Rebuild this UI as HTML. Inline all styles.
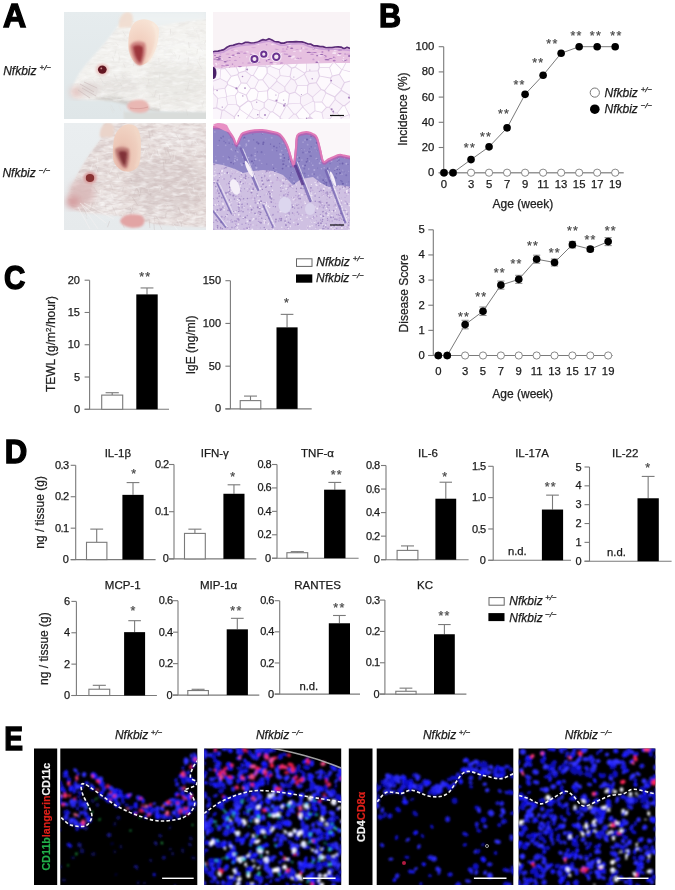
<!DOCTYPE html>
<html><head><meta charset="utf-8"><title>Figure</title>
<style>
html,body{margin:0;padding:0;background:#fff;}
body{width:675px;height:890px;overflow:hidden;position:relative;}
svg{position:absolute;left:0;top:0;display:block;}
svg text{font-family:"Liberation Sans",Arial,sans-serif;}
</style></head><body>
<svg class="c" width="675" height="890" viewBox="0 0 675 890">
<defs><linearGradient id="bg1" x1="0" y1="0" x2="0" y2="1"><stop offset="0" stop-color="#e6ecee"/><stop offset="1" stop-color="#dfe6e8"/></linearGradient><linearGradient id="bg2" x1="0" y1="0" x2="0" y2="1"><stop offset="0" stop-color="#eaeef0"/><stop offset="1" stop-color="#e6eaec"/></linearGradient><radialGradient id="ear1" cx="0.35" cy="0.7" r="0.8"><stop offset="0" stop-color="#e8aaa2"/><stop offset="0.35" stop-color="#f2d0c0"/><stop offset="1" stop-color="#f8e6d8"/></radialGradient><radialGradient id="ear2" cx="0.35" cy="0.7" r="0.8"><stop offset="0" stop-color="#dc9c96"/><stop offset="0.4" stop-color="#ecc6b6"/><stop offset="1" stop-color="#f2d8c8"/></radialGradient><filter id="bl1" x="-20%" y="-20%" width="140%" height="140%"><feGaussianBlur stdDeviation="0.8"/></filter><filter id="bl2" x="-30%" y="-30%" width="160%" height="160%"><feGaussianBlur stdDeviation="3"/></filter><filter id="bl05"><feGaussianBlur stdDeviation="0.5"/></filter><filter id="fur1" x="0" y="0" width="100%" height="100%"><feTurbulence type="fractalNoise" baseFrequency="0.09 0.3" numOctaves="3" seed="4"/><feColorMatrix type="matrix" values="0 0 0 0 0.62 0 0 0 0 0.58 0 0 0 0 0.56 2.6 0 0 0 -1.15"/><feGaussianBlur stdDeviation="0.5"/></filter><filter id="fur2" x="0" y="0" width="100%" height="100%"><feTurbulence type="fractalNoise" baseFrequency="0.1 0.28" numOctaves="3" seed="9"/><feColorMatrix type="matrix" values="0 0 0 0 0.58 0 0 0 0 0.47 0 0 0 0 0.47 2.8 0 0 0 -1.1"/><feGaussianBlur stdDeviation="0.5"/></filter><filter id="fur3" x="0" y="0" width="100%" height="100%"><feTurbulence type="fractalNoise" baseFrequency="0.12 0.3" numOctaves="2" seed="21"/><feColorMatrix type="matrix" values="0 0 0 0 1 0 0 0 0 1 0 0 0 0 1 2.6 0 0 0 -1.2"/><feGaussianBlur stdDeviation="0.4"/></filter><filter id="fb" x="-10%" y="-10%" width="120%" height="120%"><feGaussianBlur stdDeviation="0.8"/></filter></defs>
<text transform="translate(3.1,26.6) scale(0.96,1)" font-size="33.5" font-weight="bold" fill="#000" stroke="#000" stroke-width="1.4">A</text>
<text transform="translate(378.9,26.8) scale(0.91,1)" font-size="33.5" font-weight="bold" fill="#000" stroke="#000" stroke-width="1.4">B</text>
<text transform="translate(3.95,288.7) scale(0.88,1)" font-size="33.5" font-weight="bold" fill="#000" stroke="#000" stroke-width="1.4">C</text>
<text transform="translate(4.7,463.4) scale(0.93,1)" font-size="33.5" font-weight="bold" fill="#000" stroke="#000" stroke-width="1.4">D</text>
<clipPath id="cm1"><rect x="64" y="12" width="142" height="107"/></clipPath><g clip-path="url(#cm1)"><g transform="translate(64,12)"><rect x="0" y="0" width="142" height="107" fill="url(#bg1)"/><rect x="60" y="0" width="82" height="14" fill="#eef2f3" filter="url(#bl2)"/><path d="M7,81 C9,72 14,62 21,54 C28,45 38,35 48,22 C52,16 55,12 58,10 L66,8 C80,12 92,15 100,13 C115,10 130,8 144,7 L144,101 C130,101 110,100 96,99 C88,98 80,96 70,93 C60,90 48,88 36,88 C24,88 14,88 9,85 Z" fill="#f3f2ef" filter="url(#bl1)"/><ellipse cx="112" cy="70" rx="34" ry="24" fill="#e9e7e3" opacity="0.7" filter="url(#bl2)"/><ellipse cx="120" cy="40" rx="26" ry="14" fill="#f7f7f5" opacity="0.8" filter="url(#bl2)"/><path d="M30,86 C45,82 58,84 70,90 C76,92 84,95 96,97 L96,100 C80,98 66,94 52,90 C42,88 34,88 30,86 Z" fill="#c9c6c2" opacity="0.8" filter="url(#bl1)"/><ellipse cx="55" cy="74" rx="22" ry="9" fill="#e4e1de" opacity="0.8" filter="url(#bl2)"/><rect x="60" y="100" width="84" height="8" fill="#d9dcda" filter="url(#bl1)"/><clipPath id="bm1"><path d="M7,81 C9,72 14,62 21,54 C28,45 38,35 48,22 C52,16 55,12 58,10 L66,8 C80,12 92,15 100,13 C115,10 130,8 144,7 L144,101 C130,101 110,100 96,99 C88,98 80,96 70,93 C60,90 48,88 36,88 C24,88 14,88 9,85 Z"/></clipPath><g clip-path="url(#bm1)"><rect x="0" y="0" width="142" height="107" filter="url(#fur1)" opacity="0.22"/><rect x="0" y="0" width="142" height="107" filter="url(#fur3)" opacity="0.5"/></g><g stroke-width="0.8" opacity="0.3" stroke-linecap="round" filter="url(#bl05)"><line x1="92.2" y1="78.1" x2="90.2" y2="84.7" stroke="#cfcac6"/><line x1="96.1" y1="60.1" x2="95.2" y2="67.2" stroke="#d6d3cf"/><line x1="95.7" y1="91.6" x2="96.4" y2="95.1" stroke="#d6d3cf"/><line x1="60.3" y1="23.7" x2="60.0" y2="27.9" stroke="#dedbd7"/><line x1="46.9" y1="92.9" x2="50.3" y2="98.8" stroke="#d6d3cf"/><line x1="28.3" y1="67.5" x2="30.6" y2="70.3" stroke="#d6d3cf"/><line x1="139.7" y1="89.2" x2="138.3" y2="93.4" stroke="#cfcac6"/><line x1="125.6" y1="68.2" x2="124.4" y2="71.9" stroke="#d6d3cf"/><line x1="137.6" y1="91.0" x2="139.0" y2="95.2" stroke="#d6d3cf"/><line x1="133.5" y1="37.4" x2="132.8" y2="42.0" stroke="#cfcac6"/><line x1="54.6" y1="41.3" x2="56.0" y2="48.3" stroke="#dedbd7"/><line x1="34.4" y1="55.2" x2="36.0" y2="58.7" stroke="#d6d3cf"/><line x1="135.3" y1="45.4" x2="135.9" y2="50.4" stroke="#dedbd7"/><line x1="58.3" y1="64.2" x2="60.2" y2="66.6" stroke="#d6d3cf"/><line x1="92.3" y1="96.1" x2="93.9" y2="99.4" stroke="#dedbd7"/><line x1="55.5" y1="45.2" x2="54.8" y2="50.7" stroke="#d6d3cf"/><line x1="87.8" y1="81.4" x2="89.7" y2="85.9" stroke="#dedbd7"/><line x1="134.8" y1="22.8" x2="135.1" y2="27.4" stroke="#d6d3cf"/><line x1="54.9" y1="93.6" x2="57.0" y2="98.9" stroke="#dedbd7"/><line x1="50.4" y1="82.9" x2="50.1" y2="89.0" stroke="#dedbd7"/><line x1="141.6" y1="28.7" x2="140.5" y2="31.8" stroke="#cfcac6"/><line x1="131.9" y1="17.7" x2="134.1" y2="24.0" stroke="#dedbd7"/><line x1="70.1" y1="50.8" x2="69.3" y2="54.0" stroke="#d6d3cf"/><line x1="115.8" y1="43.4" x2="114.5" y2="47.2" stroke="#cfcac6"/><line x1="135.4" y1="68.6" x2="139.2" y2="74.4" stroke="#dedbd7"/><line x1="59.2" y1="20.0" x2="61.9" y2="24.3" stroke="#cfcac6"/><line x1="122.5" y1="98.0" x2="123.5" y2="103.1" stroke="#cfcac6"/><line x1="51.9" y1="38.3" x2="50.6" y2="43.5" stroke="#d6d3cf"/><line x1="59.8" y1="99.0" x2="60.1" y2="106.8" stroke="#dedbd7"/><line x1="124.5" y1="30.3" x2="125.4" y2="35.7" stroke="#cfcac6"/><line x1="124.5" y1="45.7" x2="123.7" y2="52.6" stroke="#cfcac6"/><line x1="87.5" y1="17.9" x2="88.1" y2="22.4" stroke="#cfcac6"/><line x1="47.1" y1="56.3" x2="46.9" y2="63.1" stroke="#dedbd7"/><line x1="136.3" y1="43.9" x2="135.6" y2="47.7" stroke="#dedbd7"/><line x1="82.2" y1="36.3" x2="83.5" y2="42.5" stroke="#cfcac6"/><line x1="95.5" y1="82.8" x2="95.6" y2="87.5" stroke="#cfcac6"/><line x1="133.8" y1="49.7" x2="137.5" y2="56.3" stroke="#cfcac6"/><line x1="69.4" y1="46.0" x2="71.8" y2="49.9" stroke="#d6d3cf"/><line x1="122.7" y1="39.0" x2="122.7" y2="42.4" stroke="#dedbd7"/><line x1="32.7" y1="81.3" x2="32.7" y2="87.2" stroke="#dedbd7"/><line x1="50.0" y1="62.0" x2="52.9" y2="68.7" stroke="#d6d3cf"/><line x1="35.8" y1="64.8" x2="38.8" y2="70.2" stroke="#cfcac6"/><line x1="33.8" y1="76.1" x2="31.3" y2="83.6" stroke="#d6d3cf"/><line x1="51.9" y1="30.4" x2="54.3" y2="33.6" stroke="#dedbd7"/><line x1="56.3" y1="71.3" x2="57.9" y2="74.3" stroke="#cfcac6"/><line x1="129.2" y1="15.1" x2="131.2" y2="19.7" stroke="#dedbd7"/><line x1="124.4" y1="73.6" x2="122.6" y2="79.0" stroke="#cfcac6"/><line x1="91.0" y1="23.1" x2="92.9" y2="28.5" stroke="#cfcac6"/><line x1="48.7" y1="44.9" x2="49.7" y2="48.4" stroke="#cfcac6"/><line x1="94.8" y1="46.4" x2="95.1" y2="50.1" stroke="#cfcac6"/><line x1="73.0" y1="31.9" x2="75.0" y2="34.9" stroke="#cfcac6"/><line x1="84.7" y1="67.3" x2="84.8" y2="71.0" stroke="#cfcac6"/><line x1="59.6" y1="51.7" x2="61.2" y2="55.5" stroke="#cfcac6"/><line x1="60.1" y1="96.7" x2="60.7" y2="104.2" stroke="#dedbd7"/><line x1="107.8" y1="40.6" x2="110.5" y2="43.9" stroke="#dedbd7"/><line x1="74.9" y1="39.3" x2="77.8" y2="43.9" stroke="#cfcac6"/><line x1="136.8" y1="35.9" x2="138.5" y2="38.6" stroke="#dedbd7"/><line x1="46.1" y1="94.5" x2="49.1" y2="100.7" stroke="#dedbd7"/><line x1="121.4" y1="76.3" x2="122.2" y2="80.7" stroke="#dedbd7"/><line x1="78.4" y1="88.4" x2="76.7" y2="95.6" stroke="#d6d3cf"/><line x1="110.4" y1="40.6" x2="112.3" y2="45.9" stroke="#dedbd7"/><line x1="106.5" y1="17.3" x2="106.5" y2="22.0" stroke="#cfcac6"/><line x1="83.0" y1="73.3" x2="82.9" y2="76.8" stroke="#d6d3cf"/></g><path d="M55,16 C54,8 57,1 63,0 C69,0 70,6 68,15 Z" fill="#f1dccf" opacity="0.9" filter="url(#bl1)"/><path d="M64.7,38 C64,30 64.5,22 66.4,17.8 C68.5,12 71,9 75.3,8 C80,6.5 85,7.5 88.7,9.8 C93,12.5 95.5,16 94.9,19.6 C94.5,26 93.5,31 92.2,35.6 C90,42 87,47 84.2,49.8 C81,52.5 78,53.5 75.3,53.3 C70,52 66,45 64.7,38 Z" fill="url(#ear1)" filter="url(#bl05)"/><path d="M88,11 C93,15 94,22 92.5,30 C91,38 88,45 84,50" fill="none" stroke="#f9ece0" stroke-width="2.4" opacity="0.9" filter="url(#bl1)"/><path d="M66,34 C68,29 75,28.5 81,31 C83,38 81,46 78,53 C74,54.5 71,51 69.5,47 C67.5,42 66,38 66,34 Z" fill="#d08884" filter="url(#bl1)"/><path d="M69,35 C71,32.5 76,32.5 79,35 C79.5,41 78,46 76.5,51 C74,50 72,46 70.5,42 Z" fill="#982f36" opacity="0.9" filter="url(#bl1)"/><ellipse cx="13" cy="80" rx="7" ry="5.5" fill="#e4c6c2" filter="url(#bl2)"/><ellipse cx="26" cy="77" rx="10" ry="7" fill="#ddd3d1" opacity="0.9" filter="url(#bl2)"/><path d="M16,72 L30,80 M18,76 L32,84 M20,70 L33,76 M14,78 L26,86" stroke="#c8b8b8" stroke-width="0.8" opacity="0.7"/><ellipse cx="38.3" cy="57.6" rx="6.6" ry="6" fill="#ecc9c6" filter="url(#bl1)"/><ellipse cx="38.3" cy="57.6" rx="4.4" ry="4.1" fill="#631620" filter="url(#bl05)"/><circle cx="37.3" cy="56.4" r="0.9" fill="#d09090"/><path d="M63,95 C63,89 71,87 79,88 C86,90 87,98 82,100 C75,102 66,101 63,95 Z" fill="#e9b7b3" filter="url(#bl1)"/><path d="M66,96 C72,97 78,97 84,95" stroke="#d49a98" stroke-width="0.8" fill="none"/></g></g>
<clipPath id="cm2"><rect x="64" y="123" width="142" height="107"/></clipPath><g clip-path="url(#cm2)"><g transform="translate(64,123)"><rect x="0" y="0" width="142" height="107" fill="url(#bg2)"/><path d="M4,76 C6,66 12,52 20,40 C26,30 32,22 37,16 L40,0 L144,0 L144,104 C130,104 112,103 98,102 C88,101 78,98 66,95 C52,92 36,91 22,90 C12,89 5,84 4,76 Z" fill="#e8dfdd" filter="url(#bl1)"/><ellipse cx="104" cy="62" rx="38" ry="30" fill="#d9cdcc" opacity="0.7" filter="url(#bl2)"/><ellipse cx="118" cy="16" rx="28" ry="14" fill="#eee8e7" opacity="0.8" filter="url(#bl2)"/><ellipse cx="44" cy="80" rx="12" ry="10" fill="#f3efee" opacity="0.85" filter="url(#bl2)"/><ellipse cx="90" cy="90" rx="30" ry="8" fill="#e9e2e1" opacity="0.7" filter="url(#bl2)"/><clipPath id="bm2"><path d="M4,76 C6,66 12,52 20,40 C26,30 32,22 37,16 L40,0 L144,0 L144,104 C130,104 112,103 98,102 C88,101 78,98 66,95 C52,92 36,91 22,90 C12,89 5,84 4,76 Z"/></clipPath><g clip-path="url(#bm2)"><rect x="0" y="0" width="142" height="107" filter="url(#fur2)" opacity="0.5"/><rect x="0" y="0" width="142" height="107" filter="url(#fur3)" opacity="0.6"/></g><g stroke-width="0.9" opacity="0.35" stroke-linecap="round" filter="url(#bl05)"><line x1="114.3" y1="84.2" x2="116.3" y2="89.8" stroke="#bfb1b0"/><line x1="27.5" y1="60.6" x2="26.1" y2="69.3" stroke="#cbbdbc"/><line x1="111.2" y1="29.3" x2="110.0" y2="37.0" stroke="#ffffff"/><line x1="130.0" y1="55.9" x2="130.1" y2="59.5" stroke="#cbbdbc"/><line x1="96.8" y1="63.0" x2="97.4" y2="66.5" stroke="#bfb1b0"/><line x1="56.5" y1="43.0" x2="56.0" y2="47.5" stroke="#f4efee"/><line x1="101.9" y1="81.6" x2="103.8" y2="84.7" stroke="#f4efee"/><line x1="118.9" y1="93.3" x2="117.4" y2="99.0" stroke="#f4efee"/><line x1="77.0" y1="66.5" x2="75.3" y2="73.5" stroke="#bfb1b0"/><line x1="92.9" y1="26.5" x2="94.2" y2="31.9" stroke="#bfb1b0"/><line x1="20.0" y1="90.0" x2="22.9" y2="95.4" stroke="#cbbdbc"/><line x1="49.8" y1="21.6" x2="52.5" y2="26.9" stroke="#f4efee"/><line x1="119.8" y1="89.6" x2="122.2" y2="95.2" stroke="#f4efee"/><line x1="129.2" y1="64.0" x2="130.2" y2="68.8" stroke="#ffffff"/><line x1="46.7" y1="69.9" x2="49.1" y2="75.3" stroke="#ffffff"/><line x1="116.0" y1="10.9" x2="114.0" y2="17.2" stroke="#ffffff"/><line x1="67.9" y1="85.1" x2="68.5" y2="92.9" stroke="#ffffff"/><line x1="48.7" y1="83.7" x2="52.1" y2="91.6" stroke="#cbbdbc"/><line x1="68.5" y1="74.3" x2="73.4" y2="81.6" stroke="#bfb1b0"/><line x1="41.7" y1="82.2" x2="42.0" y2="86.3" stroke="#cbbdbc"/><line x1="132.3" y1="27.5" x2="130.6" y2="32.7" stroke="#ffffff"/><line x1="43.9" y1="49.5" x2="46.5" y2="54.7" stroke="#ffffff"/><line x1="74.6" y1="65.4" x2="75.9" y2="71.1" stroke="#f4efee"/><line x1="138.1" y1="94.3" x2="138.0" y2="99.6" stroke="#cbbdbc"/><line x1="94.6" y1="99.5" x2="97.8" y2="106.2" stroke="#cbbdbc"/><line x1="83.0" y1="64.4" x2="86.6" y2="72.4" stroke="#bfb1b0"/><line x1="99.4" y1="39.1" x2="100.2" y2="48.0" stroke="#bfb1b0"/><line x1="131.2" y1="17.4" x2="133.8" y2="21.3" stroke="#ffffff"/><line x1="57.7" y1="98.2" x2="60.2" y2="104.8" stroke="#cbbdbc"/><line x1="27.3" y1="64.8" x2="29.1" y2="67.9" stroke="#ffffff"/><line x1="70.0" y1="92.0" x2="69.2" y2="98.7" stroke="#f4efee"/><line x1="90.6" y1="94.4" x2="90.4" y2="98.4" stroke="#cbbdbc"/><line x1="129.6" y1="91.3" x2="129.0" y2="97.0" stroke="#f4efee"/><line x1="117.6" y1="20.9" x2="118.6" y2="29.4" stroke="#ffffff"/><line x1="67.9" y1="29.6" x2="71.7" y2="35.9" stroke="#cbbdbc"/><line x1="139.1" y1="30.6" x2="143.4" y2="38.1" stroke="#cbbdbc"/><line x1="45.5" y1="98.6" x2="43.6" y2="103.9" stroke="#bfb1b0"/><line x1="103.6" y1="27.0" x2="106.0" y2="33.2" stroke="#bfb1b0"/><line x1="107.0" y1="35.6" x2="105.8" y2="38.6" stroke="#f4efee"/><line x1="101.9" y1="36.3" x2="101.4" y2="39.8" stroke="#bfb1b0"/><line x1="61.6" y1="15.6" x2="61.1" y2="23.0" stroke="#f4efee"/><line x1="17.9" y1="54.0" x2="18.1" y2="57.2" stroke="#f4efee"/><line x1="32.6" y1="75.9" x2="31.0" y2="81.7" stroke="#f4efee"/><line x1="134.6" y1="71.6" x2="138.0" y2="78.0" stroke="#f4efee"/><line x1="109.5" y1="101.3" x2="113.1" y2="106.6" stroke="#ffffff"/><line x1="33.2" y1="34.5" x2="34.0" y2="39.8" stroke="#ffffff"/><line x1="121.2" y1="55.1" x2="124.9" y2="62.3" stroke="#f4efee"/><line x1="94.4" y1="82.5" x2="94.0" y2="87.7" stroke="#f4efee"/><line x1="30.0" y1="64.5" x2="32.8" y2="69.1" stroke="#bfb1b0"/><line x1="71.3" y1="7.9" x2="71.6" y2="14.8" stroke="#cbbdbc"/><line x1="87.8" y1="8.0" x2="88.6" y2="12.3" stroke="#cbbdbc"/><line x1="84.8" y1="7.9" x2="86.1" y2="16.1" stroke="#bfb1b0"/><line x1="102.1" y1="19.8" x2="105.9" y2="25.7" stroke="#ffffff"/><line x1="95.2" y1="30.7" x2="97.4" y2="35.9" stroke="#f4efee"/><line x1="45.2" y1="3.3" x2="44.3" y2="9.4" stroke="#cbbdbc"/><line x1="112.1" y1="11.4" x2="115.7" y2="16.9" stroke="#cbbdbc"/><line x1="100.6" y1="24.6" x2="102.4" y2="32.0" stroke="#cbbdbc"/><line x1="66.4" y1="85.2" x2="67.9" y2="88.2" stroke="#bfb1b0"/><line x1="53.1" y1="50.5" x2="54.9" y2="56.0" stroke="#cbbdbc"/><line x1="81.1" y1="26.3" x2="78.3" y2="32.7" stroke="#ffffff"/><line x1="83.5" y1="64.7" x2="85.4" y2="70.3" stroke="#f4efee"/><line x1="48.1" y1="5.3" x2="51.7" y2="11.9" stroke="#f4efee"/><line x1="85.2" y1="96.8" x2="85.8" y2="104.6" stroke="#bfb1b0"/><line x1="28.4" y1="41.3" x2="26.6" y2="47.0" stroke="#ffffff"/><line x1="36.9" y1="66.4" x2="35.8" y2="71.7" stroke="#ffffff"/><line x1="124.5" y1="87.5" x2="126.3" y2="92.2" stroke="#f4efee"/><line x1="46.3" y1="60.8" x2="48.9" y2="67.4" stroke="#cbbdbc"/><line x1="31.7" y1="42.8" x2="34.1" y2="49.0" stroke="#bfb1b0"/><line x1="34.0" y1="43.2" x2="31.5" y2="50.3" stroke="#f4efee"/><line x1="77.7" y1="97.4" x2="76.4" y2="103.4" stroke="#ffffff"/><line x1="131.4" y1="90.3" x2="130.8" y2="95.2" stroke="#ffffff"/><line x1="124.2" y1="66.9" x2="128.2" y2="73.6" stroke="#f4efee"/><line x1="89.9" y1="100.9" x2="90.6" y2="108.8" stroke="#bfb1b0"/><line x1="19.6" y1="85.3" x2="22.4" y2="92.3" stroke="#cbbdbc"/><line x1="29.2" y1="74.8" x2="32.7" y2="82.5" stroke="#f4efee"/><line x1="72.2" y1="94.8" x2="71.2" y2="101.4" stroke="#f4efee"/><line x1="69.0" y1="82.4" x2="68.0" y2="88.7" stroke="#cbbdbc"/><line x1="91.9" y1="93.2" x2="94.5" y2="97.0" stroke="#bfb1b0"/><line x1="72.3" y1="65.1" x2="75.0" y2="69.1" stroke="#bfb1b0"/><line x1="59.5" y1="64.4" x2="58.5" y2="67.9" stroke="#cbbdbc"/><line x1="27.0" y1="77.6" x2="26.1" y2="82.7" stroke="#ffffff"/><line x1="113.5" y1="96.6" x2="117.2" y2="104.1" stroke="#ffffff"/><line x1="58.1" y1="91.3" x2="62.0" y2="99.0" stroke="#ffffff"/><line x1="43.5" y1="49.8" x2="45.7" y2="54.8" stroke="#f4efee"/><line x1="66.7" y1="27.5" x2="68.2" y2="33.6" stroke="#cbbdbc"/><line x1="68.7" y1="100.1" x2="72.6" y2="106.3" stroke="#f4efee"/><line x1="96.6" y1="64.2" x2="95.7" y2="67.1" stroke="#ffffff"/><line x1="82.6" y1="27.5" x2="84.8" y2="35.2" stroke="#f4efee"/><line x1="84.5" y1="21.1" x2="86.0" y2="25.5" stroke="#cbbdbc"/><line x1="102.1" y1="90.2" x2="101.5" y2="94.5" stroke="#bfb1b0"/><line x1="20.1" y1="89.5" x2="22.2" y2="94.2" stroke="#f4efee"/><line x1="72.0" y1="65.9" x2="70.1" y2="71.5" stroke="#cbbdbc"/><line x1="24.5" y1="75.3" x2="29.1" y2="82.9" stroke="#f4efee"/><line x1="89.6" y1="28.9" x2="86.9" y2="35.2" stroke="#ffffff"/><line x1="96.8" y1="52.4" x2="97.2" y2="58.5" stroke="#cbbdbc"/><line x1="48.3" y1="44.6" x2="46.1" y2="49.4" stroke="#ffffff"/><line x1="128.1" y1="18.2" x2="127.8" y2="22.9" stroke="#cbbdbc"/><line x1="117.5" y1="100.2" x2="117.2" y2="103.5" stroke="#bfb1b0"/><line x1="66.8" y1="55.4" x2="68.1" y2="59.2" stroke="#bfb1b0"/><line x1="16.5" y1="73.5" x2="17.4" y2="78.5" stroke="#bfb1b0"/><line x1="107.3" y1="30.3" x2="106.4" y2="36.2" stroke="#cbbdbc"/><line x1="40.2" y1="3.5" x2="40.5" y2="6.8" stroke="#ffffff"/><line x1="28.6" y1="80.4" x2="26.6" y2="86.9" stroke="#bfb1b0"/></g><path d="M36,14 C35,6 39,0 45,0 C51,1 51,8 49,14 Z" fill="#ead4ca" filter="url(#bl1)"/><path d="M49.3,37 C48.5,30 49,20 50.2,14.8 C52,8 57,2.5 62.7,1.4 C67,0.8 71,2 73.3,5 C76,9 77.2,16 76.9,23.7 C76.8,30 76.3,36 75.1,41.4 C73,46 68,49 62.7,48.6 C56,48 51,43 49.3,37 Z" fill="url(#ear2)" filter="url(#bl05)"/><path d="M71,6 C75,12 76,22 75.5,30 C75,36 74,40 72,44" fill="none" stroke="#f2d8c8" stroke-width="2.2" opacity="0.8" filter="url(#bl1)"/><path d="M51,26 C54,23.5 61,23.5 65,26 C66,32 65,38 63,45 C60,46.5 57.5,43 55.5,39 C53,35 51,31 51,26 Z" fill="#bc7a76" filter="url(#bl1)"/><path d="M54.5,29 C57,27.5 61,27.5 63,29.5 C63,34 62,38.5 61,43 C59,42 57.5,38.5 56,35 Z" fill="#7a2c30" opacity="0.9" filter="url(#bl1)"/><ellipse cx="18" cy="70" rx="13" ry="13" fill="#d9b8b8" opacity="0.85" filter="url(#bl2)"/><ellipse cx="9" cy="79" rx="7" ry="6" fill="#d49c9e" filter="url(#bl2)"/><ellipse cx="26" cy="55" rx="6.8" ry="6.2" fill="#d8a2a2" filter="url(#bl1)"/><ellipse cx="26" cy="55" rx="4.2" ry="4" fill="#883032" filter="url(#bl05)"/><path d="M56,98 C58,92 66,90 76,92 C82,94 82,102 76,104 C68,106 58,104 56,98 Z" fill="#e2a4a4" filter="url(#bl1)"/><path d="M16,80 L42,100 M18,82 L34,106 M20,80 L50,96 M14,84 L26,106" stroke="#f6f2f2" stroke-width="0.6" opacity="0.9"/></g></g>
<clipPath id="ch1"><rect x="213" y="12" width="137" height="107"/></clipPath><g clip-path="url(#ch1)"><g transform="translate(213,12)"><rect x="0" y="0" width="137" height="107" fill="#f9f3f6"/><rect x="0" y="40" width="137" height="67" fill="#e2d0e8"/><g filter="url(#bl05)"><path d="M55.0,79.2 L56.5,76.9 L57.4,76.6 L65.6,81.6 L63.7,89.3 L55.4,86.8Z" fill="#fefcfe"/><path d="M128.9,76.9 L131.9,71.1 L138.5,69.2 L142.0,74.9 L136.8,82.8 L129.0,78.0Z" fill="#fbf6fc"/><path d="M73.6,92.7 L73.2,92.8 L64.5,89.7 L64.4,89.5 L66.3,81.8 L72.0,79.2 L75.9,82.1 L74.6,91.5Z" fill="#fefcfe"/><path d="M14.8,72.9 L23.7,76.9 L24.4,79.8 L21.9,82.9 L14.0,84.0 L12.4,76.5Z" fill="#fefcfe"/><path d="M89.7,95.4 L96.3,102.8 L96.1,104.2 L93.0,106.9 L86.3,106.4 L83.5,102.2Z" fill="#fefcfe"/><path d="M-0.9,69.1 L-1.8,68.4 L-4.4,60.3 L-4.1,59.6 L6.7,56.9 L7.4,57.3 L6.8,66.2Z" fill="#fbf6fc"/><path d="M-0.9,97.3 L-4.2,101.4 L-3.8,107.6 L0.6,110.6 L6.6,109.9 L8.5,98.8 L3.6,96.4Z" fill="#fbf6fc"/><path d="M90.0,93.9 L99.8,88.9 L99.0,85.3 L94.4,81.8 L88.1,84.7 L87.8,90.9Z" fill="#f9f2fa"/><path d="M18.2,63.8 L12.6,56.6 L15.5,53.5 L22.2,53.9 L25.2,60.7 L24.3,62.2Z" fill="#fbf6fc"/><path d="M57.5,100.5 L53.2,108.4 L54.0,110.9 L56.5,112.2 L65.4,109.2 L66.7,106.8 L66.3,105.3 L59.6,100.3Z" fill="#fefcfe"/><path d="M66.0,57.9 L66.7,63.4 L63.7,66.7 L54.8,61.0 L54.6,55.8 L57.2,54.8Z" fill="#fbf6fc"/><path d="M129.3,93.8 L122.2,88.1 L116.9,95.3 L120.9,100.5 L124.1,100.6Z" fill="#f9f2fa"/><path d="M44.8,54.5 L39.6,49.8 L35.1,51.2 L32.8,58.8 L38.3,63.0 L40.1,62.9Z" fill="#fbf6fc"/><path d="M111.5,78.0 L108.4,76.9 L103.9,70.7 L107.0,64.6 L117.0,66.4 L117.4,70.5Z" fill="#fdf9fd"/><path d="M127.9,76.4 L130.9,70.6 L126.2,63.1 L119.6,64.5 L118.1,66.4 L118.4,70.4Z" fill="#f9f2fa"/><path d="M137.1,103.3 L145.5,99.9 L161.8,103.7 L139.7,112.8 L139.0,112.3Z" fill="#fefcfe"/><path d="M-5.3,89.6 L-1.1,96.1 L3.3,95.3 L4.4,86.5 L0.0,81.7Z" fill="#f9f2fa"/><path d="M107.1,63.7 L117.2,65.6 L118.8,63.8 L116.3,56.0 L106.9,55.8 L105.7,58.9Z" fill="#fdf9fd"/><path d="M78.1,67.2 L81.4,68.8 L83.8,73.6 L81.6,79.7 L76.6,81.2 L72.6,78.3 L72.2,75.0Z" fill="#f9f2fa"/><path d="M23.4,93.1 L15.0,93.0 L11.4,97.8 L21.1,104.2 L26.1,97.2 L26.0,95.2Z" fill="#fbf6fc"/><path d="M4.1,95.3 L9.0,97.7 L10.7,97.3 L14.3,92.4 L12.8,85.6 L5.2,86.6Z" fill="#fbf6fc"/><path d="M13.7,70.5 L7.1,67.0 L-0.6,69.9 L1.2,77.2 L11.5,75.9 L13.9,72.3Z" fill="#f9f2fa"/><path d="M41.4,107.4 L41.1,113.2 L34.3,114.9 L31.1,111.1 L35.8,103.9 L35.8,103.9Z" fill="#fbf6fc"/><path d="M14.9,70.3 L18.5,64.8 L24.5,63.2 L27.6,70.9 L24.1,76.1 L15.1,72.2Z" fill="#fefcfe"/><path d="M34.5,88.6 L26.7,94.3 L24.1,92.3 L22.7,83.5 L25.1,80.3 L32.8,83.5Z" fill="#fefcfe"/><path d="M45.4,79.3 L42.2,76.1 L45.9,68.6 L49.5,68.3 L55.5,76.2 L53.9,78.5Z" fill="#fdf9fd"/><path d="M80.8,102.4 L74.9,108.2 L81.1,117.2 L85.5,106.9 L82.7,102.7Z" fill="#f9f2fa"/><path d="M30.0,48.2 L25.0,49.3 L23.0,53.6 L26.0,60.3 L31.9,58.6 L34.2,51.0Z" fill="#fefcfe"/><path d="M12.0,113.7 L17.1,138.7 L25.0,111.0 L21.3,107.6Z" fill="#fdf9fd"/><path d="M129.9,93.1 L122.8,87.4 L122.5,85.1 L128.4,78.9 L136.3,83.7 L137.8,87.0 L137.5,88.2 L131.6,93.1Z" fill="#f9f2fa"/><path d="M56.7,53.6 L54.2,54.7 L52.6,53.7 L51.4,43.8 L57.8,41.2 L61.7,46.6Z" fill="#fbf6fc"/><path d="M30.5,110.7 L25.7,110.2 L22.1,106.8 L22.0,104.8 L26.9,97.8 L35.2,103.5Z" fill="#fefcfe"/><path d="M91.0,61.2 L82.4,55.7 L79.1,56.7 L77.6,64.4 L78.6,66.2 L81.9,67.8 L90.9,62.1Z" fill="#fbf6fc"/><path d="M138.5,59.7 L141.3,51.9 L134.7,48.3 L129.7,57.4Z" fill="#fdf9fd"/><path d="M73.0,50.7 L79.5,42.8 L86.5,47.3 L82.1,54.6 L78.8,55.6 L73.1,51.1Z" fill="#fdf9fd"/><path d="M42.1,107.5 L41.8,113.2 L45.7,116.3 L53.0,111.2 L52.2,108.7 L46.5,105.2Z" fill="#f9f2fa"/><path d="M60.1,99.6 L66.9,104.5 L72.8,93.7 L64.2,90.7Z" fill="#fdf9fd"/><path d="M108.7,90.4 L102.1,90.6 L102.4,98.4 L108.7,100.1 L112.9,95.3Z" fill="#fefcfe"/><path d="M117.2,107.3 L110.8,108.0 L110.6,108.3 L113.8,121.6 L121.1,112.5Z" fill="#fbf6fc"/><path d="M43.8,88.0 L50.7,90.9 L50.7,95.2 L46.6,98.4 L40.5,96.4 L38.3,90.1Z" fill="#fbf6fc"/><path d="M135.9,103.2 L136.4,103.4 L138.3,112.4 L129.2,113.7 L127.6,112.0 L128.6,106.0Z" fill="#fbf6fc"/><path d="M91.2,62.7 L82.2,68.4 L84.6,73.2 L94.2,73.0 L95.5,71.4Z" fill="#fbf6fc"/><path d="M75.5,91.6 L76.9,82.2 L82.0,80.8 L87.2,84.7 L86.9,90.9Z" fill="#fbf6fc"/><path d="M112.4,81.3 L111.1,79.2 L108.0,78.1 L100.1,85.0 L100.8,88.7 L102.1,89.8 L108.7,89.6Z" fill="#fbf6fc"/><path d="M107.5,77.6 L103.1,71.3 L96.4,72.2 L95.2,73.8 L95.0,81.1 L99.6,84.5Z" fill="#f9f2fa"/><path d="M127.8,105.8 L126.7,111.9 L121.7,112.1 L117.7,106.9 L120.9,101.4 L124.1,101.5Z" fill="#fdf9fd"/><path d="M94.1,81.1 L87.8,83.9 L82.5,80.0 L84.7,73.9 L94.2,73.8Z" fill="#fdf9fd"/><path d="M125.9,62.1 L119.4,63.6 L117.0,55.8 L120.7,50.6 L121.0,50.5 L128.3,57.7Z" fill="#fefcfe"/><path d="M104.5,58.5 L105.7,55.4 L104.8,50.1 L103.1,48.8 L94.0,47.7 L93.9,58.9Z" fill="#f9f2fa"/><path d="M71.7,51.0 L67.1,46.9 L62.4,47.1 L57.4,54.1 L66.2,57.3 L71.9,51.4Z" fill="#fefcfe"/><path d="M28.4,70.6 L33.5,70.8 L37.8,63.7 L32.2,59.6 L26.3,61.3 L25.3,62.8Z" fill="#f9f2fa"/><path d="M47.1,99.1 L46.9,104.5 L52.6,108.1 L56.9,100.1 L51.2,95.9Z" fill="#fbf6fc"/><path d="M132.2,93.9 L138.2,88.9 L145.1,99.1 L136.8,102.5 L136.3,102.3Z" fill="#fdf9fd"/><path d="M44.1,87.2 L45.5,80.0 L54.0,79.3 L54.5,86.9 L51.0,90.2Z" fill="#fefcfe"/><path d="M97.5,103.0 L97.3,104.3 L103.3,109.5 L109.7,107.7 L109.9,107.3 L108.5,100.8 L102.2,99.2Z" fill="#fdf9fd"/><path d="M80.3,101.9 L74.4,107.7 L68.0,106.5 L67.6,104.9 L73.6,94.1 L74.0,94.0Z" fill="#fbf6fc"/><path d="M40.3,97.1 L36.2,103.3 L41.8,106.8 L46.2,104.5 L46.4,99.0Z" fill="#fbf6fc"/><path d="M14.1,45.6 L10.1,44.6 L5.3,48.8 L7.3,55.9 L8.0,56.3 L11.9,56.0 L14.9,52.9Z" fill="#fdf9fd"/><path d="M37.5,90.4 L35.1,89.4 L27.3,95.2 L27.3,97.2 L35.6,102.9 L35.6,102.9 L39.7,96.7Z" fill="#fefcfe"/><path d="M37.2,76.6 L33.5,71.7 L28.3,71.4 L24.8,76.6 L25.5,79.5 L33.1,82.6Z" fill="#fefcfe"/><path d="M22.0,83.6 L14.1,84.6 L13.6,85.4 L15.0,92.2 L23.4,92.4Z" fill="#fbf6fc"/><path d="M92.2,61.4 L93.9,59.7 L104.6,59.3 L105.9,64.1 L102.9,70.2 L96.3,71.0 L92.0,62.3Z" fill="#f9f2fa"/><path d="M140.3,64.3 L138.2,68.2 L131.6,70.1 L126.9,62.6 L129.2,58.2 L129.5,58.1 L138.3,60.4Z" fill="#fefcfe"/><path d="M53.7,61.0 L49.4,67.2 L45.8,67.5 L40.8,63.3 L45.5,54.9 L51.9,54.9 L53.4,55.9Z" fill="#fefcfe"/><path d="M116.1,94.8 L113.5,94.8 L109.3,89.8 L113.1,81.6 L121.2,85.2 L121.5,87.6Z" fill="#fdf9fd"/><path d="M43.4,87.1 L44.9,79.9 L41.6,76.7 L37.9,77.1 L33.9,83.1 L35.5,88.3 L37.9,89.2Z" fill="#fefcfe"/><path d="M63.3,67.3 L63.2,69.0 L57.1,75.4 L56.2,75.7 L50.2,67.8 L54.5,61.5Z" fill="#fbf6fc"/><path d="M51.9,53.8 L50.7,43.9 L47.4,42.0 L41.4,45.4 L40.3,49.0 L45.5,53.8Z" fill="#fdf9fd"/><path d="M41.5,75.7 L45.2,68.2 L40.2,64.0 L38.4,64.1 L34.1,71.2 L37.8,76.1Z" fill="#fbf6fc"/><path d="M113.5,80.6 L112.2,78.5 L118.0,71.0 L127.5,77.0 L127.6,78.1 L121.7,84.3Z" fill="#fdf9fd"/><path d="M63.9,69.7 L57.8,76.1 L66.0,81.0 L71.6,78.4 L71.2,75.1Z" fill="#f9f2fa"/><path d="M7.5,110.1 L9.4,98.9 L11.0,98.5 L20.7,104.9 L20.8,106.8 L11.5,112.9Z" fill="#f9f2fa"/><path d="M90.3,94.9 L96.9,102.3 L101.6,98.5 L101.3,90.6 L100.1,89.5 L90.3,94.5Z" fill="#fbf6fc"/><path d="M91.4,60.6 L82.8,55.1 L87.2,47.7 L91.9,46.5 L93.3,47.7 L93.2,58.9Z" fill="#fdf9fd"/><path d="M72.4,52.0 L78.1,56.5 L76.6,64.2 L67.5,63.3 L66.8,57.8Z" fill="#fbf6fc"/><path d="M0.7,81.1 L5.1,86.0 L12.7,84.9 L13.2,84.1 L11.6,76.7 L1.3,77.9 L0.5,80.1Z" fill="#fdf9fd"/><path d="M106.9,55.1 L106.0,49.9 L113.1,46.1 L120.1,50.1 L116.3,55.3Z" fill="#fefcfe"/><path d="M116.2,95.8 L113.6,95.9 L109.3,100.7 L110.7,107.2 L117.1,106.5 L120.2,101.0Z" fill="#f9f2fa"/><path d="M14.0,69.8 L17.7,64.2 L12.0,57.1 L8.1,57.4 L7.4,66.3Z" fill="#fdf9fd"/><path d="M6.5,56.1 L-4.3,58.8 L-5.7,50.5 L-0.6,47.2 L4.5,49.0Z" fill="#f9f2fa"/><path d="M64.4,67.3 L64.3,69.1 L71.6,74.6 L77.5,66.8 L76.6,64.9 L67.4,64.0Z" fill="#fbf6fc"/><path d="M51.7,90.9 L55.2,87.6 L63.4,90.2 L63.6,90.4 L59.5,99.3 L57.4,99.5 L51.7,95.2Z" fill="#fbf6fc"/><path d="M129.1,57.1 L134.1,48.0 L133.4,46.4 L124.4,46.2 L121.6,50.0 L128.8,57.2Z" fill="#fefcfe"/><path d="M89.1,94.9 L82.9,101.7 L80.9,101.4 L74.6,93.5 L75.6,92.3 L87.0,91.5 L89.1,94.5Z" fill="#fbf6fc"/><path d="M129.9,94.2 L124.7,101.0 L128.4,105.3 L135.7,102.6 L131.6,94.2Z" fill="#fefcfe"/><path d="M19.3,43.0 L24.3,49.0 L22.3,53.2 L15.5,52.9 L14.8,45.6Z" fill="#fdf9fd"/></g><circle cx="9.3" cy="95.1" r="0.7" fill="#8a5aa8" opacity="0.7"/><circle cx="70.7" cy="88.1" r="0.6" fill="#8a5aa8" opacity="0.7"/><circle cx="43.7" cy="90.2" r="0.6" fill="#8a5aa8" opacity="0.7"/><circle cx="44.8" cy="102.8" r="0.8" fill="#8a5aa8" opacity="0.7"/><circle cx="99.2" cy="66.8" r="0.7" fill="#8a5aa8" opacity="0.7"/><circle cx="62.9" cy="83.0" r="0.6" fill="#8a5aa8" opacity="0.7"/><circle cx="29.8" cy="83.9" r="0.7" fill="#8a5aa8" opacity="0.7"/><circle cx="120.3" cy="99.5" r="0.9" fill="#8a5aa8" opacity="0.7"/><circle cx="32.0" cy="76.1" r="0.9" fill="#8a5aa8" opacity="0.7"/><circle cx="88.4" cy="82.4" r="0.5" fill="#8a5aa8" opacity="0.7"/><circle cx="80.9" cy="65.0" r="0.5" fill="#8a5aa8" opacity="0.7"/><circle cx="23.4" cy="76.3" r="1.1" fill="#8a5aa8" opacity="0.7"/><circle cx="136.0" cy="85.6" r="1.1" fill="#8a5aa8" opacity="0.7"/><circle cx="118.7" cy="97.3" r="1.0" fill="#8a5aa8" opacity="0.7"/><circle cx="71.1" cy="93.7" r="1.1" fill="#8a5aa8" opacity="0.7"/><circle cx="29.5" cy="64.5" r="0.8" fill="#8a5aa8" opacity="0.7"/><circle cx="63.4" cy="88.4" r="1.0" fill="#8a5aa8" opacity="0.7"/><circle cx="96.9" cy="58.0" r="0.5" fill="#8a5aa8" opacity="0.7"/><circle cx="4.1" cy="78.5" r="0.7" fill="#8a5aa8" opacity="0.7"/><circle cx="72.1" cy="91.7" r="0.7" fill="#8a5aa8" opacity="0.7"/><circle cx="52.0" cy="103.1" r="1.0" fill="#8a5aa8" opacity="0.7"/><circle cx="118.2" cy="68.6" r="0.9" fill="#8a5aa8" opacity="0.7"/><circle cx="25.3" cy="103.8" r="0.7" fill="#8a5aa8" opacity="0.7"/><circle cx="34.1" cy="57.6" r="1.0" fill="#8a5aa8" opacity="0.7"/><circle cx="93.5" cy="106.2" r="0.7" fill="#8a5aa8" opacity="0.7"/><path d="M-2,39.5 L5,39 L10.4,38 L18,34 L25.9,31.9 L33,31 L41.5,30.3 L48,28.5 L56,27.2 L63,29.5 L70,31.3 L78,30 L88.6,29.8 L96,32.5 L103.9,34.1 L112,35.3 L121.3,35.2 L130,35.8 L139,36.5 L139,51 L120,51 L100,51.5 L80,52 L60,53 L40,54 L20,55.5 L-2,56 Z" fill="#e6c0e0" filter="url(#bl05)"/><ellipse cx="78.8" cy="44.2" rx="1.5" ry="0.7" fill="#d8a8d8"/><ellipse cx="3.0" cy="53.2" rx="1.0" ry="0.4" fill="#f4dcf0"/><ellipse cx="10.0" cy="53.8" rx="2.1" ry="0.5" fill="#b27ac0"/><ellipse cx="14.5" cy="48.8" rx="1.4" ry="0.6" fill="#c99ad0"/><ellipse cx="103.7" cy="37.6" rx="1.3" ry="0.4" fill="#f4dcf0"/><ellipse cx="101.5" cy="40.4" rx="2.3" ry="0.5" fill="#b27ac0"/><ellipse cx="126.2" cy="37.8" rx="0.8" ry="0.5" fill="#b27ac0"/><ellipse cx="58.2" cy="51.0" rx="2.0" ry="0.5" fill="#c99ad0"/><ellipse cx="20.3" cy="38.4" rx="2.4" ry="0.8" fill="#d8a8d8"/><ellipse cx="34.3" cy="39.9" rx="1.5" ry="0.6" fill="#f6e4f3"/><ellipse cx="61.5" cy="52.0" rx="1.9" ry="0.8" fill="#f6e4f3"/><ellipse cx="104.1" cy="43.7" rx="1.0" ry="0.6" fill="#9a68b0"/><ellipse cx="132.1" cy="42.1" rx="1.1" ry="0.8" fill="#c99ad0"/><ellipse cx="119.5" cy="50.9" rx="2.2" ry="0.4" fill="#f6e4f3"/><ellipse cx="16.6" cy="54.8" rx="0.8" ry="0.8" fill="#b27ac0"/><ellipse cx="71.6" cy="42.0" rx="1.0" ry="0.8" fill="#c99ad0"/><ellipse cx="22.1" cy="43.6" rx="1.5" ry="0.7" fill="#9a68b0"/><ellipse cx="12.6" cy="39.2" rx="0.7" ry="0.6" fill="#f6e4f3"/><ellipse cx="112.2" cy="45.7" rx="1.6" ry="0.5" fill="#d8a8d8"/><ellipse cx="79.7" cy="45.3" rx="2.2" ry="0.7" fill="#f4dcf0"/><ellipse cx="116.4" cy="46.8" rx="1.0" ry="0.8" fill="#f6e4f3"/><ellipse cx="109.4" cy="40.0" rx="1.1" ry="0.8" fill="#b27ac0"/><ellipse cx="76.6" cy="44.2" rx="1.7" ry="0.8" fill="#9a68b0"/><ellipse cx="1.8" cy="47.1" rx="1.5" ry="0.6" fill="#b27ac0"/><ellipse cx="133.6" cy="48.0" rx="0.8" ry="0.9" fill="#c99ad0"/><ellipse cx="52.9" cy="39.8" rx="2.3" ry="0.4" fill="#b27ac0"/><ellipse cx="80.5" cy="44.3" rx="1.9" ry="0.8" fill="#f6e4f3"/><ellipse cx="60.5" cy="46.1" rx="1.0" ry="0.6" fill="#f4dcf0"/><ellipse cx="78.9" cy="45.9" rx="0.9" ry="0.6" fill="#f6e4f3"/><ellipse cx="90.4" cy="36.1" rx="1.1" ry="0.7" fill="#f6e4f3"/><ellipse cx="15.6" cy="54.2" rx="1.9" ry="0.8" fill="#f4dcf0"/><ellipse cx="53.6" cy="32.7" rx="0.9" ry="0.8" fill="#c99ad0"/><ellipse cx="105.2" cy="49.3" rx="1.3" ry="0.6" fill="#f6e4f3"/><ellipse cx="55.6" cy="48.1" rx="0.7" ry="0.7" fill="#d8a8d8"/><ellipse cx="8.5" cy="48.0" rx="1.9" ry="0.8" fill="#c99ad0"/><ellipse cx="68.6" cy="51.1" rx="1.7" ry="0.5" fill="#b27ac0"/><ellipse cx="58.2" cy="50.5" rx="1.7" ry="0.5" fill="#b27ac0"/><ellipse cx="4.3" cy="45.5" rx="1.9" ry="0.6" fill="#9a68b0"/><ellipse cx="135.0" cy="42.3" rx="2.4" ry="0.8" fill="#d8a8d8"/><ellipse cx="18.5" cy="44.5" rx="1.0" ry="0.8" fill="#f4dcf0"/><ellipse cx="44.3" cy="31.9" rx="1.8" ry="0.7" fill="#f6e4f3"/><ellipse cx="78.7" cy="36.3" rx="1.6" ry="0.7" fill="#9a68b0"/><ellipse cx="87.9" cy="46.1" rx="0.7" ry="0.7" fill="#b27ac0"/><ellipse cx="22.7" cy="38.3" rx="2.4" ry="0.5" fill="#f4dcf0"/><ellipse cx="2.0" cy="43.5" rx="1.0" ry="0.8" fill="#b27ac0"/><ellipse cx="16.6" cy="45.5" rx="1.3" ry="0.5" fill="#9a68b0"/><ellipse cx="70.2" cy="36.9" rx="1.3" ry="0.9" fill="#d8a8d8"/><ellipse cx="122.3" cy="45.9" rx="0.6" ry="0.8" fill="#d8a8d8"/><ellipse cx="130.6" cy="45.6" rx="0.8" ry="0.7" fill="#f6e4f3"/><ellipse cx="120.3" cy="50.7" rx="1.1" ry="0.5" fill="#f4dcf0"/><ellipse cx="60.9" cy="31.9" rx="2.2" ry="0.7" fill="#f4dcf0"/><ellipse cx="105.6" cy="42.3" rx="2.0" ry="0.9" fill="#d8a8d8"/><ellipse cx="120.8" cy="41.7" rx="1.1" ry="0.7" fill="#c99ad0"/><ellipse cx="84.7" cy="46.5" rx="1.8" ry="0.8" fill="#b27ac0"/><ellipse cx="0.3" cy="53.6" rx="1.0" ry="0.8" fill="#f6e4f3"/><ellipse cx="36.1" cy="51.0" rx="2.1" ry="0.4" fill="#b27ac0"/><ellipse cx="26.7" cy="45.4" rx="0.6" ry="0.5" fill="#c99ad0"/><ellipse cx="68.4" cy="41.8" rx="0.9" ry="0.8" fill="#f4dcf0"/><ellipse cx="77.9" cy="32.2" rx="0.9" ry="0.4" fill="#f6e4f3"/><ellipse cx="121.2" cy="48.6" rx="1.5" ry="0.9" fill="#b27ac0"/><ellipse cx="45.4" cy="50.2" rx="2.1" ry="0.9" fill="#c99ad0"/><ellipse cx="54.7" cy="46.4" rx="2.1" ry="0.7" fill="#f4dcf0"/><ellipse cx="115.0" cy="47.8" rx="2.2" ry="0.8" fill="#c99ad0"/><ellipse cx="25.4" cy="41.2" rx="1.9" ry="0.6" fill="#9a68b0"/><ellipse cx="56.0" cy="47.4" rx="1.4" ry="0.5" fill="#9a68b0"/><ellipse cx="1.8" cy="54.3" rx="1.2" ry="0.7" fill="#d8a8d8"/><ellipse cx="111.9" cy="43.6" rx="1.2" ry="0.4" fill="#9a68b0"/><ellipse cx="38.1" cy="44.7" rx="0.7" ry="0.5" fill="#f6e4f3"/><ellipse cx="113.9" cy="47.7" rx="2.4" ry="0.6" fill="#9a68b0"/><ellipse cx="121.5" cy="40.3" rx="2.1" ry="0.7" fill="#f4dcf0"/><ellipse cx="136.2" cy="44.0" rx="1.2" ry="0.9" fill="#9a68b0"/><ellipse cx="8.7" cy="55.6" rx="1.1" ry="0.6" fill="#d8a8d8"/><ellipse cx="112.9" cy="44.2" rx="0.8" ry="0.7" fill="#b27ac0"/><ellipse cx="117.5" cy="46.5" rx="2.2" ry="0.5" fill="#b27ac0"/><ellipse cx="11.6" cy="53.9" rx="0.7" ry="0.4" fill="#c99ad0"/><ellipse cx="29.9" cy="51.0" rx="1.0" ry="0.7" fill="#d8a8d8"/><ellipse cx="16.9" cy="48.5" rx="0.8" ry="0.6" fill="#c99ad0"/><ellipse cx="41.6" cy="50.5" rx="1.2" ry="0.5" fill="#c99ad0"/><ellipse cx="107.4" cy="43.8" rx="2.3" ry="0.6" fill="#f6e4f3"/><ellipse cx="5.7" cy="51.2" rx="1.0" ry="0.4" fill="#f4dcf0"/><ellipse cx="73.7" cy="37.0" rx="1.0" ry="0.5" fill="#b27ac0"/><ellipse cx="93.4" cy="37.1" rx="2.0" ry="0.7" fill="#d8a8d8"/><ellipse cx="95.8" cy="40.4" rx="2.3" ry="0.6" fill="#9a68b0"/><ellipse cx="62.5" cy="51.8" rx="1.5" ry="0.5" fill="#f6e4f3"/><ellipse cx="105.3" cy="50.3" rx="1.2" ry="0.4" fill="#f4dcf0"/><ellipse cx="126.8" cy="41.6" rx="1.8" ry="0.6" fill="#b27ac0"/><ellipse cx="106.2" cy="41.9" rx="2.3" ry="0.7" fill="#f4dcf0"/><ellipse cx="120.8" cy="45.3" rx="1.0" ry="0.7" fill="#b27ac0"/><ellipse cx="131.0" cy="48.5" rx="2.1" ry="0.8" fill="#9a68b0"/><ellipse cx="14.2" cy="53.2" rx="2.1" ry="0.7" fill="#b27ac0"/><ellipse cx="33.7" cy="44.7" rx="0.7" ry="0.8" fill="#f4dcf0"/><ellipse cx="15.4" cy="41.8" rx="2.0" ry="0.4" fill="#d8a8d8"/><ellipse cx="121.1" cy="41.4" rx="2.0" ry="0.8" fill="#f6e4f3"/><ellipse cx="19.5" cy="52.1" rx="0.8" ry="0.6" fill="#b27ac0"/><ellipse cx="9.2" cy="47.2" rx="0.9" ry="0.7" fill="#f4dcf0"/><ellipse cx="125.2" cy="42.7" rx="0.7" ry="0.6" fill="#f6e4f3"/><ellipse cx="57.0" cy="46.7" rx="0.6" ry="0.8" fill="#d8a8d8"/><ellipse cx="45.3" cy="32.0" rx="1.0" ry="0.6" fill="#f6e4f3"/><ellipse cx="76.1" cy="33.0" rx="2.0" ry="0.8" fill="#f6e4f3"/><ellipse cx="70.7" cy="39.3" rx="2.4" ry="0.9" fill="#d8a8d8"/><ellipse cx="32.7" cy="41.1" rx="1.9" ry="0.7" fill="#d8a8d8"/><ellipse cx="99.1" cy="42.7" rx="2.2" ry="0.4" fill="#b27ac0"/><ellipse cx="62.8" cy="37.0" rx="1.3" ry="0.5" fill="#d8a8d8"/><ellipse cx="38.6" cy="42.2" rx="1.9" ry="0.5" fill="#b27ac0"/><ellipse cx="53.6" cy="48.8" rx="0.9" ry="0.9" fill="#b27ac0"/><ellipse cx="130.4" cy="48.0" rx="1.3" ry="0.9" fill="#f4dcf0"/><ellipse cx="84.1" cy="37.4" rx="1.9" ry="0.4" fill="#c99ad0"/><ellipse cx="81.5" cy="39.4" rx="1.4" ry="0.6" fill="#f4dcf0"/><ellipse cx="12.2" cy="49.8" rx="1.6" ry="0.7" fill="#9a68b0"/><ellipse cx="115.7" cy="38.8" rx="1.0" ry="0.5" fill="#9a68b0"/><ellipse cx="6.4" cy="46.5" rx="1.4" ry="0.9" fill="#9a68b0"/><ellipse cx="100.5" cy="36.8" rx="1.2" ry="0.7" fill="#9a68b0"/><ellipse cx="122.3" cy="38.3" rx="1.6" ry="0.8" fill="#f6e4f3"/><ellipse cx="100.2" cy="36.5" rx="0.8" ry="0.7" fill="#f4dcf0"/><ellipse cx="40.3" cy="51.2" rx="1.5" ry="0.8" fill="#c99ad0"/><ellipse cx="20.6" cy="43.3" rx="2.2" ry="0.7" fill="#b27ac0"/><ellipse cx="87.4" cy="38.9" rx="1.3" ry="0.8" fill="#f6e4f3"/><ellipse cx="3.7" cy="52.6" rx="0.8" ry="0.7" fill="#f6e4f3"/><ellipse cx="26.9" cy="54.6" rx="2.0" ry="0.6" fill="#b27ac0"/><ellipse cx="21.7" cy="54.3" rx="0.7" ry="0.7" fill="#d8a8d8"/><ellipse cx="82.2" cy="47.3" rx="0.9" ry="0.7" fill="#f4dcf0"/><ellipse cx="22.4" cy="48.3" rx="1.6" ry="0.6" fill="#c99ad0"/><ellipse cx="69.4" cy="52.5" rx="1.5" ry="0.7" fill="#f6e4f3"/><ellipse cx="83.7" cy="47.1" rx="2.4" ry="0.7" fill="#f4dcf0"/><ellipse cx="108.7" cy="42.6" rx="1.8" ry="0.5" fill="#9a68b0"/><ellipse cx="103.9" cy="50.2" rx="1.5" ry="0.8" fill="#9a68b0"/><ellipse cx="3.1" cy="51.6" rx="1.1" ry="0.9" fill="#f6e4f3"/><ellipse cx="99.1" cy="40.7" rx="1.6" ry="0.7" fill="#c99ad0"/><ellipse cx="11.1" cy="52.8" rx="0.9" ry="0.5" fill="#f4dcf0"/><ellipse cx="47.5" cy="40.9" rx="1.4" ry="0.8" fill="#f6e4f3"/><ellipse cx="6.9" cy="44.2" rx="1.4" ry="0.5" fill="#9a68b0"/><ellipse cx="88.5" cy="36.0" rx="0.7" ry="0.5" fill="#b27ac0"/><ellipse cx="74.7" cy="35.0" rx="1.0" ry="0.7" fill="#b27ac0"/><ellipse cx="127.0" cy="37.9" rx="2.0" ry="0.7" fill="#9a68b0"/><ellipse cx="100.4" cy="47.4" rx="1.1" ry="0.9" fill="#c99ad0"/><ellipse cx="28.3" cy="39.9" rx="1.9" ry="0.7" fill="#d8a8d8"/><ellipse cx="39.9" cy="41.2" rx="2.1" ry="0.7" fill="#f4dcf0"/><ellipse cx="39.2" cy="44.6" rx="1.3" ry="0.5" fill="#d8a8d8"/><ellipse cx="5.3" cy="47.7" rx="2.3" ry="0.7" fill="#9a68b0"/><ellipse cx="31.8" cy="41.2" rx="1.8" ry="0.8" fill="#c99ad0"/><ellipse cx="64.0" cy="37.5" rx="2.1" ry="0.4" fill="#c99ad0"/><ellipse cx="65.6" cy="41.3" rx="2.2" ry="0.4" fill="#9a68b0"/><ellipse cx="40.5" cy="35.6" rx="2.3" ry="0.6" fill="#d8a8d8"/><ellipse cx="73.5" cy="42.3" rx="1.9" ry="0.7" fill="#c99ad0"/><ellipse cx="126.0" cy="43.4" rx="2.2" ry="0.5" fill="#f6e4f3"/><ellipse cx="14.5" cy="42.2" rx="2.0" ry="0.6" fill="#d8a8d8"/><ellipse cx="59.4" cy="32.6" rx="1.5" ry="0.6" fill="#f4dcf0"/><ellipse cx="22.6" cy="43.2" rx="1.5" ry="0.7" fill="#f4dcf0"/><ellipse cx="7.7" cy="42.4" rx="0.7" ry="0.9" fill="#d8a8d8"/><ellipse cx="115.6" cy="37.4" rx="1.2" ry="0.6" fill="#9a68b0"/><path d="M-1,40.27 L2,39.39 L5,39.09 L8,38.44 L11,37.56 L14,35.27 L17,33.75 L20,33.39 L23,32.36 L26,31.5 L29,32.11 L32,30.4 L35,30.41 L38,31.01 L41,30.9 L44,30.44 L47,28.9 L50,27.63 L53,28.25 L56,26.72 L59,27.95 L62,29.95 L65,29.79 L68,31.11 L71,31.09 L74,29.98 L77,29.88 L80,29.96 L83,29.69 L86,29.83 L89,29.87 L92,30.76 L95,32 L98,32.22 L101,33.91 L104,33.81 L107,34.58 L110,34.59 L113,35.77 L116,35.62 L119,35.54 L122,34.99 L125,34.81 L128,35.12 L131,36.74 L134,35.29 L137,36.4" fill="none" stroke="#5a2a78" stroke-width="1.7" stroke-linejoin="round"/><path d="M-2,41.5 C-0.83,41.42 2.93,41.25 5,41 C7.07,40.75 8.23,40.83 10.4,40 C12.57,39.17 15.42,37.02 18,36 C20.58,34.98 23.4,34.4 25.9,33.9 C28.4,33.4 30.4,33.27 33,33 C35.6,32.73 39,32.72 41.5,32.3 C44,31.88 45.58,31.02 48,30.5 C50.42,29.98 53.5,29.03 56,29.2 C58.5,29.37 60.67,30.82 63,31.5 C65.33,32.18 67.5,33.22 70,33.3 C72.5,33.38 74.9,32.25 78,32 C81.1,31.75 85.6,31.38 88.6,31.8 C91.6,32.22 93.45,33.78 96,34.5 C98.55,35.22 101.23,35.63 103.9,36.1 C106.57,36.57 109.1,37.12 112,37.3 C114.9,37.48 118.3,37.12 121.3,37.2 C124.3,37.28 127.05,37.58 130,37.8 C132.95,38.02 137.5,38.38 139,38.5" fill="none" stroke="#c494d4" stroke-width="1.6" opacity="0.8"/><ellipse cx="41.5" cy="46.9" rx="5.2" ry="4.9" fill="#f6e8f4"/><circle cx="41.5" cy="46.9" r="3.0" fill="none" stroke="#6a3290" stroke-width="2"/><circle cx="41.5" cy="46.9" r="1.1" fill="#f2e4f2"/><ellipse cx="50.8" cy="42.2" rx="4.800000000000001" ry="4.5" fill="#f6e8f4"/><circle cx="50.8" cy="42.2" r="2.6" fill="none" stroke="#6a3290" stroke-width="2"/><circle cx="50.8" cy="42.2" r="1.0" fill="#f2e4f2"/><ellipse cx="63.3" cy="44.8" rx="5.4" ry="5.1" fill="#f6e8f4"/><circle cx="63.3" cy="44.8" r="3.1999999999999997" fill="none" stroke="#6a3290" stroke-width="2"/><circle cx="63.3" cy="44.8" r="1.1" fill="#f2e4f2"/><ellipse cx="0.5" cy="61" rx="3" ry="6" fill="#4a2068"/><line x1="117" y1="103.5" x2="131" y2="103.5" stroke="#111" stroke-width="1.2"/></g></g>
<clipPath id="ch2"><rect x="213" y="123" width="137" height="107"/></clipPath><g clip-path="url(#ch2)"><g transform="translate(213,123)"><rect x="0" y="0" width="137" height="107" fill="#faf6f9"/><path d="M-2,4 C-1.6,3.95 -2,3.57 0.4,3.7 C2.8,3.83 9.13,3.08 12.4,4.8 C15.67,6.52 18.18,11.28 20,14 C21.82,16.72 22.13,21.1 23.3,21.1 C24.47,21.1 25.92,15.82 27,14 C28.08,12.18 27.63,11.28 29.8,10.2 C31.97,9.12 36.73,8.03 40,7.5 C43.27,6.97 46.4,6.83 49.4,7 C52.4,7.17 55.08,7.78 58,8.5 C60.92,9.22 64.23,9.05 66.9,11.3 C69.57,13.55 71.98,17.55 74,22 C76.02,26.45 77.83,34.88 79,38 C80.17,41.12 80.33,42.87 81,40.7 C81.67,38.53 82.45,29.72 83,25 C83.55,20.28 83.13,14.98 84.3,12.4 C85.47,9.82 88.18,10.03 90,9.5 C91.82,8.97 93.53,8.95 95.2,9.2 C96.87,9.45 98.55,10.1 100,11 C101.45,11.9 102.73,12.1 103.9,14.6 C105.07,17.1 105.92,22 107,26 C108.08,30 108.9,36.93 110.4,38.6 C111.9,40.27 113.45,37.1 116,36 C118.55,34.9 123.2,32.58 125.7,32 C128.2,31.42 128.78,32.13 131,32.5 C133.22,32.87 137.67,33.92 139,34.2 L139,109 L-2,109 Z" fill="#cfc0e2"/><circle cx="65.02" cy="80.84" r="0.61" fill="#c8b2dc"/><circle cx="52.28" cy="107.72" r="0.56" fill="#a08ac4"/><circle cx="111.02" cy="92.01" r="0.54" fill="#efe6f5"/><circle cx="0.23" cy="75.58" r="0.62" fill="#a08ac4"/><circle cx="46.54" cy="42.57" r="0.89" fill="#efe6f5"/><circle cx="10.22" cy="81.27" r="0.81" fill="#ebe2f3"/><circle cx="109.31" cy="57.4" r="0.89" fill="#b09ad0"/><circle cx="90.7" cy="45.44" r="0.97" fill="#a08ac4"/><circle cx="15.42" cy="60.96" r="0.72" fill="#bfa8d8"/><circle cx="120.84" cy="83.26" r="0.93" fill="#c8b2dc"/><circle cx="76.06" cy="77.73" r="0.64" fill="#b09ad0"/><circle cx="57.38" cy="75.03" r="0.77" fill="#a08ac4"/><circle cx="74.14" cy="83.73" r="0.98" fill="#b09ad0"/><circle cx="133.75" cy="88.85" r="0.96" fill="#ebe2f3"/><circle cx="118.66" cy="74.15" r="0.47" fill="#ebe2f3"/><circle cx="32.19" cy="56.79" r="0.74" fill="#efe6f5"/><circle cx="104.82" cy="48.89" r="0.89" fill="#a08ac4"/><circle cx="58.93" cy="68.94" r="0.81" fill="#bfa8d8"/><circle cx="5.96" cy="39.75" r="0.46" fill="#efe6f5"/><circle cx="75.35" cy="55.65" r="0.56" fill="#c8b2dc"/><circle cx="59.39" cy="67.33" r="0.78" fill="#efe6f5"/><circle cx="7.13" cy="61.67" r="0.6" fill="#bfa8d8"/><circle cx="62.42" cy="83.72" r="0.69" fill="#9c84c0"/><circle cx="130.96" cy="60.13" r="0.62" fill="#efe6f5"/><circle cx="25.92" cy="89.41" r="0.4" fill="#efe6f5"/><circle cx="36.75" cy="89.28" r="0.51" fill="#ebe2f3"/><circle cx="108.91" cy="79.61" r="0.77" fill="#bfa8d8"/><circle cx="134.78" cy="107.91" r="0.49" fill="#efe6f5"/><circle cx="127.07" cy="101.17" r="0.9" fill="#c8b2dc"/><circle cx="87.6" cy="46.92" r="0.7" fill="#efe6f5"/><circle cx="67.1" cy="57.33" r="0.97" fill="#c8b2dc"/><circle cx="122.52" cy="60.5" r="0.77" fill="#ebe2f3"/><circle cx="6.3" cy="50.54" r="0.71" fill="#9c84c0"/><circle cx="95.35" cy="84.16" r="0.84" fill="#bfa8d8"/><circle cx="71.37" cy="38.1" r="0.82" fill="#b09ad0"/><circle cx="18.05" cy="99.1" r="0.48" fill="#a08ac4"/><circle cx="27.44" cy="67.54" r="0.74" fill="#b09ad0"/><circle cx="85.59" cy="101.73" r="0.86" fill="#ebe2f3"/><circle cx="57.22" cy="74.4" r="0.87" fill="#a08ac4"/><circle cx="79.48" cy="74.49" r="0.78" fill="#ebe2f3"/><circle cx="52.75" cy="38.85" r="0.83" fill="#c8b2dc"/><circle cx="123.82" cy="96.43" r="0.95" fill="#b09ad0"/><circle cx="73.29" cy="93.43" r="0.88" fill="#a08ac4"/><circle cx="97.31" cy="43.11" r="0.96" fill="#ebe2f3"/><circle cx="94.41" cy="70.98" r="0.77" fill="#efe6f5"/><circle cx="29.03" cy="76.42" r="0.64" fill="#c8b2dc"/><circle cx="33.67" cy="60.06" r="0.45" fill="#ebe2f3"/><circle cx="45.55" cy="82.05" r="0.59" fill="#c8b2dc"/><circle cx="95.32" cy="88.59" r="0.78" fill="#c8b2dc"/><circle cx="59.74" cy="41.28" r="0.69" fill="#bfa8d8"/><circle cx="60.79" cy="41.84" r="0.76" fill="#c8b2dc"/><circle cx="62.6" cy="98.74" r="0.97" fill="#b09ad0"/><circle cx="1.06" cy="52.83" r="0.91" fill="#ebe2f3"/><circle cx="94.32" cy="51.16" r="0.95" fill="#efe6f5"/><circle cx="68.64" cy="85.03" r="0.7" fill="#bfa8d8"/><circle cx="53.27" cy="66.91" r="0.55" fill="#c8b2dc"/><circle cx="62.97" cy="96.39" r="0.86" fill="#9c84c0"/><circle cx="55.83" cy="83.34" r="0.64" fill="#9c84c0"/><circle cx="92.25" cy="80.85" r="0.73" fill="#b09ad0"/><circle cx="93.27" cy="55.57" r="0.41" fill="#c8b2dc"/><circle cx="106.18" cy="101.01" r="0.58" fill="#c8b2dc"/><circle cx="18.62" cy="47.86" r="0.48" fill="#efe6f5"/><circle cx="67.76" cy="63.81" r="0.57" fill="#ebe2f3"/><circle cx="128.25" cy="84.83" r="0.89" fill="#a08ac4"/><circle cx="108.15" cy="84.54" r="0.48" fill="#bfa8d8"/><circle cx="87.81" cy="95.51" r="0.88" fill="#efe6f5"/><circle cx="51.84" cy="60.42" r="0.56" fill="#c8b2dc"/><circle cx="55.75" cy="57.2" r="0.96" fill="#a08ac4"/><circle cx="111.62" cy="65.53" r="0.52" fill="#9c84c0"/><circle cx="34.89" cy="105.65" r="0.93" fill="#efe6f5"/><circle cx="118.97" cy="88.84" r="0.89" fill="#c8b2dc"/><circle cx="49.15" cy="85.98" r="0.86" fill="#ebe2f3"/><circle cx="117.68" cy="70.32" r="0.53" fill="#9c84c0"/><circle cx="120.53" cy="53.5" r="0.43" fill="#ebe2f3"/><circle cx="111.01" cy="66.42" r="0.83" fill="#bfa8d8"/><circle cx="40.63" cy="41.15" r="0.86" fill="#bfa8d8"/><circle cx="74.82" cy="44.06" r="0.62" fill="#b09ad0"/><circle cx="68.26" cy="46.7" r="0.72" fill="#b09ad0"/><circle cx="89.25" cy="92.03" r="0.69" fill="#efe6f5"/><circle cx="40.2" cy="54.85" r="0.63" fill="#9c84c0"/><circle cx="56.84" cy="68.51" r="0.91" fill="#c8b2dc"/><circle cx="2.81" cy="35.27" r="0.91" fill="#9c84c0"/><circle cx="94.58" cy="104.47" r="0.88" fill="#c8b2dc"/><circle cx="75.18" cy="105.6" r="0.85" fill="#ebe2f3"/><circle cx="114.95" cy="61.41" r="0.54" fill="#b09ad0"/><circle cx="57.96" cy="92.18" r="0.41" fill="#9c84c0"/><circle cx="34.18" cy="36.2" r="0.74" fill="#c8b2dc"/><circle cx="126.52" cy="92.11" r="0.85" fill="#c8b2dc"/><circle cx="130.1" cy="52.03" r="0.75" fill="#bfa8d8"/><circle cx="110.06" cy="88.48" r="0.85" fill="#a08ac4"/><circle cx="58.03" cy="70.77" r="0.88" fill="#ebe2f3"/><circle cx="53.53" cy="79.7" r="0.97" fill="#ebe2f3"/><circle cx="135.18" cy="94.71" r="0.49" fill="#ebe2f3"/><circle cx="16.78" cy="66.9" r="0.8" fill="#bfa8d8"/><circle cx="1.72" cy="41.52" r="0.66" fill="#a08ac4"/><circle cx="46.59" cy="58.73" r="0.6" fill="#ebe2f3"/><circle cx="52.28" cy="96.64" r="0.69" fill="#9c84c0"/><circle cx="26.68" cy="79.69" r="0.77" fill="#efe6f5"/><circle cx="8.82" cy="51.67" r="0.77" fill="#ebe2f3"/><circle cx="17.38" cy="71.65" r="0.85" fill="#a08ac4"/><circle cx="34.54" cy="60.86" r="0.47" fill="#b09ad0"/><circle cx="80.4" cy="82.57" r="0.73" fill="#ebe2f3"/><circle cx="81.63" cy="85.06" r="0.6" fill="#a08ac4"/><circle cx="51.28" cy="100.29" r="0.97" fill="#ebe2f3"/><circle cx="81.97" cy="55.16" r="0.64" fill="#efe6f5"/><circle cx="28.08" cy="55.5" r="0.77" fill="#ebe2f3"/><circle cx="117.6" cy="61.09" r="0.6" fill="#ebe2f3"/><circle cx="90.08" cy="59.48" r="0.6" fill="#efe6f5"/><circle cx="73.62" cy="96.68" r="0.46" fill="#efe6f5"/><circle cx="34.28" cy="92.59" r="0.8" fill="#b09ad0"/><circle cx="23.51" cy="69.07" r="0.44" fill="#ebe2f3"/><circle cx="94.23" cy="42.41" r="0.78" fill="#ebe2f3"/><circle cx="87.29" cy="75.54" r="0.85" fill="#a08ac4"/><circle cx="42.49" cy="36.31" r="0.64" fill="#a08ac4"/><circle cx="63.75" cy="56.95" r="0.94" fill="#c8b2dc"/><circle cx="26.92" cy="76.92" r="0.84" fill="#9c84c0"/><circle cx="68.71" cy="82.35" r="0.91" fill="#efe6f5"/><circle cx="46.53" cy="58.21" r="0.41" fill="#bfa8d8"/><circle cx="121.98" cy="96.14" r="0.8" fill="#a08ac4"/><circle cx="39.71" cy="65.2" r="0.9" fill="#c8b2dc"/><circle cx="57.66" cy="52.07" r="0.65" fill="#ebe2f3"/><circle cx="113.84" cy="62.54" r="0.47" fill="#a08ac4"/><circle cx="42.1" cy="38.48" r="0.87" fill="#b09ad0"/><circle cx="75.58" cy="77.3" r="0.76" fill="#ebe2f3"/><circle cx="127.82" cy="58.64" r="0.63" fill="#bfa8d8"/><circle cx="72.44" cy="55.69" r="0.89" fill="#efe6f5"/><circle cx="107.59" cy="53.98" r="0.86" fill="#bfa8d8"/><circle cx="75.58" cy="94.87" r="0.42" fill="#ebe2f3"/><circle cx="74.85" cy="71.67" r="0.77" fill="#a08ac4"/><circle cx="25.39" cy="96.17" r="0.91" fill="#9c84c0"/><circle cx="7.92" cy="48.18" r="0.63" fill="#a08ac4"/><circle cx="115.29" cy="58.89" r="0.95" fill="#efe6f5"/><circle cx="71.52" cy="76.55" r="0.98" fill="#9c84c0"/><circle cx="103.79" cy="62.67" r="0.91" fill="#b09ad0"/><circle cx="51.04" cy="99.76" r="0.6" fill="#b09ad0"/><circle cx="9.95" cy="80.47" r="0.99" fill="#ebe2f3"/><circle cx="30.12" cy="60.66" r="0.71" fill="#9c84c0"/><circle cx="53.94" cy="32.43" r="0.81" fill="#c8b2dc"/><circle cx="119.08" cy="88.67" r="0.82" fill="#ebe2f3"/><circle cx="47.49" cy="79.33" r="0.43" fill="#9c84c0"/><circle cx="133.66" cy="59.08" r="0.49" fill="#efe6f5"/><circle cx="107.76" cy="77.62" r="0.51" fill="#bfa8d8"/><circle cx="113.25" cy="100.62" r="0.9" fill="#bfa8d8"/><circle cx="2.67" cy="34.35" r="0.74" fill="#a08ac4"/><circle cx="96.05" cy="88" r="0.55" fill="#9c84c0"/><circle cx="1.42" cy="59.07" r="0.66" fill="#9c84c0"/><circle cx="23.21" cy="40.34" r="0.61" fill="#efe6f5"/><circle cx="40.08" cy="76.07" r="0.65" fill="#ebe2f3"/><circle cx="44.56" cy="72.11" r="0.92" fill="#efe6f5"/><circle cx="85.21" cy="73.24" r="0.58" fill="#b09ad0"/><circle cx="119.46" cy="70.04" r="0.43" fill="#9c84c0"/><circle cx="43.57" cy="102.37" r="0.87" fill="#c8b2dc"/><circle cx="122.39" cy="101.45" r="0.98" fill="#b09ad0"/><circle cx="9.03" cy="37.49" r="1" fill="#a08ac4"/><circle cx="135.18" cy="70.66" r="0.87" fill="#ebe2f3"/><circle cx="59.9" cy="100.84" r="0.6" fill="#ebe2f3"/><circle cx="86.5" cy="107.01" r="0.8" fill="#ebe2f3"/><circle cx="65.76" cy="45.05" r="0.77" fill="#bfa8d8"/><circle cx="113.18" cy="90.55" r="0.94" fill="#a08ac4"/><circle cx="127.72" cy="79.93" r="0.94" fill="#c8b2dc"/><circle cx="73.14" cy="65.72" r="0.99" fill="#ebe2f3"/><circle cx="115.85" cy="90.63" r="0.81" fill="#efe6f5"/><circle cx="72.63" cy="88.19" r="0.47" fill="#bfa8d8"/><circle cx="89.05" cy="45.05" r="0.77" fill="#ebe2f3"/><circle cx="44.94" cy="107" r="0.67" fill="#c8b2dc"/><circle cx="12.41" cy="78.63" r="0.5" fill="#bfa8d8"/><circle cx="115.82" cy="84.86" r="0.79" fill="#bfa8d8"/><circle cx="19.74" cy="73.01" r="0.83" fill="#bfa8d8"/><circle cx="85.78" cy="81.59" r="0.54" fill="#b09ad0"/><circle cx="100.07" cy="67.33" r="0.5" fill="#bfa8d8"/><circle cx="12.13" cy="102.75" r="1" fill="#efe6f5"/><circle cx="76.99" cy="62.99" r="0.88" fill="#a08ac4"/><circle cx="133" cy="101.93" r="0.73" fill="#efe6f5"/><circle cx="33.92" cy="96.65" r="0.55" fill="#ebe2f3"/><circle cx="53.82" cy="70.86" r="0.93" fill="#efe6f5"/><circle cx="91.74" cy="61.78" r="0.67" fill="#b09ad0"/><circle cx="71.3" cy="105.42" r="0.66" fill="#c8b2dc"/><circle cx="118.16" cy="63.15" r="0.8" fill="#b09ad0"/><circle cx="2.54" cy="32.42" r="0.48" fill="#efe6f5"/><circle cx="40.96" cy="42.59" r="0.79" fill="#a08ac4"/><circle cx="97.13" cy="95.17" r="0.45" fill="#9c84c0"/><circle cx="24.07" cy="58.41" r="0.5" fill="#9c84c0"/><circle cx="55.42" cy="95.07" r="0.49" fill="#b09ad0"/><circle cx="10.94" cy="45.35" r="0.56" fill="#ebe2f3"/><circle cx="98.8" cy="38" r="0.75" fill="#c8b2dc"/><circle cx="60.09" cy="91.6" r="0.93" fill="#b09ad0"/><circle cx="59.74" cy="106.77" r="0.62" fill="#a08ac4"/><circle cx="38.37" cy="55.62" r="0.46" fill="#b09ad0"/><circle cx="37.47" cy="83.13" r="0.87" fill="#ebe2f3"/><circle cx="65.63" cy="55.84" r="0.45" fill="#b09ad0"/><circle cx="1" cy="41.47" r="0.81" fill="#a08ac4"/><circle cx="118.25" cy="103.4" r="0.93" fill="#a08ac4"/><circle cx="104.84" cy="63.88" r="0.46" fill="#b09ad0"/><circle cx="121.72" cy="60.49" r="0.5" fill="#a08ac4"/><circle cx="135.59" cy="99.26" r="0.59" fill="#a08ac4"/><circle cx="40.83" cy="85.52" r="0.4" fill="#b09ad0"/><circle cx="26.86" cy="69.65" r="0.59" fill="#efe6f5"/><circle cx="97.77" cy="42.05" r="0.88" fill="#bfa8d8"/><circle cx="56.68" cy="32.72" r="0.99" fill="#ebe2f3"/><circle cx="0.81" cy="61.61" r="0.45" fill="#ebe2f3"/><circle cx="46.32" cy="26.87" r="0.65" fill="#ebe2f3"/><circle cx="36.48" cy="31.3" r="0.52" fill="#bfa8d8"/><circle cx="107" cy="106.87" r="0.89" fill="#efe6f5"/><circle cx="101.17" cy="47.75" r="0.43" fill="#b09ad0"/><circle cx="108.98" cy="88.25" r="0.49" fill="#c8b2dc"/><circle cx="108.47" cy="80.79" r="0.62" fill="#b09ad0"/><circle cx="23.59" cy="68.71" r="0.45" fill="#b09ad0"/><circle cx="11.09" cy="86.71" r="0.9" fill="#ebe2f3"/><circle cx="25.35" cy="80.84" r="0.7" fill="#c8b2dc"/><circle cx="58.55" cy="41.8" r="0.58" fill="#bfa8d8"/><circle cx="103.44" cy="101.78" r="0.68" fill="#b09ad0"/><circle cx="7.01" cy="85.22" r="0.59" fill="#9c84c0"/><circle cx="1.77" cy="48.65" r="0.65" fill="#efe6f5"/><circle cx="56.83" cy="32.21" r="0.47" fill="#9c84c0"/><circle cx="66.66" cy="95.86" r="0.99" fill="#b09ad0"/><circle cx="8.23" cy="98.89" r="0.87" fill="#a08ac4"/><circle cx="79.46" cy="89.93" r="0.7" fill="#a08ac4"/><circle cx="58.61" cy="46.46" r="0.64" fill="#a08ac4"/><circle cx="86.06" cy="75.55" r="0.86" fill="#a08ac4"/><circle cx="45.19" cy="84.83" r="0.89" fill="#bfa8d8"/><circle cx="38.47" cy="74.72" r="0.44" fill="#9c84c0"/><circle cx="20.08" cy="46.03" r="0.41" fill="#efe6f5"/><circle cx="67.55" cy="93.39" r="0.66" fill="#c8b2dc"/><circle cx="30.62" cy="75.77" r="0.8" fill="#a08ac4"/><circle cx="22.43" cy="101.64" r="0.94" fill="#ebe2f3"/><circle cx="75.35" cy="64.6" r="0.95" fill="#bfa8d8"/><circle cx="134.8" cy="52.51" r="0.46" fill="#efe6f5"/><circle cx="129.99" cy="95.84" r="0.98" fill="#ebe2f3"/><circle cx="56.3" cy="49.44" r="0.78" fill="#ebe2f3"/><circle cx="62.55" cy="80.56" r="0.77" fill="#c8b2dc"/><circle cx="16.71" cy="80.95" r="0.92" fill="#efe6f5"/><circle cx="73.43" cy="76.42" r="0.86" fill="#bfa8d8"/><circle cx="72.98" cy="102.22" r="0.94" fill="#b09ad0"/><circle cx="16.93" cy="58.91" r="0.97" fill="#efe6f5"/><circle cx="83.99" cy="96.42" r="0.43" fill="#a08ac4"/><circle cx="47.9" cy="41.62" r="0.46" fill="#a08ac4"/><circle cx="91.72" cy="78.8" r="0.63" fill="#ebe2f3"/><circle cx="25.74" cy="63.26" r="0.55" fill="#ebe2f3"/><circle cx="126.59" cy="62.11" r="0.76" fill="#a08ac4"/><circle cx="119.89" cy="106.55" r="0.86" fill="#bfa8d8"/><circle cx="85.81" cy="72" r="0.86" fill="#b09ad0"/><circle cx="20.12" cy="92.2" r="0.63" fill="#9c84c0"/><circle cx="16.73" cy="58.7" r="0.73" fill="#9c84c0"/><circle cx="83.55" cy="68.13" r="0.53" fill="#c8b2dc"/><circle cx="36.44" cy="65.95" r="0.81" fill="#b09ad0"/><circle cx="110.59" cy="71.23" r="0.54" fill="#bfa8d8"/><circle cx="68.72" cy="78.82" r="0.48" fill="#9c84c0"/><circle cx="5.11" cy="56.95" r="0.71" fill="#b09ad0"/><circle cx="88.65" cy="52.67" r="0.43" fill="#bfa8d8"/><circle cx="84.71" cy="95.08" r="0.67" fill="#c8b2dc"/><circle cx="82.45" cy="76.23" r="0.61" fill="#c8b2dc"/><circle cx="86.8" cy="29.94" r="0.75" fill="#ebe2f3"/><circle cx="85.3" cy="96.12" r="0.69" fill="#efe6f5"/><circle cx="18.45" cy="68.3" r="0.76" fill="#efe6f5"/><circle cx="4.87" cy="102.94" r="0.67" fill="#9c84c0"/><circle cx="43.07" cy="95.34" r="0.53" fill="#a08ac4"/><circle cx="127.62" cy="82.95" r="0.86" fill="#9c84c0"/><circle cx="93.07" cy="36.77" r="0.68" fill="#ebe2f3"/><circle cx="127.21" cy="95.01" r="0.58" fill="#9c84c0"/><circle cx="98.26" cy="106.92" r="0.44" fill="#bfa8d8"/><circle cx="103.02" cy="36.86" r="0.85" fill="#bfa8d8"/><circle cx="105.28" cy="78.69" r="0.59" fill="#b09ad0"/><circle cx="127.86" cy="90.39" r="0.98" fill="#9c84c0"/><circle cx="36.77" cy="65.59" r="0.48" fill="#c8b2dc"/><circle cx="33.63" cy="105" r="0.94" fill="#bfa8d8"/><circle cx="98.1" cy="42.14" r="0.51" fill="#c8b2dc"/><circle cx="74.26" cy="90.33" r="0.56" fill="#bfa8d8"/><circle cx="39.66" cy="96.94" r="0.7" fill="#ebe2f3"/><circle cx="36.95" cy="97.64" r="0.89" fill="#9c84c0"/><circle cx="27.14" cy="88.33" r="0.76" fill="#bfa8d8"/><circle cx="44.42" cy="26.18" r="0.85" fill="#9c84c0"/><circle cx="69.17" cy="79.99" r="0.68" fill="#b09ad0"/><circle cx="136.86" cy="61.54" r="0.85" fill="#a08ac4"/><circle cx="82.06" cy="96.94" r="0.47" fill="#c8b2dc"/><circle cx="74.37" cy="50.42" r="0.66" fill="#efe6f5"/><circle cx="98.46" cy="61.39" r="0.62" fill="#efe6f5"/><circle cx="50.25" cy="83.92" r="0.94" fill="#c8b2dc"/><circle cx="83.99" cy="79.17" r="0.41" fill="#efe6f5"/><circle cx="128.93" cy="83.48" r="0.67" fill="#ebe2f3"/><circle cx="47.12" cy="67.61" r="0.65" fill="#bfa8d8"/><circle cx="74.33" cy="104.83" r="0.5" fill="#9c84c0"/><circle cx="132.65" cy="86.27" r="0.87" fill="#ebe2f3"/><circle cx="69.56" cy="65.56" r="0.94" fill="#bfa8d8"/><circle cx="98.18" cy="50.37" r="0.4" fill="#a08ac4"/><circle cx="130.93" cy="97.53" r="0.93" fill="#9c84c0"/><circle cx="58.46" cy="104.96" r="0.84" fill="#ebe2f3"/><circle cx="29.12" cy="83.71" r="0.57" fill="#a08ac4"/><circle cx="60.87" cy="76.72" r="0.71" fill="#bfa8d8"/><circle cx="80.73" cy="99.59" r="0.74" fill="#ebe2f3"/><circle cx="21.9" cy="97.98" r="0.69" fill="#a08ac4"/><circle cx="4.42" cy="66.08" r="0.7" fill="#a08ac4"/><circle cx="58.06" cy="78.54" r="0.91" fill="#bfa8d8"/><circle cx="126.85" cy="92.3" r="0.58" fill="#a08ac4"/><circle cx="127.04" cy="100.53" r="0.81" fill="#c8b2dc"/><circle cx="100.05" cy="49.92" r="0.87" fill="#c8b2dc"/><circle cx="130.81" cy="57.46" r="0.85" fill="#9c84c0"/><circle cx="95.19" cy="58.67" r="0.42" fill="#c8b2dc"/><circle cx="122.74" cy="62.96" r="0.56" fill="#b09ad0"/><circle cx="22.6" cy="101.3" r="0.94" fill="#bfa8d8"/><circle cx="90.98" cy="35.63" r="0.92" fill="#a08ac4"/><circle cx="110.58" cy="102.86" r="0.57" fill="#9c84c0"/><circle cx="88.9" cy="71.99" r="0.99" fill="#ebe2f3"/><circle cx="0.6" cy="58.43" r="0.51" fill="#efe6f5"/><circle cx="1.47" cy="81.64" r="0.43" fill="#ebe2f3"/><circle cx="110.02" cy="105.58" r="0.79" fill="#9c84c0"/><circle cx="62.58" cy="29.52" r="1" fill="#a08ac4"/><circle cx="59.43" cy="97.78" r="0.63" fill="#ebe2f3"/><circle cx="134.31" cy="81.03" r="0.73" fill="#9c84c0"/><circle cx="51.34" cy="97.5" r="0.96" fill="#efe6f5"/><circle cx="135.37" cy="102.23" r="0.62" fill="#9c84c0"/><circle cx="46.39" cy="99.09" r="0.71" fill="#9c84c0"/><circle cx="17.86" cy="76.95" r="0.74" fill="#ebe2f3"/><circle cx="8" cy="67.46" r="0.46" fill="#bfa8d8"/><circle cx="38.42" cy="27.07" r="0.86" fill="#b09ad0"/><circle cx="79.39" cy="63.37" r="0.41" fill="#a08ac4"/><circle cx="56.55" cy="84.6" r="0.75" fill="#efe6f5"/><circle cx="34.3" cy="105.28" r="0.7" fill="#9c84c0"/><circle cx="34.48" cy="75.53" r="0.79" fill="#a08ac4"/><circle cx="70.55" cy="40.15" r="0.65" fill="#efe6f5"/><circle cx="76.23" cy="57.36" r="0.63" fill="#ebe2f3"/><circle cx="68.33" cy="95.78" r="0.93" fill="#9c84c0"/><circle cx="92.53" cy="30.39" r="0.66" fill="#c8b2dc"/><circle cx="106.58" cy="83.14" r="0.61" fill="#b09ad0"/><circle cx="13.54" cy="93.23" r="0.9" fill="#ebe2f3"/><circle cx="101.58" cy="99.15" r="0.94" fill="#ebe2f3"/><circle cx="31.08" cy="84.36" r="0.58" fill="#efe6f5"/><circle cx="12.07" cy="94.03" r="0.79" fill="#ebe2f3"/><circle cx="13.82" cy="31.13" r="0.7" fill="#efe6f5"/><circle cx="118.7" cy="57.27" r="0.68" fill="#ebe2f3"/><circle cx="91.65" cy="30.43" r="0.67" fill="#efe6f5"/><circle cx="136.04" cy="106.84" r="0.79" fill="#ebe2f3"/><circle cx="26.5" cy="75.93" r="0.94" fill="#9c84c0"/><circle cx="17.17" cy="107.38" r="0.99" fill="#a08ac4"/><circle cx="47.07" cy="91.27" r="0.85" fill="#a08ac4"/><circle cx="23.64" cy="40.13" r="0.93" fill="#bfa8d8"/><circle cx="98.3" cy="46.93" r="0.63" fill="#ebe2f3"/><circle cx="7.34" cy="48.65" r="0.66" fill="#c8b2dc"/><circle cx="127.68" cy="56.67" r="0.62" fill="#a08ac4"/><circle cx="55.37" cy="95.65" r="0.51" fill="#b09ad0"/><circle cx="40.09" cy="84.57" r="0.73" fill="#bfa8d8"/><circle cx="102.75" cy="70.9" r="0.59" fill="#c8b2dc"/><circle cx="126.35" cy="85.12" r="0.95" fill="#c8b2dc"/><circle cx="30.05" cy="47.54" r="0.65" fill="#b09ad0"/><circle cx="72.29" cy="44.59" r="0.92" fill="#c8b2dc"/><circle cx="15.72" cy="67.08" r="0.69" fill="#efe6f5"/><circle cx="77.2" cy="103.38" r="0.87" fill="#efe6f5"/><circle cx="34.85" cy="45.74" r="0.56" fill="#9c84c0"/><circle cx="14.17" cy="102.31" r="0.53" fill="#c8b2dc"/><circle cx="72.51" cy="99.09" r="0.61" fill="#ebe2f3"/><circle cx="57.88" cy="58.14" r="0.76" fill="#efe6f5"/><circle cx="68.04" cy="97.41" r="0.95" fill="#a08ac4"/><circle cx="112.05" cy="62.98" r="0.69" fill="#efe6f5"/><circle cx="94.8" cy="42.12" r="0.82" fill="#efe6f5"/><circle cx="24.46" cy="104.29" r="0.79" fill="#ebe2f3"/><circle cx="15.06" cy="34.96" r="0.98" fill="#9c84c0"/><circle cx="40.26" cy="64.86" r="0.61" fill="#b09ad0"/><circle cx="114.69" cy="82.11" r="0.51" fill="#9c84c0"/><circle cx="126.22" cy="91.32" r="0.58" fill="#ebe2f3"/><circle cx="39.32" cy="72.79" r="0.77" fill="#c8b2dc"/><circle cx="27.39" cy="43.79" r="0.66" fill="#9c84c0"/><circle cx="15.09" cy="87.33" r="0.87" fill="#a08ac4"/><circle cx="128.88" cy="105.02" r="0.97" fill="#efe6f5"/><circle cx="23.59" cy="65.55" r="0.91" fill="#a08ac4"/><circle cx="65.58" cy="30.08" r="0.73" fill="#b09ad0"/><circle cx="18.78" cy="79.68" r="0.52" fill="#ebe2f3"/><circle cx="106.36" cy="68.3" r="0.67" fill="#9c84c0"/><circle cx="35.59" cy="68.12" r="0.74" fill="#c8b2dc"/><circle cx="39.96" cy="34.49" r="0.5" fill="#ebe2f3"/><circle cx="136.46" cy="82.45" r="0.86" fill="#efe6f5"/><circle cx="106.24" cy="74.38" r="0.59" fill="#a08ac4"/><circle cx="37.15" cy="32.22" r="0.57" fill="#ebe2f3"/><circle cx="25" cy="48.3" r="0.46" fill="#ebe2f3"/><circle cx="32.3" cy="94.38" r="0.92" fill="#9c84c0"/><circle cx="67.59" cy="58.48" r="0.85" fill="#c8b2dc"/><circle cx="88.54" cy="84.11" r="0.72" fill="#9c84c0"/><circle cx="35" cy="86.4" r="0.98" fill="#bfa8d8"/><circle cx="105.47" cy="49.77" r="0.43" fill="#b09ad0"/><circle cx="110.52" cy="69.04" r="0.81" fill="#bfa8d8"/><circle cx="11.9" cy="39.43" r="0.51" fill="#efe6f5"/><circle cx="97.65" cy="42.95" r="1" fill="#bfa8d8"/><circle cx="45.62" cy="27.06" r="0.9" fill="#b09ad0"/><circle cx="24.05" cy="105.25" r="0.65" fill="#ebe2f3"/><circle cx="35.24" cy="39.85" r="0.86" fill="#bfa8d8"/><circle cx="93.24" cy="45.15" r="0.89" fill="#a08ac4"/><circle cx="21.28" cy="104.82" r="0.61" fill="#b09ad0"/><circle cx="111.12" cy="59.07" r="0.95" fill="#c8b2dc"/><circle cx="94.12" cy="83.32" r="0.59" fill="#b09ad0"/><circle cx="103.01" cy="86.88" r="0.7" fill="#c8b2dc"/><circle cx="73.5" cy="95.34" r="0.46" fill="#bfa8d8"/><circle cx="35.77" cy="54.61" r="0.58" fill="#b09ad0"/><circle cx="15.35" cy="50.14" r="0.79" fill="#efe6f5"/><circle cx="41.97" cy="61.75" r="0.56" fill="#b09ad0"/><circle cx="113.81" cy="82.81" r="0.66" fill="#c8b2dc"/><circle cx="110.8" cy="65.67" r="0.9" fill="#efe6f5"/><circle cx="123.97" cy="91.69" r="0.56" fill="#bfa8d8"/><circle cx="55.46" cy="100.32" r="0.63" fill="#efe6f5"/><circle cx="121.87" cy="66.41" r="0.73" fill="#efe6f5"/><circle cx="24.11" cy="78.53" r="0.58" fill="#efe6f5"/><circle cx="127.32" cy="83.57" r="0.45" fill="#a08ac4"/><circle cx="129.25" cy="102.07" r="0.44" fill="#9c84c0"/><circle cx="45.71" cy="46.52" r="0.91" fill="#9c84c0"/><circle cx="116.42" cy="87.16" r="0.63" fill="#a08ac4"/><circle cx="122.75" cy="63.27" r="0.8" fill="#a08ac4"/><circle cx="46.12" cy="77.3" r="0.89" fill="#ebe2f3"/><circle cx="71.94" cy="48" r="0.51" fill="#b09ad0"/><circle cx="91.14" cy="38.01" r="0.85" fill="#c8b2dc"/><circle cx="83.63" cy="41.92" r="0.41" fill="#efe6f5"/><circle cx="4.36" cy="75.32" r="0.97" fill="#b09ad0"/><circle cx="121.04" cy="106.68" r="0.61" fill="#b09ad0"/><circle cx="28.14" cy="83.19" r="0.45" fill="#bfa8d8"/><circle cx="45.54" cy="98.41" r="0.77" fill="#b09ad0"/><circle cx="24.79" cy="50.66" r="0.42" fill="#c8b2dc"/><circle cx="52.61" cy="64.35" r="0.74" fill="#a08ac4"/><circle cx="117.11" cy="69.16" r="0.62" fill="#9c84c0"/><circle cx="41.07" cy="38.15" r="0.55" fill="#efe6f5"/><circle cx="9.86" cy="39.4" r="0.61" fill="#efe6f5"/><circle cx="44.38" cy="65.69" r="0.55" fill="#bfa8d8"/><circle cx="128.43" cy="74.85" r="0.58" fill="#c8b2dc"/><circle cx="26.32" cy="71.5" r="0.66" fill="#c8b2dc"/><circle cx="46.77" cy="85.52" r="0.82" fill="#9c84c0"/><circle cx="72.08" cy="98" r="0.86" fill="#a08ac4"/><circle cx="134.78" cy="61.97" r="0.64" fill="#ebe2f3"/><circle cx="76.05" cy="59.01" r="0.43" fill="#ebe2f3"/><circle cx="49.28" cy="60.04" r="0.73" fill="#efe6f5"/><circle cx="58.37" cy="44.45" r="0.71" fill="#c8b2dc"/><circle cx="66.45" cy="71.9" r="0.65" fill="#c8b2dc"/><circle cx="84.56" cy="35.59" r="0.45" fill="#a08ac4"/><circle cx="129.66" cy="52.01" r="0.56" fill="#ebe2f3"/><circle cx="76.52" cy="89.41" r="0.52" fill="#b09ad0"/><circle cx="112.83" cy="103.71" r="0.69" fill="#b09ad0"/><circle cx="44.25" cy="67.19" r="0.81" fill="#ebe2f3"/><circle cx="129.06" cy="86.93" r="0.48" fill="#ebe2f3"/><circle cx="55.28" cy="83.24" r="0.92" fill="#efe6f5"/><circle cx="118.51" cy="73.3" r="0.8" fill="#bfa8d8"/><circle cx="22.55" cy="89.11" r="0.93" fill="#efe6f5"/><circle cx="3.37" cy="52.38" r="0.64" fill="#bfa8d8"/><circle cx="106.02" cy="99.07" r="0.85" fill="#c8b2dc"/><circle cx="116.09" cy="74.32" r="0.96" fill="#c8b2dc"/><circle cx="15.05" cy="37.24" r="0.91" fill="#bfa8d8"/><circle cx="26.01" cy="77.18" r="0.85" fill="#efe6f5"/><circle cx="103.73" cy="46.07" r="0.79" fill="#ebe2f3"/><circle cx="97.46" cy="78.24" r="0.72" fill="#c8b2dc"/><circle cx="102.09" cy="84" r="0.68" fill="#ebe2f3"/><circle cx="7.99" cy="32.45" r="0.95" fill="#efe6f5"/><circle cx="38.65" cy="74.69" r="0.95" fill="#c8b2dc"/><circle cx="26.55" cy="53.36" r="0.42" fill="#9c84c0"/><circle cx="21.94" cy="62.45" r="0.84" fill="#9c84c0"/><circle cx="95.16" cy="32.28" r="0.78" fill="#c8b2dc"/><circle cx="60.52" cy="79.81" r="0.56" fill="#c8b2dc"/><circle cx="107.38" cy="79.77" r="0.76" fill="#9c84c0"/><circle cx="2.6" cy="74.66" r="0.5" fill="#c8b2dc"/><circle cx="44.91" cy="30.97" r="0.88" fill="#9c84c0"/><circle cx="79.59" cy="84.01" r="0.9" fill="#9c84c0"/><circle cx="54.24" cy="28.58" r="0.73" fill="#efe6f5"/><circle cx="73.39" cy="56.74" r="0.88" fill="#b09ad0"/><circle cx="116.73" cy="63.56" r="0.46" fill="#9c84c0"/><circle cx="87.88" cy="72.01" r="0.54" fill="#c8b2dc"/><circle cx="53.84" cy="56.19" r="0.46" fill="#9c84c0"/><circle cx="127.53" cy="104.43" r="0.56" fill="#c8b2dc"/><circle cx="113.94" cy="76.29" r="0.43" fill="#b09ad0"/><circle cx="47.27" cy="65.38" r="0.64" fill="#efe6f5"/><circle cx="22.12" cy="90.24" r="0.66" fill="#bfa8d8"/><circle cx="21.04" cy="64.73" r="0.98" fill="#efe6f5"/><circle cx="59.77" cy="33.01" r="0.4" fill="#bfa8d8"/><circle cx="2.85" cy="34.17" r="0.93" fill="#b09ad0"/><circle cx="54.27" cy="71.01" r="0.7" fill="#a08ac4"/><circle cx="52.03" cy="97.39" r="0.72" fill="#c8b2dc"/><circle cx="79.86" cy="65.21" r="0.46" fill="#b09ad0"/><circle cx="32.05" cy="54.32" r="0.58" fill="#9c84c0"/><circle cx="58.53" cy="75.8" r="0.88" fill="#a08ac4"/><circle cx="68.76" cy="104.28" r="0.79" fill="#ebe2f3"/><circle cx="68.65" cy="62.41" r="0.7" fill="#ebe2f3"/><circle cx="115.53" cy="105.23" r="0.6" fill="#a08ac4"/><circle cx="102.68" cy="39.58" r="0.74" fill="#efe6f5"/><circle cx="72.85" cy="92.81" r="0.92" fill="#ebe2f3"/><circle cx="44.4" cy="81.92" r="0.6" fill="#b09ad0"/><circle cx="120.94" cy="102.73" r="0.88" fill="#a08ac4"/><circle cx="30.23" cy="94.55" r="0.7" fill="#efe6f5"/><circle cx="128.63" cy="57.97" r="0.98" fill="#c8b2dc"/><circle cx="109.87" cy="84" r="0.45" fill="#a08ac4"/><circle cx="125.52" cy="91.68" r="0.91" fill="#b09ad0"/><circle cx="81.51" cy="76.09" r="0.44" fill="#b09ad0"/><circle cx="28.32" cy="51.52" r="0.57" fill="#9c84c0"/><circle cx="132.28" cy="69.64" r="0.97" fill="#bfa8d8"/><circle cx="100.51" cy="49.05" r="0.56" fill="#ebe2f3"/><circle cx="93.07" cy="75.63" r="0.66" fill="#c8b2dc"/><circle cx="85.1" cy="46.64" r="0.46" fill="#bfa8d8"/><circle cx="82.47" cy="102.08" r="1" fill="#c8b2dc"/><circle cx="28.58" cy="49.81" r="0.95" fill="#efe6f5"/><circle cx="133.02" cy="98.71" r="0.99" fill="#bfa8d8"/><circle cx="97.44" cy="68.3" r="0.68" fill="#b09ad0"/><circle cx="122.04" cy="87.78" r="0.99" fill="#efe6f5"/><circle cx="5.9" cy="46.84" r="0.46" fill="#bfa8d8"/><circle cx="52.16" cy="39.76" r="0.41" fill="#c8b2dc"/><circle cx="39.27" cy="106.44" r="0.93" fill="#efe6f5"/><circle cx="42.57" cy="78.18" r="0.65" fill="#c8b2dc"/><circle cx="59.84" cy="107.21" r="0.83" fill="#efe6f5"/><circle cx="69.55" cy="34.57" r="0.42" fill="#c8b2dc"/><circle cx="120.3" cy="94.33" r="0.74" fill="#a08ac4"/><circle cx="123.26" cy="57.05" r="0.43" fill="#c8b2dc"/><circle cx="66.9" cy="49.58" r="0.46" fill="#c8b2dc"/><circle cx="85.78" cy="37.71" r="0.47" fill="#c8b2dc"/><circle cx="98.98" cy="45.24" r="0.55" fill="#9c84c0"/><circle cx="71.81" cy="62.84" r="0.54" fill="#ebe2f3"/><circle cx="99.16" cy="67.22" r="0.65" fill="#bfa8d8"/><circle cx="18.62" cy="96.69" r="0.5" fill="#b09ad0"/><circle cx="75.39" cy="89.83" r="0.7" fill="#b09ad0"/><circle cx="11.39" cy="37.62" r="0.89" fill="#a08ac4"/><circle cx="40.17" cy="94.84" r="0.41" fill="#b09ad0"/><circle cx="130.82" cy="98.9" r="0.82" fill="#ebe2f3"/><circle cx="126.8" cy="94.71" r="0.41" fill="#bfa8d8"/><circle cx="13.14" cy="105.92" r="0.44" fill="#b09ad0"/><circle cx="118.14" cy="104.19" r="0.97" fill="#ebe2f3"/><circle cx="3.96" cy="50.74" r="0.43" fill="#bfa8d8"/><circle cx="135.74" cy="62.85" r="0.93" fill="#bfa8d8"/><circle cx="3.93" cy="99.78" r="0.5" fill="#c8b2dc"/><circle cx="123.08" cy="71.98" r="0.56" fill="#bfa8d8"/><circle cx="40.04" cy="41" r="0.56" fill="#b09ad0"/><circle cx="65.02" cy="88.87" r="0.95" fill="#bfa8d8"/><circle cx="25.85" cy="106.57" r="0.67" fill="#efe6f5"/><circle cx="51.16" cy="72.03" r="0.46" fill="#b09ad0"/><circle cx="16.29" cy="34.96" r="0.56" fill="#efe6f5"/><circle cx="23.47" cy="102.43" r="0.56" fill="#b09ad0"/><circle cx="81.76" cy="76.09" r="0.93" fill="#ebe2f3"/><circle cx="75.46" cy="69.29" r="0.52" fill="#9c84c0"/><circle cx="80.55" cy="65.68" r="0.56" fill="#c8b2dc"/><circle cx="9.72" cy="48.23" r="0.79" fill="#bfa8d8"/><circle cx="106.58" cy="53.71" r="0.75" fill="#9c84c0"/><circle cx="73.77" cy="70.14" r="0.43" fill="#bfa8d8"/><circle cx="15.85" cy="60.5" r="0.89" fill="#a08ac4"/><circle cx="126.71" cy="101.57" r="0.64" fill="#9c84c0"/><circle cx="12.78" cy="68.2" r="0.6" fill="#c8b2dc"/><circle cx="106.55" cy="44.4" r="0.55" fill="#c8b2dc"/><circle cx="110.35" cy="102.1" r="0.56" fill="#efe6f5"/><circle cx="91.95" cy="48.22" r="0.58" fill="#bfa8d8"/><circle cx="133.65" cy="95.54" r="0.48" fill="#efe6f5"/><circle cx="51.4" cy="39.84" r="0.82" fill="#bfa8d8"/><circle cx="40.52" cy="95.79" r="0.92" fill="#efe6f5"/><circle cx="46.2" cy="30.46" r="0.64" fill="#9c84c0"/><circle cx="87.61" cy="40.97" r="1" fill="#9c84c0"/><circle cx="73.1" cy="74.27" r="0.47" fill="#bfa8d8"/><circle cx="98.71" cy="99.28" r="0.41" fill="#efe6f5"/><circle cx="101.45" cy="98.83" r="0.42" fill="#a08ac4"/><circle cx="109.21" cy="72.11" r="0.48" fill="#c8b2dc"/><circle cx="113.94" cy="104.83" r="0.52" fill="#b09ad0"/><circle cx="83.45" cy="62.03" r="0.53" fill="#ebe2f3"/><circle cx="57.68" cy="97.5" r="0.94" fill="#ebe2f3"/><circle cx="83.41" cy="96.7" r="0.85" fill="#c8b2dc"/><circle cx="113.95" cy="88.74" r="0.46" fill="#b09ad0"/><circle cx="54.03" cy="106.65" r="0.8" fill="#efe6f5"/><circle cx="94.93" cy="64.86" r="0.76" fill="#c8b2dc"/><circle cx="99.98" cy="85.53" r="0.99" fill="#efe6f5"/><circle cx="42.97" cy="55.7" r="0.46" fill="#9c84c0"/><circle cx="48.75" cy="95.2" r="0.7" fill="#9c84c0"/><circle cx="19.99" cy="36.38" r="0.62" fill="#ebe2f3"/><circle cx="123.36" cy="84.39" r="0.75" fill="#efe6f5"/><circle cx="39.45" cy="87.95" r="0.47" fill="#ebe2f3"/><circle cx="39.87" cy="84.23" r="0.57" fill="#b09ad0"/><circle cx="105.68" cy="79.17" r="0.43" fill="#b09ad0"/><circle cx="90.08" cy="65.67" r="0.65" fill="#9c84c0"/><circle cx="90.72" cy="50.32" r="0.59" fill="#c8b2dc"/><circle cx="130.09" cy="87.62" r="0.54" fill="#9c84c0"/><circle cx="45.13" cy="39.03" r="0.71" fill="#ebe2f3"/><circle cx="29" cy="81.58" r="0.79" fill="#a08ac4"/><circle cx="93.31" cy="91.42" r="0.46" fill="#bfa8d8"/><circle cx="134.91" cy="95.03" r="0.45" fill="#ebe2f3"/><circle cx="36.4" cy="104.07" r="0.57" fill="#a08ac4"/><circle cx="11.27" cy="33.67" r="0.41" fill="#ebe2f3"/><circle cx="23.97" cy="49.26" r="0.52" fill="#ebe2f3"/><circle cx="53.22" cy="34.77" r="0.74" fill="#a08ac4"/><circle cx="118.09" cy="72.49" r="0.75" fill="#ebe2f3"/><circle cx="85.83" cy="70.99" r="0.59" fill="#efe6f5"/><circle cx="71.61" cy="56.85" r="0.54" fill="#ebe2f3"/><circle cx="2.16" cy="95.56" r="0.41" fill="#efe6f5"/><circle cx="56.97" cy="70.86" r="0.95" fill="#9c84c0"/><circle cx="51.28" cy="99.23" r="0.8" fill="#efe6f5"/><circle cx="107.58" cy="97.05" r="0.71" fill="#b09ad0"/><circle cx="46.79" cy="79.48" r="0.94" fill="#a08ac4"/><circle cx="14.98" cy="69.38" r="1" fill="#b09ad0"/><circle cx="14.91" cy="96.05" r="0.56" fill="#b09ad0"/><circle cx="25.74" cy="91.74" r="0.96" fill="#efe6f5"/><circle cx="104.79" cy="59.59" r="0.67" fill="#bfa8d8"/><circle cx="19.91" cy="62.4" r="0.61" fill="#bfa8d8"/><circle cx="121.84" cy="78.78" r="0.83" fill="#efe6f5"/><circle cx="14.64" cy="90.39" r="0.58" fill="#efe6f5"/><circle cx="34.73" cy="31.64" r="0.63" fill="#b09ad0"/><circle cx="90.65" cy="49.23" r="0.42" fill="#bfa8d8"/><circle cx="38.15" cy="94.8" r="0.54" fill="#bfa8d8"/><circle cx="28.89" cy="46.11" r="0.91" fill="#a08ac4"/><circle cx="105.74" cy="102.46" r="0.79" fill="#a08ac4"/><circle cx="102.91" cy="69.38" r="0.49" fill="#bfa8d8"/><circle cx="86.08" cy="38.23" r="0.87" fill="#a08ac4"/><circle cx="116.26" cy="103.76" r="0.93" fill="#c8b2dc"/><circle cx="43.94" cy="42.88" r="0.6" fill="#a08ac4"/><circle cx="79.13" cy="62.42" r="0.96" fill="#bfa8d8"/><circle cx="27.14" cy="93.1" r="0.54" fill="#9c84c0"/><circle cx="58.65" cy="73.26" r="0.8" fill="#ebe2f3"/><circle cx="112.49" cy="102.15" r="0.68" fill="#ebe2f3"/><circle cx="31.13" cy="106.01" r="0.62" fill="#bfa8d8"/><circle cx="82.7" cy="72.57" r="0.8" fill="#bfa8d8"/><circle cx="115.02" cy="92.32" r="0.91" fill="#ebe2f3"/><circle cx="97.15" cy="35.32" r="0.46" fill="#bfa8d8"/><circle cx="30.87" cy="30.57" r="0.52" fill="#9c84c0"/><circle cx="11.16" cy="45.34" r="0.78" fill="#a08ac4"/><circle cx="43.86" cy="27.15" r="0.87" fill="#ebe2f3"/><circle cx="68.2" cy="88.2" r="0.98" fill="#efe6f5"/><circle cx="33.77" cy="107.19" r="0.78" fill="#ebe2f3"/><circle cx="77.55" cy="96.22" r="0.6" fill="#a08ac4"/><circle cx="110.43" cy="102.59" r="0.88" fill="#a08ac4"/><circle cx="104.6" cy="56.52" r="0.98" fill="#c8b2dc"/><circle cx="114.91" cy="62.9" r="0.59" fill="#c8b2dc"/><circle cx="46.73" cy="93.86" r="0.54" fill="#efe6f5"/><circle cx="7.76" cy="104.38" r="0.66" fill="#9c84c0"/><circle cx="119.6" cy="65.71" r="0.97" fill="#bfa8d8"/><circle cx="61.4" cy="32.05" r="0.93" fill="#9c84c0"/><circle cx="118.76" cy="67.63" r="0.61" fill="#a08ac4"/><circle cx="45.86" cy="52.23" r="0.6" fill="#bfa8d8"/><circle cx="110.32" cy="68.96" r="0.9" fill="#c8b2dc"/><circle cx="135.74" cy="69.67" r="0.9" fill="#b09ad0"/><circle cx="32.03" cy="78.48" r="0.42" fill="#ebe2f3"/><circle cx="61.14" cy="36.56" r="0.47" fill="#ebe2f3"/><circle cx="58.32" cy="79.12" r="0.86" fill="#a08ac4"/><circle cx="133.53" cy="67.37" r="0.82" fill="#9c84c0"/><circle cx="28.23" cy="65.19" r="0.5" fill="#b09ad0"/><circle cx="63.53" cy="32.72" r="0.43" fill="#a08ac4"/><circle cx="83.7" cy="65.63" r="0.83" fill="#a08ac4"/><circle cx="8.4" cy="86.18" r="0.91" fill="#a08ac4"/><circle cx="117.95" cy="94.27" r="0.95" fill="#a08ac4"/><circle cx="61.68" cy="38.04" r="0.88" fill="#b09ad0"/><circle cx="28.93" cy="56.84" r="0.69" fill="#bfa8d8"/><circle cx="21.77" cy="64.67" r="0.89" fill="#ebe2f3"/><circle cx="52.35" cy="106.57" r="0.6" fill="#9c84c0"/><circle cx="59.5" cy="59.77" r="0.99" fill="#bfa8d8"/><circle cx="36.81" cy="61.41" r="0.95" fill="#ebe2f3"/><circle cx="122.41" cy="52.95" r="0.64" fill="#c8b2dc"/><circle cx="102.06" cy="72.93" r="0.74" fill="#a08ac4"/><circle cx="133.6" cy="80.02" r="0.67" fill="#bfa8d8"/><circle cx="7.64" cy="67.04" r="0.9" fill="#a08ac4"/><circle cx="57.97" cy="39.95" r="0.94" fill="#a08ac4"/><circle cx="122.22" cy="81.9" r="0.64" fill="#9c84c0"/><circle cx="89.96" cy="82.43" r="0.82" fill="#c8b2dc"/><circle cx="38.48" cy="69.43" r="0.98" fill="#9c84c0"/><circle cx="55.35" cy="39.67" r="0.72" fill="#9c84c0"/><circle cx="111.69" cy="105.4" r="0.46" fill="#9c84c0"/><circle cx="75.13" cy="69.95" r="0.63" fill="#bfa8d8"/><circle cx="14.62" cy="104.65" r="0.86" fill="#c8b2dc"/><circle cx="123.67" cy="105.54" r="0.78" fill="#b09ad0"/><circle cx="67.56" cy="64.79" r="0.69" fill="#b09ad0"/><circle cx="94.1" cy="94.35" r="0.78" fill="#ebe2f3"/><circle cx="39.98" cy="29.83" r="0.66" fill="#ebe2f3"/><circle cx="136.64" cy="97.22" r="0.71" fill="#bfa8d8"/><circle cx="78.89" cy="74.41" r="0.47" fill="#a08ac4"/><circle cx="74.21" cy="66.67" r="0.45" fill="#a08ac4"/><circle cx="88.98" cy="34.05" r="0.91" fill="#bfa8d8"/><circle cx="109.49" cy="92.28" r="0.89" fill="#bfa8d8"/><circle cx="39.33" cy="61.06" r="0.91" fill="#bfa8d8"/><circle cx="76.41" cy="61.55" r="0.89" fill="#c8b2dc"/><circle cx="31.53" cy="34.78" r="0.55" fill="#9c84c0"/><circle cx="134.53" cy="91.16" r="0.64" fill="#9c84c0"/><circle cx="9.03" cy="78.04" r="0.61" fill="#c8b2dc"/><circle cx="111.01" cy="65.97" r="0.89" fill="#efe6f5"/><circle cx="99.25" cy="84.33" r="0.57" fill="#efe6f5"/><circle cx="45.55" cy="96.22" r="0.82" fill="#c8b2dc"/><circle cx="125.5" cy="74.24" r="0.53" fill="#b09ad0"/><circle cx="70.97" cy="72.07" r="0.8" fill="#b09ad0"/><circle cx="44.07" cy="39.1" r="0.5" fill="#a08ac4"/><circle cx="3.36" cy="104.94" r="0.77" fill="#ebe2f3"/><circle cx="93.42" cy="35.81" r="0.79" fill="#b09ad0"/><circle cx="47.06" cy="98.57" r="0.5" fill="#bfa8d8"/><circle cx="118.89" cy="92.78" r="0.71" fill="#efe6f5"/><circle cx="136.69" cy="56.25" r="0.99" fill="#9c84c0"/><circle cx="19.52" cy="50.57" r="0.64" fill="#c8b2dc"/><circle cx="109.59" cy="88.96" r="0.47" fill="#9c84c0"/><circle cx="84.48" cy="53.46" r="0.41" fill="#c8b2dc"/><circle cx="75.75" cy="91.23" r="0.65" fill="#a08ac4"/><circle cx="14.75" cy="61.55" r="0.7" fill="#ebe2f3"/><circle cx="114.44" cy="95.47" r="0.55" fill="#9c84c0"/><circle cx="113.78" cy="60.78" r="0.94" fill="#c8b2dc"/><circle cx="9.9" cy="84.61" r="0.81" fill="#9c84c0"/><circle cx="39.71" cy="58.71" r="0.4" fill="#ebe2f3"/><circle cx="13.02" cy="69.93" r="0.88" fill="#9c84c0"/><circle cx="86.18" cy="90.74" r="0.77" fill="#c8b2dc"/><circle cx="103.25" cy="97.87" r="0.4" fill="#a08ac4"/><circle cx="84.42" cy="89.22" r="0.88" fill="#b09ad0"/><circle cx="12.65" cy="93.75" r="0.7" fill="#a08ac4"/><circle cx="100.81" cy="93.81" r="0.67" fill="#9c84c0"/><circle cx="16.19" cy="84.94" r="0.45" fill="#a08ac4"/><circle cx="38.52" cy="52.92" r="0.78" fill="#efe6f5"/><circle cx="96.85" cy="103.41" r="0.96" fill="#efe6f5"/><circle cx="119.9" cy="103.08" r="0.6" fill="#ebe2f3"/><circle cx="1.83" cy="27.82" r="0.96" fill="#9c84c0"/><circle cx="84.17" cy="99.38" r="0.56" fill="#c8b2dc"/><circle cx="67.1" cy="88.73" r="0.73" fill="#efe6f5"/><circle cx="41.45" cy="51.14" r="0.61" fill="#a08ac4"/><circle cx="9.4" cy="105.71" r="0.63" fill="#9c84c0"/><circle cx="128.92" cy="96.2" r="0.65" fill="#9c84c0"/><circle cx="133.47" cy="96.37" r="0.55" fill="#efe6f5"/><circle cx="56.87" cy="53" r="0.79" fill="#efe6f5"/><circle cx="44.95" cy="105.98" r="0.47" fill="#ebe2f3"/><circle cx="64.2" cy="106.66" r="0.55" fill="#c8b2dc"/><circle cx="48.32" cy="63.44" r="0.78" fill="#b09ad0"/><circle cx="50.19" cy="28.07" r="0.42" fill="#a08ac4"/><circle cx="56.56" cy="46.91" r="0.77" fill="#9c84c0"/><circle cx="106.4" cy="84.71" r="0.42" fill="#b09ad0"/><circle cx="13.05" cy="80.9" r="0.6" fill="#bfa8d8"/><circle cx="42.06" cy="39.56" r="0.86" fill="#a08ac4"/><circle cx="60.25" cy="83.31" r="0.59" fill="#9c84c0"/><circle cx="87.56" cy="52.38" r="0.83" fill="#c8b2dc"/><circle cx="78.42" cy="54.71" r="0.41" fill="#bfa8d8"/><circle cx="36.74" cy="32.01" r="0.93" fill="#9c84c0"/><circle cx="4.44" cy="104.69" r="0.84" fill="#a08ac4"/><circle cx="1.11" cy="82.25" r="0.85" fill="#b09ad0"/><circle cx="101.11" cy="46.48" r="0.42" fill="#ebe2f3"/><circle cx="1.74" cy="57.33" r="0.74" fill="#c8b2dc"/><circle cx="14.55" cy="34.06" r="0.86" fill="#efe6f5"/><circle cx="85.61" cy="91.07" r="0.55" fill="#9c84c0"/><circle cx="22.06" cy="55.67" r="0.88" fill="#9c84c0"/><circle cx="87.97" cy="66.39" r="0.42" fill="#efe6f5"/><circle cx="6.59" cy="24.81" r="0.92" fill="#b09ad0"/><circle cx="47.96" cy="99.72" r="1" fill="#a08ac4"/><circle cx="32.75" cy="100.26" r="0.79" fill="#b09ad0"/><circle cx="76.97" cy="100.32" r="0.85" fill="#b09ad0"/><circle cx="42.42" cy="79.79" r="1" fill="#b09ad0"/><circle cx="90.58" cy="107.54" r="0.42" fill="#c8b2dc"/><circle cx="59.21" cy="46.93" r="0.97" fill="#bfa8d8"/><circle cx="85.03" cy="101.21" r="0.94" fill="#9c84c0"/><circle cx="5.95" cy="70.17" r="0.99" fill="#a08ac4"/><circle cx="46.77" cy="29.67" r="0.43" fill="#9c84c0"/><circle cx="128.33" cy="88.02" r="0.47" fill="#c8b2dc"/><circle cx="73.6" cy="74.13" r="0.52" fill="#b09ad0"/><circle cx="116.7" cy="74.67" r="0.63" fill="#a08ac4"/><circle cx="41.8" cy="77.26" r="0.91" fill="#bfa8d8"/><circle cx="77.23" cy="80.87" r="0.45" fill="#b09ad0"/><circle cx="10.94" cy="84.53" r="0.71" fill="#efe6f5"/><circle cx="98.91" cy="46.19" r="0.82" fill="#9c84c0"/><circle cx="51.08" cy="61.2" r="0.49" fill="#bfa8d8"/><circle cx="98.6" cy="96.56" r="0.48" fill="#c8b2dc"/><circle cx="2.26" cy="45.53" r="0.47" fill="#ebe2f3"/><circle cx="1.27" cy="59.58" r="0.9" fill="#9c84c0"/><circle cx="114.65" cy="70.08" r="0.76" fill="#9c84c0"/><circle cx="49.59" cy="50.49" r="0.43" fill="#efe6f5"/><circle cx="65.36" cy="45.81" r="0.62" fill="#efe6f5"/><circle cx="30.05" cy="88.77" r="0.81" fill="#a08ac4"/><circle cx="57.45" cy="27.25" r="0.77" fill="#a08ac4"/><circle cx="118.89" cy="55.34" r="0.72" fill="#b09ad0"/><circle cx="93.49" cy="32.34" r="0.77" fill="#bfa8d8"/><circle cx="114.47" cy="78.97" r="0.57" fill="#c8b2dc"/><circle cx="124.07" cy="51.13" r="0.73" fill="#efe6f5"/><circle cx="7.7" cy="38.64" r="0.83" fill="#b09ad0"/><circle cx="130.91" cy="87.41" r="0.63" fill="#a08ac4"/><circle cx="133.37" cy="68.34" r="1" fill="#ebe2f3"/><circle cx="129.54" cy="53.88" r="0.75" fill="#9c84c0"/><circle cx="8.78" cy="93.85" r="0.98" fill="#b09ad0"/><circle cx="132.58" cy="99.94" r="0.64" fill="#efe6f5"/><circle cx="61.73" cy="27.94" r="0.99" fill="#ebe2f3"/><circle cx="52.03" cy="97.41" r="0.78" fill="#ebe2f3"/><circle cx="76.94" cy="61.4" r="0.56" fill="#bfa8d8"/><circle cx="115.55" cy="72.77" r="0.52" fill="#efe6f5"/><circle cx="116" cy="97.15" r="0.4" fill="#9c84c0"/><circle cx="45.28" cy="62.91" r="0.51" fill="#b09ad0"/><circle cx="132.07" cy="63.8" r="1" fill="#9c84c0"/><circle cx="95.61" cy="39.23" r="0.79" fill="#efe6f5"/><circle cx="29.75" cy="49.18" r="0.75" fill="#a08ac4"/><circle cx="19.4" cy="38.21" r="0.65" fill="#bfa8d8"/><circle cx="50.99" cy="79.57" r="0.63" fill="#a08ac4"/><circle cx="133.16" cy="91.15" r="0.45" fill="#a08ac4"/><circle cx="39.55" cy="28.17" r="0.55" fill="#ebe2f3"/><circle cx="20.1" cy="45.42" r="0.51" fill="#c8b2dc"/><circle cx="45.28" cy="77.47" r="0.62" fill="#ebe2f3"/><circle cx="21.64" cy="50.31" r="0.56" fill="#c8b2dc"/><circle cx="50.01" cy="61.23" r="0.93" fill="#9c84c0"/><circle cx="20.58" cy="74.46" r="0.48" fill="#c8b2dc"/><circle cx="108.49" cy="70.75" r="0.4" fill="#bfa8d8"/><circle cx="92.57" cy="43.39" r="0.6" fill="#bfa8d8"/><circle cx="123.84" cy="61.05" r="0.97" fill="#9c84c0"/><circle cx="126.39" cy="69.9" r="0.7" fill="#9c84c0"/><circle cx="7.46" cy="107.36" r="0.47" fill="#c8b2dc"/><circle cx="45.98" cy="88.86" r="0.9" fill="#9c84c0"/><circle cx="13.91" cy="61.39" r="0.93" fill="#c8b2dc"/><circle cx="44.64" cy="33.69" r="0.59" fill="#c8b2dc"/><circle cx="7.52" cy="86.98" r="0.99" fill="#a08ac4"/><circle cx="48.92" cy="32.56" r="0.82" fill="#ebe2f3"/><circle cx="45.19" cy="99.76" r="0.49" fill="#ebe2f3"/><circle cx="76.6" cy="90.87" r="0.58" fill="#a08ac4"/><circle cx="23.11" cy="42.53" r="0.94" fill="#efe6f5"/><circle cx="54.47" cy="34.6" r="0.55" fill="#bfa8d8"/><circle cx="14.75" cy="104.3" r="0.52" fill="#b09ad0"/><circle cx="62.95" cy="39" r="0.94" fill="#c8b2dc"/><circle cx="75.92" cy="61.04" r="0.84" fill="#c8b2dc"/><circle cx="35.47" cy="67.48" r="0.57" fill="#c8b2dc"/><circle cx="83.19" cy="68.55" r="0.66" fill="#9c84c0"/><circle cx="51.42" cy="81.66" r="0.56" fill="#9c84c0"/><circle cx="67.78" cy="74.05" r="0.54" fill="#efe6f5"/><circle cx="29.26" cy="48.42" r="0.78" fill="#b09ad0"/><circle cx="126.42" cy="95.26" r="0.89" fill="#bfa8d8"/><circle cx="78.58" cy="74.39" r="0.54" fill="#c8b2dc"/><circle cx="78.31" cy="63.52" r="0.87" fill="#a08ac4"/><circle cx="108.86" cy="82.12" r="0.96" fill="#bfa8d8"/><circle cx="47.7" cy="89.32" r="0.93" fill="#9c84c0"/><circle cx="102.27" cy="48.98" r="0.88" fill="#ebe2f3"/><circle cx="38.59" cy="86.82" r="0.95" fill="#9c84c0"/><circle cx="25.08" cy="36.55" r="0.69" fill="#a08ac4"/><circle cx="74.56" cy="106.89" r="0.79" fill="#c8b2dc"/><circle cx="73.63" cy="57.21" r="0.54" fill="#efe6f5"/><circle cx="25.5" cy="99.19" r="0.92" fill="#c8b2dc"/><circle cx="7.92" cy="105.45" r="0.68" fill="#9c84c0"/><circle cx="44.73" cy="48.22" r="0.41" fill="#bfa8d8"/><circle cx="111.56" cy="57.06" r="0.65" fill="#ebe2f3"/><circle cx="25.4" cy="67.58" r="0.68" fill="#a08ac4"/><circle cx="84.78" cy="31.74" r="0.55" fill="#9c84c0"/><circle cx="134.41" cy="55.27" r="0.78" fill="#a08ac4"/><circle cx="128.44" cy="80.03" r="0.81" fill="#bfa8d8"/><circle cx="125.33" cy="55.16" r="0.95" fill="#a08ac4"/><circle cx="134.97" cy="89.71" r="0.42" fill="#9c84c0"/><circle cx="25.33" cy="101.14" r="0.96" fill="#ebe2f3"/><circle cx="112.7" cy="102.37" r="0.51" fill="#ebe2f3"/><circle cx="72.51" cy="55.91" r="0.75" fill="#9c84c0"/><circle cx="44.94" cy="27.79" r="0.84" fill="#9c84c0"/><circle cx="123.64" cy="91.56" r="0.46" fill="#a08ac4"/><circle cx="49.51" cy="32.31" r="0.67" fill="#bfa8d8"/><circle cx="24.62" cy="76.41" r="0.59" fill="#efe6f5"/><circle cx="53.58" cy="63.82" r="0.59" fill="#9c84c0"/><circle cx="117.85" cy="70.23" r="0.56" fill="#efe6f5"/><circle cx="29.08" cy="40.46" r="0.55" fill="#ebe2f3"/><circle cx="88.74" cy="51.44" r="0.75" fill="#ebe2f3"/><circle cx="34.68" cy="68.65" r="0.42" fill="#a08ac4"/><circle cx="18.89" cy="40.99" r="0.7" fill="#bfa8d8"/><circle cx="81.46" cy="60.8" r="0.91" fill="#ebe2f3"/><circle cx="65.47" cy="31.55" r="0.52" fill="#efe6f5"/><circle cx="18" cy="82.05" r="0.53" fill="#9c84c0"/><circle cx="22.63" cy="48.92" r="0.72" fill="#c8b2dc"/><circle cx="51.72" cy="53.01" r="0.77" fill="#9c84c0"/><circle cx="87.98" cy="79.07" r="0.74" fill="#c8b2dc"/><circle cx="25.61" cy="84.08" r="0.95" fill="#b09ad0"/><circle cx="108.1" cy="106.84" r="0.86" fill="#ebe2f3"/><circle cx="123.35" cy="102" r="0.97" fill="#9c84c0"/><circle cx="34.5" cy="33.56" r="0.66" fill="#efe6f5"/><circle cx="51.12" cy="51.85" r="0.45" fill="#bfa8d8"/><circle cx="81.88" cy="97.16" r="0.62" fill="#c8b2dc"/><circle cx="32.02" cy="47.49" r="0.51" fill="#a08ac4"/><circle cx="104.11" cy="44.25" r="0.78" fill="#9c84c0"/><circle cx="98.45" cy="70.01" r="0.62" fill="#efe6f5"/><circle cx="25.91" cy="97.04" r="0.88" fill="#b09ad0"/><circle cx="109.91" cy="101.97" r="0.74" fill="#ebe2f3"/><circle cx="57.41" cy="30.5" r="0.5" fill="#bfa8d8"/><circle cx="80.82" cy="90.67" r="0.91" fill="#c8b2dc"/><circle cx="44.35" cy="27.79" r="0.85" fill="#efe6f5"/><circle cx="55.07" cy="101.64" r="0.61" fill="#efe6f5"/><circle cx="50.57" cy="80.04" r="0.7" fill="#c8b2dc"/><circle cx="54.62" cy="47.98" r="0.46" fill="#a08ac4"/><circle cx="32.36" cy="51.76" r="0.62" fill="#a08ac4"/><circle cx="30.19" cy="49.72" r="0.56" fill="#c8b2dc"/><circle cx="97.91" cy="64.85" r="0.94" fill="#a08ac4"/><circle cx="114.39" cy="97.55" r="0.54" fill="#9c84c0"/><circle cx="101.25" cy="69.81" r="0.53" fill="#b09ad0"/><circle cx="28.76" cy="42.46" r="0.55" fill="#bfa8d8"/><circle cx="30.17" cy="95.52" r="0.56" fill="#9c84c0"/><circle cx="51.09" cy="80.84" r="0.92" fill="#efe6f5"/><circle cx="67.98" cy="68.17" r="0.78" fill="#a08ac4"/><circle cx="4.31" cy="50.58" r="0.61" fill="#bfa8d8"/><circle cx="19.49" cy="98.83" r="0.89" fill="#b09ad0"/><circle cx="123.49" cy="94.06" r="0.47" fill="#ebe2f3"/><circle cx="51.96" cy="38.7" r="0.47" fill="#c8b2dc"/><circle cx="124.73" cy="67.62" r="0.46" fill="#bfa8d8"/><circle cx="16.26" cy="68.21" r="0.74" fill="#9c84c0"/><circle cx="95.92" cy="70.07" r="0.53" fill="#b09ad0"/><circle cx="95.55" cy="37.21" r="0.92" fill="#b09ad0"/><circle cx="57.93" cy="50.59" r="0.81" fill="#c8b2dc"/><circle cx="22.44" cy="64.87" r="0.85" fill="#efe6f5"/><circle cx="31.61" cy="83.25" r="0.68" fill="#bfa8d8"/><circle cx="101.37" cy="49.8" r="0.85" fill="#bfa8d8"/><circle cx="100.63" cy="94.89" r="0.97" fill="#bfa8d8"/><circle cx="26.25" cy="55.41" r="0.56" fill="#c8b2dc"/><circle cx="3.12" cy="97.03" r="0.86" fill="#a08ac4"/><circle cx="70.72" cy="55.38" r="0.94" fill="#c8b2dc"/><circle cx="32.63" cy="59.95" r="0.87" fill="#c8b2dc"/><circle cx="110.81" cy="94.65" r="0.69" fill="#efe6f5"/><circle cx="96.29" cy="33.11" r="0.54" fill="#b09ad0"/><circle cx="85.93" cy="85.03" r="0.51" fill="#9c84c0"/><circle cx="100.64" cy="88.39" r="0.69" fill="#bfa8d8"/><circle cx="114.46" cy="73.02" r="0.53" fill="#9c84c0"/><circle cx="30.88" cy="54.72" r="0.81" fill="#b09ad0"/><circle cx="69.32" cy="33.42" r="0.71" fill="#b09ad0"/><circle cx="38.06" cy="28.17" r="0.63" fill="#a08ac4"/><circle cx="94.65" cy="75.55" r="0.69" fill="#c8b2dc"/><circle cx="22.28" cy="103.23" r="0.6" fill="#a08ac4"/><circle cx="37.91" cy="63.96" r="0.63" fill="#b09ad0"/><circle cx="132.03" cy="74.27" r="0.51" fill="#b09ad0"/><circle cx="2.94" cy="52.07" r="0.9" fill="#ebe2f3"/><circle cx="111.91" cy="70.78" r="0.64" fill="#c8b2dc"/><circle cx="17.11" cy="72.25" r="0.8" fill="#c8b2dc"/><circle cx="6.56" cy="53.4" r="0.79" fill="#bfa8d8"/><circle cx="121.76" cy="105.07" r="0.61" fill="#efe6f5"/><circle cx="81.37" cy="92.59" r="0.42" fill="#bfa8d8"/><circle cx="37.66" cy="101.78" r="0.8" fill="#bfa8d8"/><circle cx="24.29" cy="95.71" r="0.83" fill="#b09ad0"/><circle cx="132.01" cy="77.93" r="0.82" fill="#c8b2dc"/><circle cx="27.81" cy="59.64" r="0.86" fill="#c8b2dc"/><circle cx="114.29" cy="89.33" r="0.49" fill="#efe6f5"/><circle cx="20.41" cy="72.47" r="0.94" fill="#9c84c0"/><circle cx="70.91" cy="85.63" r="0.92" fill="#b09ad0"/><circle cx="83.19" cy="46.71" r="0.91" fill="#9c84c0"/><circle cx="94.43" cy="102.97" r="0.53" fill="#ebe2f3"/><circle cx="52.27" cy="79.73" r="0.77" fill="#bfa8d8"/><circle cx="26.67" cy="87.41" r="0.4" fill="#a08ac4"/><circle cx="132.9" cy="104.17" r="0.53" fill="#efe6f5"/><circle cx="113.52" cy="85.57" r="0.75" fill="#efe6f5"/><circle cx="39.25" cy="60.83" r="0.55" fill="#a08ac4"/><circle cx="101.91" cy="93.03" r="0.64" fill="#efe6f5"/><circle cx="76.15" cy="68.87" r="0.64" fill="#c8b2dc"/><circle cx="53.23" cy="92.49" r="0.51" fill="#9c84c0"/><circle cx="54.5" cy="67.85" r="0.71" fill="#c8b2dc"/><circle cx="28" cy="68.54" r="0.61" fill="#b09ad0"/><circle cx="133.6" cy="72.72" r="0.73" fill="#c8b2dc"/><circle cx="71.83" cy="81.72" r="0.84" fill="#ebe2f3"/><circle cx="65.79" cy="97.94" r="0.76" fill="#b09ad0"/><circle cx="64.43" cy="54.77" r="0.65" fill="#9c84c0"/><circle cx="8.5" cy="28.42" r="0.63" fill="#a08ac4"/><circle cx="27.42" cy="63.1" r="0.76" fill="#ebe2f3"/><circle cx="4.72" cy="57.55" r="0.88" fill="#9c84c0"/><circle cx="132.15" cy="80.27" r="0.79" fill="#ebe2f3"/><circle cx="11.33" cy="96.02" r="0.49" fill="#a08ac4"/><circle cx="69.02" cy="39.59" r="0.99" fill="#a08ac4"/><circle cx="119.99" cy="106.06" r="0.86" fill="#efe6f5"/><circle cx="46.07" cy="93.44" r="0.72" fill="#bfa8d8"/><circle cx="7.54" cy="68.16" r="0.67" fill="#a08ac4"/><circle cx="120.74" cy="87.61" r="0.83" fill="#9c84c0"/><circle cx="59.76" cy="92.21" r="0.49" fill="#9c84c0"/><circle cx="0.15" cy="61.47" r="0.84" fill="#c8b2dc"/><circle cx="43.38" cy="65.61" r="0.96" fill="#efe6f5"/><circle cx="26.37" cy="82.91" r="0.68" fill="#efe6f5"/><circle cx="3.14" cy="69.89" r="0.97" fill="#c8b2dc"/><circle cx="29.07" cy="101.14" r="0.76" fill="#b09ad0"/><circle cx="75.2" cy="51.42" r="0.95" fill="#ebe2f3"/><circle cx="102.15" cy="59.58" r="0.75" fill="#ebe2f3"/><circle cx="104.19" cy="55.92" r="0.57" fill="#c8b2dc"/><circle cx="25.82" cy="44.87" r="0.51" fill="#efe6f5"/><circle cx="112.53" cy="87.25" r="0.58" fill="#c8b2dc"/><circle cx="3.72" cy="65.71" r="0.65" fill="#ebe2f3"/><circle cx="79.41" cy="58.88" r="0.59" fill="#c8b2dc"/><circle cx="89.27" cy="60.15" r="0.74" fill="#a08ac4"/><circle cx="48.09" cy="78.17" r="0.95" fill="#9c84c0"/><circle cx="9.01" cy="48.25" r="0.99" fill="#efe6f5"/><circle cx="114.74" cy="71.42" r="0.61" fill="#a08ac4"/><circle cx="132.21" cy="87.15" r="0.76" fill="#b09ad0"/><circle cx="135.87" cy="94.65" r="0.41" fill="#ebe2f3"/><circle cx="48.55" cy="25.23" r="0.7" fill="#c8b2dc"/><circle cx="1.76" cy="56.04" r="0.59" fill="#bfa8d8"/><circle cx="1.63" cy="107.95" r="0.99" fill="#c8b2dc"/><circle cx="0.07" cy="36.64" r="0.66" fill="#ebe2f3"/><circle cx="85.39" cy="72.82" r="0.78" fill="#b09ad0"/><circle cx="82.5" cy="76.78" r="0.97" fill="#c8b2dc"/><circle cx="91.65" cy="55.97" r="0.5" fill="#b09ad0"/><circle cx="34.11" cy="65.75" r="0.53" fill="#efe6f5"/><circle cx="110.12" cy="79.44" r="0.43" fill="#c8b2dc"/><circle cx="120.9" cy="88.87" r="0.48" fill="#a08ac4"/><circle cx="74.62" cy="84.29" r="0.81" fill="#b09ad0"/><circle cx="113.43" cy="71.94" r="0.5" fill="#b09ad0"/><circle cx="76.08" cy="104.11" r="0.79" fill="#c8b2dc"/><circle cx="25.74" cy="88.5" r="0.71" fill="#9c84c0"/><circle cx="54.09" cy="55.13" r="0.95" fill="#c8b2dc"/><circle cx="8.71" cy="78.69" r="0.49" fill="#b09ad0"/><circle cx="126.95" cy="66" r="0.86" fill="#b09ad0"/><circle cx="103.48" cy="92.95" r="0.53" fill="#a08ac4"/><circle cx="109.19" cy="98.22" r="0.72" fill="#9c84c0"/><circle cx="54.58" cy="79.22" r="0.66" fill="#c8b2dc"/><circle cx="13.6" cy="30.57" r="0.93" fill="#b09ad0"/><circle cx="69.82" cy="57.04" r="0.85" fill="#ebe2f3"/><circle cx="6.41" cy="73.26" r="0.99" fill="#b09ad0"/><circle cx="119.17" cy="98.11" r="0.74" fill="#b09ad0"/><circle cx="110.41" cy="67.38" r="0.69" fill="#a08ac4"/><circle cx="88.97" cy="97.45" r="0.74" fill="#efe6f5"/><circle cx="69.97" cy="66.48" r="0.65" fill="#ebe2f3"/><circle cx="12.21" cy="26.96" r="0.73" fill="#c8b2dc"/><circle cx="109.16" cy="80.36" r="0.69" fill="#ebe2f3"/><circle cx="16.42" cy="76.89" r="0.75" fill="#9c84c0"/><circle cx="108.06" cy="93.04" r="0.89" fill="#efe6f5"/><circle cx="14.24" cy="91.2" r="0.71" fill="#9c84c0"/><circle cx="123.93" cy="59.37" r="0.95" fill="#a08ac4"/><circle cx="20.76" cy="38.82" r="0.56" fill="#b09ad0"/><circle cx="47.74" cy="79.61" r="0.77" fill="#efe6f5"/><circle cx="73.4" cy="86.84" r="0.59" fill="#efe6f5"/><circle cx="16.3" cy="98.82" r="0.6" fill="#ebe2f3"/><circle cx="52.67" cy="99.67" r="0.81" fill="#bfa8d8"/><circle cx="16.88" cy="64.22" r="0.95" fill="#9c84c0"/><circle cx="25.45" cy="107.59" r="0.99" fill="#efe6f5"/><circle cx="4.52" cy="81.36" r="0.54" fill="#efe6f5"/><circle cx="99.08" cy="102.75" r="0.72" fill="#efe6f5"/><circle cx="14.38" cy="49.75" r="0.96" fill="#9c84c0"/><circle cx="74.68" cy="72.76" r="0.87" fill="#bfa8d8"/><circle cx="55.39" cy="92.95" r="0.73" fill="#ebe2f3"/><circle cx="44.73" cy="84.17" r="1" fill="#9c84c0"/><circle cx="106.74" cy="78.83" r="0.83" fill="#9c84c0"/><circle cx="39.39" cy="45.76" r="0.64" fill="#a08ac4"/><circle cx="121.04" cy="78.93" r="0.67" fill="#bfa8d8"/><circle cx="43.97" cy="26.43" r="0.6" fill="#a08ac4"/><circle cx="104.82" cy="58.53" r="0.66" fill="#a08ac4"/><circle cx="2.21" cy="81.86" r="0.89" fill="#efe6f5"/><circle cx="107.74" cy="79.03" r="0.67" fill="#b09ad0"/><circle cx="113.12" cy="69.99" r="0.89" fill="#b09ad0"/><circle cx="40.84" cy="38.84" r="1" fill="#a08ac4"/><circle cx="95.72" cy="45.07" r="0.85" fill="#efe6f5"/><circle cx="112.53" cy="104.55" r="0.42" fill="#9c84c0"/><circle cx="114.78" cy="96.72" r="0.83" fill="#bfa8d8"/><circle cx="25.6" cy="81.37" r="0.91" fill="#9c84c0"/><circle cx="58.82" cy="63.19" r="0.44" fill="#efe6f5"/><circle cx="53.67" cy="38.52" r="0.95" fill="#bfa8d8"/><circle cx="25.04" cy="82.3" r="0.61" fill="#ebe2f3"/><circle cx="72.26" cy="43.2" r="0.68" fill="#c8b2dc"/><circle cx="17.04" cy="31.82" r="0.8" fill="#efe6f5"/><circle cx="110.39" cy="57.45" r="0.75" fill="#b09ad0"/><circle cx="44.13" cy="70.88" r="0.72" fill="#a08ac4"/><circle cx="103.68" cy="93.35" r="0.88" fill="#bfa8d8"/><circle cx="122.33" cy="76.57" r="0.86" fill="#efe6f5"/><circle cx="8.42" cy="100.1" r="0.43" fill="#bfa8d8"/><circle cx="94.15" cy="85.76" r="0.82" fill="#a08ac4"/><circle cx="70.9" cy="36.1" r="0.48" fill="#b09ad0"/><circle cx="19.15" cy="37.37" r="0.89" fill="#b09ad0"/><circle cx="29.2" cy="80.9" r="0.54" fill="#b09ad0"/><circle cx="14.11" cy="98.37" r="0.55" fill="#ebe2f3"/><circle cx="5.52" cy="78.22" r="0.56" fill="#9c84c0"/><circle cx="3.39" cy="89.49" r="0.68" fill="#a08ac4"/><circle cx="86.46" cy="70.63" r="0.63" fill="#efe6f5"/><circle cx="110.35" cy="93.31" r="0.85" fill="#9c84c0"/><circle cx="68.1" cy="68.32" r="0.41" fill="#c8b2dc"/><circle cx="109.96" cy="72.67" r="0.62" fill="#ebe2f3"/><circle cx="25.62" cy="71.5" r="0.75" fill="#c8b2dc"/><circle cx="60.01" cy="101.94" r="0.7" fill="#bfa8d8"/><circle cx="104.64" cy="62.85" r="0.52" fill="#bfa8d8"/><circle cx="99.39" cy="52.34" r="0.43" fill="#ebe2f3"/><circle cx="21.31" cy="92.03" r="0.69" fill="#efe6f5"/><circle cx="4.42" cy="98.5" r="0.83" fill="#b09ad0"/><circle cx="126.23" cy="97.3" r="0.81" fill="#b09ad0"/><circle cx="130.73" cy="64.81" r="0.85" fill="#ebe2f3"/><circle cx="21.48" cy="76.03" r="0.9" fill="#b09ad0"/><circle cx="45.78" cy="75.98" r="0.42" fill="#bfa8d8"/><circle cx="48.09" cy="45.23" r="0.88" fill="#bfa8d8"/><circle cx="105.23" cy="100.13" r="0.89" fill="#a08ac4"/><circle cx="28.48" cy="59.97" r="0.92" fill="#ebe2f3"/><circle cx="102.16" cy="70.27" r="0.76" fill="#ebe2f3"/><circle cx="11.13" cy="101.17" r="0.71" fill="#efe6f5"/><circle cx="12.13" cy="104.51" r="0.66" fill="#c8b2dc"/><circle cx="22.27" cy="60.88" r="0.5" fill="#bfa8d8"/><circle cx="72.5" cy="71.2" r="0.75" fill="#bfa8d8"/><circle cx="111.14" cy="82.99" r="0.58" fill="#9c84c0"/><circle cx="42.04" cy="62.55" r="0.69" fill="#bfa8d8"/><circle cx="99.4" cy="95.52" r="0.56" fill="#efe6f5"/><circle cx="9.24" cy="69.28" r="0.52" fill="#c8b2dc"/><circle cx="103.36" cy="104.09" r="0.9" fill="#c8b2dc"/><circle cx="91.63" cy="71.63" r="0.8" fill="#bfa8d8"/><circle cx="65.03" cy="38.85" r="0.51" fill="#b09ad0"/><circle cx="9.92" cy="84.18" r="0.9" fill="#b09ad0"/><circle cx="70.4" cy="60.39" r="0.92" fill="#a08ac4"/><circle cx="113" cy="90.16" r="0.88" fill="#b09ad0"/><circle cx="135.17" cy="68.09" r="0.67" fill="#c8b2dc"/><circle cx="38.21" cy="89.57" r="0.87" fill="#c8b2dc"/><circle cx="73.91" cy="62.9" r="0.62" fill="#efe6f5"/><circle cx="17.71" cy="54.13" r="0.42" fill="#9c84c0"/><circle cx="88.03" cy="65.29" r="0.98" fill="#9c84c0"/><circle cx="84.35" cy="65.74" r="0.47" fill="#ebe2f3"/><circle cx="30.83" cy="105.71" r="0.79" fill="#bfa8d8"/><circle cx="71.64" cy="81.26" r="0.94" fill="#c8b2dc"/><circle cx="71.14" cy="74.62" r="0.97" fill="#ebe2f3"/><circle cx="110.5" cy="84.67" r="0.85" fill="#b09ad0"/><circle cx="52.76" cy="49.46" r="0.66" fill="#bfa8d8"/><circle cx="29.07" cy="84.86" r="0.59" fill="#9c84c0"/><circle cx="2.77" cy="63.49" r="0.8" fill="#a08ac4"/><circle cx="71.55" cy="37.31" r="0.81" fill="#bfa8d8"/><circle cx="113.79" cy="79.81" r="0.91" fill="#9c84c0"/><circle cx="75.07" cy="46.15" r="0.59" fill="#a08ac4"/><circle cx="45.32" cy="89.76" r="0.94" fill="#bfa8d8"/><circle cx="114.48" cy="84.12" r="0.51" fill="#a08ac4"/><circle cx="18.51" cy="90.96" r="0.64" fill="#9c84c0"/><circle cx="122.89" cy="102.76" r="0.94" fill="#ebe2f3"/><circle cx="17.93" cy="29.85" r="0.68" fill="#c8b2dc"/><circle cx="128.69" cy="50.44" r="0.96" fill="#b09ad0"/><circle cx="126.47" cy="75.18" r="0.49" fill="#a08ac4"/><circle cx="14.14" cy="80.83" r="0.55" fill="#bfa8d8"/><circle cx="22.44" cy="41.19" r="0.76" fill="#b09ad0"/><circle cx="125.38" cy="80.43" r="0.52" fill="#a08ac4"/><circle cx="4.31" cy="102.67" r="0.65" fill="#a08ac4"/><circle cx="46.15" cy="31.87" r="0.52" fill="#efe6f5"/><circle cx="51.35" cy="54.66" r="0.62" fill="#c8b2dc"/><circle cx="9.26" cy="47.63" r="0.93" fill="#efe6f5"/><circle cx="74.93" cy="54.01" r="0.86" fill="#ebe2f3"/><circle cx="25.48" cy="73.63" r="0.82" fill="#c8b2dc"/><circle cx="32.77" cy="53.09" r="0.95" fill="#a08ac4"/><circle cx="12.93" cy="44.53" r="0.85" fill="#a08ac4"/><circle cx="136.19" cy="80.49" r="0.63" fill="#efe6f5"/><circle cx="82.1" cy="80.46" r="0.43" fill="#efe6f5"/><circle cx="61.95" cy="30.94" r="0.52" fill="#9c84c0"/><circle cx="119.24" cy="55.08" r="0.68" fill="#a08ac4"/><circle cx="58.34" cy="63.47" r="0.75" fill="#9c84c0"/><circle cx="1.62" cy="58.32" r="0.9" fill="#ebe2f3"/><circle cx="23.11" cy="87.49" r="0.41" fill="#a08ac4"/><circle cx="72.35" cy="69.59" r="0.44" fill="#ebe2f3"/><circle cx="107.51" cy="60.18" r="0.95" fill="#ebe2f3"/><circle cx="42.6" cy="91.26" r="0.97" fill="#ebe2f3"/><circle cx="11.8" cy="50.22" r="0.78" fill="#ebe2f3"/><circle cx="93.1" cy="71.54" r="0.53" fill="#a08ac4"/><circle cx="11.32" cy="94.24" r="0.62" fill="#b09ad0"/><circle cx="41.66" cy="75.24" r="0.87" fill="#b09ad0"/><circle cx="107.28" cy="91.55" r="0.5" fill="#9c84c0"/><circle cx="120.8" cy="68.98" r="0.98" fill="#c8b2dc"/><circle cx="48.74" cy="54.67" r="0.8" fill="#a08ac4"/><circle cx="84.89" cy="69.93" r="0.45" fill="#bfa8d8"/><circle cx="64.58" cy="57.02" r="0.92" fill="#c8b2dc"/><circle cx="133.7" cy="69.13" r="0.8" fill="#efe6f5"/><circle cx="12.13" cy="95.38" r="0.56" fill="#c8b2dc"/><circle cx="42.9" cy="96.16" r="0.7" fill="#b09ad0"/><circle cx="124" cy="62.08" r="0.71" fill="#a08ac4"/><circle cx="28.33" cy="73.17" r="0.56" fill="#bfa8d8"/><circle cx="6.5" cy="54" r="0.56" fill="#9c84c0"/><circle cx="55.76" cy="48.74" r="0.91" fill="#bfa8d8"/><circle cx="56.44" cy="62.59" r="0.78" fill="#ebe2f3"/><circle cx="127.34" cy="107.8" r="0.9" fill="#bfa8d8"/><circle cx="49.6" cy="39.21" r="0.65" fill="#bfa8d8"/><circle cx="134.17" cy="51.91" r="0.46" fill="#9c84c0"/><circle cx="75.16" cy="92.03" r="0.69" fill="#efe6f5"/><circle cx="26.1" cy="84.59" r="0.52" fill="#a08ac4"/><circle cx="23.35" cy="98.2" r="0.93" fill="#b09ad0"/><circle cx="93.58" cy="40.58" r="0.56" fill="#efe6f5"/><circle cx="75.5" cy="99.29" r="0.86" fill="#a08ac4"/><circle cx="78.83" cy="81.96" r="0.74" fill="#9c84c0"/><circle cx="23" cy="73.51" r="0.58" fill="#b09ad0"/><circle cx="0.64" cy="106.48" r="0.98" fill="#bfa8d8"/><circle cx="107.94" cy="66.09" r="0.52" fill="#9c84c0"/><circle cx="15.39" cy="70.76" r="0.96" fill="#bfa8d8"/><circle cx="71.32" cy="82.62" r="0.71" fill="#c8b2dc"/><circle cx="131.67" cy="69.67" r="0.6" fill="#bfa8d8"/><circle cx="55.01" cy="107.52" r="0.98" fill="#a08ac4"/><circle cx="116.03" cy="82.12" r="0.84" fill="#9c84c0"/><circle cx="27.48" cy="58.93" r="0.87" fill="#9c84c0"/><circle cx="103.58" cy="51.13" r="0.55" fill="#9c84c0"/><circle cx="48.4" cy="42.19" r="0.67" fill="#a08ac4"/><circle cx="87.57" cy="40.03" r="0.96" fill="#9c84c0"/><circle cx="61.72" cy="51.81" r="0.78" fill="#efe6f5"/><circle cx="97.43" cy="78.33" r="0.59" fill="#a08ac4"/><circle cx="62.73" cy="29.67" r="0.54" fill="#c8b2dc"/><circle cx="101.57" cy="30.75" r="0.86" fill="#efe6f5"/><circle cx="4.95" cy="51.94" r="0.51" fill="#c8b2dc"/><circle cx="46.59" cy="84.54" r="0.79" fill="#efe6f5"/><circle cx="17.92" cy="53" r="0.72" fill="#a08ac4"/><circle cx="38.86" cy="100.92" r="0.5" fill="#c8b2dc"/><circle cx="93.53" cy="75.75" r="0.44" fill="#efe6f5"/><circle cx="60.3" cy="106.61" r="0.85" fill="#ebe2f3"/><circle cx="18.83" cy="86.86" r="0.65" fill="#bfa8d8"/><circle cx="71.91" cy="80.76" r="0.99" fill="#ebe2f3"/><circle cx="93.47" cy="104.95" r="0.41" fill="#efe6f5"/><circle cx="96.18" cy="36.6" r="0.6" fill="#c8b2dc"/><circle cx="84.9" cy="85.13" r="0.59" fill="#b09ad0"/><circle cx="1.18" cy="22.03" r="0.76" fill="#b09ad0"/><circle cx="53.34" cy="81.95" r="1" fill="#ebe2f3"/><circle cx="34.36" cy="81" r="0.76" fill="#9c84c0"/><circle cx="19.97" cy="106.79" r="0.46" fill="#ebe2f3"/><circle cx="107.29" cy="83.36" r="0.47" fill="#b09ad0"/><circle cx="107.99" cy="100.17" r="0.9" fill="#9c84c0"/><circle cx="43.54" cy="40.09" r="0.43" fill="#bfa8d8"/><circle cx="42.03" cy="90.41" r="0.91" fill="#a08ac4"/><circle cx="2.64" cy="88.17" r="0.74" fill="#ebe2f3"/><circle cx="56.95" cy="73.44" r="0.84" fill="#a08ac4"/><circle cx="15.79" cy="71.02" r="0.77" fill="#9c84c0"/><circle cx="116.02" cy="64.94" r="0.78" fill="#ebe2f3"/><circle cx="8.87" cy="74.73" r="0.86" fill="#a08ac4"/><circle cx="55.87" cy="43.15" r="0.85" fill="#ebe2f3"/><circle cx="136.47" cy="64.42" r="0.7" fill="#9c84c0"/><circle cx="86.31" cy="57.91" r="0.44" fill="#ebe2f3"/><circle cx="30.78" cy="40.82" r="0.64" fill="#bfa8d8"/><circle cx="134.72" cy="70.42" r="0.44" fill="#bfa8d8"/><circle cx="115.01" cy="105.42" r="0.85" fill="#b09ad0"/><circle cx="80.18" cy="76.69" r="0.73" fill="#efe6f5"/><circle cx="17.6" cy="97.55" r="0.73" fill="#bfa8d8"/><circle cx="135.32" cy="65.33" r="0.67" fill="#b09ad0"/><circle cx="109.11" cy="72.23" r="0.84" fill="#c8b2dc"/><circle cx="72.63" cy="107.2" r="0.83" fill="#bfa8d8"/><circle cx="0.71" cy="99.34" r="0.53" fill="#9c84c0"/><circle cx="28.8" cy="52.24" r="0.73" fill="#bfa8d8"/><circle cx="61.57" cy="98.33" r="0.45" fill="#c8b2dc"/><circle cx="4.68" cy="67.96" r="0.96" fill="#b09ad0"/><circle cx="103.87" cy="62.44" r="0.97" fill="#ebe2f3"/><circle cx="109.66" cy="96.45" r="0.71" fill="#a08ac4"/><circle cx="18.87" cy="90.86" r="0.46" fill="#a08ac4"/><circle cx="8.72" cy="26.7" r="0.89" fill="#ebe2f3"/><circle cx="6.1" cy="82.66" r="0.59" fill="#b09ad0"/><circle cx="47.26" cy="73.79" r="0.81" fill="#9c84c0"/><circle cx="62.47" cy="37.87" r="0.47" fill="#9c84c0"/><circle cx="19.19" cy="50.63" r="0.67" fill="#bfa8d8"/><circle cx="42.62" cy="36.89" r="0.7" fill="#efe6f5"/><circle cx="28.29" cy="87.82" r="0.69" fill="#b09ad0"/><circle cx="97.62" cy="73.45" r="0.49" fill="#9c84c0"/><circle cx="39.98" cy="101.91" r="0.54" fill="#efe6f5"/><circle cx="102.56" cy="101.88" r="0.44" fill="#a08ac4"/><circle cx="97.42" cy="66.32" r="0.61" fill="#c8b2dc"/><circle cx="128.43" cy="77.63" r="0.69" fill="#efe6f5"/><circle cx="104.23" cy="85.47" r="0.98" fill="#efe6f5"/><circle cx="72.7" cy="47" r="0.97" fill="#efe6f5"/><circle cx="84.47" cy="34.11" r="0.93" fill="#efe6f5"/><circle cx="105.63" cy="57.44" r="0.79" fill="#efe6f5"/><circle cx="97.25" cy="97.98" r="0.42" fill="#ebe2f3"/><circle cx="69.65" cy="59.84" r="0.88" fill="#c8b2dc"/><circle cx="102.29" cy="78.32" r="0.78" fill="#a08ac4"/><circle cx="26.51" cy="34.78" r="0.42" fill="#bfa8d8"/><circle cx="72.87" cy="101.94" r="0.7" fill="#9c84c0"/><circle cx="18.94" cy="104.4" r="0.91" fill="#b09ad0"/><circle cx="98.62" cy="72.55" r="0.98" fill="#ebe2f3"/><circle cx="14.88" cy="71.16" r="0.82" fill="#ebe2f3"/><circle cx="22.59" cy="73.75" r="0.46" fill="#b09ad0"/><circle cx="9.26" cy="38.88" r="0.93" fill="#ebe2f3"/><circle cx="47.38" cy="104.89" r="0.47" fill="#a08ac4"/><circle cx="55.32" cy="39.29" r="0.57" fill="#bfa8d8"/><circle cx="33.61" cy="44.46" r="0.85" fill="#bfa8d8"/><circle cx="8.83" cy="45.32" r="0.82" fill="#c8b2dc"/><circle cx="36.98" cy="103.62" r="0.75" fill="#c8b2dc"/><circle cx="80.72" cy="74.46" r="0.8" fill="#bfa8d8"/><circle cx="24.97" cy="61.68" r="0.71" fill="#a08ac4"/><circle cx="112.2" cy="83.52" r="0.49" fill="#efe6f5"/><circle cx="98.29" cy="75.07" r="0.7" fill="#c8b2dc"/><circle cx="134.36" cy="104.38" r="0.99" fill="#c8b2dc"/><circle cx="76.68" cy="53.31" r="1" fill="#a08ac4"/><circle cx="5.87" cy="33.03" r="0.69" fill="#ebe2f3"/><circle cx="88.36" cy="85.65" r="0.48" fill="#bfa8d8"/><circle cx="49.4" cy="66.41" r="0.68" fill="#9c84c0"/><circle cx="114.05" cy="68.86" r="0.59" fill="#9c84c0"/><circle cx="41.99" cy="44.16" r="0.67" fill="#9c84c0"/><circle cx="102.63" cy="105.29" r="0.46" fill="#efe6f5"/><circle cx="38.94" cy="84.24" r="0.53" fill="#ebe2f3"/><circle cx="26.01" cy="86.06" r="0.79" fill="#a08ac4"/><circle cx="133.94" cy="67.58" r="0.98" fill="#efe6f5"/><circle cx="55.92" cy="68.79" r="0.85" fill="#9c84c0"/><circle cx="79.09" cy="63.46" r="0.87" fill="#ebe2f3"/><circle cx="92.23" cy="80.42" r="0.94" fill="#efe6f5"/><circle cx="131.66" cy="107.68" r="0.69" fill="#c8b2dc"/><circle cx="84.88" cy="74.1" r="0.81" fill="#bfa8d8"/><circle cx="87.84" cy="92.36" r="0.68" fill="#bfa8d8"/><circle cx="70.83" cy="72.51" r="0.85" fill="#b09ad0"/><circle cx="27.16" cy="40.48" r="0.92" fill="#a08ac4"/><circle cx="133.46" cy="93.09" r="0.81" fill="#ebe2f3"/><circle cx="73.67" cy="95.56" r="0.59" fill="#ebe2f3"/><circle cx="94.43" cy="64.29" r="0.93" fill="#c8b2dc"/><circle cx="74.26" cy="49.89" r="0.57" fill="#9c84c0"/><circle cx="9.48" cy="55.38" r="0.46" fill="#ebe2f3"/><circle cx="8.36" cy="31.48" r="0.44" fill="#ebe2f3"/><circle cx="49.12" cy="57.63" r="0.88" fill="#a08ac4"/><circle cx="11.16" cy="56.12" r="1" fill="#bfa8d8"/><circle cx="43.26" cy="74.59" r="0.53" fill="#c8b2dc"/><circle cx="112.44" cy="88.83" r="0.42" fill="#efe6f5"/><circle cx="32.55" cy="55.63" r="0.81" fill="#9c84c0"/><circle cx="106.47" cy="62.68" r="0.51" fill="#bfa8d8"/><circle cx="83.92" cy="82.21" r="0.7" fill="#9c84c0"/><circle cx="116.64" cy="98.47" r="0.86" fill="#c8b2dc"/><circle cx="40.16" cy="66.15" r="0.91" fill="#9c84c0"/><circle cx="23.59" cy="42.65" r="0.77" fill="#9c84c0"/><circle cx="7.59" cy="99.61" r="0.6" fill="#a08ac4"/><circle cx="53.61" cy="47.92" r="0.96" fill="#9c84c0"/><circle cx="92.46" cy="91.78" r="0.84" fill="#c8b2dc"/><circle cx="117.75" cy="62.64" r="0.77" fill="#ebe2f3"/><circle cx="35.58" cy="101.3" r="0.57" fill="#b09ad0"/><circle cx="43.17" cy="36.89" r="0.71" fill="#a08ac4"/><circle cx="136.69" cy="104.31" r="0.94" fill="#ebe2f3"/><circle cx="103.08" cy="61.71" r="0.85" fill="#efe6f5"/><circle cx="132.92" cy="78.77" r="0.56" fill="#a08ac4"/><circle cx="19.94" cy="88.5" r="0.76" fill="#9c84c0"/><circle cx="34.36" cy="98.42" r="0.9" fill="#efe6f5"/><circle cx="59.94" cy="76.41" r="0.44" fill="#c8b2dc"/><circle cx="126.2" cy="67.41" r="0.74" fill="#c8b2dc"/><circle cx="36.76" cy="61.97" r="0.79" fill="#c8b2dc"/><circle cx="112.18" cy="60.92" r="0.94" fill="#9c84c0"/><circle cx="36.96" cy="75.33" r="0.75" fill="#c8b2dc"/><circle cx="6.31" cy="53.27" r="0.66" fill="#ebe2f3"/><circle cx="37.53" cy="37.04" r="0.6" fill="#9c84c0"/><circle cx="38.75" cy="67.64" r="0.97" fill="#ebe2f3"/><circle cx="59.13" cy="104.62" r="0.88" fill="#9c84c0"/><circle cx="42.33" cy="42.9" r="0.81" fill="#a08ac4"/><circle cx="56.88" cy="29.09" r="0.59" fill="#b09ad0"/><circle cx="104.9" cy="65.3" r="0.8" fill="#c8b2dc"/><circle cx="94.53" cy="106.89" r="0.56" fill="#efe6f5"/><circle cx="128.77" cy="102.86" r="0.88" fill="#a08ac4"/><circle cx="51.27" cy="104.46" r="0.75" fill="#a08ac4"/><circle cx="10.08" cy="29.96" r="0.84" fill="#efe6f5"/><circle cx="52.84" cy="30.1" r="0.57" fill="#a08ac4"/><circle cx="1.7" cy="76.55" r="0.52" fill="#bfa8d8"/><circle cx="111.45" cy="82.44" r="0.75" fill="#b09ad0"/><circle cx="43.64" cy="72.93" r="0.59" fill="#b09ad0"/><circle cx="51.62" cy="83.01" r="0.53" fill="#a08ac4"/><circle cx="4.35" cy="86.91" r="1" fill="#a08ac4"/><circle cx="31.43" cy="65.76" r="0.55" fill="#9c84c0"/><circle cx="129.74" cy="64.16" r="0.63" fill="#9c84c0"/><circle cx="72.27" cy="89.33" r="0.87" fill="#ebe2f3"/><circle cx="54.26" cy="57.75" r="0.77" fill="#a08ac4"/><circle cx="69.94" cy="46.45" r="0.77" fill="#a08ac4"/><circle cx="8.75" cy="104.93" r="0.44" fill="#efe6f5"/><circle cx="44.87" cy="80.26" r="0.98" fill="#ebe2f3"/><circle cx="56.45" cy="107.75" r="0.91" fill="#a08ac4"/><circle cx="37.32" cy="52.12" r="0.57" fill="#c8b2dc"/><circle cx="102.67" cy="89.41" r="0.62" fill="#9c84c0"/><circle cx="108.04" cy="67.61" r="0.98" fill="#b09ad0"/><circle cx="132.39" cy="68.6" r="0.52" fill="#c8b2dc"/><circle cx="101.16" cy="41.62" r="0.48" fill="#9c84c0"/><circle cx="91.71" cy="67.88" r="0.49" fill="#a08ac4"/><circle cx="92.24" cy="69.05" r="0.54" fill="#9c84c0"/><path d="M-2,4 C-1.6,3.95 -2,3.57 0.4,3.7 C2.8,3.83 9.13,3.08 12.4,4.8 C15.67,6.52 18.18,11.28 20,14 C21.82,16.72 22.13,21.1 23.3,21.1 C24.47,21.1 25.92,15.82 27,14 C28.08,12.18 27.63,11.28 29.8,10.2 C31.97,9.12 36.73,8.03 40,7.5 C43.27,6.97 46.4,6.83 49.4,7 C52.4,7.17 55.08,7.78 58,8.5 C60.92,9.22 64.23,9.05 66.9,11.3 C69.57,13.55 71.98,17.55 74,22 C76.02,26.45 77.83,34.88 79,38 C80.17,41.12 80.33,42.87 81,40.7 C81.67,38.53 82.45,29.72 83,25 C83.55,20.28 83.13,14.98 84.3,12.4 C85.47,9.82 88.18,10.03 90,9.5 C91.82,8.97 93.53,8.95 95.2,9.2 C96.87,9.45 98.55,10.1 100,11 C101.45,11.9 102.73,12.1 103.9,14.6 C105.07,17.1 105.92,22 107,26 C108.08,30 108.9,36.93 110.4,38.6 C111.9,40.27 113.45,37.1 116,36 C118.55,34.9 123.2,32.58 125.7,32 C128.2,31.42 128.78,32.13 131,32.5 C133.22,32.87 137.67,33.92 139,34.2 L139,64 L139,64 L126,62 L116,64 L108,60 L100,54 L88,56 L80,62 L70,52 L60,48 L50,47 L40,48 L30,50 L22,46 L10,42 L-2,40 Z" fill="#8f86c6" filter="url(#bl05)"/><circle cx="57.54" cy="21.05" r="0.64" fill="#6e62ae"/><circle cx="42.23" cy="42.34" r="0.55" fill="#7a70b8"/><circle cx="19.23" cy="27.61" r="0.56" fill="#a49cd2"/><circle cx="117.19" cy="55.74" r="0.99" fill="#a49cd2"/><circle cx="86.08" cy="38.4" r="0.67" fill="#6e62ae"/><circle cx="67.08" cy="31.32" r="0.98" fill="#b0a8da"/><circle cx="106.71" cy="40.29" r="1.01" fill="#b0a8da"/><circle cx="111.04" cy="60.49" r="0.65" fill="#6e62ae"/><circle cx="114.1" cy="47.22" r="1.08" fill="#7a70b8"/><circle cx="35.75" cy="43.24" r="0.52" fill="#a49cd2"/><circle cx="75.46" cy="36.54" r="0.61" fill="#6e62ae"/><circle cx="133.7" cy="60.82" r="0.69" fill="#b0a8da"/><circle cx="116.78" cy="58.23" r="0.79" fill="#6e62ae"/><circle cx="95.73" cy="45.97" r="0.82" fill="#b0a8da"/><circle cx="117.38" cy="54.39" r="0.8" fill="#7a70b8"/><circle cx="49.32" cy="10.87" r="0.79" fill="#7a70b8"/><circle cx="103.42" cy="35.77" r="0.95" fill="#b0a8da"/><circle cx="110.15" cy="57.05" r="0.88" fill="#6e62ae"/><circle cx="18.37" cy="26.26" r="0.91" fill="#b0a8da"/><circle cx="28.91" cy="26.34" r="0.53" fill="#b0a8da"/><circle cx="122.15" cy="53.91" r="0.64" fill="#6e62ae"/><circle cx="6.36" cy="17.6" r="0.78" fill="#7a70b8"/><circle cx="79.73" cy="49.19" r="0.73" fill="#b0a8da"/><circle cx="127.24" cy="50.87" r="0.75" fill="#6e62ae"/><circle cx="61.59" cy="48.43" r="0.51" fill="#6e62ae"/><circle cx="15.96" cy="16.99" r="0.78" fill="#a49cd2"/><circle cx="129.57" cy="40.57" r="0.97" fill="#6e62ae"/><circle cx="67.31" cy="23.05" r="0.54" fill="#a49cd2"/><circle cx="102.97" cy="20.98" r="0.51" fill="#b0a8da"/><circle cx="62.85" cy="45.34" r="0.65" fill="#a49cd2"/><circle cx="76.56" cy="33.44" r="0.83" fill="#6e62ae"/><circle cx="99.52" cy="51.2" r="1.1" fill="#a49cd2"/><circle cx="94.78" cy="29.01" r="0.61" fill="#b0a8da"/><circle cx="10.22" cy="13.49" r="0.93" fill="#7a70b8"/><circle cx="69.57" cy="45.62" r="0.9" fill="#6e62ae"/><circle cx="98.23" cy="23.83" r="0.67" fill="#6e62ae"/><circle cx="79.57" cy="48.57" r="0.63" fill="#6e62ae"/><circle cx="108.5" cy="45.77" r="0.72" fill="#b0a8da"/><circle cx="98.12" cy="13.38" r="0.59" fill="#6e62ae"/><circle cx="77.15" cy="34.33" r="0.73" fill="#a49cd2"/><circle cx="91.36" cy="45.54" r="0.98" fill="#7a70b8"/><circle cx="96.48" cy="25.83" r="0.65" fill="#7a70b8"/><circle cx="89.13" cy="53.66" r="0.69" fill="#a49cd2"/><circle cx="104.09" cy="36.42" r="0.68" fill="#7a70b8"/><circle cx="96.27" cy="38.18" r="0.62" fill="#b0a8da"/><circle cx="23.69" cy="22.99" r="1" fill="#6e62ae"/><circle cx="98.58" cy="40.11" r="0.5" fill="#a49cd2"/><circle cx="60.97" cy="23.36" r="0.9" fill="#6e62ae"/><circle cx="97.25" cy="32.94" r="0.85" fill="#7a70b8"/><circle cx="102.04" cy="25.02" r="0.66" fill="#b0a8da"/><circle cx="131.92" cy="49.77" r="0.64" fill="#a49cd2"/><circle cx="72.5" cy="25.2" r="0.53" fill="#a49cd2"/><circle cx="45.45" cy="20.58" r="1.03" fill="#6e62ae"/><circle cx="38.49" cy="32.43" r="1.06" fill="#7a70b8"/><circle cx="42.04" cy="25.21" r="1.01" fill="#a49cd2"/><circle cx="66.63" cy="23.83" r="0.53" fill="#7a70b8"/><circle cx="121.48" cy="58.27" r="1.1" fill="#7a70b8"/><circle cx="74.54" cy="29.31" r="0.83" fill="#a49cd2"/><circle cx="38.79" cy="37.17" r="0.51" fill="#a49cd2"/><circle cx="92.99" cy="29.85" r="0.79" fill="#a49cd2"/><circle cx="121.72" cy="46.95" r="0.74" fill="#6e62ae"/><circle cx="67.91" cy="31.6" r="1.04" fill="#b0a8da"/><circle cx="129.45" cy="47.43" r="0.97" fill="#a49cd2"/><circle cx="89.95" cy="29.61" r="1" fill="#7a70b8"/><circle cx="88.91" cy="36.95" r="0.73" fill="#b0a8da"/><circle cx="104.92" cy="53.45" r="0.65" fill="#a49cd2"/><circle cx="72.28" cy="25.39" r="0.55" fill="#b0a8da"/><circle cx="40.71" cy="16.85" r="0.62" fill="#6e62ae"/><circle cx="92.36" cy="52.98" r="0.59" fill="#7a70b8"/><circle cx="83.36" cy="47" r="0.94" fill="#a49cd2"/><circle cx="103.64" cy="19.79" r="0.89" fill="#6e62ae"/><circle cx="121.95" cy="46.25" r="0.66" fill="#b0a8da"/><circle cx="50.49" cy="19.4" r="1" fill="#6e62ae"/><circle cx="37.57" cy="41.27" r="0.52" fill="#a49cd2"/><circle cx="126.46" cy="46.29" r="0.55" fill="#6e62ae"/><circle cx="29.71" cy="33.89" r="0.85" fill="#b0a8da"/><circle cx="96.12" cy="28.81" r="0.93" fill="#6e62ae"/><circle cx="133.36" cy="40.64" r="1.01" fill="#b0a8da"/><circle cx="27.98" cy="40.51" r="0.93" fill="#a49cd2"/><circle cx="94.54" cy="37.9" r="0.84" fill="#7a70b8"/><circle cx="94.01" cy="16.55" r="1.05" fill="#6e62ae"/><circle cx="113.4" cy="62.03" r="0.84" fill="#6e62ae"/><circle cx="23.61" cy="24.91" r="0.7" fill="#7a70b8"/><circle cx="107.03" cy="52.07" r="0.61" fill="#a49cd2"/><circle cx="76.83" cy="38.81" r="0.99" fill="#b0a8da"/><circle cx="81.34" cy="60.83" r="0.77" fill="#6e62ae"/><circle cx="71.4" cy="37.92" r="0.6" fill="#7a70b8"/><circle cx="71.52" cy="20.4" r="0.93" fill="#a49cd2"/><circle cx="125.04" cy="34.88" r="0.92" fill="#7a70b8"/><circle cx="119.02" cy="56.89" r="0.96" fill="#a49cd2"/><circle cx="124.1" cy="36.97" r="0.68" fill="#a49cd2"/><circle cx="70.94" cy="42.85" r="0.57" fill="#a49cd2"/><circle cx="8.55" cy="15.45" r="0.55" fill="#7a70b8"/><circle cx="97.5" cy="16.49" r="0.99" fill="#b0a8da"/><circle cx="123.49" cy="50.79" r="0.8" fill="#6e62ae"/><circle cx="88.48" cy="26.12" r="0.82" fill="#7a70b8"/><circle cx="32.75" cy="22.78" r="0.98" fill="#a49cd2"/><circle cx="98.11" cy="33.16" r="0.88" fill="#7a70b8"/><circle cx="84.47" cy="33.92" r="0.79" fill="#b0a8da"/><circle cx="59.66" cy="41.43" r="0.51" fill="#a49cd2"/><circle cx="131.23" cy="48.99" r="0.54" fill="#7a70b8"/><circle cx="12.68" cy="22.27" r="0.86" fill="#a49cd2"/><circle cx="17.63" cy="14.1" r="0.6" fill="#7a70b8"/><circle cx="133.28" cy="52.16" r="0.97" fill="#7a70b8"/><circle cx="44.25" cy="28.96" r="0.59" fill="#6e62ae"/><circle cx="42.7" cy="36.18" r="0.98" fill="#b0a8da"/><circle cx="35.68" cy="17.84" r="1.07" fill="#b0a8da"/><circle cx="58.77" cy="14.65" r="1.01" fill="#a49cd2"/><circle cx="125.86" cy="37.09" r="1" fill="#7a70b8"/><circle cx="103.84" cy="27.29" r="0.59" fill="#6e62ae"/><circle cx="93.45" cy="38.82" r="0.91" fill="#6e62ae"/><circle cx="16.16" cy="20.12" r="0.68" fill="#6e62ae"/><circle cx="104.53" cy="54.45" r="0.99" fill="#b0a8da"/><circle cx="46.57" cy="37.38" r="0.95" fill="#a49cd2"/><circle cx="80.94" cy="58.15" r="0.74" fill="#b0a8da"/><circle cx="124.19" cy="46.44" r="0.8" fill="#6e62ae"/><circle cx="75.39" cy="43.26" r="0.95" fill="#a49cd2"/><circle cx="79.13" cy="54.31" r="0.62" fill="#b0a8da"/><circle cx="59.25" cy="26.95" r="0.72" fill="#a49cd2"/><circle cx="1.8" cy="8.94" r="0.89" fill="#a49cd2"/><circle cx="32.14" cy="30.27" r="0.73" fill="#b0a8da"/><circle cx="103.43" cy="27.76" r="0.5" fill="#b0a8da"/><circle cx="101.32" cy="46.94" r="1.04" fill="#b0a8da"/><circle cx="117.04" cy="40.69" r="0.68" fill="#7a70b8"/><circle cx="118.46" cy="38.04" r="1.04" fill="#b0a8da"/><circle cx="88.47" cy="47.06" r="0.55" fill="#a49cd2"/><circle cx="22.29" cy="33.36" r="1.09" fill="#a49cd2"/><circle cx="92.14" cy="42.48" r="0.89" fill="#6e62ae"/><circle cx="63.67" cy="24.67" r="0.91" fill="#7a70b8"/><circle cx="123.12" cy="54.95" r="0.95" fill="#7a70b8"/><circle cx="49.64" cy="10.29" r="0.78" fill="#a49cd2"/><circle cx="12.53" cy="19.78" r="0.83" fill="#7a70b8"/><circle cx="127.01" cy="50.07" r="0.97" fill="#6e62ae"/><circle cx="69.43" cy="20.27" r="0.79" fill="#a49cd2"/><circle cx="37.96" cy="41.43" r="1.07" fill="#a49cd2"/><circle cx="84.52" cy="16.64" r="0.76" fill="#6e62ae"/><circle cx="70.15" cy="31.67" r="0.67" fill="#6e62ae"/><circle cx="16.3" cy="34.81" r="0.8" fill="#7a70b8"/><circle cx="38.92" cy="38.25" r="1.01" fill="#6e62ae"/><circle cx="7.97" cy="14.84" r="0.9" fill="#7a70b8"/><circle cx="5.01" cy="22.48" r="0.64" fill="#b0a8da"/><circle cx="97.57" cy="28.59" r="1.01" fill="#a49cd2"/><circle cx="33.05" cy="22.38" r="0.54" fill="#7a70b8"/><circle cx="76.64" cy="54.98" r="0.62" fill="#7a70b8"/><circle cx="85.78" cy="49.97" r="0.74" fill="#7a70b8"/><circle cx="33.26" cy="20.98" r="0.81" fill="#b0a8da"/><circle cx="90.06" cy="19.19" r="0.9" fill="#a49cd2"/><circle cx="48.76" cy="40.3" r="0.66" fill="#b0a8da"/><circle cx="135.83" cy="58.83" r="0.55" fill="#7a70b8"/><circle cx="29.03" cy="42.09" r="1.02" fill="#b0a8da"/><circle cx="121.38" cy="58.47" r="0.71" fill="#7a70b8"/><circle cx="124.88" cy="43.47" r="0.83" fill="#b0a8da"/><circle cx="20.83" cy="45.34" r="0.71" fill="#a49cd2"/><circle cx="88.63" cy="26.24" r="0.56" fill="#b0a8da"/><circle cx="31.42" cy="14.88" r="1.02" fill="#6e62ae"/><circle cx="50.09" cy="21.07" r="0.93" fill="#6e62ae"/><circle cx="79.32" cy="48.12" r="0.65" fill="#a49cd2"/><circle cx="19.42" cy="21.14" r="0.54" fill="#7a70b8"/><circle cx="70.33" cy="41.25" r="1.08" fill="#6e62ae"/><circle cx="76.3" cy="34.83" r="1.09" fill="#7a70b8"/><circle cx="25.75" cy="22.63" r="0.84" fill="#a49cd2"/><circle cx="96.21" cy="11.72" r="0.81" fill="#a49cd2"/><circle cx="10.69" cy="40.89" r="0.86" fill="#a49cd2"/><circle cx="77.34" cy="37.9" r="0.92" fill="#b0a8da"/><circle cx="22.07" cy="35.73" r="0.97" fill="#a49cd2"/><circle cx="91.64" cy="26.81" r="0.52" fill="#b0a8da"/><circle cx="35.57" cy="38.52" r="0.56" fill="#b0a8da"/><circle cx="26.69" cy="22.42" r="0.91" fill="#b0a8da"/><circle cx="71.36" cy="34.97" r="0.89" fill="#6e62ae"/><circle cx="95.4" cy="52.61" r="0.78" fill="#b0a8da"/><circle cx="43.35" cy="44.8" r="1.09" fill="#b0a8da"/><circle cx="66.57" cy="20.53" r="0.68" fill="#7a70b8"/><circle cx="51.63" cy="31.22" r="0.53" fill="#a49cd2"/><circle cx="77.98" cy="38.43" r="0.97" fill="#6e62ae"/><circle cx="125.49" cy="35.83" r="0.72" fill="#a49cd2"/><circle cx="63.73" cy="27.69" r="0.78" fill="#7a70b8"/><circle cx="124.29" cy="38.52" r="0.83" fill="#a49cd2"/><circle cx="92.03" cy="17.03" r="0.75" fill="#b0a8da"/><circle cx="31.46" cy="16.32" r="0.56" fill="#7a70b8"/><circle cx="135" cy="41.31" r="0.52" fill="#6e62ae"/><circle cx="18.02" cy="39.5" r="0.87" fill="#6e62ae"/><circle cx="22.45" cy="27.86" r="0.52" fill="#6e62ae"/><circle cx="14.98" cy="36.32" r="1.03" fill="#a49cd2"/><circle cx="25.19" cy="29.13" r="0.77" fill="#a49cd2"/><circle cx="104.59" cy="44.96" r="0.5" fill="#7a70b8"/><circle cx="78.39" cy="49.76" r="0.77" fill="#7a70b8"/><circle cx="73.13" cy="42.97" r="0.87" fill="#7a70b8"/><circle cx="77.68" cy="52.03" r="0.63" fill="#6e62ae"/><circle cx="24.34" cy="28.7" r="0.79" fill="#b0a8da"/><circle cx="111.17" cy="44.71" r="0.69" fill="#b0a8da"/><circle cx="20.42" cy="20.03" r="0.66" fill="#a49cd2"/><circle cx="42.03" cy="32.63" r="0.9" fill="#b0a8da"/><circle cx="35.5" cy="34.53" r="0.78" fill="#b0a8da"/><circle cx="69.96" cy="37.9" r="0.76" fill="#6e62ae"/><circle cx="101.1" cy="51.1" r="0.86" fill="#7a70b8"/><circle cx="60.49" cy="45.25" r="0.63" fill="#6e62ae"/><circle cx="94.47" cy="35.77" r="0.79" fill="#6e62ae"/><circle cx="59.71" cy="41.82" r="0.69" fill="#b0a8da"/><circle cx="14.17" cy="43.31" r="0.71" fill="#a49cd2"/><circle cx="33.38" cy="21.99" r="0.93" fill="#b0a8da"/><circle cx="35.09" cy="46.73" r="0.65" fill="#7a70b8"/><circle cx="63.75" cy="48.6" r="0.65" fill="#b0a8da"/><circle cx="129.83" cy="60.73" r="1.08" fill="#6e62ae"/><circle cx="114.9" cy="45.62" r="1" fill="#6e62ae"/><circle cx="122.97" cy="45.17" r="0.89" fill="#a49cd2"/><circle cx="99.83" cy="42.23" r="0.8" fill="#b0a8da"/><circle cx="113.28" cy="59.77" r="1.09" fill="#6e62ae"/><circle cx="127.38" cy="51.29" r="0.6" fill="#a49cd2"/><circle cx="3.08" cy="37.69" r="1" fill="#b0a8da"/><circle cx="89.32" cy="54.43" r="1.09" fill="#a49cd2"/><circle cx="105.34" cy="55.49" r="0.51" fill="#a49cd2"/><circle cx="135.67" cy="48.31" r="0.67" fill="#a49cd2"/><circle cx="127.91" cy="57.66" r="0.7" fill="#6e62ae"/><circle cx="82.52" cy="45.82" r="1" fill="#a49cd2"/><circle cx="117.92" cy="49.9" r="0.94" fill="#b0a8da"/><circle cx="116.87" cy="58.37" r="1" fill="#6e62ae"/><circle cx="113.57" cy="57.05" r="0.51" fill="#a49cd2"/><circle cx="31.59" cy="16.04" r="0.61" fill="#b0a8da"/><circle cx="40.51" cy="39.89" r="0.5" fill="#6e62ae"/><circle cx="68.83" cy="27.59" r="0.84" fill="#a49cd2"/><circle cx="129.05" cy="51.07" r="0.85" fill="#a49cd2"/><circle cx="126.96" cy="40.82" r="0.58" fill="#6e62ae"/><circle cx="30.73" cy="40.58" r="0.78" fill="#6e62ae"/><circle cx="35.36" cy="44.78" r="0.5" fill="#7a70b8"/><circle cx="67.71" cy="34.89" r="1.06" fill="#b0a8da"/><circle cx="53.81" cy="41.08" r="0.5" fill="#6e62ae"/><circle cx="21.8" cy="38.05" r="1.09" fill="#b0a8da"/><circle cx="114.44" cy="47.47" r="0.69" fill="#b0a8da"/><circle cx="86.33" cy="34.88" r="0.8" fill="#6e62ae"/><circle cx="15.61" cy="33.68" r="0.55" fill="#7a70b8"/><circle cx="48.57" cy="29.15" r="1.03" fill="#7a70b8"/><circle cx="77.88" cy="43.81" r="0.94" fill="#7a70b8"/><circle cx="43.97" cy="19.23" r="1.09" fill="#7a70b8"/><circle cx="42.28" cy="30.53" r="0.78" fill="#a49cd2"/><circle cx="107.87" cy="38.06" r="1.01" fill="#b0a8da"/><circle cx="76.69" cy="34.78" r="0.7" fill="#a49cd2"/><circle cx="20.45" cy="40.79" r="0.6" fill="#6e62ae"/><circle cx="52.79" cy="15.87" r="0.68" fill="#a49cd2"/><circle cx="2.72" cy="33.25" r="0.52" fill="#a49cd2"/><circle cx="24.15" cy="36.78" r="0.96" fill="#b0a8da"/><circle cx="94.67" cy="21.66" r="0.96" fill="#a49cd2"/><circle cx="111.49" cy="58.81" r="0.75" fill="#7a70b8"/><circle cx="108.98" cy="53.99" r="0.6" fill="#a49cd2"/><circle cx="88.67" cy="50.12" r="0.95" fill="#6e62ae"/><circle cx="124.21" cy="38.25" r="0.63" fill="#6e62ae"/><circle cx="131.71" cy="34.98" r="0.68" fill="#b0a8da"/><circle cx="84.46" cy="45.25" r="1.02" fill="#b0a8da"/><circle cx="22.76" cy="36.91" r="0.51" fill="#6e62ae"/><circle cx="97.04" cy="28.77" r="0.93" fill="#7a70b8"/><circle cx="91.55" cy="50.49" r="1.01" fill="#7a70b8"/><circle cx="24.03" cy="34.58" r="0.55" fill="#a49cd2"/><circle cx="128.87" cy="48.02" r="0.52" fill="#6e62ae"/><circle cx="128.9" cy="58.51" r="1.01" fill="#7a70b8"/><circle cx="10.21" cy="33.55" r="0.78" fill="#a49cd2"/><circle cx="41.6" cy="37.37" r="0.71" fill="#7a70b8"/><circle cx="39.82" cy="11.07" r="0.67" fill="#7a70b8"/><circle cx="112.8" cy="55.45" r="0.73" fill="#a49cd2"/><circle cx="89.87" cy="43" r="0.89" fill="#b0a8da"/><circle cx="116.16" cy="45.32" r="0.79" fill="#b0a8da"/><circle cx="11.04" cy="18.26" r="0.79" fill="#7a70b8"/><line x1="27.7" y1="25.5" x2="45" y2="66.9" stroke="#7060b0" stroke-width="2.4" stroke-linecap="round" opacity="0.75" filter="url(#bl05)"/><line x1="29.9" y1="25.5" x2="47.2" y2="66.9" stroke="#f2eef8" stroke-width="0.9" opacity="0.8"/><line x1="82" y1="38.6" x2="97.3" y2="77.8" stroke="#7060b0" stroke-width="2.7" stroke-linecap="round" opacity="0.75" filter="url(#bl05)"/><line x1="84.2" y1="38.6" x2="99.5" y2="77.8" stroke="#f2eef8" stroke-width="0.9" opacity="0.8"/><line x1="112.6" y1="47.3" x2="132.2" y2="99.5" stroke="#7060b0" stroke-width="2.1" stroke-linecap="round" opacity="0.75" filter="url(#bl05)"/><line x1="114.8" y1="47.3" x2="134.39999999999998" y2="99.5" stroke="#f2eef8" stroke-width="0.9" opacity="0.8"/><line x1="0" y1="88" x2="12.4" y2="104" stroke="#7060b0" stroke-width="1.8" stroke-linecap="round" opacity="0.75" filter="url(#bl05)"/><line x1="2.2" y1="88" x2="14.600000000000001" y2="104" stroke="#f2eef8" stroke-width="0.9" opacity="0.8"/><line x1="4" y1="60" x2="18" y2="90" stroke="#7060b0" stroke-width="1.5" stroke-linecap="round" opacity="0.75" filter="url(#bl05)"/><line x1="6.2" y1="60" x2="20.2" y2="90" stroke="#f2eef8" stroke-width="0.9" opacity="0.8"/><line x1="50" y1="82" x2="60" y2="104" stroke="#7060b0" stroke-width="1.5" stroke-linecap="round" opacity="0.75" filter="url(#bl05)"/><line x1="52.2" y1="82" x2="62.2" y2="104" stroke="#f2eef8" stroke-width="0.9" opacity="0.8"/><ellipse cx="22" cy="64" rx="4.5" ry="8" fill="#f4eef8" transform="rotate(-20 22 64)"/><ellipse cx="36" cy="46" rx="2" ry="9" fill="#f6f0f8" transform="rotate(-25 36 46)"/><ellipse cx="72" cy="82" rx="6.5" ry="8" fill="#dcd6ee"/><ellipse cx="97" cy="86" rx="5" ry="6" fill="#dad2ec"/><ellipse cx="120" cy="56" rx="1.6" ry="8" fill="#f4eef8" transform="rotate(-20 120 56)"/><path d="M-2,5.6 C-1.6,5.55 -2,5.17 0.4,5.3 C2.8,5.43 9.13,4.68 12.4,6.4 C15.67,8.12 18.18,12.88 20,15.6 C21.82,18.32 22.13,22.7 23.3,22.7 C24.47,22.7 25.92,17.42 27,15.6 C28.08,13.78 27.63,12.88 29.8,11.8 C31.97,10.72 36.73,9.63 40,9.1 C43.27,8.57 46.4,8.43 49.4,8.6 C52.4,8.77 55.08,9.38 58,10.1 C60.92,10.82 64.23,10.65 66.9,12.9 C69.57,15.15 71.98,19.15 74,23.6 C76.02,28.05 77.83,36.48 79,39.6 C80.17,42.72 80.33,44.47 81,42.3 C81.67,40.13 82.45,31.32 83,26.6 C83.55,21.88 83.13,16.58 84.3,14 C85.47,11.42 88.18,11.63 90,11.1 C91.82,10.57 93.53,10.55 95.2,10.8 C96.87,11.05 98.55,11.7 100,12.6 C101.45,13.5 102.73,13.7 103.9,16.2 C105.07,18.7 105.92,23.6 107,27.6 C108.08,31.6 108.9,38.53 110.4,40.2 C111.9,41.87 113.45,38.7 116,37.6 C118.55,36.5 123.2,34.18 125.7,33.6 C128.2,33.02 128.78,33.73 131,34.1 C133.22,34.47 137.67,35.52 139,35.8" fill="none" stroke="#b45cb0" stroke-width="2.4" opacity="0.8"/><path d="M-2,4 C-1.6,3.95 -2,3.57 0.4,3.7 C2.8,3.83 9.13,3.08 12.4,4.8 C15.67,6.52 18.18,11.28 20,14 C21.82,16.72 22.13,21.1 23.3,21.1 C24.47,21.1 25.92,15.82 27,14 C28.08,12.18 27.63,11.28 29.8,10.2 C31.97,9.12 36.73,8.03 40,7.5 C43.27,6.97 46.4,6.83 49.4,7 C52.4,7.17 55.08,7.78 58,8.5 C60.92,9.22 64.23,9.05 66.9,11.3 C69.57,13.55 71.98,17.55 74,22 C76.02,26.45 77.83,34.88 79,38 C80.17,41.12 80.33,42.87 81,40.7 C81.67,38.53 82.45,29.72 83,25 C83.55,20.28 83.13,14.98 84.3,12.4 C85.47,9.82 88.18,10.03 90,9.5 C91.82,8.97 93.53,8.95 95.2,9.2 C96.87,9.45 98.55,10.1 100,11 C101.45,11.9 102.73,12.1 103.9,14.6 C105.07,17.1 105.92,22 107,26 C108.08,30 108.9,36.93 110.4,38.6 C111.9,40.27 113.45,37.1 116,36 C118.55,34.9 123.2,32.58 125.7,32 C128.2,31.42 128.78,32.13 131,32.5 C133.22,32.87 137.67,33.92 139,34.2" fill="none" stroke="#e07ab8" stroke-width="2"/><path d="M0,2 C4,-1 10,0 14,2 L18,10 L12,8 Z" fill="#e890c4"/><line x1="82" y1="42" x2="90" y2="62" stroke="#58388e" stroke-width="3" opacity="0.8"/><line x1="117" y1="102" x2="131" y2="102" stroke="#111" stroke-width="1.2"/></g></g>
<text x="3.2" y="74.5" font-size="12" font-style="italic" fill="#1a1a1a" stroke="#1a1a1a" stroke-width="0.25">Nfkbiz<tspan dx="3" dy="-4.2" font-size="8">+/−</tspan></text>
<text x="2.4" y="176.8" font-size="12" font-style="italic" fill="#1a1a1a" stroke="#1a1a1a" stroke-width="0.25">Nfkbiz<tspan dx="3" dy="-4.2" font-size="8">−/−</tspan></text>
<line x1="443.7" y1="46.7" x2="443.7" y2="172.7" stroke="#7a7a7a" stroke-width="1.1"/>
<line x1="438.7" y1="172.7" x2="443.7" y2="172.7" stroke="#7a7a7a" stroke-width="1.1"/>
<text x="434.3" y="176.1" font-size="11.3" text-anchor="end" fill="#1a1a1a" stroke="#1a1a1a" stroke-width="0.25" >0</text>
<line x1="438.7" y1="147.5" x2="443.7" y2="147.5" stroke="#7a7a7a" stroke-width="1.1"/>
<text x="434.3" y="150.9" font-size="11.3" text-anchor="end" fill="#1a1a1a" stroke="#1a1a1a" stroke-width="0.25" >20</text>
<line x1="438.7" y1="122.3" x2="443.7" y2="122.3" stroke="#7a7a7a" stroke-width="1.1"/>
<text x="434.3" y="125.7" font-size="11.3" text-anchor="end" fill="#1a1a1a" stroke="#1a1a1a" stroke-width="0.25" >40</text>
<line x1="438.7" y1="97.1" x2="443.7" y2="97.1" stroke="#7a7a7a" stroke-width="1.1"/>
<text x="434.3" y="100.5" font-size="11.3" text-anchor="end" fill="#1a1a1a" stroke="#1a1a1a" stroke-width="0.25" >60</text>
<line x1="438.7" y1="71.9" x2="443.7" y2="71.9" stroke="#7a7a7a" stroke-width="1.1"/>
<text x="434.3" y="75.3" font-size="11.3" text-anchor="end" fill="#1a1a1a" stroke="#1a1a1a" stroke-width="0.25" >80</text>
<line x1="438.7" y1="46.7" x2="443.7" y2="46.7" stroke="#7a7a7a" stroke-width="1.1"/>
<text x="434.3" y="50.1" font-size="11.3" text-anchor="end" fill="#1a1a1a" stroke="#1a1a1a" stroke-width="0.25" >100</text>
<line x1="438.7" y1="172.7" x2="623.7" y2="172.7" stroke="#959595" stroke-width="1.6"/>
<polyline points="444,172.7 453.01,172.7 471.03,159.6 489.05,146.87 507.07,127.84 525.09,94.33 543.11,75.18 561.13,53.25 579.15,46.7 597.17,46.7 615.19,46.7" fill="none" stroke="#7a7a7a" stroke-width="1"/>
<circle cx="444" cy="172.7" r="3.6" fill="#fff" stroke="#7a7a7a" stroke-width="0.9"/>
<circle cx="453.01" cy="172.7" r="3.6" fill="#fff" stroke="#7a7a7a" stroke-width="0.9"/>
<circle cx="471.03" cy="172.7" r="3.6" fill="#fff" stroke="#7a7a7a" stroke-width="0.9"/>
<circle cx="489.05" cy="172.7" r="3.6" fill="#fff" stroke="#7a7a7a" stroke-width="0.9"/>
<circle cx="507.07" cy="172.7" r="3.6" fill="#fff" stroke="#7a7a7a" stroke-width="0.9"/>
<circle cx="525.09" cy="172.7" r="3.6" fill="#fff" stroke="#7a7a7a" stroke-width="0.9"/>
<circle cx="543.11" cy="172.7" r="3.6" fill="#fff" stroke="#7a7a7a" stroke-width="0.9"/>
<circle cx="561.13" cy="172.7" r="3.6" fill="#fff" stroke="#7a7a7a" stroke-width="0.9"/>
<circle cx="579.15" cy="172.7" r="3.6" fill="#fff" stroke="#7a7a7a" stroke-width="0.9"/>
<circle cx="597.17" cy="172.7" r="3.6" fill="#fff" stroke="#7a7a7a" stroke-width="0.9"/>
<circle cx="615.19" cy="172.7" r="3.6" fill="#fff" stroke="#7a7a7a" stroke-width="0.9"/>
<circle cx="444" cy="172.7" r="3.8" fill="#000"/>
<circle cx="453.01" cy="172.7" r="3.8" fill="#000"/>
<circle cx="471.03" cy="159.6" r="3.8" fill="#000"/>
<text x="469.9" y="152.4" font-size="12.5" text-anchor="middle" fill="#4a4a4a" stroke="#4a4a4a" stroke-width="0.25" letter-spacing="1.2">**</text>
<circle cx="489.05" cy="146.87" r="3.8" fill="#000"/>
<text x="486.1" y="141.4" font-size="12.5" text-anchor="middle" fill="#4a4a4a" stroke="#4a4a4a" stroke-width="0.25" letter-spacing="1.2">**</text>
<circle cx="507.07" cy="127.84" r="3.8" fill="#000"/>
<text x="504.1" y="117.6" font-size="12.5" text-anchor="middle" fill="#4a4a4a" stroke="#4a4a4a" stroke-width="0.25" letter-spacing="1.2">**</text>
<circle cx="525.09" cy="94.33" r="3.8" fill="#000"/>
<text x="519.5" y="88.9" font-size="12.5" text-anchor="middle" fill="#4a4a4a" stroke="#4a4a4a" stroke-width="0.25" letter-spacing="1.2">**</text>
<circle cx="543.11" cy="75.18" r="3.8" fill="#000"/>
<text x="538.3" y="66.7" font-size="12.5" text-anchor="middle" fill="#4a4a4a" stroke="#4a4a4a" stroke-width="0.25" letter-spacing="1.2">**</text>
<circle cx="561.13" cy="53.25" r="3.8" fill="#000"/>
<text x="552.4" y="48.4" font-size="12.5" text-anchor="middle" fill="#4a4a4a" stroke="#4a4a4a" stroke-width="0.25" letter-spacing="1.2">**</text>
<circle cx="579.15" cy="46.7" r="3.8" fill="#000"/>
<text x="576.5" y="39.6" font-size="12.5" text-anchor="middle" fill="#4a4a4a" stroke="#4a4a4a" stroke-width="0.25" letter-spacing="1.2">**</text>
<circle cx="597.17" cy="46.7" r="3.8" fill="#000"/>
<text x="595.9" y="39.6" font-size="12.5" text-anchor="middle" fill="#4a4a4a" stroke="#4a4a4a" stroke-width="0.25" letter-spacing="1.2">**</text>
<circle cx="615.19" cy="46.7" r="3.8" fill="#000"/>
<text x="616.4" y="39.6" font-size="12.5" text-anchor="middle" fill="#4a4a4a" stroke="#4a4a4a" stroke-width="0.25" letter-spacing="1.2">**</text>
<text x="444" y="188.2" font-size="11.3" text-anchor="middle" fill="#1a1a1a" stroke="#1a1a1a" stroke-width="0.25" >0</text>
<text x="471.03" y="188.2" font-size="11.3" text-anchor="middle" fill="#1a1a1a" stroke="#1a1a1a" stroke-width="0.25" >3</text>
<text x="489.05" y="188.2" font-size="11.3" text-anchor="middle" fill="#1a1a1a" stroke="#1a1a1a" stroke-width="0.25" >5</text>
<text x="507.07" y="188.2" font-size="11.3" text-anchor="middle" fill="#1a1a1a" stroke="#1a1a1a" stroke-width="0.25" >7</text>
<text x="525.09" y="188.2" font-size="11.3" text-anchor="middle" fill="#1a1a1a" stroke="#1a1a1a" stroke-width="0.25" >9</text>
<text x="543.11" y="188.2" font-size="11.3" text-anchor="middle" fill="#1a1a1a" stroke="#1a1a1a" stroke-width="0.25" >11</text>
<text x="561.13" y="188.2" font-size="11.3" text-anchor="middle" fill="#1a1a1a" stroke="#1a1a1a" stroke-width="0.25" >13</text>
<text x="579.15" y="188.2" font-size="11.3" text-anchor="middle" fill="#1a1a1a" stroke="#1a1a1a" stroke-width="0.25" >15</text>
<text x="597.17" y="188.2" font-size="11.3" text-anchor="middle" fill="#1a1a1a" stroke="#1a1a1a" stroke-width="0.25" >17</text>
<text x="615.19" y="188.2" font-size="11.3" text-anchor="middle" fill="#1a1a1a" stroke="#1a1a1a" stroke-width="0.25" >19</text>
<text x="522.9" y="208" font-size="12" text-anchor="middle" fill="#222" stroke="#222" stroke-width="0.25" >Age (week)</text>
<text transform="translate(407,109.1) rotate(-90)" font-size="12" text-anchor="middle" fill="#222" stroke="#222" stroke-width="0.25">Incidence (%)</text>
<line x1="433.3" y1="229.8" x2="433.3" y2="355.5" stroke="#7a7a7a" stroke-width="1.1"/>
<line x1="428.3" y1="355.5" x2="433.3" y2="355.5" stroke="#7a7a7a" stroke-width="1.1"/>
<text x="424.8" y="358.9" font-size="11.3" text-anchor="end" fill="#1a1a1a" stroke="#1a1a1a" stroke-width="0.25" >0</text>
<line x1="428.3" y1="330.36" x2="433.3" y2="330.36" stroke="#7a7a7a" stroke-width="1.1"/>
<text x="424.8" y="333.76" font-size="11.3" text-anchor="end" fill="#1a1a1a" stroke="#1a1a1a" stroke-width="0.25" >1</text>
<line x1="428.3" y1="305.22" x2="433.3" y2="305.22" stroke="#7a7a7a" stroke-width="1.1"/>
<text x="424.8" y="308.62" font-size="11.3" text-anchor="end" fill="#1a1a1a" stroke="#1a1a1a" stroke-width="0.25" >2</text>
<line x1="428.3" y1="280.08" x2="433.3" y2="280.08" stroke="#7a7a7a" stroke-width="1.1"/>
<text x="424.8" y="283.48" font-size="11.3" text-anchor="end" fill="#1a1a1a" stroke="#1a1a1a" stroke-width="0.25" >3</text>
<line x1="428.3" y1="254.94" x2="433.3" y2="254.94" stroke="#7a7a7a" stroke-width="1.1"/>
<text x="424.8" y="258.34" font-size="11.3" text-anchor="end" fill="#1a1a1a" stroke="#1a1a1a" stroke-width="0.25" >4</text>
<line x1="428.3" y1="229.8" x2="433.3" y2="229.8" stroke="#7a7a7a" stroke-width="1.1"/>
<text x="424.8" y="233.2" font-size="11.3" text-anchor="end" fill="#1a1a1a" stroke="#1a1a1a" stroke-width="0.25" >5</text>
<line x1="428.3" y1="355.5" x2="612.6" y2="355.5" stroke="#7a7a7a" stroke-width="1.1"/>
<polyline points="438.3,355.5 447.24,355.5 465.12,324.58 483,311.25 500.88,285.11 518.76,279.33 536.64,259.21 554.52,262.48 572.4,244.63 590.28,249.16 608.16,241.62" fill="none" stroke="#7a7a7a" stroke-width="1"/>
<line x1="465.12" y1="328.85" x2="465.12" y2="320.3" stroke="#8a8a8a" stroke-width="1"/>
<line x1="461.52" y1="320.3" x2="468.72" y2="320.3" stroke="#8a8a8a" stroke-width="1"/>
<line x1="461.52" y1="328.85" x2="468.72" y2="328.85" stroke="#8a8a8a" stroke-width="1"/>
<line x1="483" y1="315.53" x2="483" y2="306.98" stroke="#8a8a8a" stroke-width="1"/>
<line x1="479.4" y1="306.98" x2="486.6" y2="306.98" stroke="#8a8a8a" stroke-width="1"/>
<line x1="479.4" y1="315.53" x2="486.6" y2="315.53" stroke="#8a8a8a" stroke-width="1"/>
<line x1="500.88" y1="289.13" x2="500.88" y2="281.09" stroke="#8a8a8a" stroke-width="1"/>
<line x1="497.28" y1="281.09" x2="504.48" y2="281.09" stroke="#8a8a8a" stroke-width="1"/>
<line x1="497.28" y1="289.13" x2="504.48" y2="289.13" stroke="#8a8a8a" stroke-width="1"/>
<line x1="518.76" y1="283.35" x2="518.76" y2="275.3" stroke="#8a8a8a" stroke-width="1"/>
<line x1="515.16" y1="275.3" x2="522.36" y2="275.3" stroke="#8a8a8a" stroke-width="1"/>
<line x1="515.16" y1="283.35" x2="522.36" y2="283.35" stroke="#8a8a8a" stroke-width="1"/>
<line x1="536.64" y1="263.24" x2="536.64" y2="255.19" stroke="#8a8a8a" stroke-width="1"/>
<line x1="533.04" y1="255.19" x2="540.24" y2="255.19" stroke="#8a8a8a" stroke-width="1"/>
<line x1="533.04" y1="263.24" x2="540.24" y2="263.24" stroke="#8a8a8a" stroke-width="1"/>
<line x1="554.52" y1="266" x2="554.52" y2="258.96" stroke="#8a8a8a" stroke-width="1"/>
<line x1="550.92" y1="258.96" x2="558.12" y2="258.96" stroke="#8a8a8a" stroke-width="1"/>
<line x1="550.92" y1="266" x2="558.12" y2="266" stroke="#8a8a8a" stroke-width="1"/>
<line x1="572.4" y1="247.9" x2="572.4" y2="241.36" stroke="#8a8a8a" stroke-width="1"/>
<line x1="568.8" y1="241.36" x2="576" y2="241.36" stroke="#8a8a8a" stroke-width="1"/>
<line x1="568.8" y1="247.9" x2="576" y2="247.9" stroke="#8a8a8a" stroke-width="1"/>
<line x1="590.28" y1="251.67" x2="590.28" y2="246.64" stroke="#8a8a8a" stroke-width="1"/>
<line x1="586.68" y1="246.64" x2="593.88" y2="246.64" stroke="#8a8a8a" stroke-width="1"/>
<line x1="586.68" y1="251.67" x2="593.88" y2="251.67" stroke="#8a8a8a" stroke-width="1"/>
<line x1="608.16" y1="245.64" x2="608.16" y2="237.59" stroke="#8a8a8a" stroke-width="1"/>
<line x1="604.56" y1="237.59" x2="611.76" y2="237.59" stroke="#8a8a8a" stroke-width="1"/>
<line x1="604.56" y1="245.64" x2="611.76" y2="245.64" stroke="#8a8a8a" stroke-width="1"/>
<circle cx="438.3" cy="355.5" r="3.6" fill="#fff" stroke="#7a7a7a" stroke-width="0.9"/>
<circle cx="447.24" cy="355.5" r="3.6" fill="#fff" stroke="#7a7a7a" stroke-width="0.9"/>
<circle cx="465.12" cy="355.5" r="3.6" fill="#fff" stroke="#7a7a7a" stroke-width="0.9"/>
<circle cx="483" cy="355.5" r="3.6" fill="#fff" stroke="#7a7a7a" stroke-width="0.9"/>
<circle cx="500.88" cy="355.5" r="3.6" fill="#fff" stroke="#7a7a7a" stroke-width="0.9"/>
<circle cx="518.76" cy="355.5" r="3.6" fill="#fff" stroke="#7a7a7a" stroke-width="0.9"/>
<circle cx="536.64" cy="355.5" r="3.6" fill="#fff" stroke="#7a7a7a" stroke-width="0.9"/>
<circle cx="554.52" cy="355.5" r="3.6" fill="#fff" stroke="#7a7a7a" stroke-width="0.9"/>
<circle cx="572.4" cy="355.5" r="3.6" fill="#fff" stroke="#7a7a7a" stroke-width="0.9"/>
<circle cx="590.28" cy="355.5" r="3.6" fill="#fff" stroke="#7a7a7a" stroke-width="0.9"/>
<circle cx="608.16" cy="355.5" r="3.6" fill="#fff" stroke="#7a7a7a" stroke-width="0.9"/>
<circle cx="438.3" cy="355.5" r="3.8" fill="#000"/>
<circle cx="447.24" cy="355.5" r="3.8" fill="#000"/>
<circle cx="465.12" cy="324.58" r="3.8" fill="#000"/>
<text x="464.1" y="320.7" font-size="12.5" text-anchor="middle" fill="#4a4a4a" stroke="#4a4a4a" stroke-width="0.25" letter-spacing="1.2">**</text>
<circle cx="483" cy="311.25" r="3.8" fill="#000"/>
<text x="481.2" y="301.1" font-size="12.5" text-anchor="middle" fill="#4a4a4a" stroke="#4a4a4a" stroke-width="0.25" letter-spacing="1.2">**</text>
<circle cx="500.88" cy="285.11" r="3.8" fill="#000"/>
<text x="499.7" y="277.1" font-size="12.5" text-anchor="middle" fill="#4a4a4a" stroke="#4a4a4a" stroke-width="0.25" letter-spacing="1.2">**</text>
<circle cx="518.76" cy="279.33" r="3.8" fill="#000"/>
<text x="516.5" y="268.4" font-size="12.5" text-anchor="middle" fill="#4a4a4a" stroke="#4a4a4a" stroke-width="0.25" letter-spacing="1.2">**</text>
<circle cx="536.64" cy="259.21" r="3.8" fill="#000"/>
<text x="533.0" y="249.6" font-size="12.5" text-anchor="middle" fill="#4a4a4a" stroke="#4a4a4a" stroke-width="0.25" letter-spacing="1.2">**</text>
<circle cx="554.52" cy="262.48" r="3.8" fill="#000"/>
<text x="554.7" y="256.8" font-size="12.5" text-anchor="middle" fill="#4a4a4a" stroke="#4a4a4a" stroke-width="0.25" letter-spacing="1.2">**</text>
<circle cx="572.4" cy="244.63" r="3.8" fill="#000"/>
<text x="573.0" y="235.4" font-size="12.5" text-anchor="middle" fill="#4a4a4a" stroke="#4a4a4a" stroke-width="0.25" letter-spacing="1.2">**</text>
<circle cx="590.28" cy="249.16" r="3.8" fill="#000"/>
<text x="590.6" y="243.7" font-size="12.5" text-anchor="middle" fill="#4a4a4a" stroke="#4a4a4a" stroke-width="0.25" letter-spacing="1.2">**</text>
<circle cx="608.16" cy="241.62" r="3.8" fill="#000"/>
<text x="610.7" y="234.9" font-size="12.5" text-anchor="middle" fill="#4a4a4a" stroke="#4a4a4a" stroke-width="0.25" letter-spacing="1.2">**</text>
<text x="438.3" y="374.9" font-size="11.3" text-anchor="middle" fill="#1a1a1a" stroke="#1a1a1a" stroke-width="0.25" >0</text>
<text x="465.12" y="374.9" font-size="11.3" text-anchor="middle" fill="#1a1a1a" stroke="#1a1a1a" stroke-width="0.25" >3</text>
<text x="483" y="374.9" font-size="11.3" text-anchor="middle" fill="#1a1a1a" stroke="#1a1a1a" stroke-width="0.25" >5</text>
<text x="500.88" y="374.9" font-size="11.3" text-anchor="middle" fill="#1a1a1a" stroke="#1a1a1a" stroke-width="0.25" >7</text>
<text x="518.76" y="374.9" font-size="11.3" text-anchor="middle" fill="#1a1a1a" stroke="#1a1a1a" stroke-width="0.25" >9</text>
<text x="536.64" y="374.9" font-size="11.3" text-anchor="middle" fill="#1a1a1a" stroke="#1a1a1a" stroke-width="0.25" >11</text>
<text x="554.52" y="374.9" font-size="11.3" text-anchor="middle" fill="#1a1a1a" stroke="#1a1a1a" stroke-width="0.25" >13</text>
<text x="572.4" y="374.9" font-size="11.3" text-anchor="middle" fill="#1a1a1a" stroke="#1a1a1a" stroke-width="0.25" >15</text>
<text x="590.28" y="374.9" font-size="11.3" text-anchor="middle" fill="#1a1a1a" stroke="#1a1a1a" stroke-width="0.25" >17</text>
<text x="608.16" y="374.9" font-size="11.3" text-anchor="middle" fill="#1a1a1a" stroke="#1a1a1a" stroke-width="0.25" >19</text>
<text x="522.7" y="397.9" font-size="12" text-anchor="middle" fill="#222" stroke="#222" stroke-width="0.25" >Age (week)</text>
<text transform="translate(407.8,293.4) rotate(-90)" font-size="12" text-anchor="middle" fill="#222" stroke="#222" stroke-width="0.25">Disease Score</text>
<circle cx="594.8" cy="92.6" r="4.6" fill="#fff" stroke="#777" stroke-width="1"/>
<circle cx="594.8" cy="109.2" r="4.8" fill="#000"/>
<text x="604.5" y="96.7" font-size="12" font-style="italic" fill="#1a1a1a" stroke="#1a1a1a" stroke-width="0.25">Nfkbiz<tspan dx="2.8" dy="-4.8" font-size="8">+/−</tspan></text>
<text x="604.5" y="113.1" font-size="12" font-style="italic" fill="#1a1a1a" stroke="#1a1a1a" stroke-width="0.25">Nfkbiz<tspan dx="2.8" dy="-4.8" font-size="8">−/−</tspan></text>
<line x1="89.6" y1="280.2" x2="89.6" y2="409.3" stroke="#7a7a7a" stroke-width="1.1"/>
<line x1="84.6" y1="409.3" x2="169" y2="409.3" stroke="#7a7a7a" stroke-width="1.1"/>
<line x1="84.6" y1="409.3" x2="89.6" y2="409.3" stroke="#7a7a7a" stroke-width="1.1"/>
<text x="80" y="412.86" font-size="11" text-anchor="end" fill="#1a1a1a" stroke="#1a1a1a" stroke-width="0.25" >0</text>
<line x1="84.6" y1="377.02" x2="89.6" y2="377.02" stroke="#7a7a7a" stroke-width="1.1"/>
<text x="80" y="380.58" font-size="11" text-anchor="end" fill="#1a1a1a" stroke="#1a1a1a" stroke-width="0.25" >5</text>
<line x1="84.6" y1="344.75" x2="89.6" y2="344.75" stroke="#7a7a7a" stroke-width="1.1"/>
<text x="80" y="348.31" font-size="11" text-anchor="end" fill="#1a1a1a" stroke="#1a1a1a" stroke-width="0.25" >10</text>
<line x1="84.6" y1="312.48" x2="89.6" y2="312.48" stroke="#7a7a7a" stroke-width="1.1"/>
<text x="80" y="316.04" font-size="11" text-anchor="end" fill="#1a1a1a" stroke="#1a1a1a" stroke-width="0.25" >15</text>
<line x1="84.6" y1="280.2" x2="89.6" y2="280.2" stroke="#7a7a7a" stroke-width="1.1"/>
<text x="80" y="283.76" font-size="11" text-anchor="end" fill="#1a1a1a" stroke="#1a1a1a" stroke-width="0.25" >20</text>
<line x1="112.2" y1="395.1" x2="112.2" y2="392.71" stroke="#7a7a7a" stroke-width="1.1"/>
<line x1="105.6" y1="392.71" x2="118.8" y2="392.71" stroke="#7a7a7a" stroke-width="1.1"/>
<rect x="101.7" y="395.1" width="21" height="14.2" fill="#fff" stroke="#7a7a7a" stroke-width="1.1"/>
<line x1="147" y1="294.4" x2="147" y2="287.95" stroke="#7a7a7a" stroke-width="1.1"/>
<line x1="140.58" y1="287.95" x2="153.42" y2="287.95" stroke="#7a7a7a" stroke-width="1.1"/>
<rect x="136.3" y="294.4" width="21.4" height="114.9" fill="#000"/>
<text x="145.3" y="280.8" font-size="12.5" text-anchor="middle" fill="#4a4a4a" stroke="#4a4a4a" stroke-width="0.25" letter-spacing="1.2">**</text>
<text transform="translate(54.8,344.1) rotate(-90)" font-size="12" text-anchor="middle" fill="#222" stroke="#222" stroke-width="0.25">TEWL (g/m<tspan font-size="8" dy="-4">2</tspan><tspan dy="4">/hour)</tspan></text>
<line x1="230.4" y1="280.7" x2="230.4" y2="408.9" stroke="#7a7a7a" stroke-width="1.1"/>
<line x1="225.4" y1="408.9" x2="311.7" y2="408.9" stroke="#7a7a7a" stroke-width="1.1"/>
<line x1="225.4" y1="408.9" x2="230.4" y2="408.9" stroke="#7a7a7a" stroke-width="1.1"/>
<text x="221" y="412.46" font-size="11" text-anchor="end" fill="#1a1a1a" stroke="#1a1a1a" stroke-width="0.25" >0</text>
<line x1="225.4" y1="366.17" x2="230.4" y2="366.17" stroke="#7a7a7a" stroke-width="1.1"/>
<text x="221" y="369.73" font-size="11" text-anchor="end" fill="#1a1a1a" stroke="#1a1a1a" stroke-width="0.25" >50</text>
<line x1="225.4" y1="323.43" x2="230.4" y2="323.43" stroke="#7a7a7a" stroke-width="1.1"/>
<text x="221" y="326.99" font-size="11" text-anchor="end" fill="#1a1a1a" stroke="#1a1a1a" stroke-width="0.25" >100</text>
<line x1="225.4" y1="280.7" x2="230.4" y2="280.7" stroke="#7a7a7a" stroke-width="1.1"/>
<text x="221" y="284.26" font-size="11" text-anchor="end" fill="#1a1a1a" stroke="#1a1a1a" stroke-width="0.25" >150</text>
<line x1="250.5" y1="400.61" x2="250.5" y2="396.08" stroke="#7a7a7a" stroke-width="1.1"/>
<line x1="244.02" y1="396.08" x2="256.98" y2="396.08" stroke="#7a7a7a" stroke-width="1.1"/>
<rect x="240.2" y="400.61" width="20.6" height="8.29" fill="#fff" stroke="#7a7a7a" stroke-width="1.1"/>
<line x1="287.05" y1="327.36" x2="287.05" y2="314.37" stroke="#7a7a7a" stroke-width="1.1"/>
<line x1="280.72" y1="314.37" x2="293.38" y2="314.37" stroke="#7a7a7a" stroke-width="1.1"/>
<rect x="276.5" y="327.36" width="21.1" height="81.54" fill="#000"/>
<text x="287.0" y="307.3" font-size="12.5" text-anchor="middle" fill="#4a4a4a" stroke="#4a4a4a" stroke-width="0.25" letter-spacing="1.2">*</text>
<text transform="translate(195.2,344.9) rotate(-90)" font-size="12" text-anchor="middle" fill="#222" stroke="#222" stroke-width="0.25">IgE (ng/ml)</text>
<rect x="296.5" y="258.8" width="15.5" height="7.6" fill="#fff" stroke="#666" stroke-width="1"/>
<rect x="296" y="274.4" width="16.3" height="8.3" fill="#000"/>
<text x="316.3" y="266" font-size="12" font-style="italic" fill="#1a1a1a" stroke="#1a1a1a" stroke-width="0.25">Nfkbiz<tspan dx="3" dy="-4.6" font-size="8">+/−</tspan></text>
<text x="316" y="282.2" font-size="12" font-style="italic" fill="#1a1a1a" stroke="#1a1a1a" stroke-width="0.25">Nfkbiz<tspan dx="3" dy="-4.6" font-size="8">−/−</tspan></text>
<line x1="75.7" y1="465.3" x2="75.7" y2="559.6" stroke="#7a7a7a" stroke-width="1.1"/>
<line x1="70.7" y1="559.6" x2="155.6" y2="559.6" stroke="#7a7a7a" stroke-width="1.1"/>
<line x1="70.7" y1="559.6" x2="75.7" y2="559.6" stroke="#7a7a7a" stroke-width="1.1"/>
<text x="68.8" y="563.16" font-size="11" text-anchor="end" fill="#1a1a1a" stroke="#1a1a1a" stroke-width="0.25" >0</text>
<line x1="70.7" y1="528.17" x2="75.7" y2="528.17" stroke="#7a7a7a" stroke-width="1.1"/>
<text x="68.7" y="531.73" font-size="11" text-anchor="end" fill="#1a1a1a" stroke="#1a1a1a" stroke-width="0.25" letter-spacing="-0.55">0.1</text>
<line x1="70.7" y1="496.73" x2="75.7" y2="496.73" stroke="#7a7a7a" stroke-width="1.1"/>
<text x="68.7" y="500.29" font-size="11" text-anchor="end" fill="#1a1a1a" stroke="#1a1a1a" stroke-width="0.25" letter-spacing="-0.55">0.2</text>
<line x1="70.7" y1="465.3" x2="75.7" y2="465.3" stroke="#7a7a7a" stroke-width="1.1"/>
<text x="68.7" y="468.86" font-size="11" text-anchor="end" fill="#1a1a1a" stroke="#1a1a1a" stroke-width="0.25" letter-spacing="-0.55">0.3</text>
<line x1="96.7" y1="542.31" x2="96.7" y2="529.11" stroke="#7a7a7a" stroke-width="1.1"/>
<line x1="90.28" y1="529.11" x2="103.12" y2="529.11" stroke="#7a7a7a" stroke-width="1.1"/>
<rect x="86.5" y="542.31" width="20.4" height="17.29" fill="#fff" stroke="#7a7a7a" stroke-width="1.1"/>
<line x1="133" y1="494.85" x2="133" y2="482.59" stroke="#7a7a7a" stroke-width="1.1"/>
<line x1="126.64" y1="482.59" x2="139.36" y2="482.59" stroke="#7a7a7a" stroke-width="1.1"/>
<rect x="122.4" y="494.85" width="21.2" height="64.75" fill="#000"/>
<text x="117.9" y="457" font-size="11.5" text-anchor="middle" fill="#1a1a1a" stroke="#1a1a1a" stroke-width="0.25" >IL-1β</text>
<text x="134.4" y="478.4" font-size="12.5" text-anchor="middle" fill="#4a4a4a" stroke="#4a4a4a" stroke-width="0.25" letter-spacing="1.2">*</text>
<line x1="174" y1="464.5" x2="174" y2="558.9" stroke="#7a7a7a" stroke-width="1.1"/>
<line x1="169" y1="558.9" x2="256.3" y2="558.9" stroke="#7a7a7a" stroke-width="1.1"/>
<line x1="169" y1="558.9" x2="174" y2="558.9" stroke="#7a7a7a" stroke-width="1.1"/>
<text x="168.8" y="562.46" font-size="11" text-anchor="end" fill="#1a1a1a" stroke="#1a1a1a" stroke-width="0.25" >0</text>
<line x1="169" y1="511.7" x2="174" y2="511.7" stroke="#7a7a7a" stroke-width="1.1"/>
<text x="168.7" y="515.26" font-size="11" text-anchor="end" fill="#1a1a1a" stroke="#1a1a1a" stroke-width="0.25" letter-spacing="-0.55">0.1</text>
<line x1="169" y1="464.5" x2="174" y2="464.5" stroke="#7a7a7a" stroke-width="1.1"/>
<text x="168.7" y="468.06" font-size="11" text-anchor="end" fill="#1a1a1a" stroke="#1a1a1a" stroke-width="0.25" letter-spacing="-0.55">0.2</text>
<line x1="194.9" y1="533.41" x2="194.9" y2="529.16" stroke="#7a7a7a" stroke-width="1.1"/>
<line x1="188.36" y1="529.16" x2="201.44" y2="529.16" stroke="#7a7a7a" stroke-width="1.1"/>
<rect x="184.5" y="533.41" width="20.8" height="25.49" fill="#fff" stroke="#7a7a7a" stroke-width="1.1"/>
<line x1="233.95" y1="493.76" x2="233.95" y2="484.8" stroke="#7a7a7a" stroke-width="1.1"/>
<line x1="227.62" y1="484.8" x2="240.28" y2="484.8" stroke="#7a7a7a" stroke-width="1.1"/>
<rect x="223.4" y="493.76" width="21.1" height="65.14" fill="#000"/>
<text x="214.8" y="457" font-size="11.5" text-anchor="middle" fill="#1a1a1a" stroke="#1a1a1a" stroke-width="0.25" >IFN-γ</text>
<text x="233.4" y="480.6" font-size="12.5" text-anchor="middle" fill="#4a4a4a" stroke="#4a4a4a" stroke-width="0.25" letter-spacing="1.2">*</text>
<line x1="277" y1="464.5" x2="277" y2="558.2" stroke="#7a7a7a" stroke-width="1.1"/>
<line x1="272" y1="558.2" x2="358.6" y2="558.2" stroke="#7a7a7a" stroke-width="1.1"/>
<line x1="272" y1="558.2" x2="277" y2="558.2" stroke="#7a7a7a" stroke-width="1.1"/>
<text x="271.2" y="561.76" font-size="11" text-anchor="end" fill="#1a1a1a" stroke="#1a1a1a" stroke-width="0.25" >0</text>
<line x1="272" y1="534.78" x2="277" y2="534.78" stroke="#7a7a7a" stroke-width="1.1"/>
<text x="271.1" y="538.34" font-size="11" text-anchor="end" fill="#1a1a1a" stroke="#1a1a1a" stroke-width="0.25" letter-spacing="-0.55">0.2</text>
<line x1="272" y1="511.35" x2="277" y2="511.35" stroke="#7a7a7a" stroke-width="1.1"/>
<text x="271.1" y="514.91" font-size="11" text-anchor="end" fill="#1a1a1a" stroke="#1a1a1a" stroke-width="0.25" letter-spacing="-0.55">0.4</text>
<line x1="272" y1="487.93" x2="277" y2="487.93" stroke="#7a7a7a" stroke-width="1.1"/>
<text x="271.1" y="491.49" font-size="11" text-anchor="end" fill="#1a1a1a" stroke="#1a1a1a" stroke-width="0.25" letter-spacing="-0.55">0.6</text>
<line x1="272" y1="464.5" x2="277" y2="464.5" stroke="#7a7a7a" stroke-width="1.1"/>
<text x="271.1" y="468.06" font-size="11" text-anchor="end" fill="#1a1a1a" stroke="#1a1a1a" stroke-width="0.25" letter-spacing="-0.55">0.8</text>
<line x1="297.3" y1="552.7" x2="297.3" y2="551.64" stroke="#7a7a7a" stroke-width="1.1"/>
<line x1="290.76" y1="551.64" x2="303.84" y2="551.64" stroke="#7a7a7a" stroke-width="1.1"/>
<rect x="286.9" y="552.7" width="20.8" height="5.5" fill="#fff" stroke="#7a7a7a" stroke-width="1.1"/>
<line x1="334.8" y1="489.68" x2="334.8" y2="482.42" stroke="#7a7a7a" stroke-width="1.1"/>
<line x1="328.38" y1="482.42" x2="341.22" y2="482.42" stroke="#7a7a7a" stroke-width="1.1"/>
<rect x="324.1" y="489.68" width="21.4" height="68.52" fill="#000"/>
<text x="317.5" y="457" font-size="11.5" text-anchor="middle" fill="#1a1a1a" stroke="#1a1a1a" stroke-width="0.25" >TNF-α</text>
<text x="336.8" y="479.2" font-size="12.5" text-anchor="middle" fill="#4a4a4a" stroke="#4a4a4a" stroke-width="0.25" letter-spacing="1.2">**</text>
<line x1="386" y1="465.5" x2="386" y2="559.7" stroke="#7a7a7a" stroke-width="1.1"/>
<line x1="381" y1="559.7" x2="468.6" y2="559.7" stroke="#7a7a7a" stroke-width="1.1"/>
<line x1="381" y1="559.7" x2="386" y2="559.7" stroke="#7a7a7a" stroke-width="1.1"/>
<text x="379.8" y="563.26" font-size="11" text-anchor="end" fill="#1a1a1a" stroke="#1a1a1a" stroke-width="0.25" >0</text>
<line x1="381" y1="536.15" x2="386" y2="536.15" stroke="#7a7a7a" stroke-width="1.1"/>
<text x="379.7" y="539.71" font-size="11" text-anchor="end" fill="#1a1a1a" stroke="#1a1a1a" stroke-width="0.25" letter-spacing="-0.55">0.2</text>
<line x1="381" y1="512.6" x2="386" y2="512.6" stroke="#7a7a7a" stroke-width="1.1"/>
<text x="379.7" y="516.16" font-size="11" text-anchor="end" fill="#1a1a1a" stroke="#1a1a1a" stroke-width="0.25" letter-spacing="-0.55">0.4</text>
<line x1="381" y1="489.05" x2="386" y2="489.05" stroke="#7a7a7a" stroke-width="1.1"/>
<text x="379.7" y="492.61" font-size="11" text-anchor="end" fill="#1a1a1a" stroke="#1a1a1a" stroke-width="0.25" letter-spacing="-0.55">0.6</text>
<line x1="381" y1="465.5" x2="386" y2="465.5" stroke="#7a7a7a" stroke-width="1.1"/>
<text x="379.7" y="469.06" font-size="11" text-anchor="end" fill="#1a1a1a" stroke="#1a1a1a" stroke-width="0.25" letter-spacing="-0.55">0.8</text>
<line x1="407.5" y1="550.4" x2="407.5" y2="545.92" stroke="#7a7a7a" stroke-width="1.1"/>
<line x1="400.96" y1="545.92" x2="414.04" y2="545.92" stroke="#7a7a7a" stroke-width="1.1"/>
<rect x="397.1" y="550.4" width="20.8" height="9.3" fill="#fff" stroke="#7a7a7a" stroke-width="1.1"/>
<line x1="445.8" y1="498.71" x2="445.8" y2="482.22" stroke="#7a7a7a" stroke-width="1.1"/>
<line x1="439.56" y1="482.22" x2="452.04" y2="482.22" stroke="#7a7a7a" stroke-width="1.1"/>
<rect x="435.4" y="498.71" width="20.8" height="60.99" fill="#000"/>
<text x="428" y="457" font-size="11.5" text-anchor="middle" fill="#1a1a1a" stroke="#1a1a1a" stroke-width="0.25" >IL-6</text>
<text x="445.3" y="480.6" font-size="12.5" text-anchor="middle" fill="#4a4a4a" stroke="#4a4a4a" stroke-width="0.25" letter-spacing="1.2">*</text>
<line x1="493.2" y1="466.3" x2="493.2" y2="560.3" stroke="#7a7a7a" stroke-width="1.1"/>
<line x1="488.2" y1="560.3" x2="571" y2="560.3" stroke="#7a7a7a" stroke-width="1.1"/>
<line x1="488.2" y1="560.3" x2="493.2" y2="560.3" stroke="#7a7a7a" stroke-width="1.1"/>
<text x="485.8" y="563.86" font-size="11" text-anchor="end" fill="#1a1a1a" stroke="#1a1a1a" stroke-width="0.25" >0</text>
<line x1="488.2" y1="528.97" x2="493.2" y2="528.97" stroke="#7a7a7a" stroke-width="1.1"/>
<text x="485.7" y="532.53" font-size="11" text-anchor="end" fill="#1a1a1a" stroke="#1a1a1a" stroke-width="0.25" letter-spacing="-0.55">0.5</text>
<line x1="488.2" y1="497.63" x2="493.2" y2="497.63" stroke="#7a7a7a" stroke-width="1.1"/>
<text x="485.7" y="501.19" font-size="11" text-anchor="end" fill="#1a1a1a" stroke="#1a1a1a" stroke-width="0.25" letter-spacing="-0.55">1.0</text>
<line x1="488.2" y1="466.3" x2="493.2" y2="466.3" stroke="#7a7a7a" stroke-width="1.1"/>
<text x="485.7" y="469.86" font-size="11" text-anchor="end" fill="#1a1a1a" stroke="#1a1a1a" stroke-width="0.25" letter-spacing="-0.55">1.5</text>
<line x1="552.5" y1="509.54" x2="552.5" y2="495.13" stroke="#7a7a7a" stroke-width="1.1"/>
<line x1="546.14" y1="495.13" x2="558.86" y2="495.13" stroke="#7a7a7a" stroke-width="1.1"/>
<rect x="541.9" y="509.54" width="21.2" height="50.76" fill="#000"/>
<text x="532.1" y="457" font-size="11.5" text-anchor="middle" fill="#1a1a1a" stroke="#1a1a1a" stroke-width="0.25" >IL-17A</text>
<text x="550.8" y="491.0" font-size="12.5" text-anchor="middle" fill="#4a4a4a" stroke="#4a4a4a" stroke-width="0.25" letter-spacing="1.2">**</text>
<text x="517.3" y="554.7" font-size="11.3" text-anchor="middle" fill="#1a1a1a" stroke="#1a1a1a" stroke-width="0.25" >n.d.</text>
<line x1="589.5" y1="467" x2="589.5" y2="561.2" stroke="#7a7a7a" stroke-width="1.1"/>
<line x1="584.5" y1="561.2" x2="671.6" y2="561.2" stroke="#7a7a7a" stroke-width="1.1"/>
<line x1="584.5" y1="561.2" x2="589.5" y2="561.2" stroke="#7a7a7a" stroke-width="1.1"/>
<text x="581.7" y="564.76" font-size="11" text-anchor="end" fill="#1a1a1a" stroke="#1a1a1a" stroke-width="0.25" >0</text>
<line x1="584.5" y1="542.36" x2="589.5" y2="542.36" stroke="#7a7a7a" stroke-width="1.1"/>
<text x="581.7" y="545.92" font-size="11" text-anchor="end" fill="#1a1a1a" stroke="#1a1a1a" stroke-width="0.25" >1</text>
<line x1="584.5" y1="523.52" x2="589.5" y2="523.52" stroke="#7a7a7a" stroke-width="1.1"/>
<text x="581.7" y="527.08" font-size="11" text-anchor="end" fill="#1a1a1a" stroke="#1a1a1a" stroke-width="0.25" >2</text>
<line x1="584.5" y1="504.68" x2="589.5" y2="504.68" stroke="#7a7a7a" stroke-width="1.1"/>
<text x="581.7" y="508.24" font-size="11" text-anchor="end" fill="#1a1a1a" stroke="#1a1a1a" stroke-width="0.25" >3</text>
<line x1="584.5" y1="485.84" x2="589.5" y2="485.84" stroke="#7a7a7a" stroke-width="1.1"/>
<text x="581.7" y="489.4" font-size="11" text-anchor="end" fill="#1a1a1a" stroke="#1a1a1a" stroke-width="0.25" >4</text>
<line x1="584.5" y1="467" x2="589.5" y2="467" stroke="#7a7a7a" stroke-width="1.1"/>
<text x="581.7" y="470.56" font-size="11" text-anchor="end" fill="#1a1a1a" stroke="#1a1a1a" stroke-width="0.25" >5</text>
<line x1="648.15" y1="498.27" x2="648.15" y2="476.42" stroke="#7a7a7a" stroke-width="1.1"/>
<line x1="641.76" y1="476.42" x2="654.54" y2="476.42" stroke="#7a7a7a" stroke-width="1.1"/>
<rect x="637.5" y="498.27" width="21.3" height="62.93" fill="#000"/>
<text x="625.2" y="456.7" font-size="11.5" text-anchor="middle" fill="#1a1a1a" stroke="#1a1a1a" stroke-width="0.25" >IL-22</text>
<text x="648.3" y="472.0" font-size="12.5" text-anchor="middle" fill="#4a4a4a" stroke="#4a4a4a" stroke-width="0.25" letter-spacing="1.2">*</text>
<text x="616.5" y="555.8" font-size="11.3" text-anchor="middle" fill="#1a1a1a" stroke="#1a1a1a" stroke-width="0.25" >n.d.</text>
<line x1="76.4" y1="601.4" x2="76.4" y2="695.5" stroke="#7a7a7a" stroke-width="1.1"/>
<line x1="71.4" y1="695.5" x2="156.9" y2="695.5" stroke="#7a7a7a" stroke-width="1.1"/>
<line x1="71.4" y1="695.5" x2="76.4" y2="695.5" stroke="#7a7a7a" stroke-width="1.1"/>
<text x="70.2" y="699.06" font-size="11" text-anchor="end" fill="#1a1a1a" stroke="#1a1a1a" stroke-width="0.25" >0</text>
<line x1="71.4" y1="664.13" x2="76.4" y2="664.13" stroke="#7a7a7a" stroke-width="1.1"/>
<text x="70.2" y="667.69" font-size="11" text-anchor="end" fill="#1a1a1a" stroke="#1a1a1a" stroke-width="0.25" >2</text>
<line x1="71.4" y1="632.77" x2="76.4" y2="632.77" stroke="#7a7a7a" stroke-width="1.1"/>
<text x="70.2" y="636.33" font-size="11" text-anchor="end" fill="#1a1a1a" stroke="#1a1a1a" stroke-width="0.25" >4</text>
<line x1="71.4" y1="601.4" x2="76.4" y2="601.4" stroke="#7a7a7a" stroke-width="1.1"/>
<text x="70.2" y="604.96" font-size="11" text-anchor="end" fill="#1a1a1a" stroke="#1a1a1a" stroke-width="0.25" >6</text>
<line x1="99.3" y1="689.23" x2="99.3" y2="685.31" stroke="#7a7a7a" stroke-width="1.1"/>
<line x1="92.76" y1="685.31" x2="105.84" y2="685.31" stroke="#7a7a7a" stroke-width="1.1"/>
<rect x="88.9" y="689.23" width="20.8" height="6.27" fill="#fff" stroke="#7a7a7a" stroke-width="1.1"/>
<line x1="134.6" y1="632.14" x2="134.6" y2="620.69" stroke="#7a7a7a" stroke-width="1.1"/>
<line x1="128.3" y1="620.69" x2="140.9" y2="620.69" stroke="#7a7a7a" stroke-width="1.1"/>
<rect x="124.1" y="632.14" width="21" height="63.36" fill="#000"/>
<text x="122.7" y="589.3" font-size="11.5" text-anchor="middle" fill="#1a1a1a" stroke="#1a1a1a" stroke-width="0.25" >MCP-1</text>
<text x="133.6" y="615.4" font-size="12.5" text-anchor="middle" fill="#4a4a4a" stroke="#4a4a4a" stroke-width="0.25" letter-spacing="1.2">*</text>
<line x1="178" y1="600.7" x2="178" y2="695.1" stroke="#7a7a7a" stroke-width="1.1"/>
<line x1="173" y1="695.1" x2="259.3" y2="695.1" stroke="#7a7a7a" stroke-width="1.1"/>
<line x1="173" y1="695.1" x2="178" y2="695.1" stroke="#7a7a7a" stroke-width="1.1"/>
<text x="172.6" y="698.66" font-size="11" text-anchor="end" fill="#1a1a1a" stroke="#1a1a1a" stroke-width="0.25" >0</text>
<line x1="173" y1="663.63" x2="178" y2="663.63" stroke="#7a7a7a" stroke-width="1.1"/>
<text x="172.5" y="667.19" font-size="11" text-anchor="end" fill="#1a1a1a" stroke="#1a1a1a" stroke-width="0.25" letter-spacing="-0.55">0.2</text>
<line x1="173" y1="632.17" x2="178" y2="632.17" stroke="#7a7a7a" stroke-width="1.1"/>
<text x="172.5" y="635.73" font-size="11" text-anchor="end" fill="#1a1a1a" stroke="#1a1a1a" stroke-width="0.25" letter-spacing="-0.55">0.4</text>
<line x1="173" y1="600.7" x2="178" y2="600.7" stroke="#7a7a7a" stroke-width="1.1"/>
<text x="172.5" y="604.26" font-size="11" text-anchor="end" fill="#1a1a1a" stroke="#1a1a1a" stroke-width="0.25" letter-spacing="-0.55">0.6</text>
<line x1="198.1" y1="690.54" x2="198.1" y2="689.28" stroke="#7a7a7a" stroke-width="1.1"/>
<line x1="191.62" y1="689.28" x2="204.58" y2="689.28" stroke="#7a7a7a" stroke-width="1.1"/>
<rect x="187.8" y="690.54" width="20.6" height="4.56" fill="#fff" stroke="#7a7a7a" stroke-width="1.1"/>
<line x1="237.3" y1="629.33" x2="237.3" y2="618.32" stroke="#7a7a7a" stroke-width="1.1"/>
<line x1="230.94" y1="618.32" x2="243.66" y2="618.32" stroke="#7a7a7a" stroke-width="1.1"/>
<rect x="226.7" y="629.33" width="21.2" height="65.77" fill="#000"/>
<text x="218.6" y="589.3" font-size="11.5" text-anchor="middle" fill="#1a1a1a" stroke="#1a1a1a" stroke-width="0.25" >MIP-1α</text>
<text x="236.4" y="615.0" font-size="12.5" text-anchor="middle" fill="#4a4a4a" stroke="#4a4a4a" stroke-width="0.25" letter-spacing="1.2">**</text>
<line x1="279.7" y1="600.7" x2="279.7" y2="694.1" stroke="#7a7a7a" stroke-width="1.1"/>
<line x1="274.7" y1="694.1" x2="360" y2="694.1" stroke="#7a7a7a" stroke-width="1.1"/>
<line x1="274.7" y1="694.1" x2="279.7" y2="694.1" stroke="#7a7a7a" stroke-width="1.1"/>
<text x="274" y="697.66" font-size="11" text-anchor="end" fill="#1a1a1a" stroke="#1a1a1a" stroke-width="0.25" >0</text>
<line x1="274.7" y1="662.97" x2="279.7" y2="662.97" stroke="#7a7a7a" stroke-width="1.1"/>
<text x="273.9" y="666.53" font-size="11" text-anchor="end" fill="#1a1a1a" stroke="#1a1a1a" stroke-width="0.25" letter-spacing="-0.55">0.2</text>
<line x1="274.7" y1="631.83" x2="279.7" y2="631.83" stroke="#7a7a7a" stroke-width="1.1"/>
<text x="273.9" y="635.39" font-size="11" text-anchor="end" fill="#1a1a1a" stroke="#1a1a1a" stroke-width="0.25" letter-spacing="-0.55">0.4</text>
<line x1="274.7" y1="600.7" x2="279.7" y2="600.7" stroke="#7a7a7a" stroke-width="1.1"/>
<text x="273.9" y="604.26" font-size="11" text-anchor="end" fill="#1a1a1a" stroke="#1a1a1a" stroke-width="0.25" letter-spacing="-0.55">0.6</text>
<line x1="339.4" y1="623.27" x2="339.4" y2="615.49" stroke="#7a7a7a" stroke-width="1.1"/>
<line x1="333.04" y1="615.49" x2="345.76" y2="615.49" stroke="#7a7a7a" stroke-width="1.1"/>
<rect x="328.8" y="623.27" width="21.2" height="70.83" fill="#000"/>
<text x="317.5" y="589.3" font-size="11.5" text-anchor="middle" fill="#1a1a1a" stroke="#1a1a1a" stroke-width="0.25" >RANTES</text>
<text x="339.4" y="611.7" font-size="12.5" text-anchor="middle" fill="#4a4a4a" stroke="#4a4a4a" stroke-width="0.25" letter-spacing="1.2">**</text>
<text x="308.8" y="690" font-size="11.3" text-anchor="middle" fill="#1a1a1a" stroke="#1a1a1a" stroke-width="0.25" >n.d.</text>
<line x1="384.9" y1="600.1" x2="384.9" y2="694.1" stroke="#7a7a7a" stroke-width="1.1"/>
<line x1="379.9" y1="694.1" x2="466.4" y2="694.1" stroke="#7a7a7a" stroke-width="1.1"/>
<line x1="379.9" y1="694.1" x2="384.9" y2="694.1" stroke="#7a7a7a" stroke-width="1.1"/>
<text x="379.6" y="697.66" font-size="11" text-anchor="end" fill="#1a1a1a" stroke="#1a1a1a" stroke-width="0.25" >0</text>
<line x1="379.9" y1="662.77" x2="384.9" y2="662.77" stroke="#7a7a7a" stroke-width="1.1"/>
<text x="379.5" y="666.33" font-size="11" text-anchor="end" fill="#1a1a1a" stroke="#1a1a1a" stroke-width="0.25" letter-spacing="-0.55">0.1</text>
<line x1="379.9" y1="631.43" x2="384.9" y2="631.43" stroke="#7a7a7a" stroke-width="1.1"/>
<text x="379.5" y="634.99" font-size="11" text-anchor="end" fill="#1a1a1a" stroke="#1a1a1a" stroke-width="0.25" letter-spacing="-0.55">0.2</text>
<line x1="379.9" y1="600.1" x2="384.9" y2="600.1" stroke="#7a7a7a" stroke-width="1.1"/>
<text x="379.5" y="603.66" font-size="11" text-anchor="end" fill="#1a1a1a" stroke="#1a1a1a" stroke-width="0.25" letter-spacing="-0.55">0.3</text>
<line x1="405.95" y1="691.28" x2="405.95" y2="688.15" stroke="#7a7a7a" stroke-width="1.1"/>
<line x1="399.56" y1="688.15" x2="412.34" y2="688.15" stroke="#7a7a7a" stroke-width="1.1"/>
<rect x="395.8" y="691.28" width="20.3" height="2.82" fill="#fff" stroke="#7a7a7a" stroke-width="1.1"/>
<line x1="444.4" y1="634.25" x2="444.4" y2="624.54" stroke="#7a7a7a" stroke-width="1.1"/>
<line x1="438.16" y1="624.54" x2="450.64" y2="624.54" stroke="#7a7a7a" stroke-width="1.1"/>
<rect x="434" y="634.25" width="20.8" height="59.85" fill="#000"/>
<text x="425" y="589.3" font-size="11.5" text-anchor="middle" fill="#1a1a1a" stroke="#1a1a1a" stroke-width="0.25" >KC</text>
<text x="444.6" y="620.2" font-size="12.5" text-anchor="middle" fill="#4a4a4a" stroke="#4a4a4a" stroke-width="0.25" letter-spacing="1.2">**</text>
<text transform="translate(44.3,512.4) rotate(-90)" font-size="12" text-anchor="middle" fill="#222" stroke="#222" stroke-width="0.25">ng / tissue (g)</text>
<text transform="translate(47.7,648.6) rotate(-90)" font-size="12" text-anchor="middle" fill="#222" stroke="#222" stroke-width="0.25">ng / tissue (g)</text>
<rect x="489" y="597.6" width="15.2" height="7.6" fill="#fff" stroke="#666" stroke-width="1"/>
<rect x="488.4" y="613.1" width="16.1" height="8" fill="#000"/>
<text x="509.3" y="604.8" font-size="12" font-style="italic" fill="#1a1a1a" stroke="#1a1a1a" stroke-width="0.25">Nfkbiz<tspan dx="2.5" dy="-4.6" font-size="8">+/−</tspan></text>
<text x="509.3" y="621.6" font-size="12" font-style="italic" fill="#1a1a1a" stroke="#1a1a1a" stroke-width="0.25">Nfkbiz<tspan dx="2.5" dy="-4.6" font-size="8">−/−</tspan></text>
<text transform="translate(4.3,749.5) scale(0.84,1)" font-size="33.5" font-weight="bold" fill="#000" stroke="#000" stroke-width="1.4">E</text>
<rect x="34" y="748.5" width="23.2" height="136.5" fill="#000"/>
<rect x="348.8" y="748.5" width="23.7" height="136.5" fill="#000"/>
<text transform="translate(49.6,870.4) rotate(-90)" font-size="10.7" font-weight="bold" stroke-width="0.2"><tspan fill="#22b04a" stroke="#22b04a">CD11b</tspan><tspan fill="#e0201a" stroke="#e0201a">langerin</tspan><tspan fill="#f4f4f4" stroke="#f4f4f4">CD11c</tspan></text>
<text transform="translate(364.6,842) rotate(-90)" font-size="10.9" font-weight="bold" stroke-width="0.2"><tspan fill="#f4f4f4" stroke="#f4f4f4">CD4</tspan><tspan fill="#e0201a" stroke="#e0201a">CD8α</tspan></text>
<rect x="60.3" y="748.5" width="137" height="136.5" fill="#000"/><clipPath id="cf1"><rect x="60.3" y="748.5" width="137" height="136.5"/></clipPath><g clip-path="url(#cf1)"><g filter="url(#fb)"><ellipse cx="188.6" cy="812.1" rx="2.1" ry="1.3" transform="rotate(51 188.6 812.1)" fill="#3030ff"/><ellipse cx="67.2" cy="812.2" rx="2.7" ry="2.2" transform="rotate(59 67.2 812.2)" fill="#1818d8"/><ellipse cx="182.7" cy="801.9" rx="2.4" ry="1.7" transform="rotate(120 182.7 801.9)" fill="#1a1aff"/><ellipse cx="181.2" cy="776.9" rx="2.9" ry="2.0" transform="rotate(64 181.2 776.9)" fill="#1010c8"/><ellipse cx="150.3" cy="813.3" rx="3.0" ry="2.0" transform="rotate(156 150.3 813.3)" fill="#3030ff"/><ellipse cx="157.3" cy="808.6" rx="2.7" ry="2.2" transform="rotate(108 157.3 808.6)" fill="#2a2af0"/><ellipse cx="93.6" cy="775.2" rx="3.2" ry="2.9" transform="rotate(57 93.6 775.2)" fill="#1a1aff"/><ellipse cx="60.3" cy="802.1" rx="2.7" ry="1.5" transform="rotate(60 60.3 802.1)" fill="#1818d8"/><ellipse cx="106.6" cy="798.5" rx="2.7" ry="2.2" transform="rotate(123 106.6 798.5)" fill="#1010c8"/><ellipse cx="100.8" cy="782.4" rx="2.1" ry="2.0" transform="rotate(135 100.8 782.4)" fill="#2020e0"/><ellipse cx="66.5" cy="804.4" rx="2.2" ry="1.7" transform="rotate(25 66.5 804.4)" fill="#3030ff"/><ellipse cx="195.8" cy="761.8" rx="2.3" ry="1.9" transform="rotate(95 195.8 761.8)" fill="#2020e0"/><ellipse cx="63.7" cy="790.3" rx="2.9" ry="2.0" transform="rotate(45 63.7 790.3)" fill="#1818d8"/><ellipse cx="77.5" cy="808.7" rx="1.9" ry="1.7" transform="rotate(17 77.5 808.7)" fill="#0c0cb0"/><ellipse cx="117.1" cy="805.3" rx="2.8" ry="1.9" transform="rotate(150 117.1 805.3)" fill="#1a1aff"/><ellipse cx="60.1" cy="782.4" rx="2.5" ry="2.0" transform="rotate(51 60.1 782.4)" fill="#0c0cb0"/><ellipse cx="65.5" cy="772.9" rx="2.6" ry="2.0" transform="rotate(174 65.5 772.9)" fill="#2020e0"/><ellipse cx="68.8" cy="781.7" rx="1.8" ry="1.2" transform="rotate(27 68.8 781.7)" fill="#2020e0"/><ellipse cx="180.1" cy="804.0" rx="2.1" ry="1.3" transform="rotate(166 180.1 804.0)" fill="#1010c8"/><ellipse cx="73.1" cy="804.8" rx="3.0" ry="2.7" transform="rotate(2 73.1 804.8)" fill="#2020e0"/><ellipse cx="145.5" cy="816.9" rx="1.9" ry="1.6" transform="rotate(63 145.5 816.9)" fill="#1a1aff"/><ellipse cx="194.7" cy="754.7" rx="2.5" ry="1.6" transform="rotate(49 194.7 754.7)" fill="#2020e0"/><ellipse cx="82.9" cy="821.9" rx="2.0" ry="1.5" transform="rotate(48 82.9 821.9)" fill="#1818d8"/><ellipse cx="116.8" cy="790.5" rx="2.6" ry="2.2" transform="rotate(74 116.8 790.5)" fill="#0c0cb0"/><ellipse cx="101.7" cy="784.9" rx="2.8" ry="1.8" transform="rotate(6 101.7 784.9)" fill="#1a1aff"/><ellipse cx="73.8" cy="819.7" rx="2.5" ry="1.7" transform="rotate(134 73.8 819.7)" fill="#1818d8"/><ellipse cx="80.9" cy="786.4" rx="2.8" ry="2.5" transform="rotate(15 80.9 786.4)" fill="#2020e0"/><ellipse cx="182.9" cy="775.2" rx="1.9" ry="1.4" transform="rotate(76 182.9 775.2)" fill="#2a2af0"/><ellipse cx="84.1" cy="774.6" rx="2.5" ry="2.2" transform="rotate(115 84.1 774.6)" fill="#3030ff"/><ellipse cx="92.5" cy="787.8" rx="2.9" ry="2.6" transform="rotate(168 92.5 787.8)" fill="#0c0cb0"/><ellipse cx="76.5" cy="824.7" rx="2.7" ry="2.3" transform="rotate(20 76.5 824.7)" fill="#2a2af0"/><ellipse cx="117.7" cy="804.6" rx="2.8" ry="2.5" transform="rotate(170 117.7 804.6)" fill="#2020e0"/><ellipse cx="89.0" cy="819.5" rx="3.2" ry="2.8" transform="rotate(83 89.0 819.5)" fill="#3030ff"/><ellipse cx="191.2" cy="755.8" rx="2.2" ry="1.3" transform="rotate(99 191.2 755.8)" fill="#3030ff"/><ellipse cx="110.0" cy="799.6" rx="3.0" ry="1.7" transform="rotate(77 110.0 799.6)" fill="#1010c8"/><ellipse cx="135.7" cy="805.3" rx="3.2" ry="2.1" transform="rotate(93 135.7 805.3)" fill="#1a1aff"/><ellipse cx="135.0" cy="813.1" rx="2.3" ry="1.9" transform="rotate(40 135.0 813.1)" fill="#1818d8"/><ellipse cx="194.2" cy="782.3" rx="2.2" ry="1.6" transform="rotate(97 194.2 782.3)" fill="#1818d8"/><ellipse cx="113.8" cy="791.3" rx="2.9" ry="2.3" transform="rotate(132 113.8 791.3)" fill="#2a2af0"/><ellipse cx="69.4" cy="845.3" rx="3.1" ry="2.0" transform="rotate(39 69.4 845.3)" fill="#1818d8"/><ellipse cx="122.7" cy="798.3" rx="2.2" ry="2.0" transform="rotate(115 122.7 798.3)" fill="#1010c8"/><ellipse cx="126.5" cy="805.1" rx="1.9" ry="1.1" transform="rotate(164 126.5 805.1)" fill="#1818d8"/><ellipse cx="64.7" cy="796.1" rx="2.0" ry="1.2" transform="rotate(114 64.7 796.1)" fill="#2020e0"/><ellipse cx="108.1" cy="799.8" rx="3.2" ry="2.5" transform="rotate(81 108.1 799.8)" fill="#1818d8"/><ellipse cx="188.4" cy="772.8" rx="2.4" ry="1.6" transform="rotate(107 188.4 772.8)" fill="#3030ff"/><ellipse cx="171.5" cy="804.8" rx="1.9" ry="1.5" transform="rotate(129 171.5 804.8)" fill="#3030ff"/><ellipse cx="60.0" cy="783.2" rx="2.1" ry="1.6" transform="rotate(81 60.0 783.2)" fill="#0c0cb0"/><ellipse cx="173.9" cy="812.8" rx="2.4" ry="2.2" transform="rotate(71 173.9 812.8)" fill="#3030ff"/><ellipse cx="130.0" cy="794.9" rx="2.5" ry="1.8" transform="rotate(154 130.0 794.9)" fill="#2a2af0"/><ellipse cx="102.7" cy="783.4" rx="2.3" ry="2.0" transform="rotate(68 102.7 783.4)" fill="#1818d8"/><ellipse cx="74.1" cy="792.4" rx="1.8" ry="1.5" transform="rotate(162 74.1 792.4)" fill="#0c0cb0"/><ellipse cx="60.9" cy="789.2" rx="2.8" ry="2.2" transform="rotate(165 60.9 789.2)" fill="#2020e0"/><ellipse cx="75.3" cy="801.4" rx="2.6" ry="1.7" transform="rotate(83 75.3 801.4)" fill="#2a2af0"/><ellipse cx="60.6" cy="797.6" rx="2.9" ry="1.8" transform="rotate(94 60.6 797.6)" fill="#1818d8"/><ellipse cx="64.5" cy="793.3" rx="2.1" ry="1.4" transform="rotate(93 64.5 793.3)" fill="#0c0cb0"/><ellipse cx="65.3" cy="812.3" rx="2.4" ry="2.0" transform="rotate(90 65.3 812.3)" fill="#0c0cb0"/><ellipse cx="164.3" cy="816.7" rx="3.0" ry="2.6" transform="rotate(175 164.3 816.7)" fill="#2020e0"/><ellipse cx="182.9" cy="792.0" rx="2.0" ry="1.8" transform="rotate(13 182.9 792.0)" fill="#2a2af0"/><ellipse cx="81.8" cy="825.4" rx="3.2" ry="2.6" transform="rotate(72 81.8 825.4)" fill="#1a1aff"/><ellipse cx="186.0" cy="758.9" rx="2.0" ry="1.4" transform="rotate(13 186.0 758.9)" fill="#3030ff"/><ellipse cx="160.6" cy="815.9" rx="2.6" ry="1.8" transform="rotate(64 160.6 815.9)" fill="#0c0cb0"/><ellipse cx="183.8" cy="772.2" rx="1.8" ry="1.4" transform="rotate(130 183.8 772.2)" fill="#2020e0"/><ellipse cx="150.8" cy="812.6" rx="2.5" ry="2.3" transform="rotate(89 150.8 812.6)" fill="#0c0cb0"/><ellipse cx="178.7" cy="801.5" rx="3.1" ry="2.3" transform="rotate(32 178.7 801.5)" fill="#3030ff"/><ellipse cx="83.1" cy="805.7" rx="2.1" ry="1.8" transform="rotate(54 83.1 805.7)" fill="#0c0cb0"/><ellipse cx="192.6" cy="761.0" rx="2.8" ry="2.2" transform="rotate(47 192.6 761.0)" fill="#0c0cb0"/><ellipse cx="188.8" cy="778.6" rx="2.1" ry="1.6" transform="rotate(131 188.8 778.6)" fill="#1818d8"/><ellipse cx="183.6" cy="809.3" rx="2.8" ry="2.0" transform="rotate(105 183.6 809.3)" fill="#2a2af0"/><ellipse cx="190.6" cy="803.3" rx="2.8" ry="2.1" transform="rotate(47 190.6 803.3)" fill="#2a2af0"/><ellipse cx="98.4" cy="779.8" rx="2.5" ry="1.6" transform="rotate(6 98.4 779.8)" fill="#1010c8"/><ellipse cx="192.7" cy="766.6" rx="2.4" ry="1.5" transform="rotate(139 192.7 766.6)" fill="#1a1aff"/><ellipse cx="150.0" cy="813.2" rx="2.2" ry="1.6" transform="rotate(17 150.0 813.2)" fill="#1818d8"/><ellipse cx="184.3" cy="808.3" rx="2.0" ry="1.7" transform="rotate(58 184.3 808.3)" fill="#2020e0"/><ellipse cx="177.6" cy="806.2" rx="3.2" ry="2.0" transform="rotate(41 177.6 806.2)" fill="#2a2af0"/><ellipse cx="78.6" cy="796.6" rx="2.0" ry="1.1" transform="rotate(11 78.6 796.6)" fill="#0c0cb0"/><ellipse cx="127.5" cy="796.2" rx="2.9" ry="2.6" transform="rotate(24 127.5 796.2)" fill="#1a1aff"/><ellipse cx="178.7" cy="807.0" rx="3.2" ry="2.6" transform="rotate(88 178.7 807.0)" fill="#3030ff"/><ellipse cx="86.4" cy="782.9" rx="1.9" ry="1.6" transform="rotate(163 86.4 782.9)" fill="#1a1aff"/><ellipse cx="136.0" cy="813.2" rx="2.4" ry="1.5" transform="rotate(117 136.0 813.2)" fill="#1a1aff"/><ellipse cx="79.8" cy="792.8" rx="3.0" ry="1.7" transform="rotate(38 79.8 792.8)" fill="#0c0cb0"/><ellipse cx="116.7" cy="791.2" rx="2.8" ry="2.0" transform="rotate(59 116.7 791.2)" fill="#1a1aff"/><ellipse cx="78.2" cy="773.9" rx="1.9" ry="1.6" transform="rotate(150 78.2 773.9)" fill="#1818d8"/><ellipse cx="84.0" cy="812.1" rx="2.4" ry="1.7" transform="rotate(179 84.0 812.1)" fill="#1818d8"/><ellipse cx="179.6" cy="801.4" rx="2.9" ry="1.9" transform="rotate(27 179.6 801.4)" fill="#1818d8"/><ellipse cx="175.1" cy="801.3" rx="3.1" ry="2.8" transform="rotate(84 175.1 801.3)" fill="#1818d8"/><ellipse cx="187.1" cy="773.3" rx="2.3" ry="1.5" transform="rotate(11 187.1 773.3)" fill="#0c0cb0"/><ellipse cx="180.5" cy="788.5" rx="2.3" ry="1.7" transform="rotate(143 180.5 788.5)" fill="#2020e0"/><ellipse cx="157.7" cy="812.8" rx="2.4" ry="1.4" transform="rotate(121 157.7 812.8)" fill="#1a1aff"/><ellipse cx="184.5" cy="777.7" rx="3.2" ry="2.7" transform="rotate(133 184.5 777.7)" fill="#1010c8"/><ellipse cx="119.0" cy="791.3" rx="1.9" ry="1.7" transform="rotate(85 119.0 791.3)" fill="#3030ff"/><ellipse cx="137.2" cy="806.9" rx="2.1" ry="1.2" transform="rotate(88 137.2 806.9)" fill="#0c0cb0"/><ellipse cx="194.3" cy="803.6" rx="3.2" ry="2.5" transform="rotate(114 194.3 803.6)" fill="#2a2af0"/><ellipse cx="177.1" cy="784.4" rx="2.3" ry="2.0" transform="rotate(97 177.1 784.4)" fill="#2020e0"/><ellipse cx="86.1" cy="808.3" rx="2.4" ry="1.4" transform="rotate(143 86.1 808.3)" fill="#2a2af0"/><ellipse cx="189.9" cy="795.4" rx="3.2" ry="2.6" transform="rotate(105 189.9 795.4)" fill="#2020e0"/><ellipse cx="180.5" cy="805.0" rx="1.8" ry="1.0" transform="rotate(91 180.5 805.0)" fill="#0c0cb0"/><ellipse cx="86.4" cy="815.8" rx="2.6" ry="2.3" transform="rotate(21 86.4 815.8)" fill="#1010c8"/><ellipse cx="68.9" cy="780.1" rx="2.9" ry="2.4" transform="rotate(104 68.9 780.1)" fill="#0c0cb0"/><ellipse cx="74.0" cy="789.6" rx="2.7" ry="1.7" transform="rotate(58 74.0 789.6)" fill="#1a1aff"/><ellipse cx="187.4" cy="808.6" rx="3.1" ry="2.0" transform="rotate(0 187.4 808.6)" fill="#2a2af0"/><ellipse cx="62.0" cy="785.9" rx="2.1" ry="1.5" transform="rotate(88 62.0 785.9)" fill="#0c0cb0"/><ellipse cx="118.5" cy="794.6" rx="2.9" ry="1.9" transform="rotate(175 118.5 794.6)" fill="#2020e0"/><ellipse cx="188.1" cy="781.1" rx="2.4" ry="1.5" transform="rotate(17 188.1 781.1)" fill="#2a2af0"/><ellipse cx="185.8" cy="762.4" rx="2.6" ry="1.7" transform="rotate(95 185.8 762.4)" fill="#3030ff"/><ellipse cx="189.1" cy="799.1" rx="2.5" ry="2.4" transform="rotate(81 189.1 799.1)" fill="#2020e0"/><ellipse cx="70.5" cy="824.1" rx="1.9" ry="1.4" transform="rotate(55 70.5 824.1)" fill="#0c0cb0"/><ellipse cx="77.3" cy="828.8" rx="2.3" ry="2.0" transform="rotate(143 77.3 828.8)" fill="#0c0cb0"/><ellipse cx="103.9" cy="788.7" rx="2.8" ry="2.3" transform="rotate(70 103.9 788.7)" fill="#1818d8"/><ellipse cx="169.7" cy="817.4" rx="2.9" ry="2.4" transform="rotate(15 169.7 817.4)" fill="#0c0cb0"/><ellipse cx="101.3" cy="793.3" rx="3.0" ry="2.1" transform="rotate(129 101.3 793.3)" fill="#1a1aff"/><ellipse cx="177.9" cy="815.4" rx="2.8" ry="2.6" transform="rotate(2 177.9 815.4)" fill="#1010c8"/><ellipse cx="178.0" cy="810.1" rx="3.2" ry="2.2" transform="rotate(32 178.0 810.1)" fill="#2a2af0"/><ellipse cx="72.9" cy="820.1" rx="1.9" ry="1.2" transform="rotate(56 72.9 820.1)" fill="#2a2af0"/><ellipse cx="91.5" cy="786.3" rx="2.8" ry="1.7" transform="rotate(71 91.5 786.3)" fill="#2a2af0"/><ellipse cx="80.2" cy="801.6" rx="2.8" ry="2.5" transform="rotate(116 80.2 801.6)" fill="#0c0cb0"/><ellipse cx="112.7" cy="795.3" rx="2.7" ry="2.5" transform="rotate(143 112.7 795.3)" fill="#0c0cb0"/><ellipse cx="189.3" cy="804.0" rx="3.0" ry="1.9" transform="rotate(81 189.3 804.0)" fill="#2a2af0"/><ellipse cx="138.6" cy="798.1" rx="3.0" ry="2.3" transform="rotate(52 138.6 798.1)" fill="#3030ff"/><ellipse cx="80.5" cy="804.5" rx="2.9" ry="2.2" transform="rotate(102 80.5 804.5)" fill="#1010c8"/><ellipse cx="191.3" cy="779.5" rx="3.0" ry="2.1" transform="rotate(37 191.3 779.5)" fill="#1a1aff"/><ellipse cx="162.1" cy="808.9" rx="2.7" ry="1.7" transform="rotate(34 162.1 808.9)" fill="#3030ff"/><ellipse cx="115.4" cy="799.5" rx="2.2" ry="2.0" transform="rotate(157 115.4 799.5)" fill="#1a1aff"/><ellipse cx="59.2" cy="829.6" rx="1.9" ry="1.5" transform="rotate(27 59.2 829.6)" fill="#0c0cb0"/><ellipse cx="188.3" cy="811.2" rx="3.0" ry="2.7" transform="rotate(119 188.3 811.2)" fill="#1a1aff"/><ellipse cx="183.1" cy="767.8" rx="2.0" ry="1.6" transform="rotate(150 183.1 767.8)" fill="#0c0cb0"/><ellipse cx="183.5" cy="781.7" rx="3.2" ry="2.1" transform="rotate(63 183.5 781.7)" fill="#1010c8"/><ellipse cx="70.9" cy="820.6" rx="2.8" ry="2.1" transform="rotate(109 70.9 820.6)" fill="#3030ff"/><ellipse cx="62.8" cy="787.7" rx="2.1" ry="1.4" transform="rotate(42 62.8 787.7)" fill="#1818d8"/><ellipse cx="66.1" cy="817.3" rx="3.2" ry="2.6" transform="rotate(105 66.1 817.3)" fill="#2020e0"/><ellipse cx="144.1" cy="809.3" rx="2.9" ry="2.0" transform="rotate(24 144.1 809.3)" fill="#2a2af0"/><ellipse cx="166.1" cy="804.1" rx="3.0" ry="1.8" transform="rotate(20 166.1 804.1)" fill="#3030ff"/><ellipse cx="121.5" cy="795.5" rx="2.3" ry="1.7" transform="rotate(139 121.5 795.5)" fill="#1a1aff"/><ellipse cx="146.7" cy="811.7" rx="1.9" ry="1.7" transform="rotate(39 146.7 811.7)" fill="#3030ff"/><ellipse cx="186.2" cy="761.0" rx="3.1" ry="2.7" transform="rotate(90 186.2 761.0)" fill="#3030ff"/><ellipse cx="119.4" cy="792.2" rx="3.2" ry="3.0" transform="rotate(3 119.4 792.2)" fill="#1818d8"/><ellipse cx="66.5" cy="772.4" rx="2.7" ry="1.6" transform="rotate(77 66.5 772.4)" fill="#1a1aff"/><ellipse cx="75.6" cy="783.8" rx="2.9" ry="1.8" transform="rotate(80 75.6 783.8)" fill="#1818d8"/><ellipse cx="87.4" cy="783.6" rx="2.0" ry="1.2" transform="rotate(158 87.4 783.6)" fill="#3030ff"/><ellipse cx="112.3" cy="792.8" rx="1.9" ry="1.3" transform="rotate(136 112.3 792.8)" fill="#0c0cb0"/><ellipse cx="77.1" cy="786.8" rx="2.8" ry="2.6" transform="rotate(14 77.1 786.8)" fill="#3030ff"/><ellipse cx="195.3" cy="758.5" rx="3.0" ry="2.8" transform="rotate(104 195.3 758.5)" fill="#3030ff"/><ellipse cx="78.7" cy="816.2" rx="1.8" ry="1.1" transform="rotate(72 78.7 816.2)" fill="#3030ff"/><ellipse cx="110.5" cy="799.0" rx="3.2" ry="2.5" transform="rotate(22 110.5 799.0)" fill="#3030ff"/><ellipse cx="156.7" cy="812.4" rx="3.1" ry="1.7" transform="rotate(115 156.7 812.4)" fill="#2020e0"/><ellipse cx="191.0" cy="781.6" rx="2.0" ry="1.3" transform="rotate(129 191.0 781.6)" fill="#2020e0"/><ellipse cx="80.8" cy="812.9" rx="2.1" ry="1.5" transform="rotate(74 80.8 812.9)" fill="#2a2af0"/><ellipse cx="187.6" cy="778.8" rx="2.2" ry="1.7" transform="rotate(63 187.6 778.8)" fill="#2020e0"/><ellipse cx="117.2" cy="795.9" rx="3.0" ry="2.5" transform="rotate(138 117.2 795.9)" fill="#3030ff"/><ellipse cx="122.9" cy="801.7" rx="2.3" ry="1.8" transform="rotate(32 122.9 801.7)" fill="#0c0cb0"/><ellipse cx="143.2" cy="801.1" rx="2.5" ry="1.6" transform="rotate(97 143.2 801.1)" fill="#1a1aff"/><ellipse cx="117.7" cy="793.1" rx="2.7" ry="1.9" transform="rotate(62 117.7 793.1)" fill="#1010c8"/><ellipse cx="84.8" cy="804.3" rx="3.1" ry="2.4" transform="rotate(124 84.8 804.3)" fill="#2a2af0"/><ellipse cx="130.8" cy="807.8" rx="2.6" ry="2.2" transform="rotate(179 130.8 807.8)" fill="#0c0cb0"/><ellipse cx="73.5" cy="787.0" rx="2.4" ry="2.1" transform="rotate(70 73.5 787.0)" fill="#0c0cb0"/><ellipse cx="154.2" cy="874.6" rx="1.9" ry="1.5" transform="rotate(82 154.2 874.6)" fill="#1818d8"/><ellipse cx="180.3" cy="775.8" rx="2.2" ry="1.4" transform="rotate(155 180.3 775.8)" fill="#1a1aff"/><ellipse cx="142.9" cy="809.0" rx="2.7" ry="2.1" transform="rotate(44 142.9 809.0)" fill="#0c0cb0"/><ellipse cx="182.4" cy="794.2" rx="2.9" ry="1.9" transform="rotate(49 182.4 794.2)" fill="#1818d8"/><ellipse cx="111.2" cy="797.9" rx="3.1" ry="2.9" transform="rotate(115 111.2 797.9)" fill="#0c0cb0"/><ellipse cx="110.9" cy="788.2" rx="2.6" ry="2.3" transform="rotate(164 110.9 788.2)" fill="#2a2af0"/><ellipse cx="89.8" cy="819.6" rx="2.1" ry="1.9" transform="rotate(164 89.8 819.6)" fill="#2020e0"/><ellipse cx="63.4" cy="803.8" rx="2.5" ry="1.9" transform="rotate(166 63.4 803.8)" fill="#1818d8"/><ellipse cx="140.5" cy="797.9" rx="2.9" ry="2.0" transform="rotate(14 140.5 797.9)" fill="#1818d8"/><ellipse cx="70.7" cy="788.7" rx="3.1" ry="2.1" transform="rotate(92 70.7 788.7)" fill="#1a1aff"/><ellipse cx="85.6" cy="813.4" rx="2.2" ry="1.4" transform="rotate(159 85.6 813.4)" fill="#2a2af0"/><ellipse cx="152.7" cy="810.3" rx="3.1" ry="2.2" transform="rotate(135 152.7 810.3)" fill="#1818d8"/><ellipse cx="75.6" cy="822.5" rx="3.0" ry="2.6" transform="rotate(4 75.6 822.5)" fill="#2a2af0"/><ellipse cx="95.4" cy="776.3" rx="2.6" ry="2.3" transform="rotate(88 95.4 776.3)" fill="#1a1aff"/><ellipse cx="184.4" cy="811.9" rx="2.9" ry="2.8" transform="rotate(66 184.4 811.9)" fill="#2a2af0"/><ellipse cx="177.9" cy="817.3" rx="2.3" ry="1.5" transform="rotate(134 177.9 817.3)" fill="#0c0cb0"/><ellipse cx="157.5" cy="816.3" rx="3.1" ry="2.5" transform="rotate(70 157.5 816.3)" fill="#1a1aff"/><ellipse cx="148.7" cy="807.7" rx="2.5" ry="2.2" transform="rotate(51 148.7 807.7)" fill="#1818d8"/><ellipse cx="189.1" cy="796.8" rx="2.6" ry="2.2" transform="rotate(131 189.1 796.8)" fill="#1a1aff"/><ellipse cx="175.9" cy="780.1" rx="2.1" ry="1.5" transform="rotate(112 175.9 780.1)" fill="#1818d8"/><ellipse cx="113.9" cy="795.3" rx="2.6" ry="2.4" transform="rotate(96 113.9 795.3)" fill="#3030ff"/><ellipse cx="84.4" cy="823.7" rx="1.9" ry="1.7" transform="rotate(81 84.4 823.7)" fill="#2020e0"/><ellipse cx="71.5" cy="801.4" rx="2.7" ry="2.2" transform="rotate(107 71.5 801.4)" fill="#3030ff"/><ellipse cx="109.3" cy="794.6" rx="2.4" ry="1.7" transform="rotate(14 109.3 794.6)" fill="#2a2af0"/><ellipse cx="116.4" cy="803.4" rx="2.8" ry="1.9" transform="rotate(127 116.4 803.4)" fill="#2020e0"/><ellipse cx="154.3" cy="803.6" rx="1.8" ry="1.2" transform="rotate(152 154.3 803.6)" fill="#3030ff"/><ellipse cx="185.6" cy="796.7" rx="2.6" ry="1.9" transform="rotate(130 185.6 796.7)" fill="#2020e0"/><ellipse cx="100.4" cy="778.9" rx="2.8" ry="2.5" transform="rotate(177 100.4 778.9)" fill="#3030ff"/><ellipse cx="149.7" cy="807.6" rx="3.0" ry="2.1" transform="rotate(13 149.7 807.6)" fill="#1010c8"/><ellipse cx="60.8" cy="795.8" rx="2.1" ry="1.6" transform="rotate(46 60.8 795.8)" fill="#3030ff"/><ellipse cx="65.8" cy="776.0" rx="3.1" ry="1.8" transform="rotate(175 65.8 776.0)" fill="#1818d8"/><ellipse cx="171.8" cy="799.8" rx="3.0" ry="1.7" transform="rotate(169 171.8 799.8)" fill="#2a2af0"/><ellipse cx="68.3" cy="813.1" rx="2.2" ry="1.2" transform="rotate(160 68.3 813.1)" fill="#2020e0"/><ellipse cx="75.4" cy="770.3" rx="2.5" ry="1.6" transform="rotate(39 75.4 770.3)" fill="#3030ff"/><ellipse cx="171.6" cy="817.8" rx="2.0" ry="1.6" transform="rotate(145 171.6 817.8)" fill="#0c0cb0"/><ellipse cx="176.7" cy="794.1" rx="2.7" ry="2.0" transform="rotate(140 176.7 794.1)" fill="#1a1aff"/><ellipse cx="101.5" cy="797.4" rx="2.3" ry="1.4" transform="rotate(22 101.5 797.4)" fill="#1a1a88"/><ellipse cx="169.9" cy="827.8" rx="2.0" ry="1.1" transform="rotate(127 169.9 827.8)" fill="#10105e"/><ellipse cx="163.9" cy="857.6" rx="1.9" ry="1.8" transform="rotate(172 163.9 857.6)" fill="#1a1a88"/><ellipse cx="193.9" cy="809.1" rx="2.4" ry="1.5" transform="rotate(175 193.9 809.1)" fill="#0c0c50"/><ellipse cx="114.8" cy="851.7" rx="1.5" ry="1.2" transform="rotate(80 114.8 851.7)" fill="#0c0c50"/><ellipse cx="63.7" cy="880.1" rx="2.2" ry="1.5" transform="rotate(8 63.7 880.1)" fill="#0c0c50"/><ellipse cx="190.8" cy="838.4" rx="2.3" ry="1.8" transform="rotate(56 190.8 838.4)" fill="#0c0c50"/><ellipse cx="116.0" cy="874.5" rx="1.5" ry="0.8" transform="rotate(141 116.0 874.5)" fill="#0c0c50"/><ellipse cx="137.2" cy="868.4" rx="1.5" ry="1.1" transform="rotate(77 137.2 868.4)" fill="#10105e"/><ellipse cx="155.7" cy="843.3" rx="2.2" ry="1.5" transform="rotate(57 155.7 843.3)" fill="#1a1a88"/><ellipse cx="93.3" cy="854.1" rx="2.4" ry="1.9" transform="rotate(169 93.3 854.1)" fill="#0c0c50"/><ellipse cx="160.2" cy="835.8" rx="1.9" ry="1.6" transform="rotate(38 160.2 835.8)" fill="#161678"/><ellipse cx="82.0" cy="850.9" rx="2.5" ry="2.3" transform="rotate(53 82.0 850.9)" fill="#10105e"/><ellipse cx="60.5" cy="866.7" rx="1.5" ry="1.2" transform="rotate(39 60.5 866.7)" fill="#161678"/><ellipse cx="118.4" cy="817.7" rx="2.3" ry="2.0" transform="rotate(176 118.4 817.7)" fill="#10105e"/><ellipse cx="79.5" cy="845.0" rx="2.6" ry="2.2" transform="rotate(48 79.5 845.0)" fill="#161678"/><ellipse cx="92.7" cy="800.8" rx="2.4" ry="2.0" transform="rotate(17 92.7 800.8)" fill="#0c0c50"/><ellipse cx="138.2" cy="882.7" rx="1.8" ry="1.2" transform="rotate(123 138.2 882.7)" fill="#10105e"/><ellipse cx="193.4" cy="857.9" rx="2.5" ry="1.5" transform="rotate(18 193.4 857.9)" fill="#0c0c50"/><ellipse cx="172.7" cy="853.8" rx="1.7" ry="1.1" transform="rotate(85 172.7 853.8)" fill="#161678"/><ellipse cx="150.7" cy="860.4" rx="1.7" ry="1.4" transform="rotate(76 150.7 860.4)" fill="#10105e"/><ellipse cx="109.0" cy="835.1" rx="2.5" ry="2.0" transform="rotate(175 109.0 835.1)" fill="#1a1a88"/><ellipse cx="170.3" cy="849.2" rx="1.6" ry="1.1" transform="rotate(139 170.3 849.2)" fill="#10105e"/><ellipse cx="135.9" cy="866.4" rx="2.1" ry="1.5" transform="rotate(0 135.9 866.4)" fill="#1a1a88"/><ellipse cx="97.5" cy="804.9" rx="2.0" ry="1.5" transform="rotate(86 97.5 804.9)" fill="#161678"/><ellipse cx="73.0" cy="857.7" rx="1.8" ry="1.0" transform="rotate(6 73.0 857.7)" fill="#161678"/><ellipse cx="86.1" cy="828.4" rx="2.3" ry="1.6" transform="rotate(160 86.1 828.4)" fill="#161678"/><ellipse cx="114.8" cy="824.1" rx="2.1" ry="1.4" transform="rotate(108 114.8 824.1)" fill="#0c0c50"/><ellipse cx="144.4" cy="883.1" rx="1.5" ry="1.1" transform="rotate(149 144.4 883.1)" fill="#10105e"/><ellipse cx="189.9" cy="844.6" rx="2.2" ry="1.3" transform="rotate(47 189.9 844.6)" fill="#161678"/><ellipse cx="112.2" cy="843.7" rx="1.8" ry="1.0" transform="rotate(154 112.2 843.7)" fill="#0c0c50"/><ellipse cx="182.7" cy="850.5" rx="2.5" ry="1.6" transform="rotate(82 182.7 850.5)" fill="#0c0c50"/><ellipse cx="175.0" cy="885.8" rx="1.9" ry="1.1" transform="rotate(93 175.0 885.8)" fill="#161678"/><ellipse cx="120.8" cy="846.8" rx="1.9" ry="1.4" transform="rotate(72 120.8 846.8)" fill="#0c0c50"/><ellipse cx="167.5" cy="813.2" rx="2.3" ry="2.0" transform="rotate(125 167.5 813.2)" fill="#e02050" opacity="0.9"/><ellipse cx="148.9" cy="815.0" rx="1.9" ry="1.5" transform="rotate(133 148.9 815.0)" fill="#ff4080" opacity="0.9"/><ellipse cx="191.5" cy="796.0" rx="1.6" ry="1.2" transform="rotate(126 191.5 796.0)" fill="#ff70a0" opacity="0.9"/><ellipse cx="110.6" cy="792.7" rx="1.4" ry="1.2" transform="rotate(66 110.6 792.7)" fill="#e02050" opacity="0.9"/><ellipse cx="60.1" cy="795.7" rx="1.6" ry="1.1" transform="rotate(174 60.1 795.7)" fill="#ff70a0" opacity="0.9"/><ellipse cx="74.6" cy="798.4" rx="1.5" ry="1.3" transform="rotate(77 74.6 798.4)" fill="#e02050" opacity="0.9"/><ellipse cx="167.0" cy="812.5" rx="2.3" ry="1.5" transform="rotate(115 167.0 812.5)" fill="#ff70a0" opacity="0.9"/><ellipse cx="68.7" cy="783.9" rx="1.6" ry="1.4" transform="rotate(159 68.7 783.9)" fill="#ff3060" opacity="0.9"/><ellipse cx="191.5" cy="797.0" rx="1.7" ry="1.1" transform="rotate(83 191.5 797.0)" fill="#ff4080" opacity="0.9"/><ellipse cx="180.6" cy="811.2" rx="2.5" ry="1.9" transform="rotate(119 180.6 811.2)" fill="#e02050" opacity="0.9"/><ellipse cx="168.3" cy="802.3" rx="2.4" ry="2.0" transform="rotate(20 168.3 802.3)" fill="#ff3060" opacity="0.9"/><ellipse cx="146.0" cy="806.0" rx="1.7" ry="1.4" transform="rotate(177 146.0 806.0)" fill="#ff70a0" opacity="0.9"/><ellipse cx="182.5" cy="773.0" rx="2.1" ry="1.5" transform="rotate(161 182.5 773.0)" fill="#ff3060" opacity="0.9"/><ellipse cx="92.5" cy="776.2" rx="2.0" ry="1.4" transform="rotate(100 92.5 776.2)" fill="#ff4080" opacity="0.9"/><ellipse cx="65.3" cy="795.6" rx="2.5" ry="2.4" transform="rotate(18 65.3 795.6)" fill="#ff3060" opacity="0.9"/><ellipse cx="185.8" cy="808.5" rx="2.2" ry="1.6" transform="rotate(168 185.8 808.5)" fill="#e02050" opacity="0.9"/><ellipse cx="136.0" cy="814.1" rx="1.4" ry="1.0" transform="rotate(141 136.0 814.1)" fill="#e02050" opacity="0.9"/><ellipse cx="140.9" cy="798.4" rx="1.8" ry="1.1" transform="rotate(12 140.9 798.4)" fill="#ff3060" opacity="0.9"/><ellipse cx="184.1" cy="788.1" rx="2.0" ry="1.4" transform="rotate(154 184.1 788.1)" fill="#ff4080" opacity="0.9"/><ellipse cx="63.2" cy="804.8" rx="2.0" ry="1.5" transform="rotate(132 63.2 804.8)" fill="#ff3060" opacity="0.9"/><ellipse cx="114.5" cy="796.0" rx="1.8" ry="1.3" transform="rotate(141 114.5 796.0)" fill="#ff3060" opacity="0.9"/><ellipse cx="110.3" cy="799.9" rx="1.2" ry="0.7" transform="rotate(111 110.3 799.9)" fill="#ff4080" opacity="0.9"/><ellipse cx="75.6" cy="814.7" rx="2.4" ry="1.4" transform="rotate(20 75.6 814.7)" fill="#ff70a0" opacity="0.9"/><ellipse cx="97.6" cy="790.0" rx="1.6" ry="1.0" transform="rotate(132 97.6 790.0)" fill="#ff4080" opacity="0.9"/><ellipse cx="107.7" cy="786.0" rx="2.1" ry="1.7" transform="rotate(129 107.7 786.0)" fill="#e02050" opacity="0.9"/><ellipse cx="129.2" cy="795.1" rx="1.4" ry="1.0" transform="rotate(15 129.2 795.1)" fill="#ff4080" opacity="0.9"/><ellipse cx="68.6" cy="783.5" rx="2.0" ry="1.2" transform="rotate(133 68.6 783.5)" fill="#ff4080" opacity="0.9"/><ellipse cx="127.1" cy="808.9" rx="1.6" ry="0.9" transform="rotate(171 127.1 808.9)" fill="#ff70a0" opacity="0.9"/><ellipse cx="183.2" cy="775.0" rx="2.2" ry="1.8" transform="rotate(4 183.2 775.0)" fill="#ff4080" opacity="0.9"/><ellipse cx="97.9" cy="781.5" rx="2.3" ry="1.6" transform="rotate(16 97.9 781.5)" fill="#ff3060" opacity="0.9"/><ellipse cx="69.7" cy="795.7" rx="1.5" ry="1.3" transform="rotate(72 69.7 795.7)" fill="#ff3060" opacity="0.9"/><ellipse cx="185.2" cy="798.9" rx="1.6" ry="0.9" transform="rotate(0 185.2 798.9)" fill="#ff4080" opacity="0.9"/><ellipse cx="177.6" cy="803.1" rx="1.4" ry="1.2" transform="rotate(85 177.6 803.1)" fill="#ff3060" opacity="0.9"/><ellipse cx="83.1" cy="821.9" rx="2.4" ry="2.2" transform="rotate(124 83.1 821.9)" fill="#ff4080" opacity="0.9"/><ellipse cx="183.1" cy="797.4" rx="1.4" ry="1.3" transform="rotate(103 183.1 797.4)" fill="#e02050" opacity="0.9"/><ellipse cx="178.1" cy="795.3" rx="1.5" ry="0.9" transform="rotate(177 178.1 795.3)" fill="#e02050" opacity="0.9"/><ellipse cx="150.4" cy="804.6" rx="1.6" ry="1.4" transform="rotate(155 150.4 804.6)" fill="#e02050" opacity="0.9"/><ellipse cx="187.6" cy="813.8" rx="1.6" ry="1.4" transform="rotate(113 187.6 813.8)" fill="#e02050" opacity="0.9"/><ellipse cx="141.3" cy="810.9" rx="2.5" ry="1.7" transform="rotate(18 141.3 810.9)" fill="#e02050" opacity="0.9"/><ellipse cx="195.3" cy="759.4" rx="1.9" ry="1.5" transform="rotate(37 195.3 759.4)" fill="#ff3060" opacity="0.9"/><ellipse cx="190.9" cy="766.9" rx="2.2" ry="1.9" transform="rotate(105 190.9 766.9)" fill="#e02050" opacity="0.9"/><ellipse cx="142.5" cy="805.7" rx="1.3" ry="0.9" transform="rotate(25 142.5 805.7)" fill="#ff3060" opacity="0.9"/><ellipse cx="83.1" cy="824.4" rx="1.7" ry="1.2" transform="rotate(96 83.1 824.4)" fill="#ff3060" opacity="0.9"/><ellipse cx="163.2" cy="806.0" rx="1.6" ry="0.9" transform="rotate(20 163.2 806.0)" fill="#ff70a0" opacity="0.9"/><ellipse cx="76.8" cy="778.1" rx="2.4" ry="1.6" transform="rotate(78 76.8 778.1)" fill="#ff4080" opacity="0.9"/><ellipse cx="76.4" cy="853.9" rx="1.3" ry="0.9" transform="rotate(96 76.4 853.9)" fill="#30e060" opacity="0.9"/><ellipse cx="140.0" cy="817.5" rx="1.0" ry="0.9" transform="rotate(160 140.0 817.5)" fill="#20c040" opacity="0.9"/><ellipse cx="68.1" cy="865.3" rx="0.9" ry="0.9" transform="rotate(45 68.1 865.3)" fill="#20c040" opacity="0.9"/><ellipse cx="96.5" cy="798.6" rx="1.0" ry="0.8" transform="rotate(70 96.5 798.6)" fill="#30e060" opacity="0.9"/><ellipse cx="99.6" cy="819.5" rx="1.4" ry="0.9" transform="rotate(124 99.6 819.5)" fill="#20c040" opacity="0.9"/><ellipse cx="92.3" cy="812.1" rx="1.1" ry="0.7" transform="rotate(108 92.3 812.1)" fill="#30e060" opacity="0.9"/><ellipse cx="88.0" cy="806.2" rx="0.8" ry="0.6" transform="rotate(63 88.0 806.2)" fill="#30e060" opacity="0.9"/><ellipse cx="130.5" cy="830.5" rx="1.1" ry="0.8" transform="rotate(165 130.5 830.5)" fill="#30e060" opacity="0.9"/><ellipse cx="161.9" cy="843.0" rx="1.2" ry="0.9" transform="rotate(72 161.9 843.0)" fill="#30e060" opacity="0.9"/><ellipse cx="192.5" cy="824.9" rx="1.0" ry="0.7" transform="rotate(84 192.5 824.9)" fill="#30e060" opacity="0.9"/></g><path d="M61.2,817.6 C62.77,818.82 66.58,823.5 70.6,824.9 C74.62,826.3 81.78,827.22 85.3,826 C88.82,824.78 90.98,820.58 91.7,817.6 C92.42,814.62 91.02,811.78 89.6,808.1 C88.18,804.42 84.62,799.18 83.2,795.5 C81.78,791.82 80.92,787.93 81.1,786 C81.28,784.07 81.83,783.02 84.3,783.9 C86.77,784.78 90.47,787.62 95.9,791.3 C101.33,794.98 109.9,801.97 116.9,806 C123.9,810.03 131.23,813.05 137.9,815.5 C144.57,817.95 150.58,820 156.9,820.7 C163.22,821.4 170.55,820.75 175.8,819.7 C181.05,818.65 185.25,817.03 188.4,814.4 C191.55,811.77 194.35,807.4 194.7,803.9 C195.05,800.4 192.25,795.68 190.5,793.4 C188.75,791.12 183.5,791.43 184.2,790.2 C184.9,788.97 192.6,787.4 194.7,786 C196.8,784.6 197.5,783.2 196.8,781.8 C196.1,780.4 191.2,779.88 190.5,777.6 C189.8,775.32 191.55,770.73 192.6,768.1 C193.65,765.47 195.73,763.48 196.8,761.8 C197.87,760.12 198.63,758.63 199,758" fill="none" stroke="#f4f4f4" stroke-width="1.6" stroke-dasharray="3.4 2.2"/></g>
<rect x="204.2" y="748.5" width="137" height="136.5" fill="#000"/><clipPath id="cf2"><rect x="204.2" y="748.5" width="137" height="136.5"/></clipPath><g clip-path="url(#cf2)"><g filter="url(#fb)"><ellipse cx="309.9" cy="837.1" rx="2.3" ry="1.9" transform="rotate(174 309.9 837.1)" fill="#2a2af0"/><ellipse cx="264.6" cy="809.9" rx="2.5" ry="1.6" transform="rotate(113 264.6 809.9)" fill="#1818d8"/><ellipse cx="322.9" cy="820.0" rx="2.5" ry="1.5" transform="rotate(83 322.9 820.0)" fill="#3030ff"/><ellipse cx="319.0" cy="838.8" rx="3.2" ry="2.3" transform="rotate(157 319.0 838.8)" fill="#2a2af0"/><ellipse cx="240.4" cy="752.9" rx="3.4" ry="2.9" transform="rotate(6 240.4 752.9)" fill="#1010c8"/><ellipse cx="203.8" cy="776.4" rx="2.6" ry="2.3" transform="rotate(124 203.8 776.4)" fill="#3030ff"/><ellipse cx="230.1" cy="884.7" rx="3.0" ry="1.9" transform="rotate(52 230.1 884.7)" fill="#1818d8"/><ellipse cx="310.6" cy="832.7" rx="2.6" ry="2.2" transform="rotate(62 310.6 832.7)" fill="#2a2af0"/><ellipse cx="224.5" cy="824.6" rx="2.6" ry="2.4" transform="rotate(105 224.5 824.6)" fill="#1a1aff"/><ellipse cx="213.6" cy="840.1" rx="2.9" ry="2.0" transform="rotate(51 213.6 840.1)" fill="#3030ff"/><ellipse cx="226.0" cy="867.9" rx="3.5" ry="2.4" transform="rotate(117 226.0 867.9)" fill="#2020e0"/><ellipse cx="281.1" cy="839.8" rx="2.7" ry="2.4" transform="rotate(30 281.1 839.8)" fill="#3030ff"/><ellipse cx="293.8" cy="812.0" rx="2.0" ry="1.2" transform="rotate(101 293.8 812.0)" fill="#2020e0"/><ellipse cx="292.0" cy="870.4" rx="3.4" ry="2.0" transform="rotate(69 292.0 870.4)" fill="#1010c8"/><ellipse cx="229.7" cy="842.2" rx="2.3" ry="1.7" transform="rotate(6 229.7 842.2)" fill="#0c0cb0"/><ellipse cx="238.0" cy="806.6" rx="3.0" ry="2.7" transform="rotate(173 238.0 806.6)" fill="#0c0cb0"/><ellipse cx="226.6" cy="778.1" rx="3.3" ry="1.9" transform="rotate(37 226.6 778.1)" fill="#1a1aff"/><ellipse cx="261.1" cy="878.7" rx="2.8" ry="2.5" transform="rotate(124 261.1 878.7)" fill="#0c0cb0"/><ellipse cx="292.7" cy="872.6" rx="3.4" ry="3.1" transform="rotate(55 292.7 872.6)" fill="#2020e0"/><ellipse cx="229.1" cy="831.2" rx="3.2" ry="2.4" transform="rotate(69 229.1 831.2)" fill="#0c0cb0"/><ellipse cx="219.0" cy="861.9" rx="3.5" ry="2.8" transform="rotate(98 219.0 861.9)" fill="#1a1aff"/><ellipse cx="336.3" cy="844.8" rx="3.3" ry="2.3" transform="rotate(75 336.3 844.8)" fill="#2a2af0"/><ellipse cx="223.1" cy="882.3" rx="2.3" ry="1.7" transform="rotate(61 223.1 882.3)" fill="#2020e0"/><ellipse cx="306.4" cy="827.8" rx="3.5" ry="2.9" transform="rotate(114 306.4 827.8)" fill="#2020e0"/><ellipse cx="316.8" cy="788.9" rx="3.5" ry="1.9" transform="rotate(8 316.8 788.9)" fill="#1010c8"/><ellipse cx="316.7" cy="787.1" rx="3.5" ry="2.1" transform="rotate(179 316.7 787.1)" fill="#2a2af0"/><ellipse cx="204.2" cy="751.9" rx="3.1" ry="2.1" transform="rotate(105 204.2 751.9)" fill="#2a2af0"/><ellipse cx="209.2" cy="826.8" rx="3.1" ry="1.9" transform="rotate(51 209.2 826.8)" fill="#0c0cb0"/><ellipse cx="262.3" cy="770.8" rx="3.3" ry="2.7" transform="rotate(38 262.3 770.8)" fill="#3030ff"/><ellipse cx="301.5" cy="795.2" rx="3.2" ry="2.1" transform="rotate(153 301.5 795.2)" fill="#3030ff"/><ellipse cx="275.3" cy="809.9" rx="2.3" ry="1.3" transform="rotate(60 275.3 809.9)" fill="#2020e0"/><ellipse cx="332.8" cy="820.3" rx="3.0" ry="2.0" transform="rotate(36 332.8 820.3)" fill="#0c0cb0"/><ellipse cx="242.9" cy="858.1" rx="3.2" ry="2.3" transform="rotate(149 242.9 858.1)" fill="#2a2af0"/><ellipse cx="285.5" cy="822.5" rx="3.2" ry="2.2" transform="rotate(128 285.5 822.5)" fill="#3030ff"/><ellipse cx="319.5" cy="777.5" rx="3.1" ry="1.9" transform="rotate(7 319.5 777.5)" fill="#2020e0"/><ellipse cx="261.4" cy="782.9" rx="3.5" ry="3.3" transform="rotate(176 261.4 782.9)" fill="#1a1aff"/><ellipse cx="272.2" cy="858.8" rx="3.1" ry="2.2" transform="rotate(93 272.2 858.8)" fill="#2020e0"/><ellipse cx="328.5" cy="857.5" rx="3.4" ry="2.9" transform="rotate(42 328.5 857.5)" fill="#2020e0"/><ellipse cx="250.5" cy="807.8" rx="2.8" ry="2.5" transform="rotate(35 250.5 807.8)" fill="#3030ff"/><ellipse cx="325.6" cy="811.7" rx="2.0" ry="1.2" transform="rotate(179 325.6 811.7)" fill="#2020e0"/><ellipse cx="326.5" cy="864.3" rx="3.0" ry="2.4" transform="rotate(53 326.5 864.3)" fill="#2a2af0"/><ellipse cx="239.7" cy="750.8" rx="3.4" ry="2.7" transform="rotate(63 239.7 750.8)" fill="#1818d8"/><ellipse cx="210.6" cy="755.1" rx="2.9" ry="2.2" transform="rotate(177 210.6 755.1)" fill="#2a2af0"/><ellipse cx="256.9" cy="785.1" rx="3.3" ry="2.9" transform="rotate(63 256.9 785.1)" fill="#1a1aff"/><ellipse cx="287.0" cy="785.5" rx="3.5" ry="2.4" transform="rotate(29 287.0 785.5)" fill="#0c0cb0"/><ellipse cx="304.4" cy="761.7" rx="2.6" ry="2.0" transform="rotate(150 304.4 761.7)" fill="#1a1aff"/><ellipse cx="341.5" cy="871.7" rx="3.6" ry="2.1" transform="rotate(157 341.5 871.7)" fill="#1010c8"/><ellipse cx="203.1" cy="824.9" rx="2.4" ry="1.5" transform="rotate(139 203.1 824.9)" fill="#2020e0"/><ellipse cx="203.0" cy="793.2" rx="2.1" ry="1.5" transform="rotate(99 203.0 793.2)" fill="#2020e0"/><ellipse cx="331.9" cy="795.9" rx="2.6" ry="1.5" transform="rotate(162 331.9 795.9)" fill="#0c0cb0"/><ellipse cx="219.3" cy="828.0" rx="3.1" ry="2.5" transform="rotate(108 219.3 828.0)" fill="#2020e0"/><ellipse cx="216.5" cy="842.3" rx="3.5" ry="2.5" transform="rotate(99 216.5 842.3)" fill="#2a2af0"/><ellipse cx="323.1" cy="808.1" rx="3.2" ry="2.7" transform="rotate(8 323.1 808.1)" fill="#3030ff"/><ellipse cx="205.3" cy="751.2" rx="3.0" ry="2.0" transform="rotate(53 205.3 751.2)" fill="#0c0cb0"/><ellipse cx="268.8" cy="833.2" rx="2.8" ry="2.0" transform="rotate(164 268.8 833.2)" fill="#1010c8"/><ellipse cx="226.4" cy="800.5" rx="2.9" ry="2.0" transform="rotate(152 226.4 800.5)" fill="#1818d8"/><ellipse cx="319.4" cy="864.4" rx="2.7" ry="1.5" transform="rotate(125 319.4 864.4)" fill="#2020e0"/><ellipse cx="263.3" cy="828.7" rx="3.3" ry="2.2" transform="rotate(87 263.3 828.7)" fill="#1a1aff"/><ellipse cx="210.5" cy="865.8" rx="3.0" ry="2.1" transform="rotate(72 210.5 865.8)" fill="#0c0cb0"/><ellipse cx="293.2" cy="853.9" rx="2.3" ry="1.8" transform="rotate(41 293.2 853.9)" fill="#0c0cb0"/><ellipse cx="226.0" cy="832.8" rx="3.6" ry="2.2" transform="rotate(76 226.0 832.8)" fill="#2a2af0"/><ellipse cx="233.0" cy="851.0" rx="3.3" ry="2.7" transform="rotate(179 233.0 851.0)" fill="#1818d8"/><ellipse cx="205.3" cy="828.2" rx="3.4" ry="2.0" transform="rotate(134 205.3 828.2)" fill="#1818d8"/><ellipse cx="320.7" cy="836.4" rx="3.0" ry="1.8" transform="rotate(88 320.7 836.4)" fill="#0c0cb0"/><ellipse cx="308.4" cy="809.3" rx="3.1" ry="1.8" transform="rotate(87 308.4 809.3)" fill="#1818d8"/><ellipse cx="260.7" cy="881.4" rx="2.5" ry="2.0" transform="rotate(117 260.7 881.4)" fill="#3030ff"/><ellipse cx="234.1" cy="831.2" rx="2.3" ry="1.4" transform="rotate(77 234.1 831.2)" fill="#2020e0"/><ellipse cx="294.2" cy="886.2" rx="2.6" ry="2.4" transform="rotate(65 294.2 886.2)" fill="#1818d8"/><ellipse cx="234.7" cy="800.1" rx="2.2" ry="2.1" transform="rotate(132 234.7 800.1)" fill="#1010c8"/><ellipse cx="228.6" cy="855.2" rx="3.1" ry="2.7" transform="rotate(138 228.6 855.2)" fill="#3030ff"/><ellipse cx="304.4" cy="832.0" rx="3.2" ry="2.9" transform="rotate(157 304.4 832.0)" fill="#1a1aff"/><ellipse cx="332.9" cy="818.7" rx="3.5" ry="2.7" transform="rotate(75 332.9 818.7)" fill="#1010c8"/><ellipse cx="259.9" cy="847.6" rx="2.7" ry="2.0" transform="rotate(99 259.9 847.6)" fill="#1a1aff"/><ellipse cx="209.1" cy="799.4" rx="3.0" ry="1.8" transform="rotate(82 209.1 799.4)" fill="#1010c8"/><ellipse cx="321.2" cy="833.5" rx="3.2" ry="2.5" transform="rotate(175 321.2 833.5)" fill="#1010c8"/><ellipse cx="295.6" cy="776.9" rx="2.3" ry="1.7" transform="rotate(144 295.6 776.9)" fill="#0c0cb0"/><ellipse cx="204.6" cy="763.2" rx="2.2" ry="1.2" transform="rotate(84 204.6 763.2)" fill="#1818d8"/><ellipse cx="230.5" cy="845.5" rx="2.7" ry="2.3" transform="rotate(17 230.5 845.5)" fill="#1818d8"/><ellipse cx="304.4" cy="836.0" rx="2.7" ry="1.7" transform="rotate(99 304.4 836.0)" fill="#2a2af0"/><ellipse cx="317.1" cy="772.4" rx="2.2" ry="1.4" transform="rotate(152 317.1 772.4)" fill="#2a2af0"/><ellipse cx="285.4" cy="779.1" rx="3.1" ry="1.8" transform="rotate(66 285.4 779.1)" fill="#0c0cb0"/><ellipse cx="337.1" cy="817.4" rx="2.6" ry="1.6" transform="rotate(44 337.1 817.4)" fill="#0c0cb0"/><ellipse cx="312.3" cy="783.3" rx="2.5" ry="1.4" transform="rotate(24 312.3 783.3)" fill="#0c0cb0"/><ellipse cx="253.0" cy="885.4" rx="2.5" ry="2.0" transform="rotate(173 253.0 885.4)" fill="#2a2af0"/><ellipse cx="257.4" cy="813.1" rx="3.5" ry="3.1" transform="rotate(2 257.4 813.1)" fill="#1a1aff"/><ellipse cx="311.2" cy="780.7" rx="2.4" ry="1.7" transform="rotate(51 311.2 780.7)" fill="#2a2af0"/><ellipse cx="271.3" cy="875.1" rx="2.7" ry="2.1" transform="rotate(77 271.3 875.1)" fill="#2a2af0"/><ellipse cx="335.8" cy="860.2" rx="3.4" ry="3.0" transform="rotate(80 335.8 860.2)" fill="#0c0cb0"/><ellipse cx="219.9" cy="764.0" rx="2.5" ry="1.6" transform="rotate(131 219.9 764.0)" fill="#1010c8"/><ellipse cx="218.4" cy="861.0" rx="3.0" ry="2.3" transform="rotate(101 218.4 861.0)" fill="#1818d8"/><ellipse cx="282.5" cy="785.2" rx="3.5" ry="2.0" transform="rotate(55 282.5 785.2)" fill="#2020e0"/><ellipse cx="337.2" cy="867.7" rx="2.5" ry="2.0" transform="rotate(0 337.2 867.7)" fill="#3030ff"/><ellipse cx="217.8" cy="774.4" rx="2.9" ry="1.7" transform="rotate(41 217.8 774.4)" fill="#1a1aff"/><ellipse cx="282.9" cy="805.7" rx="2.9" ry="2.3" transform="rotate(136 282.9 805.7)" fill="#3030ff"/><ellipse cx="204.5" cy="772.6" rx="3.4" ry="2.2" transform="rotate(11 204.5 772.6)" fill="#1010c8"/><ellipse cx="330.6" cy="876.9" rx="3.3" ry="3.0" transform="rotate(79 330.6 876.9)" fill="#2a2af0"/><ellipse cx="249.5" cy="856.3" rx="2.2" ry="2.0" transform="rotate(3 249.5 856.3)" fill="#1010c8"/><ellipse cx="281.6" cy="810.1" rx="2.6" ry="2.2" transform="rotate(51 281.6 810.1)" fill="#0c0cb0"/><ellipse cx="242.7" cy="797.1" rx="3.2" ry="2.5" transform="rotate(128 242.7 797.1)" fill="#1010c8"/><ellipse cx="231.2" cy="823.2" rx="2.7" ry="2.5" transform="rotate(42 231.2 823.2)" fill="#3030ff"/><ellipse cx="256.0" cy="800.2" rx="3.2" ry="2.0" transform="rotate(127 256.0 800.2)" fill="#2a2af0"/><ellipse cx="279.5" cy="871.3" rx="2.6" ry="2.2" transform="rotate(143 279.5 871.3)" fill="#1a1aff"/><ellipse cx="260.8" cy="803.5" rx="3.4" ry="2.1" transform="rotate(124 260.8 803.5)" fill="#1a1aff"/><ellipse cx="279.7" cy="862.5" rx="2.0" ry="1.2" transform="rotate(50 279.7 862.5)" fill="#2a2af0"/><ellipse cx="267.3" cy="777.8" rx="3.5" ry="2.0" transform="rotate(63 267.3 777.8)" fill="#1a1aff"/><ellipse cx="221.0" cy="791.0" rx="2.9" ry="2.6" transform="rotate(144 221.0 791.0)" fill="#0c0cb0"/><ellipse cx="277.0" cy="846.2" rx="2.2" ry="1.7" transform="rotate(155 277.0 846.2)" fill="#1818d8"/><ellipse cx="263.8" cy="860.1" rx="2.9" ry="2.5" transform="rotate(145 263.8 860.1)" fill="#0c0cb0"/><ellipse cx="338.3" cy="797.2" rx="3.4" ry="3.2" transform="rotate(57 338.3 797.2)" fill="#1010c8"/><ellipse cx="280.5" cy="756.6" rx="3.2" ry="2.7" transform="rotate(100 280.5 756.6)" fill="#1010c8"/><ellipse cx="234.0" cy="878.6" rx="2.4" ry="2.3" transform="rotate(145 234.0 878.6)" fill="#3030ff"/><ellipse cx="322.4" cy="826.4" rx="2.0" ry="1.1" transform="rotate(31 322.4 826.4)" fill="#1818d8"/><ellipse cx="271.4" cy="760.0" rx="2.8" ry="1.9" transform="rotate(78 271.4 760.0)" fill="#2020e0"/><ellipse cx="324.8" cy="798.3" rx="3.5" ry="2.1" transform="rotate(0 324.8 798.3)" fill="#2a2af0"/><ellipse cx="215.5" cy="795.8" rx="2.5" ry="1.6" transform="rotate(164 215.5 795.8)" fill="#2020e0"/><ellipse cx="262.8" cy="772.9" rx="2.4" ry="2.2" transform="rotate(172 262.8 772.9)" fill="#2020e0"/><ellipse cx="295.2" cy="848.1" rx="3.1" ry="2.0" transform="rotate(28 295.2 848.1)" fill="#1818d8"/><ellipse cx="218.9" cy="753.7" rx="2.5" ry="2.0" transform="rotate(99 218.9 753.7)" fill="#3030ff"/><ellipse cx="281.7" cy="817.4" rx="2.5" ry="2.2" transform="rotate(28 281.7 817.4)" fill="#0c0cb0"/><ellipse cx="234.9" cy="856.3" rx="2.4" ry="1.6" transform="rotate(33 234.9 856.3)" fill="#1818d8"/><ellipse cx="249.9" cy="752.9" rx="3.5" ry="2.4" transform="rotate(65 249.9 752.9)" fill="#0c0cb0"/><ellipse cx="274.7" cy="826.6" rx="2.9" ry="2.3" transform="rotate(3 274.7 826.6)" fill="#3030ff"/><ellipse cx="237.9" cy="751.9" rx="2.1" ry="2.0" transform="rotate(118 237.9 751.9)" fill="#2a2af0"/><ellipse cx="267.3" cy="830.1" rx="2.8" ry="1.7" transform="rotate(125 267.3 830.1)" fill="#1818d8"/><ellipse cx="203.9" cy="823.2" rx="3.3" ry="2.9" transform="rotate(81 203.9 823.2)" fill="#0c0cb0"/><ellipse cx="209.8" cy="828.9" rx="3.0" ry="2.3" transform="rotate(13 209.8 828.9)" fill="#0c0cb0"/><ellipse cx="252.5" cy="817.1" rx="3.0" ry="1.7" transform="rotate(170 252.5 817.1)" fill="#2a2af0"/><ellipse cx="321.3" cy="771.8" rx="2.8" ry="2.2" transform="rotate(47 321.3 771.8)" fill="#2a2af0"/><ellipse cx="277.1" cy="770.8" rx="3.4" ry="2.2" transform="rotate(72 277.1 770.8)" fill="#3030ff"/><ellipse cx="245.8" cy="836.5" rx="2.4" ry="2.2" transform="rotate(179 245.8 836.5)" fill="#0c0cb0"/><ellipse cx="224.2" cy="748.5" rx="2.7" ry="2.4" transform="rotate(28 224.2 748.5)" fill="#1a1aff"/><ellipse cx="276.9" cy="807.8" rx="3.6" ry="2.1" transform="rotate(165 276.9 807.8)" fill="#2a2af0"/><ellipse cx="312.4" cy="873.7" rx="2.5" ry="1.7" transform="rotate(3 312.4 873.7)" fill="#3030ff"/><ellipse cx="327.2" cy="838.0" rx="2.8" ry="2.2" transform="rotate(157 327.2 838.0)" fill="#1818d8"/><ellipse cx="327.7" cy="832.7" rx="3.0" ry="1.7" transform="rotate(84 327.7 832.7)" fill="#1010c8"/><ellipse cx="338.1" cy="829.5" rx="2.1" ry="1.9" transform="rotate(171 338.1 829.5)" fill="#1010c8"/><ellipse cx="313.8" cy="840.5" rx="3.3" ry="2.2" transform="rotate(93 313.8 840.5)" fill="#3030ff"/><ellipse cx="228.5" cy="764.1" rx="2.6" ry="2.3" transform="rotate(156 228.5 764.1)" fill="#1a1aff"/><ellipse cx="202.5" cy="868.5" rx="2.3" ry="1.6" transform="rotate(14 202.5 868.5)" fill="#3030ff"/><ellipse cx="330.4" cy="772.4" rx="2.1" ry="1.8" transform="rotate(12 330.4 772.4)" fill="#2a2af0"/><ellipse cx="227.6" cy="814.8" rx="3.4" ry="2.9" transform="rotate(104 227.6 814.8)" fill="#1818d8"/><ellipse cx="295.9" cy="877.1" rx="2.1" ry="1.9" transform="rotate(172 295.9 877.1)" fill="#1010c8"/><ellipse cx="270.3" cy="869.8" rx="2.5" ry="1.8" transform="rotate(151 270.3 869.8)" fill="#1010c8"/><ellipse cx="302.3" cy="829.9" rx="2.5" ry="1.8" transform="rotate(79 302.3 829.9)" fill="#2a2af0"/><ellipse cx="282.2" cy="822.6" rx="2.7" ry="1.5" transform="rotate(106 282.2 822.6)" fill="#2020e0"/><ellipse cx="339.2" cy="879.9" rx="2.9" ry="2.4" transform="rotate(24 339.2 879.9)" fill="#1010c8"/><ellipse cx="302.6" cy="845.6" rx="2.7" ry="1.5" transform="rotate(26 302.6 845.6)" fill="#1010c8"/><ellipse cx="288.4" cy="814.2" rx="3.0" ry="2.3" transform="rotate(129 288.4 814.2)" fill="#1a1aff"/><ellipse cx="238.5" cy="768.4" rx="2.1" ry="1.3" transform="rotate(23 238.5 768.4)" fill="#1818d8"/><ellipse cx="236.3" cy="811.1" rx="2.7" ry="2.3" transform="rotate(82 236.3 811.1)" fill="#1a1aff"/><ellipse cx="237.7" cy="835.7" rx="3.1" ry="2.3" transform="rotate(74 237.7 835.7)" fill="#1010c8"/><ellipse cx="271.2" cy="796.5" rx="2.2" ry="2.0" transform="rotate(21 271.2 796.5)" fill="#2020e0"/><ellipse cx="255.8" cy="806.9" rx="3.5" ry="2.6" transform="rotate(125 255.8 806.9)" fill="#2020e0"/><ellipse cx="277.3" cy="834.9" rx="2.4" ry="1.5" transform="rotate(134 277.3 834.9)" fill="#2020e0"/><ellipse cx="241.3" cy="772.4" rx="3.6" ry="2.5" transform="rotate(145 241.3 772.4)" fill="#2020e0"/><ellipse cx="266.7" cy="844.9" rx="2.4" ry="2.2" transform="rotate(28 266.7 844.9)" fill="#1a1aff"/><ellipse cx="292.4" cy="782.2" rx="3.3" ry="1.8" transform="rotate(155 292.4 782.2)" fill="#3030ff"/><ellipse cx="279.3" cy="823.7" rx="3.6" ry="3.0" transform="rotate(51 279.3 823.7)" fill="#0c0cb0"/><ellipse cx="292.0" cy="770.7" rx="3.4" ry="3.2" transform="rotate(109 292.0 770.7)" fill="#2020e0"/><ellipse cx="212.1" cy="863.5" rx="2.9" ry="2.0" transform="rotate(174 212.1 863.5)" fill="#3030ff"/><ellipse cx="319.8" cy="803.8" rx="2.8" ry="1.7" transform="rotate(56 319.8 803.8)" fill="#2020e0"/><ellipse cx="288.7" cy="769.1" rx="2.1" ry="1.5" transform="rotate(177 288.7 769.1)" fill="#3030ff"/><ellipse cx="228.6" cy="877.7" rx="2.6" ry="2.0" transform="rotate(62 228.6 877.7)" fill="#1a1aff"/><ellipse cx="331.6" cy="792.7" rx="2.4" ry="1.5" transform="rotate(145 331.6 792.7)" fill="#3030ff"/><ellipse cx="330.8" cy="794.7" rx="3.0" ry="2.5" transform="rotate(30 330.8 794.7)" fill="#3030ff"/><ellipse cx="249.7" cy="798.7" rx="2.4" ry="1.5" transform="rotate(3 249.7 798.7)" fill="#2020e0"/><ellipse cx="224.3" cy="788.0" rx="2.1" ry="1.1" transform="rotate(164 224.3 788.0)" fill="#1010c8"/><ellipse cx="301.1" cy="771.4" rx="2.9" ry="1.7" transform="rotate(25 301.1 771.4)" fill="#0c0cb0"/><ellipse cx="274.1" cy="798.3" rx="2.7" ry="2.6" transform="rotate(41 274.1 798.3)" fill="#3030ff"/><ellipse cx="282.3" cy="791.5" rx="2.6" ry="2.2" transform="rotate(86 282.3 791.5)" fill="#2a2af0"/><ellipse cx="331.9" cy="813.1" rx="3.4" ry="2.2" transform="rotate(22 331.9 813.1)" fill="#3030ff"/><ellipse cx="341.4" cy="839.0" rx="2.0" ry="1.3" transform="rotate(73 341.4 839.0)" fill="#1818d8"/><ellipse cx="203.6" cy="825.1" rx="3.2" ry="2.4" transform="rotate(151 203.6 825.1)" fill="#1a1aff"/><ellipse cx="323.6" cy="812.9" rx="2.9" ry="2.3" transform="rotate(2 323.6 812.9)" fill="#1010c8"/><ellipse cx="320.9" cy="823.6" rx="2.7" ry="2.2" transform="rotate(29 320.9 823.6)" fill="#1010c8"/><ellipse cx="234.7" cy="797.4" rx="2.6" ry="2.1" transform="rotate(66 234.7 797.4)" fill="#1818d8"/><ellipse cx="206.4" cy="869.5" rx="2.2" ry="2.1" transform="rotate(41 206.4 869.5)" fill="#3030ff"/><ellipse cx="303.8" cy="812.9" rx="3.2" ry="2.3" transform="rotate(80 303.8 812.9)" fill="#1818d8"/><ellipse cx="251.6" cy="857.5" rx="3.0" ry="2.4" transform="rotate(97 251.6 857.5)" fill="#1818d8"/><ellipse cx="312.7" cy="880.6" rx="3.0" ry="2.7" transform="rotate(79 312.7 880.6)" fill="#1a1aff"/><ellipse cx="258.7" cy="826.9" rx="3.1" ry="2.5" transform="rotate(17 258.7 826.9)" fill="#1818d8"/><ellipse cx="240.8" cy="768.2" rx="2.3" ry="1.6" transform="rotate(82 240.8 768.2)" fill="#0c0cb0"/><ellipse cx="227.3" cy="865.9" rx="2.1" ry="1.4" transform="rotate(57 227.3 865.9)" fill="#1a1aff"/><ellipse cx="334.2" cy="864.1" rx="3.4" ry="2.4" transform="rotate(6 334.2 864.1)" fill="#3030ff"/><ellipse cx="325.4" cy="777.7" rx="2.0" ry="1.7" transform="rotate(34 325.4 777.7)" fill="#1a1aff"/><ellipse cx="257.9" cy="750.6" rx="3.6" ry="2.1" transform="rotate(165 257.9 750.6)" fill="#3030ff"/><ellipse cx="210.9" cy="829.8" rx="3.3" ry="2.9" transform="rotate(124 210.9 829.8)" fill="#1010c8"/><ellipse cx="203.5" cy="864.5" rx="3.5" ry="2.0" transform="rotate(49 203.5 864.5)" fill="#1818d8"/><ellipse cx="324.4" cy="864.0" rx="3.1" ry="2.6" transform="rotate(162 324.4 864.0)" fill="#1010c8"/><ellipse cx="295.5" cy="771.8" rx="2.3" ry="2.1" transform="rotate(57 295.5 771.8)" fill="#2020e0"/><ellipse cx="249.5" cy="799.2" rx="2.9" ry="1.8" transform="rotate(147 249.5 799.2)" fill="#1a1aff"/><ellipse cx="208.7" cy="805.2" rx="3.2" ry="2.2" transform="rotate(122 208.7 805.2)" fill="#2020e0"/><ellipse cx="300.0" cy="802.0" rx="2.4" ry="1.5" transform="rotate(120 300.0 802.0)" fill="#0c0cb0"/><ellipse cx="332.5" cy="825.7" rx="3.0" ry="2.8" transform="rotate(51 332.5 825.7)" fill="#1010c8"/><ellipse cx="317.6" cy="833.7" rx="2.1" ry="1.9" transform="rotate(115 317.6 833.7)" fill="#1010c8"/><ellipse cx="333.2" cy="886.3" rx="3.6" ry="2.4" transform="rotate(121 333.2 886.3)" fill="#2a2af0"/><ellipse cx="240.4" cy="861.9" rx="2.1" ry="1.4" transform="rotate(63 240.4 861.9)" fill="#0c0cb0"/><ellipse cx="250.4" cy="844.6" rx="2.3" ry="1.7" transform="rotate(57 250.4 844.6)" fill="#1010c8"/><ellipse cx="234.9" cy="804.2" rx="2.7" ry="1.6" transform="rotate(115 234.9 804.2)" fill="#2020e0"/><ellipse cx="248.3" cy="764.7" rx="3.4" ry="3.2" transform="rotate(50 248.3 764.7)" fill="#1a1aff"/><ellipse cx="212.0" cy="779.2" rx="3.1" ry="1.9" transform="rotate(177 212.0 779.2)" fill="#2a2af0"/><ellipse cx="313.8" cy="859.5" rx="2.1" ry="2.0" transform="rotate(136 313.8 859.5)" fill="#3030ff"/><ellipse cx="302.8" cy="824.2" rx="3.5" ry="2.3" transform="rotate(88 302.8 824.2)" fill="#1818d8"/><ellipse cx="318.0" cy="846.9" rx="2.4" ry="2.2" transform="rotate(137 318.0 846.9)" fill="#1818d8"/><ellipse cx="280.2" cy="844.3" rx="3.1" ry="2.3" transform="rotate(149 280.2 844.3)" fill="#1818d8"/><ellipse cx="333.7" cy="880.2" rx="2.5" ry="1.5" transform="rotate(139 333.7 880.2)" fill="#2020e0"/><ellipse cx="317.7" cy="870.1" rx="2.3" ry="1.3" transform="rotate(155 317.7 870.1)" fill="#1818d8"/><ellipse cx="211.4" cy="819.4" rx="2.2" ry="1.9" transform="rotate(41 211.4 819.4)" fill="#2020e0"/><ellipse cx="338.2" cy="854.6" rx="2.7" ry="1.6" transform="rotate(81 338.2 854.6)" fill="#3030ff"/><ellipse cx="255.8" cy="773.2" rx="3.0" ry="2.0" transform="rotate(117 255.8 773.2)" fill="#1a1aff"/><ellipse cx="249.2" cy="884.6" rx="2.3" ry="1.8" transform="rotate(148 249.2 884.6)" fill="#0c0cb0"/><ellipse cx="205.4" cy="793.4" rx="2.1" ry="1.5" transform="rotate(70 205.4 793.4)" fill="#1818d8"/><ellipse cx="222.9" cy="772.2" rx="2.2" ry="1.4" transform="rotate(170 222.9 772.2)" fill="#1818d8"/><ellipse cx="210.5" cy="821.7" rx="3.6" ry="2.9" transform="rotate(145 210.5 821.7)" fill="#2020e0"/><ellipse cx="218.5" cy="785.0" rx="3.5" ry="3.0" transform="rotate(160 218.5 785.0)" fill="#1818d8"/><ellipse cx="288.5" cy="823.3" rx="3.4" ry="3.2" transform="rotate(35 288.5 823.3)" fill="#2a2af0"/><ellipse cx="338.9" cy="775.2" rx="3.0" ry="2.5" transform="rotate(0 338.9 775.2)" fill="#1818d8"/><ellipse cx="259.6" cy="796.8" rx="3.2" ry="2.8" transform="rotate(71 259.6 796.8)" fill="#2a2af0"/><ellipse cx="298.8" cy="766.7" rx="2.7" ry="2.0" transform="rotate(111 298.8 766.7)" fill="#0c0cb0"/><ellipse cx="260.8" cy="861.1" rx="3.4" ry="1.9" transform="rotate(140 260.8 861.1)" fill="#0c0cb0"/><ellipse cx="259.2" cy="806.8" rx="3.5" ry="3.0" transform="rotate(3 259.2 806.8)" fill="#1010c8"/><ellipse cx="339.4" cy="830.7" rx="2.3" ry="2.1" transform="rotate(96 339.4 830.7)" fill="#3030ff"/><ellipse cx="227.1" cy="825.8" rx="3.2" ry="2.2" transform="rotate(127 227.1 825.8)" fill="#1010c8"/><ellipse cx="215.7" cy="753.1" rx="3.1" ry="1.9" transform="rotate(28 215.7 753.1)" fill="#0c0cb0"/><ellipse cx="283.0" cy="860.5" rx="3.0" ry="1.7" transform="rotate(0 283.0 860.5)" fill="#0c0cb0"/><ellipse cx="211.4" cy="874.8" rx="3.2" ry="2.6" transform="rotate(27 211.4 874.8)" fill="#1818d8"/><ellipse cx="267.1" cy="809.3" rx="3.3" ry="2.6" transform="rotate(34 267.1 809.3)" fill="#3030ff"/><ellipse cx="334.0" cy="802.6" rx="2.8" ry="2.5" transform="rotate(79 334.0 802.6)" fill="#1818d8"/><ellipse cx="243.3" cy="778.9" rx="2.7" ry="2.2" transform="rotate(132 243.3 778.9)" fill="#2020e0"/><ellipse cx="316.0" cy="851.8" rx="2.8" ry="2.3" transform="rotate(174 316.0 851.8)" fill="#2020e0"/><ellipse cx="302.8" cy="870.8" rx="2.2" ry="2.0" transform="rotate(148 302.8 870.8)" fill="#2a2af0"/><ellipse cx="208.4" cy="824.8" rx="3.0" ry="2.6" transform="rotate(32 208.4 824.8)" fill="#1a1aff"/><ellipse cx="275.4" cy="786.9" rx="3.3" ry="2.6" transform="rotate(61 275.4 786.9)" fill="#2a2af0"/><ellipse cx="290.4" cy="834.7" rx="3.4" ry="2.4" transform="rotate(0 290.4 834.7)" fill="#2a2af0"/><ellipse cx="223.8" cy="843.5" rx="3.3" ry="2.6" transform="rotate(133 223.8 843.5)" fill="#2a2af0"/><ellipse cx="238.8" cy="824.8" rx="2.1" ry="1.4" transform="rotate(82 238.8 824.8)" fill="#1818d8"/><ellipse cx="264.5" cy="764.3" rx="3.6" ry="3.0" transform="rotate(59 264.5 764.3)" fill="#1a1aff"/><ellipse cx="258.3" cy="821.3" rx="2.3" ry="1.9" transform="rotate(108 258.3 821.3)" fill="#0c0cb0"/><ellipse cx="233.6" cy="847.2" rx="2.3" ry="1.9" transform="rotate(56 233.6 847.2)" fill="#3030ff"/><ellipse cx="312.8" cy="865.7" rx="2.6" ry="2.2" transform="rotate(125 312.8 865.7)" fill="#0c0cb0"/><ellipse cx="266.2" cy="756.2" rx="3.1" ry="2.7" transform="rotate(99 266.2 756.2)" fill="#2020e0"/><ellipse cx="311.7" cy="762.1" rx="2.5" ry="2.0" transform="rotate(164 311.7 762.1)" fill="#2020e0"/><ellipse cx="249.7" cy="765.9" rx="2.7" ry="1.6" transform="rotate(0 249.7 765.9)" fill="#3030ff"/><ellipse cx="312.3" cy="801.0" rx="3.0" ry="2.2" transform="rotate(154 312.3 801.0)" fill="#1818d8"/><ellipse cx="315.4" cy="802.8" rx="3.3" ry="2.1" transform="rotate(154 315.4 802.8)" fill="#1010c8"/><ellipse cx="257.0" cy="793.9" rx="2.0" ry="1.2" transform="rotate(43 257.0 793.9)" fill="#1a1aff"/><ellipse cx="279.8" cy="797.9" rx="3.2" ry="2.9" transform="rotate(126 279.8 797.9)" fill="#2a2af0"/><ellipse cx="257.7" cy="770.7" rx="2.9" ry="2.5" transform="rotate(18 257.7 770.7)" fill="#1a1aff"/><ellipse cx="285.5" cy="838.7" rx="2.2" ry="1.6" transform="rotate(57 285.5 838.7)" fill="#2a2af0"/><ellipse cx="311.4" cy="788.5" rx="3.3" ry="2.3" transform="rotate(106 311.4 788.5)" fill="#1818d8"/><ellipse cx="265.1" cy="767.3" rx="2.5" ry="2.3" transform="rotate(149 265.1 767.3)" fill="#1010c8"/><ellipse cx="202.6" cy="853.8" rx="3.1" ry="2.2" transform="rotate(120 202.6 853.8)" fill="#0c0cb0"/><ellipse cx="205.1" cy="796.4" rx="2.0" ry="1.9" transform="rotate(142 205.1 796.4)" fill="#2a2af0"/><ellipse cx="258.3" cy="754.0" rx="3.3" ry="2.9" transform="rotate(149 258.3 754.0)" fill="#1a1aff"/><ellipse cx="261.0" cy="818.0" rx="3.4" ry="2.3" transform="rotate(164 261.0 818.0)" fill="#2020e0"/><ellipse cx="238.9" cy="780.3" rx="3.5" ry="2.5" transform="rotate(120 238.9 780.3)" fill="#1818d8"/><ellipse cx="282.3" cy="876.6" rx="3.1" ry="2.6" transform="rotate(168 282.3 876.6)" fill="#1010c8"/><ellipse cx="236.7" cy="746.6" rx="2.7" ry="2.4" transform="rotate(88 236.7 746.6)" fill="#2a2af0"/><ellipse cx="293.3" cy="805.6" rx="3.3" ry="3.1" transform="rotate(43 293.3 805.6)" fill="#0c0cb0"/><ellipse cx="326.3" cy="777.0" rx="2.9" ry="1.9" transform="rotate(40 326.3 777.0)" fill="#1818d8"/><ellipse cx="260.0" cy="781.5" rx="2.3" ry="2.0" transform="rotate(39 260.0 781.5)" fill="#1818d8"/><ellipse cx="239.7" cy="821.2" rx="3.6" ry="3.0" transform="rotate(77 239.7 821.2)" fill="#3030ff"/><ellipse cx="217.8" cy="845.5" rx="2.5" ry="1.7" transform="rotate(101 217.8 845.5)" fill="#1818d8"/><ellipse cx="227.8" cy="825.4" rx="2.0" ry="1.5" transform="rotate(31 227.8 825.4)" fill="#1818d8"/><ellipse cx="290.3" cy="842.6" rx="3.2" ry="2.1" transform="rotate(42 290.3 842.6)" fill="#0c0cb0"/><ellipse cx="334.0" cy="800.5" rx="2.5" ry="2.1" transform="rotate(108 334.0 800.5)" fill="#1010c8"/><ellipse cx="247.7" cy="884.5" rx="3.1" ry="2.3" transform="rotate(93 247.7 884.5)" fill="#0c0cb0"/><ellipse cx="286.4" cy="823.2" rx="3.1" ry="2.9" transform="rotate(90 286.4 823.2)" fill="#1a1aff"/><ellipse cx="211.6" cy="860.7" rx="3.5" ry="2.8" transform="rotate(3 211.6 860.7)" fill="#1010c8"/><ellipse cx="266.5" cy="867.9" rx="3.1" ry="2.6" transform="rotate(145 266.5 867.9)" fill="#3030ff"/><ellipse cx="270.7" cy="750.0" rx="2.6" ry="2.4" transform="rotate(102 270.7 750.0)" fill="#2a2af0"/><ellipse cx="213.2" cy="756.6" rx="3.1" ry="1.9" transform="rotate(16 213.2 756.6)" fill="#1010c8"/><ellipse cx="258.9" cy="886.6" rx="2.1" ry="1.9" transform="rotate(116 258.9 886.6)" fill="#1a1aff"/><ellipse cx="317.2" cy="851.7" rx="2.8" ry="2.3" transform="rotate(82 317.2 851.7)" fill="#2a2af0"/><ellipse cx="313.6" cy="804.5" rx="3.2" ry="2.1" transform="rotate(114 313.6 804.5)" fill="#1818d8"/><ellipse cx="273.3" cy="870.5" rx="2.2" ry="1.4" transform="rotate(141 273.3 870.5)" fill="#1010c8"/><ellipse cx="289.3" cy="811.4" rx="3.3" ry="2.7" transform="rotate(123 289.3 811.4)" fill="#1818d8"/><ellipse cx="256.8" cy="757.7" rx="2.8" ry="2.2" transform="rotate(116 256.8 757.7)" fill="#2020e0"/><ellipse cx="332.4" cy="860.6" rx="2.3" ry="1.7" transform="rotate(138 332.4 860.6)" fill="#3030ff"/><ellipse cx="220.1" cy="779.4" rx="3.3" ry="2.1" transform="rotate(79 220.1 779.4)" fill="#3030ff"/><ellipse cx="210.7" cy="783.8" rx="2.5" ry="1.8" transform="rotate(82 210.7 783.8)" fill="#0c0cb0"/><ellipse cx="274.3" cy="857.0" rx="2.3" ry="1.7" transform="rotate(167 274.3 857.0)" fill="#2a2af0"/><ellipse cx="307.0" cy="759.5" rx="2.7" ry="1.5" transform="rotate(123 307.0 759.5)" fill="#1a1aff"/><ellipse cx="269.8" cy="773.6" rx="3.0" ry="2.5" transform="rotate(30 269.8 773.6)" fill="#2020e0"/><ellipse cx="330.8" cy="819.4" rx="2.7" ry="1.9" transform="rotate(172 330.8 819.4)" fill="#2a2af0"/><ellipse cx="205.8" cy="871.5" rx="3.2" ry="2.3" transform="rotate(39 205.8 871.5)" fill="#0c0cb0"/><ellipse cx="217.8" cy="882.4" rx="2.3" ry="1.7" transform="rotate(63 217.8 882.4)" fill="#2020e0"/><ellipse cx="327.6" cy="875.8" rx="3.3" ry="2.7" transform="rotate(137 327.6 875.8)" fill="#1818d8"/><ellipse cx="280.0" cy="836.1" rx="2.4" ry="2.1" transform="rotate(139 280.0 836.1)" fill="#0c0cb0"/><ellipse cx="308.6" cy="847.5" rx="2.0" ry="1.5" transform="rotate(8 308.6 847.5)" fill="#1818d8"/><ellipse cx="267.7" cy="870.8" rx="2.3" ry="2.1" transform="rotate(25 267.7 870.8)" fill="#2a2af0"/><ellipse cx="248.3" cy="799.3" rx="3.1" ry="2.4" transform="rotate(106 248.3 799.3)" fill="#0c0cb0"/><ellipse cx="297.2" cy="845.8" rx="2.6" ry="2.2" transform="rotate(27 297.2 845.8)" fill="#3030ff"/><ellipse cx="315.3" cy="808.7" rx="2.8" ry="2.4" transform="rotate(51 315.3 808.7)" fill="#1a1aff"/><ellipse cx="244.9" cy="780.4" rx="2.0" ry="1.9" transform="rotate(165 244.9 780.4)" fill="#0c0cb0"/><ellipse cx="342.5" cy="779.5" rx="2.8" ry="1.9" transform="rotate(74 342.5 779.5)" fill="#2020e0"/><ellipse cx="262.1" cy="860.0" rx="2.4" ry="2.3" transform="rotate(176 262.1 860.0)" fill="#0c0cb0"/><ellipse cx="256.0" cy="828.4" rx="2.9" ry="2.6" transform="rotate(47 256.0 828.4)" fill="#0c0cb0"/><ellipse cx="245.4" cy="770.7" rx="2.7" ry="2.5" transform="rotate(150 245.4 770.7)" fill="#1010c8"/><ellipse cx="292.2" cy="847.8" rx="2.5" ry="2.1" transform="rotate(166 292.2 847.8)" fill="#3030ff"/><ellipse cx="245.3" cy="786.2" rx="3.5" ry="3.0" transform="rotate(67 245.3 786.2)" fill="#1010c8"/><ellipse cx="232.3" cy="852.9" rx="3.1" ry="2.8" transform="rotate(71 232.3 852.9)" fill="#1818d8"/><ellipse cx="297.2" cy="837.3" rx="3.2" ry="2.7" transform="rotate(103 297.2 837.3)" fill="#1818d8"/><ellipse cx="275.6" cy="810.9" rx="3.3" ry="3.0" transform="rotate(160 275.6 810.9)" fill="#3030ff"/><ellipse cx="269.2" cy="831.8" rx="3.3" ry="2.7" transform="rotate(162 269.2 831.8)" fill="#3030ff"/><ellipse cx="262.5" cy="778.8" rx="2.5" ry="1.8" transform="rotate(13 262.5 778.8)" fill="#2020e0"/><ellipse cx="293.9" cy="877.7" rx="2.4" ry="2.0" transform="rotate(37 293.9 877.7)" fill="#3030ff"/><ellipse cx="332.3" cy="834.0" rx="3.1" ry="2.5" transform="rotate(74 332.3 834.0)" fill="#1a1aff"/><ellipse cx="236.6" cy="873.6" rx="3.3" ry="1.8" transform="rotate(145 236.6 873.6)" fill="#1010c8"/><ellipse cx="252.8" cy="840.7" rx="3.4" ry="2.8" transform="rotate(126 252.8 840.7)" fill="#3030ff"/><ellipse cx="234.4" cy="859.6" rx="2.7" ry="1.6" transform="rotate(72 234.4 859.6)" fill="#1a1aff"/><ellipse cx="310.7" cy="865.9" rx="2.5" ry="2.0" transform="rotate(171 310.7 865.9)" fill="#1818d8"/><ellipse cx="239.8" cy="795.2" rx="2.7" ry="1.5" transform="rotate(101 239.8 795.2)" fill="#2a2af0"/><ellipse cx="323.8" cy="772.7" rx="2.4" ry="1.5" transform="rotate(17 323.8 772.7)" fill="#1010c8"/><ellipse cx="332.3" cy="790.6" rx="2.2" ry="1.4" transform="rotate(14 332.3 790.6)" fill="#2020e0"/><ellipse cx="312.6" cy="885.1" rx="3.0" ry="2.0" transform="rotate(161 312.6 885.1)" fill="#1a1aff"/><ellipse cx="337.6" cy="808.9" rx="2.0" ry="1.8" transform="rotate(98 337.6 808.9)" fill="#2a2af0"/><ellipse cx="245.6" cy="794.2" rx="2.9" ry="2.4" transform="rotate(177 245.6 794.2)" fill="#3030ff"/><ellipse cx="301.0" cy="802.9" rx="2.5" ry="2.2" transform="rotate(45 301.0 802.9)" fill="#1010c8"/><ellipse cx="219.6" cy="844.5" rx="3.4" ry="2.7" transform="rotate(94 219.6 844.5)" fill="#0c0cb0"/><ellipse cx="232.8" cy="829.6" rx="3.3" ry="2.2" transform="rotate(97 232.8 829.6)" fill="#1a1aff"/><ellipse cx="246.8" cy="788.6" rx="3.2" ry="3.0" transform="rotate(103 246.8 788.6)" fill="#3030ff"/><ellipse cx="226.3" cy="820.0" rx="2.5" ry="2.2" transform="rotate(24 226.3 820.0)" fill="#3030ff"/><ellipse cx="256.2" cy="877.1" rx="3.1" ry="1.9" transform="rotate(103 256.2 877.1)" fill="#3030ff"/><ellipse cx="332.2" cy="767.5" rx="2.9" ry="1.7" transform="rotate(56 332.2 767.5)" fill="#1a1aff"/><ellipse cx="307.8" cy="817.1" rx="3.4" ry="2.5" transform="rotate(153 307.8 817.1)" fill="#1a1aff"/><ellipse cx="296.7" cy="850.4" rx="3.1" ry="2.7" transform="rotate(80 296.7 850.4)" fill="#0c0cb0"/><ellipse cx="204.3" cy="816.2" rx="2.6" ry="2.4" transform="rotate(39 204.3 816.2)" fill="#1010c8"/><ellipse cx="215.4" cy="778.0" rx="2.3" ry="1.3" transform="rotate(170 215.4 778.0)" fill="#1818d8"/><ellipse cx="258.4" cy="753.8" rx="2.1" ry="1.2" transform="rotate(30 258.4 753.8)" fill="#1818d8"/><ellipse cx="254.6" cy="857.2" rx="2.2" ry="1.8" transform="rotate(65 254.6 857.2)" fill="#0c0cb0"/><ellipse cx="297.9" cy="768.7" rx="2.3" ry="2.1" transform="rotate(72 297.9 768.7)" fill="#0c0cb0"/><ellipse cx="202.4" cy="869.2" rx="2.6" ry="2.0" transform="rotate(37 202.4 869.2)" fill="#2020e0"/><ellipse cx="247.9" cy="808.8" rx="2.1" ry="1.3" transform="rotate(118 247.9 808.8)" fill="#3030ff"/><ellipse cx="250.0" cy="820.4" rx="2.3" ry="2.1" transform="rotate(169 250.0 820.4)" fill="#0c0cb0"/><ellipse cx="252.1" cy="804.3" rx="3.6" ry="2.5" transform="rotate(81 252.1 804.3)" fill="#1818d8"/><ellipse cx="261.1" cy="851.2" rx="3.1" ry="2.5" transform="rotate(63 261.1 851.2)" fill="#0c0cb0"/><ellipse cx="318.3" cy="862.7" rx="2.1" ry="1.9" transform="rotate(156 318.3 862.7)" fill="#1010c8"/><ellipse cx="225.8" cy="748.2" rx="2.5" ry="2.0" transform="rotate(157 225.8 748.2)" fill="#1a1aff"/><ellipse cx="317.4" cy="822.1" rx="2.2" ry="2.0" transform="rotate(34 317.4 822.1)" fill="#0c0cb0"/><ellipse cx="249.2" cy="783.9" rx="2.7" ry="2.2" transform="rotate(103 249.2 783.9)" fill="#1818d8"/><ellipse cx="253.5" cy="794.2" rx="3.2" ry="2.9" transform="rotate(39 253.5 794.2)" fill="#1818d8"/><ellipse cx="207.6" cy="832.1" rx="3.4" ry="1.9" transform="rotate(102 207.6 832.1)" fill="#3030ff"/><ellipse cx="297.5" cy="831.7" rx="2.9" ry="2.1" transform="rotate(151 297.5 831.7)" fill="#1818d8"/><ellipse cx="250.2" cy="869.3" rx="3.6" ry="2.9" transform="rotate(141 250.2 869.3)" fill="#1a1aff"/><ellipse cx="312.1" cy="764.5" rx="2.3" ry="1.9" transform="rotate(124 312.1 764.5)" fill="#1a1aff"/><ellipse cx="341.7" cy="846.6" rx="2.6" ry="1.7" transform="rotate(68 341.7 846.6)" fill="#1818d8"/><ellipse cx="288.8" cy="859.7" rx="2.6" ry="2.2" transform="rotate(78 288.8 859.7)" fill="#0c0cb0"/><ellipse cx="206.1" cy="850.2" rx="2.4" ry="1.7" transform="rotate(2 206.1 850.2)" fill="#1818d8"/><ellipse cx="333.9" cy="792.1" rx="3.1" ry="2.3" transform="rotate(75 333.9 792.1)" fill="#1818d8"/><ellipse cx="266.3" cy="753.3" rx="3.4" ry="2.6" transform="rotate(99 266.3 753.3)" fill="#2020e0"/><ellipse cx="284.4" cy="867.2" rx="2.8" ry="1.9" transform="rotate(6 284.4 867.2)" fill="#0c0cb0"/><ellipse cx="225.1" cy="833.4" rx="2.7" ry="2.3" transform="rotate(119 225.1 833.4)" fill="#1818d8"/><ellipse cx="222.8" cy="772.4" rx="3.4" ry="2.6" transform="rotate(135 222.8 772.4)" fill="#2020e0"/><ellipse cx="321.5" cy="788.9" rx="3.2" ry="2.1" transform="rotate(66 321.5 788.9)" fill="#1a1aff"/><ellipse cx="330.5" cy="824.5" rx="3.4" ry="2.1" transform="rotate(30 330.5 824.5)" fill="#1010c8"/><ellipse cx="272.8" cy="794.4" rx="2.7" ry="2.2" transform="rotate(132 272.8 794.4)" fill="#1818d8"/><ellipse cx="313.2" cy="830.3" rx="3.2" ry="2.2" transform="rotate(128 313.2 830.3)" fill="#2020e0"/><ellipse cx="268.2" cy="823.1" rx="2.1" ry="1.6" transform="rotate(127 268.2 823.1)" fill="#1010c8"/><ellipse cx="318.2" cy="880.0" rx="2.4" ry="1.7" transform="rotate(125 318.2 880.0)" fill="#3030ff"/><ellipse cx="223.4" cy="816.9" rx="2.6" ry="1.6" transform="rotate(97 223.4 816.9)" fill="#1818d8"/><ellipse cx="327.1" cy="834.4" rx="2.6" ry="2.0" transform="rotate(50 327.1 834.4)" fill="#1a1aff"/><ellipse cx="250.2" cy="851.9" rx="2.2" ry="1.4" transform="rotate(118 250.2 851.9)" fill="#1a1aff"/><ellipse cx="300.5" cy="818.0" rx="3.6" ry="2.0" transform="rotate(52 300.5 818.0)" fill="#1a1aff"/><ellipse cx="311.2" cy="776.3" rx="3.2" ry="2.7" transform="rotate(46 311.2 776.3)" fill="#1a1aff"/><ellipse cx="255.2" cy="876.3" rx="2.2" ry="1.3" transform="rotate(102 255.2 876.3)" fill="#0c0cb0"/><ellipse cx="270.3" cy="871.9" rx="3.3" ry="2.4" transform="rotate(86 270.3 871.9)" fill="#3030ff"/><ellipse cx="287.2" cy="777.6" rx="2.9" ry="2.2" transform="rotate(135 287.2 777.6)" fill="#3030ff"/><ellipse cx="233.6" cy="812.5" rx="2.9" ry="2.1" transform="rotate(37 233.6 812.5)" fill="#1818d8"/><ellipse cx="317.7" cy="866.9" rx="3.1" ry="2.3" transform="rotate(85 317.7 866.9)" fill="#0c0cb0"/><ellipse cx="307.8" cy="865.3" rx="3.6" ry="3.1" transform="rotate(52 307.8 865.3)" fill="#0c0cb0"/><ellipse cx="313.1" cy="824.8" rx="2.5" ry="2.0" transform="rotate(119 313.1 824.8)" fill="#2a2af0"/><ellipse cx="309.6" cy="777.6" rx="3.3" ry="2.2" transform="rotate(111 309.6 777.6)" fill="#1a1aff"/><ellipse cx="256.7" cy="812.4" rx="3.0" ry="2.9" transform="rotate(117 256.7 812.4)" fill="#1a1aff"/><ellipse cx="336.1" cy="781.0" rx="2.6" ry="1.4" transform="rotate(116 336.1 781.0)" fill="#2a2af0"/><ellipse cx="244.0" cy="858.9" rx="2.5" ry="1.9" transform="rotate(134 244.0 858.9)" fill="#2a2af0"/><ellipse cx="306.6" cy="803.4" rx="2.4" ry="1.5" transform="rotate(167 306.6 803.4)" fill="#1a1aff"/><ellipse cx="230.0" cy="768.7" rx="3.0" ry="1.9" transform="rotate(11 230.0 768.7)" fill="#1a1aff"/><ellipse cx="216.1" cy="760.6" rx="2.1" ry="1.1" transform="rotate(7 216.1 760.6)" fill="#0c0cb0"/><ellipse cx="202.4" cy="838.2" rx="2.9" ry="2.0" transform="rotate(136 202.4 838.2)" fill="#1a1aff"/><ellipse cx="341.0" cy="801.3" rx="2.1" ry="1.5" transform="rotate(18 341.0 801.3)" fill="#1010c8"/><ellipse cx="304.5" cy="863.6" rx="3.1" ry="1.9" transform="rotate(103 304.5 863.6)" fill="#1a1aff"/><ellipse cx="214.6" cy="878.0" rx="2.3" ry="2.2" transform="rotate(175 214.6 878.0)" fill="#3030ff"/><ellipse cx="236.6" cy="818.9" rx="3.6" ry="2.4" transform="rotate(100 236.6 818.9)" fill="#3030ff"/><ellipse cx="270.8" cy="881.2" rx="2.5" ry="1.4" transform="rotate(123 270.8 881.2)" fill="#1010c8"/><ellipse cx="308.3" cy="834.8" rx="3.4" ry="2.2" transform="rotate(56 308.3 834.8)" fill="#1a1aff"/><ellipse cx="267.9" cy="861.1" rx="3.0" ry="2.2" transform="rotate(122 267.9 861.1)" fill="#2a2af0"/><ellipse cx="213.4" cy="869.0" rx="2.9" ry="2.3" transform="rotate(83 213.4 869.0)" fill="#1a1aff"/><ellipse cx="309.0" cy="762.4" rx="2.4" ry="1.9" transform="rotate(124 309.0 762.4)" fill="#0c0cb0"/><ellipse cx="274.1" cy="750.5" rx="2.3" ry="1.7" transform="rotate(164 274.1 750.5)" fill="#0c0cb0"/><ellipse cx="267.0" cy="749.9" rx="3.5" ry="2.2" transform="rotate(161 267.0 749.9)" fill="#1818d8"/><ellipse cx="319.5" cy="875.6" rx="2.9" ry="2.6" transform="rotate(81 319.5 875.6)" fill="#0c0cb0"/><ellipse cx="332.0" cy="847.8" rx="3.0" ry="2.6" transform="rotate(164 332.0 847.8)" fill="#1818d8"/><ellipse cx="202.9" cy="752.9" rx="3.1" ry="2.9" transform="rotate(100 202.9 752.9)" fill="#3030ff"/><ellipse cx="313.4" cy="796.6" rx="2.8" ry="2.1" transform="rotate(115 313.4 796.6)" fill="#3030ff"/><ellipse cx="260.0" cy="818.8" rx="2.9" ry="2.6" transform="rotate(83 260.0 818.8)" fill="#1010c8"/><ellipse cx="254.4" cy="885.0" rx="3.0" ry="1.8" transform="rotate(86 254.4 885.0)" fill="#1818d8"/><ellipse cx="215.1" cy="747.0" rx="2.0" ry="1.5" transform="rotate(153 215.1 747.0)" fill="#2020e0"/><ellipse cx="330.0" cy="857.4" rx="2.1" ry="1.4" transform="rotate(0 330.0 857.4)" fill="#2020e0"/><ellipse cx="335.2" cy="857.5" rx="2.8" ry="2.3" transform="rotate(37 335.2 857.5)" fill="#1818d8"/><ellipse cx="245.8" cy="857.3" rx="2.8" ry="1.8" transform="rotate(126 245.8 857.3)" fill="#1818d8"/><ellipse cx="322.9" cy="811.2" rx="2.4" ry="1.7" transform="rotate(162 322.9 811.2)" fill="#3030ff"/><ellipse cx="240.4" cy="748.5" rx="2.5" ry="2.2" transform="rotate(7 240.4 748.5)" fill="#1818d8"/><ellipse cx="212.4" cy="881.5" rx="3.0" ry="1.8" transform="rotate(4 212.4 881.5)" fill="#0c0cb0"/><ellipse cx="246.1" cy="771.2" rx="2.4" ry="1.7" transform="rotate(148 246.1 771.2)" fill="#1818d8"/><ellipse cx="301.7" cy="795.7" rx="3.1" ry="2.9" transform="rotate(99 301.7 795.7)" fill="#3030ff"/><ellipse cx="263.4" cy="846.4" rx="2.3" ry="2.1" transform="rotate(96 263.4 846.4)" fill="#1a1aff"/><ellipse cx="243.5" cy="825.5" rx="2.1" ry="1.4" transform="rotate(132 243.5 825.5)" fill="#2a2af0"/><ellipse cx="286.5" cy="871.8" rx="3.1" ry="2.0" transform="rotate(129 286.5 871.8)" fill="#3030ff"/><ellipse cx="238.0" cy="813.9" rx="2.4" ry="1.5" transform="rotate(158 238.0 813.9)" fill="#2a2af0"/><ellipse cx="322.1" cy="809.9" rx="2.6" ry="1.9" transform="rotate(89 322.1 809.9)" fill="#1818d8"/><ellipse cx="329.3" cy="774.4" rx="2.3" ry="2.0" transform="rotate(97 329.3 774.4)" fill="#2020e0"/><ellipse cx="291.7" cy="809.9" rx="2.2" ry="2.0" transform="rotate(162 291.7 809.9)" fill="#3030ff"/><ellipse cx="211.2" cy="843.4" rx="2.9" ry="2.0" transform="rotate(53 211.2 843.4)" fill="#1010c8"/><ellipse cx="298.0" cy="853.9" rx="2.6" ry="1.6" transform="rotate(96 298.0 853.9)" fill="#2a2af0"/><ellipse cx="335.8" cy="786.2" rx="2.2" ry="1.3" transform="rotate(109 335.8 786.2)" fill="#0c0cb0"/><ellipse cx="337.5" cy="848.3" rx="2.4" ry="1.9" transform="rotate(66 337.5 848.3)" fill="#3030ff"/><ellipse cx="292.9" cy="845.5" rx="3.0" ry="2.1" transform="rotate(129 292.9 845.5)" fill="#3030ff"/><ellipse cx="230.3" cy="750.6" rx="2.7" ry="2.4" transform="rotate(47 230.3 750.6)" fill="#1a1aff"/><ellipse cx="242.2" cy="843.5" rx="2.3" ry="1.4" transform="rotate(153 242.2 843.5)" fill="#3030ff"/><ellipse cx="323.2" cy="848.6" rx="2.5" ry="1.6" transform="rotate(128 323.2 848.6)" fill="#1010c8"/><ellipse cx="334.4" cy="768.5" rx="2.8" ry="2.3" transform="rotate(52 334.4 768.5)" fill="#1a1aff"/><ellipse cx="312.5" cy="857.3" rx="2.1" ry="1.4" transform="rotate(175 312.5 857.3)" fill="#1010c8"/><ellipse cx="203.2" cy="816.6" rx="3.6" ry="3.0" transform="rotate(34 203.2 816.6)" fill="#3030ff"/><ellipse cx="242.6" cy="765.1" rx="2.8" ry="1.7" transform="rotate(46 242.6 765.1)" fill="#1818d8"/><ellipse cx="207.3" cy="812.2" rx="2.1" ry="1.7" transform="rotate(36 207.3 812.2)" fill="#2020e0"/><ellipse cx="325.9" cy="787.4" rx="3.0" ry="2.1" transform="rotate(80 325.9 787.4)" fill="#1010c8"/><ellipse cx="257.8" cy="861.0" rx="2.2" ry="1.6" transform="rotate(15 257.8 861.0)" fill="#2020e0"/><ellipse cx="241.1" cy="804.5" rx="2.6" ry="2.1" transform="rotate(95 241.1 804.5)" fill="#1010c8"/><ellipse cx="299.9" cy="886.1" rx="3.0" ry="2.3" transform="rotate(98 299.9 886.1)" fill="#1a1aff"/><ellipse cx="320.6" cy="775.0" rx="2.5" ry="1.4" transform="rotate(94 320.6 775.0)" fill="#3030ff"/><ellipse cx="278.4" cy="869.1" rx="3.1" ry="2.7" transform="rotate(115 278.4 869.1)" fill="#0c0cb0"/><ellipse cx="252.4" cy="785.5" rx="2.2" ry="1.9" transform="rotate(47 252.4 785.5)" fill="#3030ff"/><ellipse cx="228.3" cy="828.1" rx="2.4" ry="1.6" transform="rotate(102 228.3 828.1)" fill="#2020e0"/><ellipse cx="228.7" cy="884.3" rx="3.6" ry="3.4" transform="rotate(141 228.7 884.3)" fill="#1010c8"/><ellipse cx="340.3" cy="770.7" rx="3.0" ry="2.4" transform="rotate(50 340.3 770.7)" fill="#1a1aff"/><ellipse cx="338.9" cy="865.2" rx="2.8" ry="1.8" transform="rotate(111 338.9 865.2)" fill="#3030ff"/><ellipse cx="301.3" cy="867.4" rx="3.6" ry="2.9" transform="rotate(5 301.3 867.4)" fill="#1818d8"/><ellipse cx="256.6" cy="818.5" rx="2.2" ry="2.1" transform="rotate(171 256.6 818.5)" fill="#1010c8"/><ellipse cx="236.1" cy="869.7" rx="2.7" ry="1.6" transform="rotate(96 236.1 869.7)" fill="#3030ff"/><ellipse cx="320.0" cy="824.2" rx="3.0" ry="2.2" transform="rotate(163 320.0 824.2)" fill="#3030ff"/><ellipse cx="279.8" cy="826.5" rx="3.3" ry="2.6" transform="rotate(66 279.8 826.5)" fill="#1818d8"/><ellipse cx="231.6" cy="777.4" rx="3.4" ry="2.2" transform="rotate(178 231.6 777.4)" fill="#1a1aff"/><ellipse cx="238.9" cy="874.2" rx="2.2" ry="2.0" transform="rotate(101 238.9 874.2)" fill="#3030ff"/><ellipse cx="326.9" cy="828.3" rx="2.9" ry="1.7" transform="rotate(6 326.9 828.3)" fill="#3030ff"/><ellipse cx="310.3" cy="833.3" rx="2.9" ry="2.6" transform="rotate(35 310.3 833.3)" fill="#1010c8"/><ellipse cx="203.2" cy="824.4" rx="2.1" ry="1.3" transform="rotate(131 203.2 824.4)" fill="#3030ff"/><ellipse cx="317.8" cy="794.2" rx="3.5" ry="1.9" transform="rotate(26 317.8 794.2)" fill="#1010c8"/><ellipse cx="305.9" cy="816.3" rx="3.0" ry="1.8" transform="rotate(179 305.9 816.3)" fill="#2020e0"/><ellipse cx="214.8" cy="785.0" rx="3.2" ry="2.0" transform="rotate(64 214.8 785.0)" fill="#1a1aff"/><ellipse cx="266.3" cy="864.2" rx="3.2" ry="2.2" transform="rotate(160 266.3 864.2)" fill="#2a2af0"/><ellipse cx="320.1" cy="867.3" rx="2.8" ry="2.3" transform="rotate(64 320.1 867.3)" fill="#2020e0"/><ellipse cx="330.3" cy="827.7" rx="2.7" ry="2.5" transform="rotate(107 330.3 827.7)" fill="#3030ff"/><ellipse cx="205.4" cy="782.8" rx="2.5" ry="1.7" transform="rotate(3 205.4 782.8)" fill="#1a1aff"/><ellipse cx="312.5" cy="784.8" rx="3.1" ry="2.9" transform="rotate(151 312.5 784.8)" fill="#1818d8"/><ellipse cx="218.2" cy="784.4" rx="3.0" ry="2.0" transform="rotate(33 218.2 784.4)" fill="#1818d8"/><ellipse cx="238.0" cy="801.9" rx="3.5" ry="2.0" transform="rotate(120 238.0 801.9)" fill="#2020e0"/><ellipse cx="218.3" cy="805.5" rx="2.5" ry="2.3" transform="rotate(114 218.3 805.5)" fill="#1010c8"/><ellipse cx="267.8" cy="782.9" rx="2.3" ry="1.3" transform="rotate(91 267.8 782.9)" fill="#1010c8"/><ellipse cx="302.6" cy="779.7" rx="3.5" ry="3.2" transform="rotate(126 302.6 779.7)" fill="#2020e0"/><ellipse cx="210.2" cy="769.5" rx="2.1" ry="1.2" transform="rotate(13 210.2 769.5)" fill="#2020e0"/><ellipse cx="203.0" cy="826.4" rx="3.5" ry="3.2" transform="rotate(26 203.0 826.4)" fill="#2a2af0"/><ellipse cx="248.8" cy="807.9" rx="3.2" ry="2.8" transform="rotate(8 248.8 807.9)" fill="#2020e0"/><ellipse cx="248.1" cy="813.8" rx="2.2" ry="1.8" transform="rotate(111 248.1 813.8)" fill="#2020e0"/><ellipse cx="231.6" cy="881.5" rx="3.0" ry="2.0" transform="rotate(116 231.6 881.5)" fill="#0c0cb0"/><ellipse cx="293.4" cy="779.2" rx="3.1" ry="1.9" transform="rotate(116 293.4 779.2)" fill="#3030ff"/><ellipse cx="287.6" cy="884.9" rx="2.9" ry="1.6" transform="rotate(55 287.6 884.9)" fill="#1010c8"/><ellipse cx="309.4" cy="866.5" rx="2.3" ry="2.1" transform="rotate(144 309.4 866.5)" fill="#1010c8"/><ellipse cx="257.8" cy="849.0" rx="2.7" ry="2.6" transform="rotate(81 257.8 849.0)" fill="#0c0cb0"/><ellipse cx="323.0" cy="813.8" rx="2.6" ry="2.3" transform="rotate(131 323.0 813.8)" fill="#1a1aff"/><ellipse cx="279.8" cy="789.4" rx="2.5" ry="2.1" transform="rotate(24 279.8 789.4)" fill="#2020e0"/><ellipse cx="250.8" cy="766.1" rx="3.3" ry="2.0" transform="rotate(4 250.8 766.1)" fill="#2020e0"/><ellipse cx="215.8" cy="860.0" rx="2.3" ry="2.1" transform="rotate(150 215.8 860.0)" fill="#0c0cb0"/><ellipse cx="268.9" cy="802.4" rx="2.5" ry="1.5" transform="rotate(102 268.9 802.4)" fill="#2a2af0"/><ellipse cx="221.6" cy="807.2" rx="3.0" ry="2.5" transform="rotate(46 221.6 807.2)" fill="#1818d8"/><ellipse cx="282.1" cy="793.0" rx="3.6" ry="2.4" transform="rotate(162 282.1 793.0)" fill="#2020e0"/><ellipse cx="282.4" cy="836.9" rx="3.5" ry="2.5" transform="rotate(119 282.4 836.9)" fill="#2020e0"/><ellipse cx="267.0" cy="829.6" rx="3.4" ry="3.1" transform="rotate(54 267.0 829.6)" fill="#1818d8"/><ellipse cx="218.8" cy="868.0" rx="2.9" ry="2.2" transform="rotate(53 218.8 868.0)" fill="#1010c8"/><ellipse cx="306.9" cy="790.4" rx="2.1" ry="1.3" transform="rotate(148 306.9 790.4)" fill="#1010c8"/><ellipse cx="239.2" cy="775.5" rx="2.3" ry="1.7" transform="rotate(3 239.2 775.5)" fill="#2a2af0"/><ellipse cx="230.0" cy="844.2" rx="2.2" ry="1.9" transform="rotate(69 230.0 844.2)" fill="#2a2af0"/><ellipse cx="303.6" cy="775.0" rx="3.4" ry="2.0" transform="rotate(98 303.6 775.0)" fill="#1010c8"/><ellipse cx="255.7" cy="755.8" rx="2.2" ry="1.4" transform="rotate(162 255.7 755.8)" fill="#1818d8"/><ellipse cx="315.0" cy="877.5" rx="2.2" ry="1.7" transform="rotate(142 315.0 877.5)" fill="#0c0cb0"/><ellipse cx="284.7" cy="754.4" rx="2.2" ry="1.3" transform="rotate(28 284.7 754.4)" fill="#1a1aff"/><ellipse cx="320.8" cy="851.8" rx="2.1" ry="1.6" transform="rotate(18 320.8 851.8)" fill="#0c0cb0"/><ellipse cx="258.8" cy="832.2" rx="3.5" ry="2.6" transform="rotate(142 258.8 832.2)" fill="#1a1aff"/><ellipse cx="266.3" cy="755.4" rx="2.3" ry="2.1" transform="rotate(110 266.3 755.4)" fill="#1818d8"/><ellipse cx="236.8" cy="798.2" rx="3.4" ry="3.0" transform="rotate(137 236.8 798.2)" fill="#1818d8"/><ellipse cx="341.7" cy="821.8" rx="2.0" ry="1.8" transform="rotate(12 341.7 821.8)" fill="#2a2af0"/><ellipse cx="307.7" cy="813.7" rx="2.4" ry="1.5" transform="rotate(91 307.7 813.7)" fill="#3030ff"/><ellipse cx="279.0" cy="776.7" rx="3.6" ry="2.3" transform="rotate(31 279.0 776.7)" fill="#3030ff"/><ellipse cx="329.3" cy="845.1" rx="2.8" ry="2.1" transform="rotate(20 329.3 845.1)" fill="#0c0cb0"/><ellipse cx="296.0" cy="878.6" rx="3.1" ry="2.9" transform="rotate(31 296.0 878.6)" fill="#2a2af0"/><ellipse cx="292.9" cy="876.4" rx="2.8" ry="1.8" transform="rotate(89 292.9 876.4)" fill="#0c0cb0"/><ellipse cx="221.4" cy="803.5" rx="3.1" ry="2.4" transform="rotate(9 221.4 803.5)" fill="#2020e0"/><ellipse cx="202.4" cy="753.8" rx="3.0" ry="2.3" transform="rotate(82 202.4 753.8)" fill="#1a1aff"/><ellipse cx="224.7" cy="797.9" rx="2.9" ry="2.4" transform="rotate(73 224.7 797.9)" fill="#1a1aff"/><ellipse cx="275.2" cy="839.6" rx="2.3" ry="1.9" transform="rotate(136 275.2 839.6)" fill="#2a2af0"/><ellipse cx="263.6" cy="817.4" rx="3.2" ry="2.0" transform="rotate(81 263.6 817.4)" fill="#3030ff"/><ellipse cx="247.9" cy="777.1" rx="2.3" ry="1.6" transform="rotate(46 247.9 777.1)" fill="#1010c8"/><ellipse cx="208.6" cy="824.8" rx="2.7" ry="2.0" transform="rotate(120 208.6 824.8)" fill="#2020e0"/><ellipse cx="260.9" cy="863.2" rx="2.4" ry="1.3" transform="rotate(85 260.9 863.2)" fill="#1a1aff"/><ellipse cx="234.7" cy="812.4" rx="2.9" ry="2.3" transform="rotate(46 234.7 812.4)" fill="#1a1aff"/><ellipse cx="217.4" cy="765.8" rx="3.0" ry="2.6" transform="rotate(164 217.4 765.8)" fill="#2020e0"/><ellipse cx="314.1" cy="795.1" rx="2.4" ry="2.1" transform="rotate(24 314.1 795.1)" fill="#3030ff"/><ellipse cx="223.1" cy="882.8" rx="2.1" ry="1.3" transform="rotate(146 223.1 882.8)" fill="#3030ff"/><ellipse cx="215.9" cy="770.3" rx="2.6" ry="1.7" transform="rotate(36 215.9 770.3)" fill="#3030ff"/><ellipse cx="292.9" cy="802.4" rx="3.5" ry="2.1" transform="rotate(36 292.9 802.4)" fill="#2a2af0"/><ellipse cx="215.2" cy="760.6" rx="2.3" ry="2.2" transform="rotate(173 215.2 760.6)" fill="#1010c8"/><ellipse cx="235.8" cy="854.0" rx="2.6" ry="1.8" transform="rotate(150 235.8 854.0)" fill="#1010c8"/><ellipse cx="301.1" cy="799.8" rx="2.5" ry="1.7" transform="rotate(87 301.1 799.8)" fill="#2a2af0"/><ellipse cx="303.9" cy="778.7" rx="2.8" ry="1.9" transform="rotate(84 303.9 778.7)" fill="#2a2af0"/><ellipse cx="214.7" cy="814.2" rx="2.6" ry="1.6" transform="rotate(135 214.7 814.2)" fill="#1818d8"/><ellipse cx="239.5" cy="883.9" rx="2.2" ry="1.4" transform="rotate(162 239.5 883.9)" fill="#1010c8"/><ellipse cx="230.1" cy="855.6" rx="3.6" ry="3.3" transform="rotate(171 230.1 855.6)" fill="#1a1aff"/><ellipse cx="337.0" cy="879.1" rx="3.0" ry="2.8" transform="rotate(144 337.0 879.1)" fill="#1a1aff"/><ellipse cx="229.0" cy="767.3" rx="2.4" ry="1.8" transform="rotate(28 229.0 767.3)" fill="#1818d8"/><ellipse cx="224.1" cy="845.2" rx="3.3" ry="2.2" transform="rotate(104 224.1 845.2)" fill="#1a1aff"/><ellipse cx="327.6" cy="820.9" rx="2.2" ry="1.8" transform="rotate(160 327.6 820.9)" fill="#0c0cb0"/><ellipse cx="316.0" cy="842.7" rx="2.1" ry="1.9" transform="rotate(150 316.0 842.7)" fill="#1a1aff"/><ellipse cx="237.8" cy="807.6" rx="3.5" ry="2.7" transform="rotate(163 237.8 807.6)" fill="#3030ff"/><ellipse cx="272.4" cy="806.1" rx="2.5" ry="1.8" transform="rotate(134 272.4 806.1)" fill="#3030ff"/><ellipse cx="289.8" cy="785.6" rx="3.2" ry="2.3" transform="rotate(132 289.8 785.6)" fill="#0c0cb0"/><ellipse cx="238.8" cy="880.9" rx="3.2" ry="2.0" transform="rotate(119 238.8 880.9)" fill="#0c0cb0"/><ellipse cx="318.3" cy="856.7" rx="2.2" ry="1.3" transform="rotate(119 318.3 856.7)" fill="#1818d8"/><ellipse cx="258.6" cy="791.3" rx="2.1" ry="1.5" transform="rotate(109 258.6 791.3)" fill="#2020e0"/><ellipse cx="333.1" cy="844.8" rx="2.7" ry="2.2" transform="rotate(179 333.1 844.8)" fill="#2020e0"/><ellipse cx="293.0" cy="792.7" rx="2.3" ry="1.7" transform="rotate(97 293.0 792.7)" fill="#0c0cb0"/><ellipse cx="277.4" cy="879.8" rx="3.0" ry="1.8" transform="rotate(5 277.4 879.8)" fill="#1818d8"/><ellipse cx="270.3" cy="773.3" rx="3.1" ry="1.8" transform="rotate(79 270.3 773.3)" fill="#2020e0"/><ellipse cx="253.8" cy="783.6" rx="2.5" ry="2.3" transform="rotate(176 253.8 783.6)" fill="#1010c8"/><ellipse cx="305.8" cy="859.0" rx="2.8" ry="1.6" transform="rotate(105 305.8 859.0)" fill="#1a1aff"/><ellipse cx="309.1" cy="774.7" rx="2.0" ry="1.9" transform="rotate(145 309.1 774.7)" fill="#2a2af0"/><ellipse cx="255.1" cy="854.6" rx="3.4" ry="2.0" transform="rotate(2 255.1 854.6)" fill="#1a1aff"/><ellipse cx="327.4" cy="798.6" rx="2.0" ry="1.5" transform="rotate(78 327.4 798.6)" fill="#1a1aff"/><ellipse cx="289.0" cy="805.2" rx="2.7" ry="2.2" transform="rotate(179 289.0 805.2)" fill="#2a2af0"/><ellipse cx="295.8" cy="772.8" rx="2.0" ry="1.2" transform="rotate(71 295.8 772.8)" fill="#0c0cb0"/><ellipse cx="232.1" cy="811.6" rx="3.6" ry="2.3" transform="rotate(63 232.1 811.6)" fill="#2020e0"/><ellipse cx="300.2" cy="863.4" rx="2.8" ry="2.4" transform="rotate(28 300.2 863.4)" fill="#3030ff"/><ellipse cx="311.3" cy="840.3" rx="2.8" ry="2.5" transform="rotate(61 311.3 840.3)" fill="#1010c8"/><ellipse cx="340.0" cy="778.2" rx="3.3" ry="2.5" transform="rotate(67 340.0 778.2)" fill="#1818d8"/><ellipse cx="271.3" cy="813.1" rx="2.2" ry="1.9" transform="rotate(66 271.3 813.1)" fill="#1818d8"/><ellipse cx="259.9" cy="879.7" rx="3.3" ry="2.1" transform="rotate(100 259.9 879.7)" fill="#2020e0"/><ellipse cx="305.4" cy="846.9" rx="3.0" ry="2.4" transform="rotate(179 305.4 846.9)" fill="#1818d8"/><ellipse cx="234.0" cy="861.3" rx="3.4" ry="2.2" transform="rotate(131 234.0 861.3)" fill="#1a1aff"/><ellipse cx="326.9" cy="779.9" rx="2.7" ry="1.8" transform="rotate(120 326.9 779.9)" fill="#2020e0"/><ellipse cx="306.3" cy="767.3" rx="3.2" ry="2.2" transform="rotate(15 306.3 767.3)" fill="#2020e0"/><ellipse cx="342.7" cy="851.4" rx="3.5" ry="3.0" transform="rotate(34 342.7 851.4)" fill="#1a1aff"/><ellipse cx="341.8" cy="773.4" rx="2.1" ry="1.8" transform="rotate(161 341.8 773.4)" fill="#2020e0"/><ellipse cx="312.8" cy="808.1" rx="2.3" ry="1.7" transform="rotate(78 312.8 808.1)" fill="#1010c8"/><ellipse cx="317.2" cy="865.9" rx="2.4" ry="1.7" transform="rotate(159 317.2 865.9)" fill="#0c0cb0"/><ellipse cx="225.0" cy="747.7" rx="3.1" ry="2.5" transform="rotate(150 225.0 747.7)" fill="#2a2af0"/><ellipse cx="318.2" cy="830.8" rx="3.5" ry="2.7" transform="rotate(158 318.2 830.8)" fill="#2a2af0"/><ellipse cx="218.3" cy="865.3" rx="2.6" ry="2.2" transform="rotate(71 218.3 865.3)" fill="#1010c8"/><ellipse cx="278.6" cy="767.1" rx="2.6" ry="1.9" transform="rotate(33 278.6 767.1)" fill="#1818d8"/><ellipse cx="306.9" cy="767.5" rx="3.2" ry="2.1" transform="rotate(18 306.9 767.5)" fill="#1010c8"/><ellipse cx="270.3" cy="760.9" rx="2.2" ry="1.7" transform="rotate(126 270.3 760.9)" fill="#1a1aff"/><ellipse cx="218.5" cy="762.1" rx="2.0" ry="1.5" transform="rotate(12 218.5 762.1)" fill="#1a1aff"/><ellipse cx="255.6" cy="789.2" rx="2.4" ry="1.6" transform="rotate(9 255.6 789.2)" fill="#2a2af0"/><ellipse cx="310.1" cy="877.2" rx="3.6" ry="2.6" transform="rotate(132 310.1 877.2)" fill="#3030ff"/><ellipse cx="233.1" cy="789.2" rx="2.8" ry="2.2" transform="rotate(88 233.1 789.2)" fill="#2020e0"/><ellipse cx="336.2" cy="868.1" rx="3.1" ry="1.7" transform="rotate(57 336.2 868.1)" fill="#0c0cb0"/><ellipse cx="266.3" cy="886.7" rx="3.5" ry="2.1" transform="rotate(99 266.3 886.7)" fill="#1a1aff"/><ellipse cx="261.5" cy="749.8" rx="3.4" ry="2.8" transform="rotate(124 261.5 749.8)" fill="#2020e0"/><ellipse cx="246.5" cy="807.2" rx="2.0" ry="1.3" transform="rotate(94 246.5 807.2)" fill="#2a2af0"/><ellipse cx="247.4" cy="869.3" rx="3.4" ry="1.9" transform="rotate(98 247.4 869.3)" fill="#1010c8"/><ellipse cx="207.2" cy="842.6" rx="2.6" ry="2.3" transform="rotate(61 207.2 842.6)" fill="#1a1aff"/><ellipse cx="267.5" cy="877.0" rx="2.3" ry="1.5" transform="rotate(179 267.5 877.0)" fill="#1818d8"/><ellipse cx="229.5" cy="781.5" rx="3.6" ry="3.1" transform="rotate(55 229.5 781.5)" fill="#2a2af0"/><ellipse cx="267.9" cy="800.5" rx="3.5" ry="3.0" transform="rotate(89 267.9 800.5)" fill="#1a1aff"/><ellipse cx="205.9" cy="825.9" rx="2.3" ry="1.9" transform="rotate(98 205.9 825.9)" fill="#3030ff"/><ellipse cx="306.7" cy="833.6" rx="3.4" ry="2.6" transform="rotate(52 306.7 833.6)" fill="#1818d8"/><ellipse cx="253.1" cy="756.6" rx="3.1" ry="2.3" transform="rotate(71 253.1 756.6)" fill="#2020e0"/><ellipse cx="247.7" cy="834.9" rx="2.8" ry="1.8" transform="rotate(122 247.7 834.9)" fill="#2a2af0"/><ellipse cx="204.8" cy="843.2" rx="3.0" ry="1.8" transform="rotate(9 204.8 843.2)" fill="#0c0cb0"/><ellipse cx="305.6" cy="865.7" rx="3.0" ry="2.2" transform="rotate(136 305.6 865.7)" fill="#1a1aff"/><ellipse cx="275.7" cy="790.4" rx="3.6" ry="2.3" transform="rotate(14 275.7 790.4)" fill="#3030ff"/><ellipse cx="244.5" cy="812.9" rx="2.4" ry="1.4" transform="rotate(85 244.5 812.9)" fill="#1010c8"/><ellipse cx="281.1" cy="853.5" rx="2.5" ry="1.8" transform="rotate(52 281.1 853.5)" fill="#1a1aff"/><ellipse cx="211.2" cy="874.9" rx="2.8" ry="2.2" transform="rotate(140 211.2 874.9)" fill="#1818d8"/><ellipse cx="204.8" cy="821.8" rx="2.2" ry="1.7" transform="rotate(72 204.8 821.8)" fill="#3030ff"/><ellipse cx="211.0" cy="873.3" rx="3.3" ry="2.8" transform="rotate(160 211.0 873.3)" fill="#1818d8"/><ellipse cx="230.4" cy="798.4" rx="3.6" ry="2.1" transform="rotate(176 230.4 798.4)" fill="#0c0cb0"/><ellipse cx="245.0" cy="760.7" rx="2.1" ry="1.8" transform="rotate(66 245.0 760.7)" fill="#1a1aff"/><ellipse cx="298.9" cy="804.5" rx="3.0" ry="1.9" transform="rotate(168 298.9 804.5)" fill="#3030ff"/><ellipse cx="251.2" cy="805.8" rx="3.4" ry="3.1" transform="rotate(72 251.2 805.8)" fill="#2020e0"/><ellipse cx="338.1" cy="876.5" rx="3.1" ry="2.1" transform="rotate(28 338.1 876.5)" fill="#0c0cb0"/><ellipse cx="258.5" cy="878.0" rx="3.1" ry="2.5" transform="rotate(56 258.5 878.0)" fill="#1818d8"/><ellipse cx="210.4" cy="845.2" rx="2.5" ry="1.6" transform="rotate(73 210.4 845.2)" fill="#0c0cb0"/><ellipse cx="322.2" cy="837.6" rx="2.4" ry="1.6" transform="rotate(76 322.2 837.6)" fill="#2020e0"/><ellipse cx="205.1" cy="756.0" rx="3.1" ry="2.2" transform="rotate(121 205.1 756.0)" fill="#3030ff"/><ellipse cx="289.8" cy="876.0" rx="3.5" ry="2.4" transform="rotate(4 289.8 876.0)" fill="#2020e0"/><ellipse cx="238.8" cy="758.4" rx="2.9" ry="2.0" transform="rotate(11 238.8 758.4)" fill="#2020e0"/><ellipse cx="237.9" cy="839.8" rx="3.2" ry="2.5" transform="rotate(152 237.9 839.8)" fill="#1010c8"/><ellipse cx="269.6" cy="825.6" rx="2.5" ry="1.8" transform="rotate(106 269.6 825.6)" fill="#1a1aff"/><ellipse cx="203.8" cy="883.0" rx="2.6" ry="2.0" transform="rotate(54 203.8 883.0)" fill="#3030ff"/><ellipse cx="222.9" cy="886.9" rx="2.2" ry="2.0" transform="rotate(133 222.9 886.9)" fill="#1010c8"/><ellipse cx="308.3" cy="877.0" rx="3.0" ry="2.2" transform="rotate(166 308.3 877.0)" fill="#3030ff"/><ellipse cx="222.4" cy="784.6" rx="3.2" ry="2.6" transform="rotate(20 222.4 784.6)" fill="#1818d8"/><ellipse cx="254.3" cy="838.6" rx="2.4" ry="1.4" transform="rotate(35 254.3 838.6)" fill="#2a2af0"/><ellipse cx="299.6" cy="786.1" rx="3.3" ry="2.3" transform="rotate(175 299.6 786.1)" fill="#2020e0"/><ellipse cx="318.3" cy="791.3" rx="2.1" ry="1.9" transform="rotate(115 318.3 791.3)" fill="#3030ff"/><ellipse cx="268.2" cy="857.3" rx="2.2" ry="2.0" transform="rotate(172 268.2 857.3)" fill="#0c0cb0"/><ellipse cx="300.4" cy="813.8" rx="3.1" ry="2.4" transform="rotate(70 300.4 813.8)" fill="#0c0cb0"/><ellipse cx="232.6" cy="855.4" rx="2.8" ry="2.4" transform="rotate(97 232.6 855.4)" fill="#1a1aff"/><ellipse cx="218.3" cy="769.2" rx="2.8" ry="1.9" transform="rotate(178 218.3 769.2)" fill="#1010c8"/><ellipse cx="289.8" cy="793.4" rx="3.5" ry="3.3" transform="rotate(109 289.8 793.4)" fill="#1a1aff"/><ellipse cx="343.0" cy="799.3" rx="3.0" ry="2.8" transform="rotate(97 343.0 799.3)" fill="#1a1aff"/><ellipse cx="230.6" cy="766.6" rx="2.5" ry="2.0" transform="rotate(29 230.6 766.6)" fill="#1010c8"/><ellipse cx="270.0" cy="775.0" rx="2.7" ry="1.8" transform="rotate(39 270.0 775.0)" fill="#0c0cb0"/><ellipse cx="202.6" cy="757.0" rx="2.9" ry="2.7" transform="rotate(14 202.6 757.0)" fill="#1010c8"/><ellipse cx="330.6" cy="870.8" rx="3.3" ry="3.0" transform="rotate(1 330.6 870.8)" fill="#2020e0"/><ellipse cx="242.3" cy="840.1" rx="3.2" ry="2.6" transform="rotate(161 242.3 840.1)" fill="#1a1aff"/><ellipse cx="319.2" cy="853.6" rx="2.7" ry="1.7" transform="rotate(3 319.2 853.6)" fill="#2a2af0"/><ellipse cx="319.0" cy="883.8" rx="2.4" ry="1.4" transform="rotate(51 319.0 883.8)" fill="#3030ff"/><ellipse cx="328.3" cy="792.1" rx="3.3" ry="2.0" transform="rotate(26 328.3 792.1)" fill="#2a2af0"/><ellipse cx="313.3" cy="814.2" rx="3.1" ry="1.9" transform="rotate(167 313.3 814.2)" fill="#0c0cb0"/><ellipse cx="310.5" cy="865.6" rx="3.0" ry="2.9" transform="rotate(146 310.5 865.6)" fill="#2a2af0"/><ellipse cx="311.9" cy="884.6" rx="2.3" ry="2.0" transform="rotate(83 311.9 884.6)" fill="#ff3070" opacity="0.9"/><ellipse cx="214.8" cy="770.3" rx="1.6" ry="1.1" transform="rotate(1 214.8 770.3)" fill="#e81848" opacity="0.9"/><ellipse cx="271.7" cy="760.1" rx="3.2" ry="2.5" transform="rotate(125 271.7 760.1)" fill="#ff5090" opacity="0.9"/><ellipse cx="301.5" cy="779.8" rx="2.6" ry="2.1" transform="rotate(146 301.5 779.8)" fill="#ff2050" opacity="0.9"/><ellipse cx="287.7" cy="870.2" rx="2.3" ry="1.9" transform="rotate(135 287.7 870.2)" fill="#ff3070" opacity="0.9"/><ellipse cx="300.4" cy="874.0" rx="2.2" ry="1.6" transform="rotate(106 300.4 874.0)" fill="#ff3070" opacity="0.9"/><ellipse cx="255.7" cy="775.0" rx="1.5" ry="0.9" transform="rotate(91 255.7 775.0)" fill="#ff5090" opacity="0.9"/><ellipse cx="256.2" cy="772.3" rx="1.9" ry="1.3" transform="rotate(27 256.2 772.3)" fill="#ff5090" opacity="0.9"/><ellipse cx="274.9" cy="757.9" rx="2.1" ry="1.5" transform="rotate(179 274.9 757.9)" fill="#ff3070" opacity="0.9"/><ellipse cx="266.6" cy="756.9" rx="3.1" ry="2.2" transform="rotate(59 266.6 756.9)" fill="#ff3070" opacity="0.9"/><ellipse cx="245.0" cy="749.7" rx="2.9" ry="1.8" transform="rotate(58 245.0 749.7)" fill="#e81848" opacity="0.9"/><ellipse cx="264.9" cy="771.5" rx="2.3" ry="2.0" transform="rotate(137 264.9 771.5)" fill="#ff5090" opacity="0.9"/><ellipse cx="222.9" cy="796.3" rx="1.5" ry="1.0" transform="rotate(20 222.9 796.3)" fill="#e81848" opacity="0.9"/><ellipse cx="292.9" cy="769.2" rx="3.2" ry="2.1" transform="rotate(96 292.9 769.2)" fill="#ff2050" opacity="0.9"/><ellipse cx="286.5" cy="772.5" rx="2.5" ry="1.6" transform="rotate(179 286.5 772.5)" fill="#e81848" opacity="0.9"/><ellipse cx="242.8" cy="788.3" rx="1.5" ry="1.2" transform="rotate(49 242.8 788.3)" fill="#ff5090" opacity="0.9"/><ellipse cx="313.1" cy="841.0" rx="1.6" ry="1.2" transform="rotate(84 313.1 841.0)" fill="#ff2050" opacity="0.9"/><ellipse cx="232.1" cy="765.1" rx="1.9" ry="1.7" transform="rotate(23 232.1 765.1)" fill="#ff3070" opacity="0.9"/><ellipse cx="281.7" cy="766.5" rx="2.9" ry="2.2" transform="rotate(126 281.7 766.5)" fill="#ff3070" opacity="0.9"/><ellipse cx="278.1" cy="789.1" rx="3.2" ry="2.0" transform="rotate(6 278.1 789.1)" fill="#ff2050" opacity="0.9"/><ellipse cx="259.2" cy="754.7" rx="1.5" ry="0.9" transform="rotate(134 259.2 754.7)" fill="#ff2050" opacity="0.9"/><ellipse cx="221.6" cy="777.4" rx="2.6" ry="1.8" transform="rotate(105 221.6 777.4)" fill="#ff5090" opacity="0.9"/><ellipse cx="205.8" cy="863.6" rx="1.6" ry="1.1" transform="rotate(167 205.8 863.6)" fill="#ff5090" opacity="0.9"/><ellipse cx="254.2" cy="778.4" rx="1.5" ry="0.9" transform="rotate(114 254.2 778.4)" fill="#e81848" opacity="0.9"/><ellipse cx="324.3" cy="794.9" rx="1.6" ry="1.1" transform="rotate(46 324.3 794.9)" fill="#ff3070" opacity="0.9"/><ellipse cx="225.1" cy="774.0" rx="1.7" ry="1.5" transform="rotate(151 225.1 774.0)" fill="#ff3070" opacity="0.9"/><ellipse cx="215.4" cy="749.4" rx="1.7" ry="1.6" transform="rotate(159 215.4 749.4)" fill="#ff2050" opacity="0.9"/><ellipse cx="253.5" cy="798.6" rx="2.2" ry="1.5" transform="rotate(37 253.5 798.6)" fill="#ff5090" opacity="0.9"/><ellipse cx="220.2" cy="773.5" rx="3.1" ry="1.8" transform="rotate(124 220.2 773.5)" fill="#ff2050" opacity="0.9"/><ellipse cx="253.2" cy="766.5" rx="3.1" ry="2.0" transform="rotate(160 253.2 766.5)" fill="#ff5090" opacity="0.9"/><ellipse cx="237.0" cy="787.4" rx="2.3" ry="1.8" transform="rotate(53 237.0 787.4)" fill="#ff3070" opacity="0.9"/><ellipse cx="230.1" cy="776.9" rx="2.8" ry="1.6" transform="rotate(23 230.1 776.9)" fill="#ff2050" opacity="0.9"/><ellipse cx="242.9" cy="778.2" rx="1.9" ry="1.5" transform="rotate(19 242.9 778.2)" fill="#ff5090" opacity="0.9"/><ellipse cx="252.3" cy="784.7" rx="2.0" ry="1.5" transform="rotate(58 252.3 784.7)" fill="#ff2050" opacity="0.9"/><ellipse cx="299.8" cy="814.9" rx="2.8" ry="1.7" transform="rotate(43 299.8 814.9)" fill="#ff2050" opacity="0.9"/><ellipse cx="289.0" cy="755.3" rx="1.9" ry="1.6" transform="rotate(71 289.0 755.3)" fill="#ff2050" opacity="0.9"/><ellipse cx="300.3" cy="808.4" rx="2.3" ry="2.1" transform="rotate(128 300.3 808.4)" fill="#ff5090" opacity="0.9"/><ellipse cx="307.8" cy="761.2" rx="3.0" ry="2.0" transform="rotate(86 307.8 761.2)" fill="#ff2050" opacity="0.9"/><ellipse cx="264.3" cy="810.6" rx="2.1" ry="1.8" transform="rotate(12 264.3 810.6)" fill="#ff2050" opacity="0.9"/><ellipse cx="285.1" cy="767.2" rx="2.6" ry="2.0" transform="rotate(173 285.1 767.2)" fill="#ff3070" opacity="0.9"/><ellipse cx="326.2" cy="781.3" rx="2.5" ry="1.4" transform="rotate(86 326.2 781.3)" fill="#e81848" opacity="0.9"/><ellipse cx="220.8" cy="871.7" rx="2.8" ry="2.6" transform="rotate(102 220.8 871.7)" fill="#ff2050" opacity="0.9"/><ellipse cx="320.2" cy="800.5" rx="1.9" ry="1.3" transform="rotate(139 320.2 800.5)" fill="#ff2050" opacity="0.9"/><ellipse cx="251.8" cy="776.6" rx="3.0" ry="2.6" transform="rotate(106 251.8 776.6)" fill="#ff5090" opacity="0.9"/><ellipse cx="225.3" cy="768.6" rx="1.9" ry="1.8" transform="rotate(141 225.3 768.6)" fill="#e81848" opacity="0.9"/><ellipse cx="265.4" cy="774.2" rx="2.6" ry="1.5" transform="rotate(74 265.4 774.2)" fill="#e81848" opacity="0.9"/><ellipse cx="223.5" cy="771.3" rx="2.1" ry="1.4" transform="rotate(39 223.5 771.3)" fill="#ff2050" opacity="0.9"/><ellipse cx="323.1" cy="763.7" rx="2.7" ry="2.2" transform="rotate(158 323.1 763.7)" fill="#ff5090" opacity="0.9"/><ellipse cx="297.2" cy="782.1" rx="2.9" ry="1.8" transform="rotate(111 297.2 782.1)" fill="#e81848" opacity="0.9"/><ellipse cx="239.8" cy="757.5" rx="1.9" ry="1.2" transform="rotate(125 239.8 757.5)" fill="#ff5090" opacity="0.9"/><ellipse cx="257.5" cy="768.3" rx="2.6" ry="2.1" transform="rotate(176 257.5 768.3)" fill="#ff2050" opacity="0.9"/><ellipse cx="329.1" cy="784.5" rx="2.1" ry="1.9" transform="rotate(58 329.1 784.5)" fill="#ff3070" opacity="0.9"/><ellipse cx="242.2" cy="777.4" rx="1.9" ry="1.5" transform="rotate(69 242.2 777.4)" fill="#ff3070" opacity="0.9"/><ellipse cx="284.9" cy="858.1" rx="1.8" ry="1.5" transform="rotate(40 284.9 858.1)" fill="#ff5090" opacity="0.9"/><ellipse cx="271.9" cy="765.5" rx="2.5" ry="2.1" transform="rotate(75 271.9 765.5)" fill="#ff2050" opacity="0.9"/><ellipse cx="295.5" cy="777.8" rx="2.7" ry="1.7" transform="rotate(153 295.5 777.8)" fill="#e81848" opacity="0.9"/><ellipse cx="290.6" cy="764.7" rx="3.2" ry="2.0" transform="rotate(20 290.6 764.7)" fill="#ff2050" opacity="0.9"/><ellipse cx="270.7" cy="775.6" rx="1.9" ry="1.1" transform="rotate(155 270.7 775.6)" fill="#e81848" opacity="0.9"/><ellipse cx="294.9" cy="854.7" rx="1.6" ry="1.3" transform="rotate(151 294.9 854.7)" fill="#ff2050" opacity="0.9"/><ellipse cx="341.3" cy="778.3" rx="1.9" ry="1.2" transform="rotate(137 341.3 778.3)" fill="#e81848" opacity="0.9"/><ellipse cx="326.4" cy="824.2" rx="2.0" ry="1.3" transform="rotate(24 326.4 824.2)" fill="#e4eaff"/><ellipse cx="322.1" cy="819.1" rx="2.7" ry="2.0" transform="rotate(43 322.1 819.1)" fill="#ffffff"/><ellipse cx="245.6" cy="864.4" rx="1.9" ry="1.5" transform="rotate(105 245.6 864.4)" fill="#f4f4ff"/><ellipse cx="239.4" cy="879.0" rx="2.4" ry="1.9" transform="rotate(154 239.4 879.0)" fill="#f4f4ff"/><ellipse cx="285.4" cy="831.7" rx="2.5" ry="1.4" transform="rotate(42 285.4 831.7)" fill="#e4eaff"/><ellipse cx="336.1" cy="854.5" rx="1.4" ry="1.0" transform="rotate(167 336.1 854.5)" fill="#ffffff"/><ellipse cx="309.9" cy="798.1" rx="2.4" ry="2.2" transform="rotate(62 309.9 798.1)" fill="#ffffff"/><ellipse cx="242.7" cy="859.1" rx="2.1" ry="1.7" transform="rotate(120 242.7 859.1)" fill="#f4f4ff"/><ellipse cx="324.9" cy="875.7" rx="2.4" ry="1.6" transform="rotate(136 324.9 875.7)" fill="#f4f4ff"/><ellipse cx="293.9" cy="850.6" rx="2.7" ry="2.1" transform="rotate(113 293.9 850.6)" fill="#f4f4ff"/><ellipse cx="248.4" cy="875.0" rx="3.0" ry="2.1" transform="rotate(89 248.4 875.0)" fill="#ffffff"/><ellipse cx="278.1" cy="815.0" rx="2.6" ry="2.2" transform="rotate(154 278.1 815.0)" fill="#ffffff"/><ellipse cx="306.3" cy="806.1" rx="2.9" ry="2.6" transform="rotate(166 306.3 806.1)" fill="#e4eaff"/><ellipse cx="312.4" cy="849.9" rx="1.6" ry="1.3" transform="rotate(129 312.4 849.9)" fill="#e4eaff"/><ellipse cx="333.3" cy="856.1" rx="1.7" ry="1.3" transform="rotate(34 333.3 856.1)" fill="#e4eaff"/><ellipse cx="329.0" cy="872.6" rx="1.6" ry="1.4" transform="rotate(93 329.0 872.6)" fill="#f4f4ff"/><ellipse cx="339.6" cy="807.7" rx="1.8" ry="1.3" transform="rotate(114 339.6 807.7)" fill="#ffffff"/><ellipse cx="230.8" cy="846.5" rx="1.4" ry="1.1" transform="rotate(69 230.8 846.5)" fill="#e4eaff"/><ellipse cx="342.5" cy="821.0" rx="1.8" ry="1.4" transform="rotate(20 342.5 821.0)" fill="#e4eaff"/><ellipse cx="237.8" cy="884.2" rx="2.8" ry="1.7" transform="rotate(136 237.8 884.2)" fill="#e4eaff"/><ellipse cx="292.1" cy="878.7" rx="1.5" ry="1.1" transform="rotate(109 292.1 878.7)" fill="#f4f4ff"/><ellipse cx="239.7" cy="859.9" rx="3.3" ry="2.4" transform="rotate(58 239.7 859.9)" fill="#e4eaff"/><ellipse cx="321.6" cy="849.0" rx="1.4" ry="0.9" transform="rotate(36 321.6 849.0)" fill="#ffffff"/><ellipse cx="267.3" cy="852.2" rx="1.7" ry="1.3" transform="rotate(24 267.3 852.2)" fill="#f4f4ff"/><ellipse cx="248.2" cy="855.4" rx="2.1" ry="1.2" transform="rotate(133 248.2 855.4)" fill="#f4f4ff"/><ellipse cx="253.2" cy="835.5" rx="1.7" ry="1.5" transform="rotate(87 253.2 835.5)" fill="#f4f4ff"/><ellipse cx="256.8" cy="821.0" rx="2.5" ry="2.3" transform="rotate(22 256.8 821.0)" fill="#f4f4ff"/><ellipse cx="290.4" cy="834.0" rx="2.5" ry="2.3" transform="rotate(88 290.4 834.0)" fill="#f4f4ff"/><ellipse cx="321.9" cy="857.4" rx="2.9" ry="2.6" transform="rotate(9 321.9 857.4)" fill="#e4eaff"/><ellipse cx="282.2" cy="806.5" rx="1.8" ry="1.4" transform="rotate(53 282.2 806.5)" fill="#f4f4ff"/><ellipse cx="289.8" cy="802.7" rx="2.1" ry="1.8" transform="rotate(142 289.8 802.7)" fill="#f4f4ff"/><ellipse cx="237.7" cy="833.0" rx="2.8" ry="2.4" transform="rotate(160 237.7 833.0)" fill="#e4eaff"/><ellipse cx="272.3" cy="830.3" rx="2.2" ry="1.3" transform="rotate(159 272.3 830.3)" fill="#e4eaff"/><ellipse cx="240.7" cy="858.5" rx="2.0" ry="1.8" transform="rotate(87 240.7 858.5)" fill="#ffffff"/><ellipse cx="234.4" cy="871.0" rx="2.7" ry="1.7" transform="rotate(63 234.4 871.0)" fill="#e4eaff"/><ellipse cx="276.5" cy="869.9" rx="3.0" ry="2.3" transform="rotate(178 276.5 869.9)" fill="#ffffff"/><ellipse cx="299.7" cy="833.2" rx="3.3" ry="2.2" transform="rotate(140 299.7 833.2)" fill="#f4f4ff"/><ellipse cx="294.5" cy="830.9" rx="2.4" ry="1.9" transform="rotate(80 294.5 830.9)" fill="#e4eaff"/><ellipse cx="254.2" cy="866.0" rx="1.5" ry="1.3" transform="rotate(121 254.2 866.0)" fill="#e4eaff"/><ellipse cx="300.6" cy="816.0" rx="3.0" ry="1.7" transform="rotate(96 300.6 816.0)" fill="#f4f4ff"/><ellipse cx="234.2" cy="854.3" rx="1.5" ry="1.3" transform="rotate(31 234.2 854.3)" fill="#f4f4ff"/><ellipse cx="212.0" cy="842.7" rx="3.3" ry="2.0" transform="rotate(121 212.0 842.7)" fill="#ffffff"/><ellipse cx="225.1" cy="848.6" rx="1.4" ry="1.1" transform="rotate(138 225.1 848.6)" fill="#ffffff"/><ellipse cx="303.6" cy="843.9" rx="3.2" ry="2.7" transform="rotate(91 303.6 843.9)" fill="#e4eaff"/><ellipse cx="298.9" cy="876.3" rx="3.0" ry="1.9" transform="rotate(22 298.9 876.3)" fill="#ffffff"/><ellipse cx="274.1" cy="815.8" rx="2.9" ry="2.1" transform="rotate(170 274.1 815.8)" fill="#e4eaff"/><ellipse cx="287.3" cy="859.2" rx="1.7" ry="1.3" transform="rotate(176 287.3 859.2)" fill="#ffffff"/><ellipse cx="260.1" cy="850.8" rx="2.9" ry="2.6" transform="rotate(34 260.1 850.8)" fill="#e4eaff"/><ellipse cx="251.8" cy="883.4" rx="1.6" ry="1.1" transform="rotate(104 251.8 883.4)" fill="#e4eaff"/><ellipse cx="266.2" cy="859.7" rx="3.2" ry="2.3" transform="rotate(71 266.2 859.7)" fill="#e4eaff"/><ellipse cx="284.8" cy="867.0" rx="2.4" ry="2.1" transform="rotate(78 284.8 867.0)" fill="#ffffff"/><ellipse cx="272.6" cy="828.4" rx="1.4" ry="1.2" transform="rotate(25 272.6 828.4)" fill="#ffffff"/><ellipse cx="319.2" cy="880.4" rx="1.8" ry="1.4" transform="rotate(141 319.2 880.4)" fill="#f4f4ff"/><ellipse cx="219.4" cy="874.2" rx="2.9" ry="1.6" transform="rotate(52 219.4 874.2)" fill="#e4eaff"/><ellipse cx="274.5" cy="870.2" rx="2.4" ry="1.8" transform="rotate(91 274.5 870.2)" fill="#ffffff"/><ellipse cx="269.7" cy="795.8" rx="2.7" ry="2.1" transform="rotate(54 269.7 795.8)" fill="#e4eaff"/><ellipse cx="273.2" cy="794.4" rx="1.7" ry="1.5" transform="rotate(124 273.2 794.4)" fill="#e4eaff"/><ellipse cx="258.3" cy="807.1" rx="2.4" ry="1.6" transform="rotate(134 258.3 807.1)" fill="#ffffff"/><ellipse cx="231.4" cy="876.7" rx="1.5" ry="0.9" transform="rotate(135 231.4 876.7)" fill="#ffffff"/><ellipse cx="257.5" cy="841.6" rx="3.2" ry="1.8" transform="rotate(152 257.5 841.6)" fill="#f4f4ff"/><ellipse cx="258.6" cy="867.9" rx="2.2" ry="1.3" transform="rotate(159 258.6 867.9)" fill="#e4eaff"/><ellipse cx="316.1" cy="851.4" rx="1.3" ry="1.2" transform="rotate(130 316.1 851.4)" fill="#e4eaff"/><ellipse cx="244.5" cy="821.9" rx="3.4" ry="1.9" transform="rotate(68 244.5 821.9)" fill="#f4f4ff"/><ellipse cx="322.0" cy="884.9" rx="2.4" ry="2.1" transform="rotate(102 322.0 884.9)" fill="#f4f4ff"/><ellipse cx="333.6" cy="802.5" rx="2.9" ry="2.5" transform="rotate(29 333.6 802.5)" fill="#f4f4ff"/><ellipse cx="263.1" cy="832.0" rx="2.7" ry="1.9" transform="rotate(49 263.1 832.0)" fill="#e4eaff"/><ellipse cx="253.3" cy="861.2" rx="1.5" ry="0.9" transform="rotate(42 253.3 861.2)" fill="#e4eaff"/><ellipse cx="230.5" cy="820.0" rx="1.4" ry="1.1" transform="rotate(127 230.5 820.0)" fill="#ffffff"/><ellipse cx="300.4" cy="878.5" rx="3.0" ry="1.9" transform="rotate(33 300.4 878.5)" fill="#e4eaff"/><ellipse cx="320.2" cy="875.8" rx="1.9" ry="1.4" transform="rotate(114 320.2 875.8)" fill="#ffffff"/><ellipse cx="235.6" cy="853.9" rx="1.3" ry="1.2" transform="rotate(149 235.6 853.9)" fill="#20b0c0" opacity="0.85"/><ellipse cx="216.2" cy="825.2" rx="1.3" ry="0.9" transform="rotate(128 216.2 825.2)" fill="#20b0c0" opacity="0.85"/><ellipse cx="278.8" cy="817.2" rx="1.9" ry="1.2" transform="rotate(163 278.8 817.2)" fill="#20b0c0" opacity="0.85"/><ellipse cx="262.6" cy="849.3" rx="2.0" ry="1.1" transform="rotate(41 262.6 849.3)" fill="#20b0c0" opacity="0.85"/><ellipse cx="269.5" cy="815.4" rx="1.9" ry="1.7" transform="rotate(38 269.5 815.4)" fill="#40e0d0" opacity="0.85"/><ellipse cx="306.4" cy="804.1" rx="1.6" ry="1.0" transform="rotate(73 306.4 804.1)" fill="#40e0d0" opacity="0.85"/><ellipse cx="242.0" cy="859.2" rx="1.8" ry="1.1" transform="rotate(23 242.0 859.2)" fill="#20b0c0" opacity="0.85"/><ellipse cx="329.6" cy="849.8" rx="1.9" ry="1.8" transform="rotate(126 329.6 849.8)" fill="#30d0e0" opacity="0.85"/><ellipse cx="329.9" cy="864.5" rx="1.7" ry="1.4" transform="rotate(102 329.9 864.5)" fill="#40e0d0" opacity="0.85"/><ellipse cx="324.8" cy="843.0" rx="1.4" ry="0.8" transform="rotate(13 324.8 843.0)" fill="#20b0c0" opacity="0.85"/><ellipse cx="332.0" cy="824.0" rx="1.7" ry="1.0" transform="rotate(27 332.0 824.0)" fill="#20b0c0" opacity="0.85"/><ellipse cx="233.1" cy="816.2" rx="1.6" ry="0.9" transform="rotate(115 233.1 816.2)" fill="#40e0d0" opacity="0.85"/><ellipse cx="272.8" cy="807.3" rx="1.0" ry="0.7" transform="rotate(97 272.8 807.3)" fill="#20b0c0" opacity="0.85"/><ellipse cx="278.9" cy="874.1" rx="1.4" ry="1.2" transform="rotate(137 278.9 874.1)" fill="#40e0d0" opacity="0.85"/><ellipse cx="319.2" cy="860.1" rx="1.3" ry="1.0" transform="rotate(36 319.2 860.1)" fill="#30d0e0" opacity="0.85"/><ellipse cx="335.3" cy="828.4" rx="1.7" ry="1.4" transform="rotate(47 335.3 828.4)" fill="#40e0d0" opacity="0.85"/><ellipse cx="264.9" cy="836.8" rx="1.4" ry="1.0" transform="rotate(47 264.9 836.8)" fill="#30d0e0" opacity="0.85"/><ellipse cx="247.9" cy="873.7" rx="1.7" ry="1.4" transform="rotate(98 247.9 873.7)" fill="#30d0e0" opacity="0.85"/><ellipse cx="216.4" cy="860.5" rx="1.6" ry="1.1" transform="rotate(14 216.4 860.5)" fill="#40e0d0" opacity="0.85"/><ellipse cx="247.9" cy="811.3" rx="1.1" ry="0.9" transform="rotate(159 247.9 811.3)" fill="#30d0e0" opacity="0.85"/><ellipse cx="256.6" cy="836.6" rx="1.3" ry="1.1" transform="rotate(153 256.6 836.6)" fill="#40e0d0" opacity="0.85"/><ellipse cx="223.0" cy="858.2" rx="1.2" ry="0.7" transform="rotate(140 223.0 858.2)" fill="#40e0d0" opacity="0.85"/><ellipse cx="251.8" cy="821.4" rx="1.2" ry="1.0" transform="rotate(103 251.8 821.4)" fill="#20b0c0" opacity="0.85"/><ellipse cx="233.2" cy="862.7" rx="1.4" ry="0.9" transform="rotate(178 233.2 862.7)" fill="#20b0c0" opacity="0.85"/><ellipse cx="248.8" cy="826.2" rx="1.2" ry="0.8" transform="rotate(111 248.8 826.2)" fill="#20b0c0" opacity="0.85"/><ellipse cx="306.4" cy="818.8" rx="1.3" ry="0.8" transform="rotate(154 306.4 818.8)" fill="#40e0d0" opacity="0.85"/><ellipse cx="293.1" cy="806.3" rx="1.2" ry="0.7" transform="rotate(41 293.1 806.3)" fill="#20b0c0" opacity="0.85"/><ellipse cx="308.5" cy="842.9" rx="1.1" ry="0.8" transform="rotate(168 308.5 842.9)" fill="#40e0d0" opacity="0.85"/><ellipse cx="203.1" cy="837.2" rx="1.2" ry="1.0" transform="rotate(86 203.1 837.2)" fill="#40e0d0" opacity="0.85"/><ellipse cx="224.7" cy="811.1" rx="1.6" ry="1.1" transform="rotate(45 224.7 811.1)" fill="#30d0e0" opacity="0.85"/><ellipse cx="307.9" cy="881.7" rx="1.8" ry="1.1" transform="rotate(141 307.9 881.7)" fill="#30d0e0" opacity="0.85"/><ellipse cx="244.3" cy="859.6" rx="1.6" ry="1.5" transform="rotate(70 244.3 859.6)" fill="#40e0d0" opacity="0.85"/><ellipse cx="261.2" cy="855.9" rx="1.4" ry="1.2" transform="rotate(6 261.2 855.9)" fill="#40e0d0" opacity="0.85"/><ellipse cx="275.3" cy="845.3" rx="1.6" ry="1.0" transform="rotate(64 275.3 845.3)" fill="#20b0c0" opacity="0.85"/><ellipse cx="311.0" cy="841.4" rx="1.5" ry="1.3" transform="rotate(61 311.0 841.4)" fill="#20b0c0" opacity="0.85"/><ellipse cx="313.0" cy="861.6" rx="1.7" ry="1.1" transform="rotate(154 313.0 861.6)" fill="#20b0c0" opacity="0.85"/><ellipse cx="310.5" cy="834.5" rx="1.7" ry="1.5" transform="rotate(99 310.5 834.5)" fill="#40e0d0" opacity="0.85"/><ellipse cx="242.4" cy="801.5" rx="1.6" ry="1.5" transform="rotate(78 242.4 801.5)" fill="#30d0e0" opacity="0.85"/><ellipse cx="249.8" cy="809.8" rx="1.4" ry="0.9" transform="rotate(133 249.8 809.8)" fill="#20b0c0" opacity="0.85"/><ellipse cx="233.8" cy="813.2" rx="1.6" ry="1.0" transform="rotate(44 233.8 813.2)" fill="#30d0e0" opacity="0.85"/><ellipse cx="204.8" cy="865.0" rx="1.9" ry="1.2" transform="rotate(49 204.8 865.0)" fill="#20b0c0" opacity="0.85"/><ellipse cx="226.6" cy="858.1" rx="1.9" ry="1.5" transform="rotate(26 226.6 858.1)" fill="#20b0c0" opacity="0.85"/><ellipse cx="215.5" cy="821.7" rx="1.4" ry="1.2" transform="rotate(162 215.5 821.7)" fill="#30d0e0" opacity="0.85"/><ellipse cx="250.4" cy="845.5" rx="1.3" ry="0.7" transform="rotate(58 250.4 845.5)" fill="#20b0c0" opacity="0.85"/><ellipse cx="288.3" cy="804.9" rx="1.8" ry="1.6" transform="rotate(151 288.3 804.9)" fill="#30d0e0" opacity="0.85"/><ellipse cx="342.0" cy="830.7" rx="1.3" ry="1.0" transform="rotate(40 342.0 830.7)" fill="#30d0e0" opacity="0.85"/><ellipse cx="292.4" cy="862.2" rx="1.2" ry="0.7" transform="rotate(108 292.4 862.2)" fill="#40e0d0" opacity="0.85"/><ellipse cx="204.0" cy="862.8" rx="1.4" ry="1.3" transform="rotate(144 204.0 862.8)" fill="#20b0c0" opacity="0.85"/><ellipse cx="217.5" cy="840.3" rx="1.3" ry="1.2" transform="rotate(176 217.5 840.3)" fill="#30d0e0" opacity="0.85"/><ellipse cx="227.8" cy="827.2" rx="1.4" ry="1.1" transform="rotate(99 227.8 827.2)" fill="#20b0c0" opacity="0.85"/><ellipse cx="289.1" cy="806.7" rx="1.3" ry="0.9" transform="rotate(175 289.1 806.7)" fill="#40e0d0" opacity="0.85"/><ellipse cx="310.0" cy="813.9" rx="1.2" ry="1.1" transform="rotate(168 310.0 813.9)" fill="#40e0d0" opacity="0.85"/><ellipse cx="259.0" cy="873.2" rx="2.0" ry="1.6" transform="rotate(106 259.0 873.2)" fill="#40e0d0" opacity="0.85"/><ellipse cx="317.0" cy="814.9" rx="1.6" ry="1.0" transform="rotate(122 317.0 814.9)" fill="#20b0c0" opacity="0.85"/><ellipse cx="259.2" cy="848.0" rx="1.9" ry="1.7" transform="rotate(119 259.2 848.0)" fill="#40e0d0" opacity="0.85"/><ellipse cx="321.0" cy="857.9" rx="1.6" ry="1.1" transform="rotate(130 321.0 857.9)" fill="#30d0e0" opacity="0.85"/><ellipse cx="314.6" cy="800.3" rx="1.7" ry="1.0" transform="rotate(4 314.6 800.3)" fill="#20b0c0" opacity="0.85"/><ellipse cx="258.6" cy="817.0" rx="1.9" ry="1.7" transform="rotate(71 258.6 817.0)" fill="#40e0d0" opacity="0.85"/><ellipse cx="330.6" cy="832.3" rx="1.8" ry="1.3" transform="rotate(145 330.6 832.3)" fill="#40e0d0" opacity="0.85"/><ellipse cx="227.9" cy="818.5" rx="1.8" ry="1.7" transform="rotate(94 227.9 818.5)" fill="#30d0e0" opacity="0.85"/></g><path d="M271,748 C290,752 312,756 341,768" fill="none" stroke="#c8c8c8" stroke-width="1.6" opacity="0.8"/><path d="M204.1,813.4 C207.25,811.28 215.28,804.38 223,800.7 C230.72,797.02 241.63,792.8 250.4,791.3 C259.17,789.8 266.13,790.83 275.6,791.7 C285.07,792.57 296.5,794.82 307.2,796.5 C317.9,798.18 333.67,800.88 339.8,801.8 C345.93,802.72 343.3,801.97 344,802" fill="none" stroke="#f4f4f4" stroke-width="1.6" stroke-dasharray="3.4 2.2"/></g>
<rect x="376.7" y="748.5" width="136.6" height="136.5" fill="#000"/><clipPath id="cf3"><rect x="376.7" y="748.5" width="136.6" height="136.5"/></clipPath><g clip-path="url(#cf3)"><g filter="url(#fb)"><ellipse cx="383.6" cy="782.1" rx="3.2" ry="2.6" transform="rotate(7 383.6 782.1)" fill="#0c0cb0"/><ellipse cx="430.0" cy="875.7" rx="1.9" ry="1.6" transform="rotate(14 430.0 875.7)" fill="#1010c8"/><ellipse cx="486.6" cy="773.9" rx="2.4" ry="1.4" transform="rotate(47 486.6 773.9)" fill="#0c0cb0"/><ellipse cx="399.7" cy="791.1" rx="3.0" ry="2.5" transform="rotate(49 399.7 791.1)" fill="#1010c8"/><ellipse cx="482.3" cy="765.6" rx="2.6" ry="2.0" transform="rotate(24 482.3 765.6)" fill="#1818d8"/><ellipse cx="465.3" cy="834.1" rx="3.2" ry="1.9" transform="rotate(25 465.3 834.1)" fill="#1818d8"/><ellipse cx="420.2" cy="787.4" rx="3.2" ry="3.0" transform="rotate(115 420.2 787.4)" fill="#3030ff"/><ellipse cx="458.0" cy="885.0" rx="3.2" ry="2.8" transform="rotate(139 458.0 885.0)" fill="#1818d8"/><ellipse cx="404.2" cy="780.8" rx="2.4" ry="1.9" transform="rotate(75 404.2 780.8)" fill="#1818d8"/><ellipse cx="449.3" cy="786.3" rx="2.4" ry="1.3" transform="rotate(144 449.3 786.3)" fill="#0c0cb0"/><ellipse cx="401.4" cy="788.2" rx="1.9" ry="1.3" transform="rotate(62 401.4 788.2)" fill="#3030ff"/><ellipse cx="420.9" cy="883.8" rx="1.9" ry="1.6" transform="rotate(85 420.9 883.8)" fill="#1010c8"/><ellipse cx="484.8" cy="784.1" rx="2.3" ry="1.7" transform="rotate(178 484.8 784.1)" fill="#3030ff"/><ellipse cx="476.8" cy="824.0" rx="2.3" ry="2.0" transform="rotate(114 476.8 824.0)" fill="#2020e0"/><ellipse cx="426.5" cy="783.9" rx="2.9" ry="2.4" transform="rotate(101 426.5 783.9)" fill="#2a2af0"/><ellipse cx="397.1" cy="778.0" rx="2.2" ry="1.3" transform="rotate(146 397.1 778.0)" fill="#2a2af0"/><ellipse cx="473.2" cy="770.1" rx="2.9" ry="2.6" transform="rotate(89 473.2 770.1)" fill="#1010c8"/><ellipse cx="503.0" cy="811.1" rx="3.4" ry="2.2" transform="rotate(67 503.0 811.1)" fill="#3030ff"/><ellipse cx="410.1" cy="871.5" rx="2.1" ry="2.0" transform="rotate(20 410.1 871.5)" fill="#1818d8"/><ellipse cx="466.8" cy="770.6" rx="2.5" ry="2.4" transform="rotate(128 466.8 770.6)" fill="#2020e0"/><ellipse cx="403.8" cy="777.3" rx="2.5" ry="2.3" transform="rotate(178 403.8 777.3)" fill="#1010c8"/><ellipse cx="431.9" cy="826.7" rx="2.1" ry="1.3" transform="rotate(64 431.9 826.7)" fill="#1a1aff"/><ellipse cx="385.3" cy="792.3" rx="2.8" ry="1.9" transform="rotate(68 385.3 792.3)" fill="#3030ff"/><ellipse cx="512.5" cy="776.4" rx="2.9" ry="2.0" transform="rotate(16 512.5 776.4)" fill="#1010c8"/><ellipse cx="412.9" cy="872.0" rx="2.2" ry="1.5" transform="rotate(11 412.9 872.0)" fill="#1a1aff"/><ellipse cx="380.2" cy="817.0" rx="2.8" ry="2.3" transform="rotate(67 380.2 817.0)" fill="#1010c8"/><ellipse cx="489.9" cy="875.8" rx="3.2" ry="2.9" transform="rotate(71 489.9 875.8)" fill="#3030ff"/><ellipse cx="475.4" cy="851.5" rx="2.4" ry="1.5" transform="rotate(124 475.4 851.5)" fill="#2a2af0"/><ellipse cx="377.4" cy="800.3" rx="2.7" ry="1.7" transform="rotate(157 377.4 800.3)" fill="#1a1aff"/><ellipse cx="404.4" cy="782.1" rx="2.7" ry="2.5" transform="rotate(32 404.4 782.1)" fill="#1a1aff"/><ellipse cx="418.9" cy="846.7" rx="2.4" ry="1.7" transform="rotate(120 418.9 846.7)" fill="#2a2af0"/><ellipse cx="415.2" cy="813.6" rx="3.3" ry="2.2" transform="rotate(48 415.2 813.6)" fill="#0c0cb0"/><ellipse cx="512.4" cy="868.1" rx="2.5" ry="2.1" transform="rotate(79 512.4 868.1)" fill="#0c0cb0"/><ellipse cx="476.9" cy="826.7" rx="2.0" ry="1.3" transform="rotate(93 476.9 826.7)" fill="#1818d8"/><ellipse cx="447.6" cy="819.2" rx="2.9" ry="2.4" transform="rotate(90 447.6 819.2)" fill="#2020e0"/><ellipse cx="491.0" cy="813.1" rx="3.3" ry="3.1" transform="rotate(51 491.0 813.1)" fill="#2a2af0"/><ellipse cx="511.1" cy="769.4" rx="2.0" ry="1.8" transform="rotate(105 511.1 769.4)" fill="#1818d8"/><ellipse cx="397.0" cy="876.0" rx="2.5" ry="2.1" transform="rotate(116 397.0 876.0)" fill="#2a2af0"/><ellipse cx="503.2" cy="821.6" rx="2.7" ry="2.0" transform="rotate(82 503.2 821.6)" fill="#2020e0"/><ellipse cx="476.4" cy="761.8" rx="2.9" ry="2.1" transform="rotate(19 476.4 761.8)" fill="#3030ff"/><ellipse cx="398.5" cy="781.8" rx="2.4" ry="1.9" transform="rotate(17 398.5 781.8)" fill="#3030ff"/><ellipse cx="497.0" cy="766.3" rx="2.0" ry="1.1" transform="rotate(136 497.0 766.3)" fill="#1010c8"/><ellipse cx="501.7" cy="803.6" rx="2.6" ry="2.4" transform="rotate(145 501.7 803.6)" fill="#2020e0"/><ellipse cx="397.5" cy="778.6" rx="3.2" ry="2.6" transform="rotate(143 397.5 778.6)" fill="#3030ff"/><ellipse cx="392.9" cy="791.6" rx="2.0" ry="1.2" transform="rotate(53 392.9 791.6)" fill="#0c0cb0"/><ellipse cx="382.3" cy="810.1" rx="2.8" ry="1.7" transform="rotate(109 382.3 810.1)" fill="#2a2af0"/><ellipse cx="497.6" cy="767.5" rx="2.1" ry="1.5" transform="rotate(44 497.6 767.5)" fill="#2020e0"/><ellipse cx="406.9" cy="857.3" rx="2.6" ry="1.5" transform="rotate(5 406.9 857.3)" fill="#1010c8"/><ellipse cx="444.6" cy="786.2" rx="2.0" ry="1.3" transform="rotate(166 444.6 786.2)" fill="#2020e0"/><ellipse cx="416.2" cy="775.8" rx="2.6" ry="1.9" transform="rotate(104 416.2 775.8)" fill="#2a2af0"/><ellipse cx="512.8" cy="813.0" rx="3.0" ry="1.9" transform="rotate(164 512.8 813.0)" fill="#1010c8"/><ellipse cx="389.1" cy="783.3" rx="3.1" ry="2.6" transform="rotate(9 389.1 783.3)" fill="#2a2af0"/><ellipse cx="385.5" cy="784.8" rx="2.8" ry="1.6" transform="rotate(61 385.5 784.8)" fill="#2020e0"/><ellipse cx="501.8" cy="775.2" rx="2.4" ry="1.7" transform="rotate(55 501.8 775.2)" fill="#2a2af0"/><ellipse cx="389.1" cy="790.1" rx="2.0" ry="1.3" transform="rotate(75 389.1 790.1)" fill="#2a2af0"/><ellipse cx="439.0" cy="873.1" rx="1.9" ry="1.2" transform="rotate(119 439.0 873.1)" fill="#2a2af0"/><ellipse cx="417.2" cy="787.2" rx="3.0" ry="2.5" transform="rotate(108 417.2 787.2)" fill="#1818d8"/><ellipse cx="489.2" cy="772.6" rx="2.7" ry="1.7" transform="rotate(154 489.2 772.6)" fill="#3030ff"/><ellipse cx="396.6" cy="837.6" rx="2.5" ry="1.7" transform="rotate(106 396.6 837.6)" fill="#1010c8"/><ellipse cx="430.2" cy="792.3" rx="3.3" ry="2.2" transform="rotate(126 430.2 792.3)" fill="#0c0cb0"/><ellipse cx="433.9" cy="858.7" rx="3.1" ry="2.8" transform="rotate(5 433.9 858.7)" fill="#2a2af0"/><ellipse cx="514.9" cy="874.1" rx="2.1" ry="1.9" transform="rotate(154 514.9 874.1)" fill="#0c0cb0"/><ellipse cx="390.9" cy="859.1" rx="2.5" ry="1.4" transform="rotate(176 390.9 859.1)" fill="#3030ff"/><ellipse cx="496.4" cy="769.1" rx="2.4" ry="2.0" transform="rotate(61 496.4 769.1)" fill="#1a1aff"/><ellipse cx="487.2" cy="790.2" rx="2.3" ry="2.0" transform="rotate(165 487.2 790.2)" fill="#3030ff"/><ellipse cx="432.8" cy="789.1" rx="3.0" ry="1.8" transform="rotate(71 432.8 789.1)" fill="#1010c8"/><ellipse cx="485.3" cy="826.4" rx="2.2" ry="1.8" transform="rotate(14 485.3 826.4)" fill="#3030ff"/><ellipse cx="478.8" cy="830.8" rx="2.3" ry="1.7" transform="rotate(12 478.8 830.8)" fill="#1818d8"/><ellipse cx="410.9" cy="781.6" rx="3.2" ry="2.9" transform="rotate(68 410.9 781.6)" fill="#0c0cb0"/><ellipse cx="483.5" cy="768.4" rx="2.4" ry="2.2" transform="rotate(108 483.5 768.4)" fill="#3030ff"/><ellipse cx="389.5" cy="791.2" rx="3.3" ry="2.3" transform="rotate(39 389.5 791.2)" fill="#2020e0"/><ellipse cx="404.4" cy="798.3" rx="2.1" ry="1.2" transform="rotate(82 404.4 798.3)" fill="#3030ff"/><ellipse cx="465.3" cy="760.2" rx="2.7" ry="2.0" transform="rotate(148 465.3 760.2)" fill="#3030ff"/><ellipse cx="439.7" cy="791.9" rx="3.4" ry="1.9" transform="rotate(156 439.7 791.9)" fill="#1a1aff"/><ellipse cx="469.9" cy="764.5" rx="2.2" ry="1.7" transform="rotate(159 469.9 764.5)" fill="#3030ff"/><ellipse cx="438.0" cy="790.9" rx="3.0" ry="2.2" transform="rotate(73 438.0 790.9)" fill="#3030ff"/><ellipse cx="382.2" cy="845.2" rx="2.4" ry="1.9" transform="rotate(36 382.2 845.2)" fill="#2020e0"/><ellipse cx="496.6" cy="775.0" rx="2.8" ry="1.7" transform="rotate(143 496.6 775.0)" fill="#1818d8"/><ellipse cx="415.6" cy="832.7" rx="2.6" ry="2.1" transform="rotate(146 415.6 832.7)" fill="#1a1aff"/><ellipse cx="507.7" cy="870.6" rx="2.1" ry="1.8" transform="rotate(34 507.7 870.6)" fill="#2020e0"/><ellipse cx="510.4" cy="792.4" rx="3.2" ry="2.3" transform="rotate(25 510.4 792.4)" fill="#1010c8"/><ellipse cx="499.8" cy="768.8" rx="2.4" ry="1.6" transform="rotate(24 499.8 768.8)" fill="#3030ff"/><ellipse cx="505.8" cy="884.2" rx="3.0" ry="2.5" transform="rotate(158 505.8 884.2)" fill="#1010c8"/><ellipse cx="479.1" cy="763.2" rx="2.7" ry="1.6" transform="rotate(83 479.1 763.2)" fill="#1010c8"/><ellipse cx="468.0" cy="881.1" rx="3.0" ry="1.7" transform="rotate(6 468.0 881.1)" fill="#2a2af0"/><ellipse cx="501.3" cy="815.7" rx="2.1" ry="2.0" transform="rotate(96 501.3 815.7)" fill="#2020e0"/><ellipse cx="425.0" cy="781.5" rx="2.6" ry="2.2" transform="rotate(23 425.0 781.5)" fill="#2020e0"/><ellipse cx="387.6" cy="788.2" rx="2.6" ry="1.9" transform="rotate(32 387.6 788.2)" fill="#0c0cb0"/><ellipse cx="463.6" cy="769.7" rx="3.4" ry="2.4" transform="rotate(154 463.6 769.7)" fill="#1a1aff"/><ellipse cx="495.6" cy="853.0" rx="1.9" ry="1.8" transform="rotate(135 495.6 853.0)" fill="#1010c8"/><ellipse cx="409.4" cy="789.8" rx="2.1" ry="1.8" transform="rotate(69 409.4 789.8)" fill="#1010c8"/><ellipse cx="440.4" cy="789.9" rx="2.4" ry="1.9" transform="rotate(110 440.4 789.9)" fill="#2020e0"/><ellipse cx="434.0" cy="788.2" rx="2.9" ry="1.8" transform="rotate(25 434.0 788.2)" fill="#2020e0"/><ellipse cx="478.8" cy="809.9" rx="3.3" ry="2.0" transform="rotate(78 478.8 809.9)" fill="#3030ff"/><ellipse cx="398.1" cy="809.7" rx="3.1" ry="2.3" transform="rotate(47 398.1 809.7)" fill="#1010c8"/><ellipse cx="393.4" cy="784.9" rx="3.0" ry="2.5" transform="rotate(39 393.4 784.9)" fill="#3030ff"/><ellipse cx="468.8" cy="769.6" rx="2.7" ry="2.5" transform="rotate(85 468.8 769.6)" fill="#1818d8"/><ellipse cx="476.7" cy="807.6" rx="2.3" ry="2.0" transform="rotate(178 476.7 807.6)" fill="#1010c8"/><ellipse cx="503.1" cy="770.5" rx="2.3" ry="1.7" transform="rotate(116 503.1 770.5)" fill="#3030ff"/><ellipse cx="503.3" cy="768.6" rx="2.4" ry="1.7" transform="rotate(66 503.3 768.6)" fill="#1818d8"/><ellipse cx="415.8" cy="868.8" rx="2.3" ry="1.3" transform="rotate(142 415.8 868.8)" fill="#3030ff"/><ellipse cx="379.6" cy="787.5" rx="2.7" ry="1.7" transform="rotate(117 379.6 787.5)" fill="#1010c8"/><ellipse cx="388.5" cy="776.9" rx="2.2" ry="1.5" transform="rotate(68 388.5 776.9)" fill="#0c0cb0"/><ellipse cx="423.8" cy="864.2" rx="2.3" ry="1.8" transform="rotate(21 423.8 864.2)" fill="#1a1aff"/><ellipse cx="374.8" cy="791.2" rx="2.8" ry="2.4" transform="rotate(107 374.8 791.2)" fill="#1818d8"/><ellipse cx="460.5" cy="776.1" rx="2.0" ry="1.6" transform="rotate(112 460.5 776.1)" fill="#1010c8"/><ellipse cx="446.2" cy="784.6" rx="3.0" ry="1.7" transform="rotate(11 446.2 784.6)" fill="#2020e0"/><ellipse cx="391.7" cy="777.1" rx="3.2" ry="1.9" transform="rotate(65 391.7 777.1)" fill="#1010c8"/><ellipse cx="494.4" cy="774.6" rx="2.6" ry="1.8" transform="rotate(88 494.4 774.6)" fill="#1010c8"/><ellipse cx="486.6" cy="767.3" rx="2.1" ry="1.9" transform="rotate(126 486.6 767.3)" fill="#1a1aff"/><ellipse cx="453.0" cy="777.7" rx="2.7" ry="2.1" transform="rotate(11 453.0 777.7)" fill="#1010c8"/><ellipse cx="476.3" cy="872.5" rx="2.5" ry="1.8" transform="rotate(122 476.3 872.5)" fill="#2a2af0"/><ellipse cx="412.2" cy="799.4" rx="2.3" ry="1.3" transform="rotate(157 412.2 799.4)" fill="#0c0cb0"/><ellipse cx="500.3" cy="773.7" rx="2.6" ry="1.8" transform="rotate(111 500.3 773.7)" fill="#1010c8"/><ellipse cx="402.5" cy="777.2" rx="2.7" ry="2.3" transform="rotate(124 402.5 777.2)" fill="#2a2af0"/><ellipse cx="456.2" cy="778.5" rx="2.4" ry="1.4" transform="rotate(42 456.2 778.5)" fill="#1a1aff"/><ellipse cx="393.9" cy="791.6" rx="2.2" ry="1.6" transform="rotate(8 393.9 791.6)" fill="#2020e0"/><ellipse cx="464.9" cy="844.8" rx="2.1" ry="1.4" transform="rotate(158 464.9 844.8)" fill="#1a1aff"/><ellipse cx="397.6" cy="875.2" rx="2.0" ry="1.8" transform="rotate(36 397.6 875.2)" fill="#2020e0"/><ellipse cx="420.1" cy="790.1" rx="3.1" ry="2.0" transform="rotate(37 420.1 790.1)" fill="#1818d8"/><ellipse cx="375.7" cy="785.3" rx="3.0" ry="2.3" transform="rotate(52 375.7 785.3)" fill="#0c0cb0"/><ellipse cx="496.9" cy="775.9" rx="2.6" ry="1.9" transform="rotate(53 496.9 775.9)" fill="#2a2af0"/><ellipse cx="472.6" cy="763.2" rx="2.1" ry="2.0" transform="rotate(2 472.6 763.2)" fill="#3030ff"/><ellipse cx="509.1" cy="766.7" rx="2.0" ry="1.2" transform="rotate(101 509.1 766.7)" fill="#0c0cb0"/><ellipse cx="456.7" cy="776.4" rx="2.2" ry="1.8" transform="rotate(105 456.7 776.4)" fill="#0c0cb0"/><ellipse cx="407.8" cy="839.8" rx="2.5" ry="1.6" transform="rotate(145 407.8 839.8)" fill="#2a2af0"/><ellipse cx="434.0" cy="793.7" rx="2.3" ry="1.9" transform="rotate(19 434.0 793.7)" fill="#2020e0"/><ellipse cx="483.5" cy="820.1" rx="3.1" ry="2.9" transform="rotate(119 483.5 820.1)" fill="#1010c8"/><ellipse cx="470.5" cy="870.0" rx="2.9" ry="2.3" transform="rotate(41 470.5 870.0)" fill="#2020e0"/><ellipse cx="411.4" cy="787.9" rx="2.5" ry="1.4" transform="rotate(109 411.4 787.9)" fill="#2020e0"/><ellipse cx="466.2" cy="770.8" rx="2.9" ry="1.8" transform="rotate(136 466.2 770.8)" fill="#3030ff"/><ellipse cx="485.4" cy="770.5" rx="3.0" ry="2.4" transform="rotate(145 485.4 770.5)" fill="#2a2af0"/><ellipse cx="445.6" cy="783.6" rx="2.5" ry="1.6" transform="rotate(4 445.6 783.6)" fill="#1a1aff"/><ellipse cx="392.9" cy="784.1" rx="3.0" ry="2.6" transform="rotate(126 392.9 784.1)" fill="#0c0cb0"/><ellipse cx="376.7" cy="805.7" rx="3.1" ry="2.9" transform="rotate(35 376.7 805.7)" fill="#2020e0"/><ellipse cx="405.1" cy="802.1" rx="3.2" ry="2.6" transform="rotate(18 405.1 802.1)" fill="#1a1aff"/><ellipse cx="389.9" cy="815.9" rx="2.7" ry="2.4" transform="rotate(114 389.9 815.9)" fill="#1818d8"/><ellipse cx="443.3" cy="783.6" rx="3.1" ry="2.5" transform="rotate(46 443.3 783.6)" fill="#2a2af0"/><ellipse cx="483.3" cy="763.6" rx="2.9" ry="1.6" transform="rotate(84 483.3 763.6)" fill="#2a2af0"/><ellipse cx="500.0" cy="768.5" rx="3.3" ry="2.1" transform="rotate(26 500.0 768.5)" fill="#1a1aff"/><ellipse cx="378.2" cy="796.1" rx="2.4" ry="1.4" transform="rotate(88 378.2 796.1)" fill="#1010c8"/><ellipse cx="470.6" cy="782.8" rx="2.2" ry="1.6" transform="rotate(13 470.6 782.8)" fill="#2020e0"/><ellipse cx="404.6" cy="786.8" rx="2.4" ry="2.1" transform="rotate(45 404.6 786.8)" fill="#0c0cb0"/><ellipse cx="449.0" cy="788.2" rx="2.7" ry="1.9" transform="rotate(67 449.0 788.2)" fill="#1818d8"/><ellipse cx="409.8" cy="787.0" rx="2.6" ry="2.2" transform="rotate(78 409.8 787.0)" fill="#1a1aff"/><ellipse cx="415.0" cy="786.3" rx="2.8" ry="2.6" transform="rotate(67 415.0 786.3)" fill="#3030ff"/><ellipse cx="499.8" cy="791.0" rx="2.4" ry="1.6" transform="rotate(42 499.8 791.0)" fill="#2020e0"/><ellipse cx="497.6" cy="841.7" rx="3.3" ry="2.1" transform="rotate(15 497.6 841.7)" fill="#3030ff"/><ellipse cx="497.4" cy="803.1" rx="2.0" ry="1.6" transform="rotate(141 497.4 803.1)" fill="#2020e0"/><ellipse cx="472.4" cy="770.1" rx="2.3" ry="2.2" transform="rotate(118 472.4 770.1)" fill="#2020e0"/><ellipse cx="509.2" cy="885.1" rx="2.6" ry="2.4" transform="rotate(115 509.2 885.1)" fill="#2020e0"/><ellipse cx="471.5" cy="872.3" rx="2.1" ry="1.3" transform="rotate(65 471.5 872.3)" fill="#2a2af0"/><ellipse cx="454.6" cy="800.8" rx="3.2" ry="3.0" transform="rotate(79 454.6 800.8)" fill="#0c0cb0"/><ellipse cx="480.0" cy="777.9" rx="2.1" ry="1.2" transform="rotate(101 480.0 777.9)" fill="#3030ff"/><ellipse cx="413.8" cy="774.9" rx="2.3" ry="1.6" transform="rotate(128 413.8 774.9)" fill="#0c0cb0"/><ellipse cx="495.2" cy="771.4" rx="2.6" ry="2.3" transform="rotate(179 495.2 771.4)" fill="#1818d8"/><ellipse cx="453.8" cy="784.4" rx="2.6" ry="1.9" transform="rotate(133 453.8 784.4)" fill="#3030ff"/><ellipse cx="394.4" cy="880.0" rx="2.0" ry="1.8" transform="rotate(124 394.4 880.0)" fill="#1a1aff"/><ellipse cx="388.4" cy="782.7" rx="1.9" ry="1.6" transform="rotate(85 388.4 782.7)" fill="#2020e0"/><ellipse cx="403.9" cy="776.5" rx="2.0" ry="1.1" transform="rotate(173 403.9 776.5)" fill="#2020e0"/><ellipse cx="475.7" cy="866.5" rx="3.2" ry="3.0" transform="rotate(88 475.7 866.5)" fill="#1010c8"/><ellipse cx="513.4" cy="792.7" rx="1.9" ry="1.2" transform="rotate(117 513.4 792.7)" fill="#1818d8"/><ellipse cx="450.1" cy="874.5" rx="2.7" ry="2.1" transform="rotate(169 450.1 874.5)" fill="#1818d8"/><ellipse cx="506.3" cy="792.6" rx="2.3" ry="1.3" transform="rotate(41 506.3 792.6)" fill="#2020e0"/><ellipse cx="395.3" cy="780.1" rx="3.0" ry="2.3" transform="rotate(155 395.3 780.1)" fill="#1818d8"/><ellipse cx="428.1" cy="782.5" rx="3.1" ry="2.7" transform="rotate(29 428.1 782.5)" fill="#1a1aff"/><ellipse cx="484.8" cy="764.1" rx="3.1" ry="2.7" transform="rotate(122 484.8 764.1)" fill="#0c0cb0"/><ellipse cx="477.6" cy="766.0" rx="2.5" ry="1.8" transform="rotate(160 477.6 766.0)" fill="#0c0cb0"/><ellipse cx="471.1" cy="767.1" rx="1.9" ry="1.3" transform="rotate(125 471.1 767.1)" fill="#2020e0"/><ellipse cx="478.2" cy="851.5" rx="2.8" ry="1.9" transform="rotate(135 478.2 851.5)" fill="#0c0cb0"/><ellipse cx="418.0" cy="777.8" rx="3.3" ry="2.2" transform="rotate(110 418.0 777.8)" fill="#2a2af0"/><ellipse cx="417.6" cy="787.1" rx="2.2" ry="1.6" transform="rotate(66 417.6 787.1)" fill="#0c0cb0"/><ellipse cx="388.0" cy="776.2" rx="3.1" ry="2.5" transform="rotate(50 388.0 776.2)" fill="#3030ff"/><ellipse cx="470.9" cy="778.1" rx="2.6" ry="2.3" transform="rotate(121 470.9 778.1)" fill="#2020e0"/><ellipse cx="506.5" cy="766.6" rx="2.1" ry="1.9" transform="rotate(73 506.5 766.6)" fill="#2020e0"/><ellipse cx="476.7" cy="770.0" rx="2.8" ry="1.8" transform="rotate(14 476.7 770.0)" fill="#0c0cb0"/><ellipse cx="450.0" cy="779.3" rx="3.4" ry="1.9" transform="rotate(175 450.0 779.3)" fill="#0c0cb0"/><ellipse cx="503.1" cy="773.4" rx="3.3" ry="2.7" transform="rotate(84 503.1 773.4)" fill="#1010c8"/><ellipse cx="491.1" cy="767.2" rx="2.5" ry="2.1" transform="rotate(58 491.1 767.2)" fill="#3030ff"/><ellipse cx="435.0" cy="793.5" rx="2.3" ry="2.1" transform="rotate(169 435.0 793.5)" fill="#1818d8"/><ellipse cx="396.8" cy="778.0" rx="2.2" ry="1.4" transform="rotate(77 396.8 778.0)" fill="#2020e0"/><ellipse cx="497.7" cy="768.4" rx="2.0" ry="1.5" transform="rotate(95 497.7 768.4)" fill="#1010c8"/><ellipse cx="403.3" cy="786.7" rx="3.0" ry="2.8" transform="rotate(156 403.3 786.7)" fill="#1818d8"/><ellipse cx="451.2" cy="787.2" rx="2.4" ry="1.9" transform="rotate(11 451.2 787.2)" fill="#1818d8"/><ellipse cx="438.2" cy="869.5" rx="3.2" ry="2.3" transform="rotate(41 438.2 869.5)" fill="#2a2af0"/><ellipse cx="404.0" cy="778.0" rx="2.6" ry="2.1" transform="rotate(9 404.0 778.0)" fill="#1a1aff"/><ellipse cx="485.0" cy="872.7" rx="2.3" ry="1.6" transform="rotate(127 485.0 872.7)" fill="#3030ff"/><ellipse cx="460.8" cy="781.3" rx="2.9" ry="2.2" transform="rotate(86 460.8 781.3)" fill="#1a1aff"/><ellipse cx="430.4" cy="857.4" rx="2.9" ry="2.3" transform="rotate(166 430.4 857.4)" fill="#2020e0"/><ellipse cx="410.3" cy="784.9" rx="3.4" ry="2.9" transform="rotate(78 410.3 784.9)" fill="#1a1aff"/><ellipse cx="422.5" cy="836.0" rx="2.2" ry="1.4" transform="rotate(49 422.5 836.0)" fill="#1010c8"/><ellipse cx="483.0" cy="844.6" rx="1.9" ry="1.2" transform="rotate(155 483.0 844.6)" fill="#1010c8"/><ellipse cx="386.2" cy="779.6" rx="2.6" ry="1.6" transform="rotate(144 386.2 779.6)" fill="#2a2af0"/><ellipse cx="439.8" cy="787.6" rx="3.4" ry="3.0" transform="rotate(106 439.8 787.6)" fill="#3030ff"/><ellipse cx="421.6" cy="784.8" rx="2.5" ry="1.9" transform="rotate(133 421.6 784.8)" fill="#1010c8"/><ellipse cx="483.3" cy="859.4" rx="3.1" ry="2.6" transform="rotate(56 483.3 859.4)" fill="#1a1aff"/><ellipse cx="384.8" cy="815.0" rx="3.2" ry="1.9" transform="rotate(111 384.8 815.0)" fill="#0c0cb0"/><ellipse cx="505.0" cy="869.9" rx="2.5" ry="1.9" transform="rotate(10 505.0 869.9)" fill="#1818d8"/><ellipse cx="513.6" cy="871.5" rx="3.3" ry="2.5" transform="rotate(18 513.6 871.5)" fill="#1818d8"/><ellipse cx="471.1" cy="786.8" rx="2.0" ry="1.7" transform="rotate(13 471.1 786.8)" fill="#1010c8"/><ellipse cx="467.6" cy="760.6" rx="2.6" ry="1.5" transform="rotate(70 467.6 760.6)" fill="#1a1aff"/><ellipse cx="489.7" cy="864.4" rx="2.8" ry="2.1" transform="rotate(174 489.7 864.4)" fill="#2020e0"/><ellipse cx="406.5" cy="783.1" rx="2.9" ry="2.6" transform="rotate(159 406.5 783.1)" fill="#0c0cb0"/><ellipse cx="468.4" cy="766.9" rx="1.9" ry="1.2" transform="rotate(131 468.4 766.9)" fill="#0c0cb0"/><ellipse cx="457.9" cy="774.2" rx="2.0" ry="1.8" transform="rotate(107 457.9 774.2)" fill="#2020e0"/><ellipse cx="392.8" cy="777.6" rx="2.4" ry="1.7" transform="rotate(146 392.8 777.6)" fill="#1010c8"/><ellipse cx="401.5" cy="792.2" rx="2.5" ry="2.3" transform="rotate(103 401.5 792.2)" fill="#1010c8"/><ellipse cx="475.7" cy="770.2" rx="2.9" ry="1.7" transform="rotate(28 475.7 770.2)" fill="#2a2af0"/><ellipse cx="436.8" cy="785.9" rx="2.9" ry="2.1" transform="rotate(155 436.8 785.9)" fill="#0c0cb0"/><ellipse cx="389.0" cy="776.7" rx="1.9" ry="1.8" transform="rotate(146 389.0 776.7)" fill="#2a2af0"/><ellipse cx="511.4" cy="837.6" rx="3.3" ry="1.9" transform="rotate(87 511.4 837.6)" fill="#2020e0"/><ellipse cx="394.1" cy="782.3" rx="2.1" ry="1.3" transform="rotate(74 394.1 782.3)" fill="#1010c8"/><ellipse cx="448.4" cy="785.8" rx="2.3" ry="1.3" transform="rotate(4 448.4 785.8)" fill="#1a1aff"/><ellipse cx="396.8" cy="778.4" rx="2.7" ry="2.5" transform="rotate(144 396.8 778.4)" fill="#0c0cb0"/><ellipse cx="376.6" cy="800.5" rx="3.3" ry="2.0" transform="rotate(6 376.6 800.5)" fill="#2020e0"/><ellipse cx="484.3" cy="766.6" rx="3.2" ry="2.3" transform="rotate(16 484.3 766.6)" fill="#0c0cb0"/><ellipse cx="378.1" cy="789.4" rx="2.2" ry="1.3" transform="rotate(121 378.1 789.4)" fill="#1818d8"/><ellipse cx="433.4" cy="790.6" rx="2.9" ry="1.9" transform="rotate(20 433.4 790.6)" fill="#2020e0"/><ellipse cx="483.3" cy="773.6" rx="2.4" ry="2.3" transform="rotate(138 483.3 773.6)" fill="#1a1aff"/><ellipse cx="481.4" cy="772.7" rx="3.3" ry="2.8" transform="rotate(28 481.4 772.7)" fill="#1a1aff"/><ellipse cx="397.0" cy="778.0" rx="3.4" ry="3.0" transform="rotate(56 397.0 778.0)" fill="#2a2af0"/><ellipse cx="390.6" cy="785.5" rx="2.6" ry="2.1" transform="rotate(125 390.6 785.5)" fill="#2a2af0"/><ellipse cx="406.7" cy="781.6" rx="2.9" ry="2.3" transform="rotate(17 406.7 781.6)" fill="#1010c8"/><ellipse cx="391.5" cy="781.0" rx="2.9" ry="2.7" transform="rotate(109 391.5 781.0)" fill="#1818d8"/><ellipse cx="499.4" cy="825.0" rx="2.1" ry="2.0" transform="rotate(169 499.4 825.0)" fill="#1010c8"/><ellipse cx="385.7" cy="783.7" rx="2.3" ry="1.8" transform="rotate(10 385.7 783.7)" fill="#2020e0"/><ellipse cx="505.2" cy="820.7" rx="2.8" ry="1.6" transform="rotate(51 505.2 820.7)" fill="#0c0cb0"/><ellipse cx="501.2" cy="776.2" rx="2.2" ry="2.1" transform="rotate(29 501.2 776.2)" fill="#1a1aff"/><ellipse cx="436.9" cy="787.0" rx="3.1" ry="2.8" transform="rotate(176 436.9 787.0)" fill="#2a2af0"/><ellipse cx="384.5" cy="785.6" rx="2.0" ry="1.6" transform="rotate(159 384.5 785.6)" fill="#0c0cb0"/></g><circle cx="404" cy="863" r="2" fill="#e02050" opacity="0.8"/><circle cx="487" cy="846" r="1.5" fill="none" stroke="#e8e8e8" stroke-width="0.7"/><path d="M377.2,801.8 C378.77,800.22 382.58,793.7 386.6,792.3 C390.62,790.9 397.08,793.75 401.3,793.4 C405.52,793.05 406.98,789.68 411.9,790.2 C416.82,790.72 424.85,795.97 430.8,796.5 C436.75,797.03 442,797.43 447.6,793.4 C453.2,789.37 458.43,775.28 464.4,772.3 C470.37,769.32 477.43,774.43 483.4,775.5 C489.37,776.57 495.47,778.88 500.2,778.7 C504.93,778.52 509.33,775.52 511.8,774.4 C514.27,773.28 514.47,772.4 515,772" fill="none" stroke="#f4f4f4" stroke-width="1.6" stroke-dasharray="3.4 2.2"/></g>
<rect x="518.6" y="748.5" width="136.8" height="136.5" fill="#000"/><clipPath id="cf4"><rect x="518.6" y="748.5" width="136.8" height="136.5"/></clipPath><g clip-path="url(#cf4)"><g filter="url(#fb)"><ellipse cx="528.9" cy="803.5" rx="2.1" ry="1.7" transform="rotate(59 528.9 803.5)" fill="#2a2af0"/><ellipse cx="652.4" cy="749.5" rx="3.2" ry="1.9" transform="rotate(1 652.4 749.5)" fill="#3030ff"/><ellipse cx="599.1" cy="851.8" rx="2.2" ry="1.7" transform="rotate(23 599.1 851.8)" fill="#2a2af0"/><ellipse cx="621.4" cy="824.6" rx="3.3" ry="3.0" transform="rotate(106 621.4 824.6)" fill="#1a1aff"/><ellipse cx="623.9" cy="831.1" rx="3.2" ry="1.9" transform="rotate(140 623.9 831.1)" fill="#1818d8"/><ellipse cx="615.5" cy="750.7" rx="2.5" ry="2.3" transform="rotate(123 615.5 750.7)" fill="#2a2af0"/><ellipse cx="655.2" cy="776.3" rx="2.4" ry="1.8" transform="rotate(35 655.2 776.3)" fill="#1a1aff"/><ellipse cx="584.6" cy="807.7" rx="2.5" ry="2.0" transform="rotate(159 584.6 807.7)" fill="#1a1aff"/><ellipse cx="649.9" cy="841.4" rx="2.8" ry="1.9" transform="rotate(168 649.9 841.4)" fill="#2a2af0"/><ellipse cx="519.0" cy="842.9" rx="2.9" ry="1.7" transform="rotate(47 519.0 842.9)" fill="#1a1aff"/><ellipse cx="548.5" cy="804.1" rx="2.4" ry="1.7" transform="rotate(37 548.5 804.1)" fill="#1818d8"/><ellipse cx="526.2" cy="759.2" rx="2.2" ry="1.7" transform="rotate(147 526.2 759.2)" fill="#0c0cb0"/><ellipse cx="577.3" cy="761.9" rx="3.0" ry="2.2" transform="rotate(122 577.3 761.9)" fill="#2a2af0"/><ellipse cx="583.8" cy="871.6" rx="2.3" ry="1.9" transform="rotate(76 583.8 871.6)" fill="#1010c8"/><ellipse cx="567.9" cy="809.2" rx="2.2" ry="1.5" transform="rotate(106 567.9 809.2)" fill="#1010c8"/><ellipse cx="627.9" cy="751.4" rx="2.1" ry="1.5" transform="rotate(33 627.9 751.4)" fill="#3030ff"/><ellipse cx="597.7" cy="872.3" rx="3.2" ry="2.5" transform="rotate(159 597.7 872.3)" fill="#1a1aff"/><ellipse cx="551.8" cy="834.9" rx="2.2" ry="1.6" transform="rotate(131 551.8 834.9)" fill="#2020e0"/><ellipse cx="517.3" cy="844.0" rx="3.0" ry="2.2" transform="rotate(36 517.3 844.0)" fill="#2a2af0"/><ellipse cx="630.9" cy="801.9" rx="2.2" ry="2.1" transform="rotate(87 630.9 801.9)" fill="#1818d8"/><ellipse cx="615.4" cy="854.9" rx="2.6" ry="2.4" transform="rotate(132 615.4 854.9)" fill="#1010c8"/><ellipse cx="576.4" cy="884.1" rx="2.7" ry="1.9" transform="rotate(73 576.4 884.1)" fill="#2a2af0"/><ellipse cx="623.9" cy="771.9" rx="2.6" ry="1.8" transform="rotate(125 623.9 771.9)" fill="#2a2af0"/><ellipse cx="599.9" cy="811.9" rx="3.4" ry="2.7" transform="rotate(49 599.9 811.9)" fill="#1a1aff"/><ellipse cx="585.9" cy="759.1" rx="3.4" ry="2.2" transform="rotate(3 585.9 759.1)" fill="#2a2af0"/><ellipse cx="544.2" cy="832.1" rx="2.2" ry="1.4" transform="rotate(87 544.2 832.1)" fill="#0c0cb0"/><ellipse cx="560.1" cy="768.0" rx="2.8" ry="2.0" transform="rotate(114 560.1 768.0)" fill="#1818d8"/><ellipse cx="612.0" cy="883.5" rx="2.4" ry="1.9" transform="rotate(96 612.0 883.5)" fill="#3030ff"/><ellipse cx="564.9" cy="842.6" rx="2.2" ry="1.5" transform="rotate(52 564.9 842.6)" fill="#2a2af0"/><ellipse cx="575.6" cy="783.9" rx="2.8" ry="1.9" transform="rotate(143 575.6 783.9)" fill="#2a2af0"/><ellipse cx="548.9" cy="866.4" rx="2.6" ry="1.5" transform="rotate(27 548.9 866.4)" fill="#3030ff"/><ellipse cx="621.6" cy="833.8" rx="2.7" ry="2.5" transform="rotate(99 621.6 833.8)" fill="#0c0cb0"/><ellipse cx="531.1" cy="815.0" rx="3.0" ry="2.8" transform="rotate(37 531.1 815.0)" fill="#3030ff"/><ellipse cx="553.2" cy="786.6" rx="2.9" ry="2.5" transform="rotate(164 553.2 786.6)" fill="#2a2af0"/><ellipse cx="544.7" cy="841.4" rx="2.1" ry="1.4" transform="rotate(64 544.7 841.4)" fill="#1a1aff"/><ellipse cx="627.2" cy="800.8" rx="2.1" ry="1.8" transform="rotate(118 627.2 800.8)" fill="#2020e0"/><ellipse cx="594.3" cy="809.3" rx="3.4" ry="2.9" transform="rotate(161 594.3 809.3)" fill="#3030ff"/><ellipse cx="518.6" cy="884.1" rx="2.4" ry="1.6" transform="rotate(87 518.6 884.1)" fill="#1818d8"/><ellipse cx="560.5" cy="881.8" rx="2.8" ry="2.1" transform="rotate(76 560.5 881.8)" fill="#1a1aff"/><ellipse cx="564.7" cy="833.1" rx="2.1" ry="1.9" transform="rotate(109 564.7 833.1)" fill="#2a2af0"/><ellipse cx="572.4" cy="868.9" rx="2.5" ry="1.7" transform="rotate(156 572.4 868.9)" fill="#2a2af0"/><ellipse cx="601.1" cy="750.4" rx="2.1" ry="1.3" transform="rotate(134 601.1 750.4)" fill="#2a2af0"/><ellipse cx="605.2" cy="827.7" rx="3.2" ry="2.8" transform="rotate(123 605.2 827.7)" fill="#2020e0"/><ellipse cx="581.3" cy="808.5" rx="2.6" ry="1.5" transform="rotate(41 581.3 808.5)" fill="#2a2af0"/><ellipse cx="603.1" cy="813.8" rx="2.7" ry="2.3" transform="rotate(82 603.1 813.8)" fill="#1a1aff"/><ellipse cx="617.3" cy="846.3" rx="2.9" ry="1.6" transform="rotate(157 617.3 846.3)" fill="#1010c8"/><ellipse cx="652.7" cy="748.5" rx="2.5" ry="1.9" transform="rotate(87 652.7 748.5)" fill="#0c0cb0"/><ellipse cx="615.9" cy="832.3" rx="2.7" ry="1.6" transform="rotate(121 615.9 832.3)" fill="#3030ff"/><ellipse cx="564.4" cy="765.4" rx="2.8" ry="2.6" transform="rotate(32 564.4 765.4)" fill="#0c0cb0"/><ellipse cx="597.5" cy="833.2" rx="2.9" ry="1.8" transform="rotate(161 597.5 833.2)" fill="#1a1aff"/><ellipse cx="603.7" cy="775.6" rx="2.7" ry="2.2" transform="rotate(130 603.7 775.6)" fill="#0c0cb0"/><ellipse cx="572.2" cy="864.4" rx="2.5" ry="2.3" transform="rotate(62 572.2 864.4)" fill="#0c0cb0"/><ellipse cx="602.4" cy="877.3" rx="2.3" ry="1.3" transform="rotate(169 602.4 877.3)" fill="#1010c8"/><ellipse cx="616.6" cy="845.2" rx="2.8" ry="2.4" transform="rotate(59 616.6 845.2)" fill="#2020e0"/><ellipse cx="533.5" cy="861.6" rx="2.1" ry="1.3" transform="rotate(48 533.5 861.6)" fill="#3030ff"/><ellipse cx="577.2" cy="850.5" rx="2.4" ry="2.1" transform="rotate(78 577.2 850.5)" fill="#1a1aff"/><ellipse cx="613.2" cy="784.3" rx="3.1" ry="1.7" transform="rotate(112 613.2 784.3)" fill="#2020e0"/><ellipse cx="564.1" cy="781.3" rx="2.1" ry="1.5" transform="rotate(55 564.1 781.3)" fill="#2020e0"/><ellipse cx="621.6" cy="877.9" rx="2.7" ry="1.7" transform="rotate(47 621.6 877.9)" fill="#3030ff"/><ellipse cx="526.8" cy="844.0" rx="2.6" ry="1.9" transform="rotate(33 526.8 844.0)" fill="#1a1aff"/><ellipse cx="633.0" cy="800.0" rx="3.2" ry="2.8" transform="rotate(39 633.0 800.0)" fill="#2a2af0"/><ellipse cx="635.9" cy="754.2" rx="3.0" ry="2.2" transform="rotate(150 635.9 754.2)" fill="#1818d8"/><ellipse cx="578.7" cy="827.3" rx="2.4" ry="1.4" transform="rotate(44 578.7 827.3)" fill="#3030ff"/><ellipse cx="545.2" cy="862.0" rx="2.9" ry="1.8" transform="rotate(96 545.2 862.0)" fill="#0c0cb0"/><ellipse cx="528.1" cy="763.6" rx="2.8" ry="2.2" transform="rotate(31 528.1 763.6)" fill="#1010c8"/><ellipse cx="575.8" cy="746.9" rx="2.7" ry="2.0" transform="rotate(154 575.8 746.9)" fill="#2a2af0"/><ellipse cx="647.6" cy="853.3" rx="3.3" ry="2.7" transform="rotate(153 647.6 853.3)" fill="#3030ff"/><ellipse cx="577.6" cy="785.7" rx="2.2" ry="1.6" transform="rotate(145 577.6 785.7)" fill="#3030ff"/><ellipse cx="637.2" cy="873.3" rx="2.6" ry="1.9" transform="rotate(148 637.2 873.3)" fill="#3030ff"/><ellipse cx="580.6" cy="857.1" rx="2.8" ry="2.1" transform="rotate(43 580.6 857.1)" fill="#2a2af0"/><ellipse cx="532.5" cy="840.4" rx="2.8" ry="1.7" transform="rotate(160 532.5 840.4)" fill="#1a1aff"/><ellipse cx="522.1" cy="832.6" rx="3.3" ry="1.9" transform="rotate(156 522.1 832.6)" fill="#1818d8"/><ellipse cx="532.1" cy="808.7" rx="2.6" ry="2.1" transform="rotate(113 532.1 808.7)" fill="#3030ff"/><ellipse cx="644.7" cy="827.4" rx="2.8" ry="2.5" transform="rotate(133 644.7 827.4)" fill="#2a2af0"/><ellipse cx="608.5" cy="802.0" rx="3.0" ry="2.3" transform="rotate(52 608.5 802.0)" fill="#1a1aff"/><ellipse cx="522.9" cy="751.8" rx="3.1" ry="2.9" transform="rotate(12 522.9 751.8)" fill="#2a2af0"/><ellipse cx="567.3" cy="753.0" rx="2.1" ry="1.6" transform="rotate(2 567.3 753.0)" fill="#2020e0"/><ellipse cx="579.4" cy="817.7" rx="3.0" ry="1.8" transform="rotate(124 579.4 817.7)" fill="#1010c8"/><ellipse cx="625.9" cy="822.8" rx="2.7" ry="2.5" transform="rotate(134 625.9 822.8)" fill="#3030ff"/><ellipse cx="636.0" cy="849.1" rx="2.3" ry="1.3" transform="rotate(89 636.0 849.1)" fill="#3030ff"/><ellipse cx="592.2" cy="862.9" rx="3.2" ry="2.4" transform="rotate(109 592.2 862.9)" fill="#2a2af0"/><ellipse cx="588.3" cy="834.3" rx="2.8" ry="2.5" transform="rotate(134 588.3 834.3)" fill="#3030ff"/><ellipse cx="592.8" cy="764.4" rx="2.7" ry="1.9" transform="rotate(67 592.8 764.4)" fill="#1010c8"/><ellipse cx="602.0" cy="832.9" rx="3.3" ry="2.6" transform="rotate(5 602.0 832.9)" fill="#1818d8"/><ellipse cx="521.2" cy="798.2" rx="3.2" ry="2.4" transform="rotate(0 521.2 798.2)" fill="#1a1aff"/><ellipse cx="610.9" cy="819.3" rx="2.6" ry="2.3" transform="rotate(73 610.9 819.3)" fill="#0c0cb0"/><ellipse cx="540.4" cy="876.4" rx="2.1" ry="1.9" transform="rotate(120 540.4 876.4)" fill="#1a1aff"/><ellipse cx="569.0" cy="833.1" rx="2.7" ry="1.5" transform="rotate(27 569.0 833.1)" fill="#3030ff"/><ellipse cx="652.0" cy="819.5" rx="2.9" ry="2.5" transform="rotate(68 652.0 819.5)" fill="#3030ff"/><ellipse cx="602.7" cy="870.3" rx="3.3" ry="3.0" transform="rotate(1 602.7 870.3)" fill="#1818d8"/><ellipse cx="521.4" cy="886.1" rx="3.0" ry="2.0" transform="rotate(177 521.4 886.1)" fill="#0c0cb0"/><ellipse cx="612.7" cy="847.5" rx="2.2" ry="1.5" transform="rotate(21 612.7 847.5)" fill="#2a2af0"/><ellipse cx="558.0" cy="839.5" rx="2.2" ry="1.9" transform="rotate(123 558.0 839.5)" fill="#2020e0"/><ellipse cx="562.6" cy="806.3" rx="2.9" ry="2.3" transform="rotate(45 562.6 806.3)" fill="#0c0cb0"/><ellipse cx="639.6" cy="840.2" rx="2.3" ry="2.0" transform="rotate(95 639.6 840.2)" fill="#1a1aff"/><ellipse cx="606.0" cy="836.5" rx="2.9" ry="2.2" transform="rotate(147 606.0 836.5)" fill="#2a2af0"/><ellipse cx="524.0" cy="827.3" rx="3.1" ry="2.6" transform="rotate(150 524.0 827.3)" fill="#1010c8"/><ellipse cx="571.0" cy="798.7" rx="2.3" ry="1.8" transform="rotate(155 571.0 798.7)" fill="#1010c8"/><ellipse cx="541.5" cy="838.4" rx="3.3" ry="2.4" transform="rotate(1 541.5 838.4)" fill="#0c0cb0"/><ellipse cx="550.2" cy="778.2" rx="2.1" ry="2.0" transform="rotate(131 550.2 778.2)" fill="#2020e0"/><ellipse cx="623.9" cy="851.3" rx="2.2" ry="1.6" transform="rotate(149 623.9 851.3)" fill="#1818d8"/><ellipse cx="609.1" cy="805.1" rx="3.3" ry="2.3" transform="rotate(60 609.1 805.1)" fill="#1818d8"/><ellipse cx="574.0" cy="750.6" rx="2.8" ry="1.7" transform="rotate(93 574.0 750.6)" fill="#0c0cb0"/><ellipse cx="542.9" cy="761.7" rx="2.4" ry="2.2" transform="rotate(145 542.9 761.7)" fill="#1818d8"/><ellipse cx="606.8" cy="806.3" rx="3.1" ry="1.8" transform="rotate(110 606.8 806.3)" fill="#3030ff"/><ellipse cx="612.4" cy="788.3" rx="2.2" ry="1.8" transform="rotate(122 612.4 788.3)" fill="#2020e0"/><ellipse cx="546.1" cy="789.9" rx="3.1" ry="2.9" transform="rotate(8 546.1 789.9)" fill="#3030ff"/><ellipse cx="546.6" cy="776.6" rx="2.7" ry="1.6" transform="rotate(164 546.6 776.6)" fill="#1818d8"/><ellipse cx="549.8" cy="749.0" rx="2.5" ry="1.9" transform="rotate(179 549.8 749.0)" fill="#1818d8"/><ellipse cx="617.0" cy="801.2" rx="2.3" ry="1.7" transform="rotate(132 617.0 801.2)" fill="#1818d8"/><ellipse cx="561.6" cy="788.0" rx="3.0" ry="1.9" transform="rotate(104 561.6 788.0)" fill="#1010c8"/><ellipse cx="553.3" cy="817.0" rx="3.2" ry="1.9" transform="rotate(102 553.3 817.0)" fill="#1818d8"/><ellipse cx="627.2" cy="770.8" rx="2.3" ry="1.6" transform="rotate(136 627.2 770.8)" fill="#1a1aff"/><ellipse cx="538.7" cy="834.2" rx="2.5" ry="1.5" transform="rotate(8 538.7 834.2)" fill="#2a2af0"/><ellipse cx="580.3" cy="827.2" rx="3.1" ry="2.1" transform="rotate(12 580.3 827.2)" fill="#1010c8"/><ellipse cx="646.7" cy="806.5" rx="3.1" ry="2.7" transform="rotate(23 646.7 806.5)" fill="#2a2af0"/><ellipse cx="644.1" cy="749.4" rx="3.0" ry="2.3" transform="rotate(140 644.1 749.4)" fill="#2a2af0"/><ellipse cx="610.8" cy="818.1" rx="2.7" ry="1.6" transform="rotate(127 610.8 818.1)" fill="#3030ff"/><ellipse cx="528.5" cy="844.0" rx="2.0" ry="1.5" transform="rotate(146 528.5 844.0)" fill="#3030ff"/><ellipse cx="561.0" cy="842.3" rx="2.1" ry="2.0" transform="rotate(106 561.0 842.3)" fill="#1818d8"/><ellipse cx="586.7" cy="768.4" rx="2.9" ry="2.0" transform="rotate(57 586.7 768.4)" fill="#2020e0"/><ellipse cx="616.5" cy="872.0" rx="2.4" ry="2.0" transform="rotate(104 616.5 872.0)" fill="#2a2af0"/><ellipse cx="541.9" cy="800.1" rx="3.4" ry="1.9" transform="rotate(156 541.9 800.1)" fill="#1010c8"/><ellipse cx="527.4" cy="880.3" rx="2.2" ry="2.0" transform="rotate(84 527.4 880.3)" fill="#1a1aff"/><ellipse cx="587.3" cy="875.7" rx="2.4" ry="1.6" transform="rotate(28 587.3 875.7)" fill="#1a1aff"/><ellipse cx="630.5" cy="885.8" rx="2.1" ry="1.2" transform="rotate(155 630.5 885.8)" fill="#1818d8"/><ellipse cx="518.0" cy="881.8" rx="3.1" ry="2.5" transform="rotate(54 518.0 881.8)" fill="#1818d8"/><ellipse cx="517.0" cy="873.3" rx="2.7" ry="2.5" transform="rotate(13 517.0 873.3)" fill="#1010c8"/><ellipse cx="543.5" cy="862.1" rx="2.5" ry="2.1" transform="rotate(91 543.5 862.1)" fill="#2a2af0"/><ellipse cx="577.1" cy="836.9" rx="2.3" ry="1.7" transform="rotate(130 577.1 836.9)" fill="#0c0cb0"/><ellipse cx="589.5" cy="784.5" rx="2.7" ry="1.8" transform="rotate(10 589.5 784.5)" fill="#2a2af0"/><ellipse cx="625.3" cy="837.6" rx="2.8" ry="2.3" transform="rotate(12 625.3 837.6)" fill="#1010c8"/><ellipse cx="618.5" cy="762.1" rx="2.6" ry="2.3" transform="rotate(159 618.5 762.1)" fill="#3030ff"/><ellipse cx="635.4" cy="823.6" rx="2.5" ry="1.8" transform="rotate(94 635.4 823.6)" fill="#0c0cb0"/><ellipse cx="560.4" cy="874.1" rx="3.1" ry="1.8" transform="rotate(142 560.4 874.1)" fill="#2020e0"/><ellipse cx="641.8" cy="867.7" rx="2.3" ry="1.5" transform="rotate(160 641.8 867.7)" fill="#3030ff"/><ellipse cx="517.2" cy="826.5" rx="2.8" ry="1.8" transform="rotate(90 517.2 826.5)" fill="#3030ff"/><ellipse cx="576.7" cy="873.4" rx="2.1" ry="1.9" transform="rotate(17 576.7 873.4)" fill="#1a1aff"/><ellipse cx="546.5" cy="814.4" rx="2.8" ry="2.3" transform="rotate(159 546.5 814.4)" fill="#1010c8"/><ellipse cx="570.7" cy="833.9" rx="2.3" ry="2.0" transform="rotate(129 570.7 833.9)" fill="#1818d8"/><ellipse cx="587.1" cy="774.2" rx="3.0" ry="2.7" transform="rotate(27 587.1 774.2)" fill="#0c0cb0"/><ellipse cx="572.3" cy="770.3" rx="2.7" ry="2.4" transform="rotate(91 572.3 770.3)" fill="#0c0cb0"/><ellipse cx="574.3" cy="786.9" rx="2.4" ry="1.8" transform="rotate(13 574.3 786.9)" fill="#1010c8"/><ellipse cx="578.0" cy="825.4" rx="3.2" ry="2.6" transform="rotate(87 578.0 825.4)" fill="#3030ff"/><ellipse cx="649.3" cy="879.8" rx="3.2" ry="1.9" transform="rotate(154 649.3 879.8)" fill="#1a1aff"/><ellipse cx="566.9" cy="866.6" rx="3.2" ry="2.4" transform="rotate(65 566.9 866.6)" fill="#0c0cb0"/><ellipse cx="528.8" cy="836.4" rx="2.9" ry="2.5" transform="rotate(30 528.8 836.4)" fill="#0c0cb0"/><ellipse cx="631.3" cy="751.8" rx="3.1" ry="2.2" transform="rotate(12 631.3 751.8)" fill="#2a2af0"/><ellipse cx="640.9" cy="864.0" rx="3.1" ry="2.6" transform="rotate(2 640.9 864.0)" fill="#1a1aff"/><ellipse cx="601.1" cy="786.5" rx="2.2" ry="1.8" transform="rotate(173 601.1 786.5)" fill="#2020e0"/><ellipse cx="587.8" cy="847.5" rx="2.8" ry="1.7" transform="rotate(143 587.8 847.5)" fill="#1818d8"/><ellipse cx="609.5" cy="762.2" rx="2.9" ry="2.7" transform="rotate(136 609.5 762.2)" fill="#3030ff"/><ellipse cx="651.6" cy="778.8" rx="2.3" ry="2.0" transform="rotate(29 651.6 778.8)" fill="#2a2af0"/><ellipse cx="549.5" cy="767.9" rx="3.3" ry="2.4" transform="rotate(92 549.5 767.9)" fill="#1010c8"/><ellipse cx="516.6" cy="762.9" rx="3.1" ry="2.9" transform="rotate(56 516.6 762.9)" fill="#3030ff"/><ellipse cx="628.5" cy="805.4" rx="3.2" ry="1.9" transform="rotate(93 628.5 805.4)" fill="#0c0cb0"/><ellipse cx="630.8" cy="800.2" rx="2.1" ry="1.4" transform="rotate(57 630.8 800.2)" fill="#1010c8"/><ellipse cx="552.9" cy="818.3" rx="3.0" ry="2.6" transform="rotate(81 552.9 818.3)" fill="#0c0cb0"/><ellipse cx="520.6" cy="825.0" rx="2.1" ry="1.3" transform="rotate(93 520.6 825.0)" fill="#2020e0"/><ellipse cx="638.1" cy="773.9" rx="2.8" ry="1.7" transform="rotate(32 638.1 773.9)" fill="#3030ff"/><ellipse cx="590.2" cy="843.8" rx="2.1" ry="1.9" transform="rotate(83 590.2 843.8)" fill="#1010c8"/><ellipse cx="597.6" cy="818.3" rx="3.0" ry="2.8" transform="rotate(32 597.6 818.3)" fill="#2020e0"/><ellipse cx="529.0" cy="812.0" rx="3.2" ry="1.9" transform="rotate(158 529.0 812.0)" fill="#2a2af0"/><ellipse cx="563.7" cy="858.0" rx="2.0" ry="1.4" transform="rotate(3 563.7 858.0)" fill="#2020e0"/><ellipse cx="578.8" cy="759.9" rx="3.1" ry="2.2" transform="rotate(131 578.8 759.9)" fill="#3030ff"/><ellipse cx="646.0" cy="847.3" rx="2.9" ry="2.6" transform="rotate(0 646.0 847.3)" fill="#0c0cb0"/><ellipse cx="580.1" cy="786.8" rx="2.2" ry="1.8" transform="rotate(88 580.1 786.8)" fill="#3030ff"/><ellipse cx="564.2" cy="877.4" rx="2.9" ry="2.0" transform="rotate(125 564.2 877.4)" fill="#0c0cb0"/><ellipse cx="549.7" cy="774.8" rx="2.9" ry="1.7" transform="rotate(90 549.7 774.8)" fill="#1010c8"/><ellipse cx="585.8" cy="843.4" rx="2.1" ry="1.5" transform="rotate(111 585.8 843.4)" fill="#2a2af0"/><ellipse cx="562.0" cy="879.0" rx="3.2" ry="2.3" transform="rotate(72 562.0 879.0)" fill="#1a1aff"/><ellipse cx="618.0" cy="844.9" rx="3.1" ry="1.7" transform="rotate(20 618.0 844.9)" fill="#2020e0"/><ellipse cx="609.7" cy="791.8" rx="2.4" ry="1.9" transform="rotate(65 609.7 791.8)" fill="#1a1aff"/><ellipse cx="564.0" cy="792.2" rx="2.6" ry="1.7" transform="rotate(25 564.0 792.2)" fill="#1a1aff"/><ellipse cx="600.0" cy="820.9" rx="3.4" ry="3.2" transform="rotate(64 600.0 820.9)" fill="#2a2af0"/><ellipse cx="536.4" cy="843.6" rx="3.2" ry="2.3" transform="rotate(172 536.4 843.6)" fill="#2020e0"/><ellipse cx="550.8" cy="815.9" rx="2.2" ry="1.8" transform="rotate(135 550.8 815.9)" fill="#2020e0"/><ellipse cx="628.8" cy="749.9" rx="2.7" ry="1.6" transform="rotate(111 628.8 749.9)" fill="#2020e0"/><ellipse cx="556.6" cy="829.1" rx="2.8" ry="1.7" transform="rotate(153 556.6 829.1)" fill="#0c0cb0"/><ellipse cx="640.3" cy="849.4" rx="2.9" ry="1.9" transform="rotate(59 640.3 849.4)" fill="#2020e0"/><ellipse cx="525.4" cy="804.6" rx="2.4" ry="1.8" transform="rotate(148 525.4 804.6)" fill="#2a2af0"/><ellipse cx="586.1" cy="868.6" rx="3.3" ry="2.1" transform="rotate(129 586.1 868.6)" fill="#1010c8"/><ellipse cx="528.5" cy="782.8" rx="3.3" ry="2.4" transform="rotate(66 528.5 782.8)" fill="#1818d8"/><ellipse cx="544.5" cy="826.8" rx="2.0" ry="1.6" transform="rotate(84 544.5 826.8)" fill="#1010c8"/><ellipse cx="548.8" cy="810.6" rx="3.0" ry="1.9" transform="rotate(1 548.8 810.6)" fill="#1010c8"/><ellipse cx="521.8" cy="834.2" rx="2.8" ry="2.3" transform="rotate(116 521.8 834.2)" fill="#1818d8"/><ellipse cx="650.2" cy="795.3" rx="2.6" ry="1.6" transform="rotate(162 650.2 795.3)" fill="#1818d8"/><ellipse cx="568.4" cy="767.1" rx="2.3" ry="1.6" transform="rotate(160 568.4 767.1)" fill="#1010c8"/><ellipse cx="599.0" cy="876.4" rx="2.8" ry="2.6" transform="rotate(135 599.0 876.4)" fill="#2a2af0"/><ellipse cx="564.3" cy="747.6" rx="3.0" ry="2.6" transform="rotate(16 564.3 747.6)" fill="#1a1aff"/><ellipse cx="525.7" cy="797.6" rx="3.2" ry="1.8" transform="rotate(30 525.7 797.6)" fill="#0c0cb0"/><ellipse cx="566.4" cy="755.7" rx="2.1" ry="1.4" transform="rotate(134 566.4 755.7)" fill="#1010c8"/><ellipse cx="572.5" cy="754.6" rx="3.0" ry="2.5" transform="rotate(145 572.5 754.6)" fill="#3030ff"/><ellipse cx="558.2" cy="838.2" rx="2.5" ry="1.5" transform="rotate(23 558.2 838.2)" fill="#0c0cb0"/><ellipse cx="541.9" cy="824.7" rx="3.4" ry="2.9" transform="rotate(73 541.9 824.7)" fill="#2a2af0"/><ellipse cx="520.3" cy="866.9" rx="2.9" ry="2.1" transform="rotate(97 520.3 866.9)" fill="#3030ff"/><ellipse cx="623.0" cy="841.3" rx="2.4" ry="1.9" transform="rotate(39 623.0 841.3)" fill="#2a2af0"/><ellipse cx="629.8" cy="879.3" rx="2.5" ry="1.6" transform="rotate(172 629.8 879.3)" fill="#2a2af0"/><ellipse cx="555.9" cy="817.0" rx="2.1" ry="1.2" transform="rotate(77 555.9 817.0)" fill="#3030ff"/><ellipse cx="554.8" cy="801.6" rx="2.4" ry="1.5" transform="rotate(123 554.8 801.6)" fill="#1010c8"/><ellipse cx="583.4" cy="749.7" rx="2.7" ry="2.5" transform="rotate(81 583.4 749.7)" fill="#2020e0"/><ellipse cx="655.5" cy="804.3" rx="2.8" ry="2.0" transform="rotate(102 655.5 804.3)" fill="#1010c8"/><ellipse cx="603.7" cy="872.1" rx="2.5" ry="1.8" transform="rotate(27 603.7 872.1)" fill="#1818d8"/><ellipse cx="525.9" cy="764.8" rx="3.1" ry="2.0" transform="rotate(120 525.9 764.8)" fill="#2020e0"/><ellipse cx="568.0" cy="850.2" rx="2.1" ry="1.9" transform="rotate(57 568.0 850.2)" fill="#1818d8"/><ellipse cx="535.5" cy="819.7" rx="2.7" ry="2.6" transform="rotate(97 535.5 819.7)" fill="#0c0cb0"/><ellipse cx="534.0" cy="837.4" rx="2.3" ry="1.4" transform="rotate(21 534.0 837.4)" fill="#0c0cb0"/><ellipse cx="614.2" cy="761.2" rx="3.2" ry="1.8" transform="rotate(176 614.2 761.2)" fill="#1a1aff"/><ellipse cx="527.5" cy="816.1" rx="3.2" ry="2.7" transform="rotate(134 527.5 816.1)" fill="#1a1aff"/><ellipse cx="635.8" cy="800.3" rx="2.9" ry="2.8" transform="rotate(150 635.8 800.3)" fill="#0c0cb0"/><ellipse cx="593.0" cy="812.2" rx="3.3" ry="2.0" transform="rotate(24 593.0 812.2)" fill="#3030ff"/><ellipse cx="526.6" cy="803.0" rx="2.7" ry="1.9" transform="rotate(89 526.6 803.0)" fill="#2020e0"/><ellipse cx="578.8" cy="767.5" rx="2.8" ry="2.6" transform="rotate(171 578.8 767.5)" fill="#1a1aff"/><ellipse cx="548.6" cy="827.7" rx="3.0" ry="1.8" transform="rotate(104 548.6 827.7)" fill="#2a2af0"/><ellipse cx="552.0" cy="769.5" rx="2.5" ry="1.5" transform="rotate(76 552.0 769.5)" fill="#1a1aff"/><ellipse cx="525.3" cy="886.1" rx="2.7" ry="2.0" transform="rotate(75 525.3 886.1)" fill="#2a2af0"/><ellipse cx="575.8" cy="790.0" rx="2.9" ry="2.5" transform="rotate(89 575.8 790.0)" fill="#1010c8"/><ellipse cx="613.0" cy="766.0" rx="3.4" ry="3.1" transform="rotate(151 613.0 766.0)" fill="#1a1aff"/><ellipse cx="583.6" cy="868.6" rx="3.1" ry="2.0" transform="rotate(66 583.6 868.6)" fill="#2020e0"/><ellipse cx="562.7" cy="826.3" rx="2.9" ry="2.4" transform="rotate(11 562.7 826.3)" fill="#1818d8"/><ellipse cx="537.5" cy="846.1" rx="2.4" ry="1.4" transform="rotate(34 537.5 846.1)" fill="#0c0cb0"/><ellipse cx="536.8" cy="857.6" rx="3.4" ry="2.6" transform="rotate(167 536.8 857.6)" fill="#3030ff"/><ellipse cx="534.5" cy="834.7" rx="2.5" ry="1.5" transform="rotate(179 534.5 834.7)" fill="#1010c8"/><ellipse cx="623.0" cy="796.9" rx="2.8" ry="2.4" transform="rotate(171 623.0 796.9)" fill="#1818d8"/><ellipse cx="562.6" cy="826.3" rx="3.4" ry="2.0" transform="rotate(143 562.6 826.3)" fill="#3030ff"/><ellipse cx="606.7" cy="836.4" rx="2.6" ry="2.3" transform="rotate(52 606.7 836.4)" fill="#1818d8"/><ellipse cx="552.9" cy="768.7" rx="3.2" ry="1.8" transform="rotate(92 552.9 768.7)" fill="#1818d8"/><ellipse cx="534.8" cy="868.4" rx="2.2" ry="1.9" transform="rotate(109 534.8 868.4)" fill="#2020e0"/><ellipse cx="638.2" cy="875.4" rx="2.6" ry="1.9" transform="rotate(89 638.2 875.4)" fill="#1010c8"/><ellipse cx="627.6" cy="799.4" rx="3.2" ry="2.9" transform="rotate(73 627.6 799.4)" fill="#1818d8"/><ellipse cx="639.4" cy="746.7" rx="2.1" ry="1.5" transform="rotate(175 639.4 746.7)" fill="#1010c8"/><ellipse cx="649.3" cy="751.2" rx="2.9" ry="1.6" transform="rotate(16 649.3 751.2)" fill="#1010c8"/><ellipse cx="563.1" cy="771.6" rx="2.8" ry="2.6" transform="rotate(162 563.1 771.6)" fill="#1818d8"/><ellipse cx="621.6" cy="847.9" rx="2.5" ry="1.8" transform="rotate(28 621.6 847.9)" fill="#0c0cb0"/><ellipse cx="525.8" cy="872.3" rx="2.1" ry="1.5" transform="rotate(74 525.8 872.3)" fill="#2a2af0"/><ellipse cx="590.7" cy="867.2" rx="2.9" ry="2.1" transform="rotate(169 590.7 867.2)" fill="#2020e0"/><ellipse cx="517.6" cy="846.0" rx="3.2" ry="2.8" transform="rotate(38 517.6 846.0)" fill="#1a1aff"/><ellipse cx="548.5" cy="830.0" rx="3.3" ry="2.8" transform="rotate(90 548.5 830.0)" fill="#3030ff"/><ellipse cx="576.3" cy="870.1" rx="2.5" ry="2.1" transform="rotate(4 576.3 870.1)" fill="#2a2af0"/><ellipse cx="546.9" cy="832.2" rx="3.2" ry="2.2" transform="rotate(112 546.9 832.2)" fill="#1818d8"/><ellipse cx="559.5" cy="871.4" rx="2.2" ry="1.7" transform="rotate(86 559.5 871.4)" fill="#1a1aff"/><ellipse cx="554.2" cy="819.3" rx="2.8" ry="2.4" transform="rotate(93 554.2 819.3)" fill="#2a2af0"/><ellipse cx="597.2" cy="816.4" rx="3.0" ry="2.3" transform="rotate(12 597.2 816.4)" fill="#0c0cb0"/><ellipse cx="584.2" cy="796.5" rx="3.0" ry="2.7" transform="rotate(142 584.2 796.5)" fill="#2020e0"/><ellipse cx="575.0" cy="883.1" rx="2.5" ry="1.7" transform="rotate(12 575.0 883.1)" fill="#0c0cb0"/><ellipse cx="558.6" cy="799.1" rx="2.1" ry="1.2" transform="rotate(118 558.6 799.1)" fill="#3030ff"/><ellipse cx="613.3" cy="834.3" rx="3.4" ry="2.4" transform="rotate(122 613.3 834.3)" fill="#0c0cb0"/><ellipse cx="638.6" cy="819.7" rx="2.4" ry="2.2" transform="rotate(98 638.6 819.7)" fill="#3030ff"/><ellipse cx="527.9" cy="778.1" rx="2.2" ry="1.5" transform="rotate(164 527.9 778.1)" fill="#1010c8"/><ellipse cx="608.8" cy="785.7" rx="2.7" ry="2.1" transform="rotate(75 608.8 785.7)" fill="#1818d8"/><ellipse cx="562.1" cy="797.1" rx="2.6" ry="1.6" transform="rotate(107 562.1 797.1)" fill="#2a2af0"/><ellipse cx="620.0" cy="822.7" rx="2.3" ry="1.9" transform="rotate(154 620.0 822.7)" fill="#0c0cb0"/><ellipse cx="627.3" cy="753.6" rx="2.6" ry="2.4" transform="rotate(147 627.3 753.6)" fill="#2020e0"/><ellipse cx="573.6" cy="768.1" rx="3.2" ry="2.7" transform="rotate(100 573.6 768.1)" fill="#0c0cb0"/><ellipse cx="536.3" cy="883.6" rx="2.3" ry="1.9" transform="rotate(66 536.3 883.6)" fill="#1818d8"/><ellipse cx="566.1" cy="761.6" rx="2.0" ry="1.8" transform="rotate(147 566.1 761.6)" fill="#2a2af0"/><ellipse cx="544.3" cy="870.9" rx="2.6" ry="2.3" transform="rotate(108 544.3 870.9)" fill="#2a2af0"/><ellipse cx="628.6" cy="853.5" rx="2.3" ry="1.7" transform="rotate(126 628.6 853.5)" fill="#3030ff"/><ellipse cx="550.8" cy="837.2" rx="2.0" ry="1.9" transform="rotate(34 550.8 837.2)" fill="#1a1aff"/><ellipse cx="554.8" cy="773.2" rx="3.3" ry="3.1" transform="rotate(53 554.8 773.2)" fill="#2020e0"/><ellipse cx="565.9" cy="886.8" rx="2.5" ry="1.6" transform="rotate(165 565.9 886.8)" fill="#1a1aff"/><ellipse cx="566.3" cy="804.7" rx="2.6" ry="2.2" transform="rotate(133 566.3 804.7)" fill="#2a2af0"/><ellipse cx="547.0" cy="866.9" rx="3.3" ry="1.9" transform="rotate(82 547.0 866.9)" fill="#2a2af0"/><ellipse cx="533.9" cy="886.8" rx="2.5" ry="2.1" transform="rotate(22 533.9 886.8)" fill="#1818d8"/><ellipse cx="644.6" cy="796.4" rx="3.1" ry="2.6" transform="rotate(138 644.6 796.4)" fill="#0c0cb0"/><ellipse cx="574.9" cy="843.5" rx="3.1" ry="2.9" transform="rotate(166 574.9 843.5)" fill="#1a1aff"/><ellipse cx="574.2" cy="763.8" rx="3.1" ry="2.4" transform="rotate(18 574.2 763.8)" fill="#3030ff"/><ellipse cx="642.4" cy="796.4" rx="2.8" ry="2.3" transform="rotate(126 642.4 796.4)" fill="#1010c8"/><ellipse cx="615.4" cy="775.9" rx="2.4" ry="1.6" transform="rotate(154 615.4 775.9)" fill="#2020e0"/><ellipse cx="534.5" cy="805.1" rx="3.3" ry="2.5" transform="rotate(54 534.5 805.1)" fill="#1818d8"/><ellipse cx="600.0" cy="837.2" rx="2.5" ry="2.1" transform="rotate(140 600.0 837.2)" fill="#1818d8"/><ellipse cx="565.9" cy="769.5" rx="3.3" ry="2.2" transform="rotate(143 565.9 769.5)" fill="#3030ff"/><ellipse cx="641.4" cy="839.4" rx="2.5" ry="2.2" transform="rotate(134 641.4 839.4)" fill="#2a2af0"/><ellipse cx="536.0" cy="871.5" rx="3.0" ry="2.5" transform="rotate(81 536.0 871.5)" fill="#0c0cb0"/><ellipse cx="561.9" cy="817.8" rx="3.2" ry="2.1" transform="rotate(60 561.9 817.8)" fill="#0c0cb0"/><ellipse cx="586.9" cy="801.1" rx="3.1" ry="2.6" transform="rotate(155 586.9 801.1)" fill="#1010c8"/><ellipse cx="573.9" cy="798.1" rx="3.0" ry="2.7" transform="rotate(98 573.9 798.1)" fill="#1818d8"/><ellipse cx="590.5" cy="855.0" rx="2.2" ry="1.6" transform="rotate(94 590.5 855.0)" fill="#1010c8"/><ellipse cx="522.1" cy="855.8" rx="2.9" ry="1.9" transform="rotate(152 522.1 855.8)" fill="#1818d8"/><ellipse cx="601.6" cy="808.1" rx="2.9" ry="1.8" transform="rotate(179 601.6 808.1)" fill="#1010c8"/><ellipse cx="591.0" cy="832.0" rx="3.1" ry="1.7" transform="rotate(158 591.0 832.0)" fill="#1818d8"/><ellipse cx="581.4" cy="829.4" rx="2.8" ry="1.8" transform="rotate(88 581.4 829.4)" fill="#0c0cb0"/><ellipse cx="574.5" cy="840.4" rx="3.2" ry="1.8" transform="rotate(28 574.5 840.4)" fill="#1a1aff"/><ellipse cx="532.4" cy="871.3" rx="3.0" ry="2.2" transform="rotate(112 532.4 871.3)" fill="#1010c8"/><ellipse cx="595.0" cy="802.1" rx="2.7" ry="2.2" transform="rotate(27 595.0 802.1)" fill="#0c0cb0"/><ellipse cx="541.9" cy="789.3" rx="2.3" ry="1.6" transform="rotate(175 541.9 789.3)" fill="#2a2af0"/><ellipse cx="648.2" cy="860.9" rx="2.1" ry="1.9" transform="rotate(161 648.2 860.9)" fill="#2020e0"/><ellipse cx="629.5" cy="841.6" rx="2.4" ry="2.0" transform="rotate(149 629.5 841.6)" fill="#2a2af0"/><ellipse cx="564.9" cy="820.2" rx="2.2" ry="1.7" transform="rotate(104 564.9 820.2)" fill="#2a2af0"/><ellipse cx="592.4" cy="760.4" rx="3.0" ry="2.6" transform="rotate(139 592.4 760.4)" fill="#2020e0"/><ellipse cx="623.0" cy="762.9" rx="3.1" ry="2.3" transform="rotate(50 623.0 762.9)" fill="#2020e0"/><ellipse cx="603.9" cy="864.2" rx="2.6" ry="1.9" transform="rotate(65 603.9 864.2)" fill="#1a1aff"/><ellipse cx="615.2" cy="773.4" rx="3.1" ry="2.5" transform="rotate(63 615.2 773.4)" fill="#1010c8"/><ellipse cx="646.1" cy="799.6" rx="3.3" ry="2.3" transform="rotate(110 646.1 799.6)" fill="#0c0cb0"/><ellipse cx="590.7" cy="757.5" rx="2.8" ry="2.5" transform="rotate(120 590.7 757.5)" fill="#2020e0"/><ellipse cx="594.8" cy="780.6" rx="2.7" ry="1.7" transform="rotate(67 594.8 780.6)" fill="#1a1aff"/><ellipse cx="650.7" cy="793.4" rx="2.5" ry="1.5" transform="rotate(128 650.7 793.4)" fill="#3030ff"/><ellipse cx="582.9" cy="797.2" rx="3.4" ry="2.4" transform="rotate(139 582.9 797.2)" fill="#0c0cb0"/><ellipse cx="549.9" cy="779.6" rx="2.5" ry="1.5" transform="rotate(86 549.9 779.6)" fill="#1a1aff"/><ellipse cx="554.5" cy="762.3" rx="2.4" ry="2.3" transform="rotate(160 554.5 762.3)" fill="#1010c8"/><ellipse cx="602.5" cy="817.3" rx="2.6" ry="1.9" transform="rotate(31 602.5 817.3)" fill="#1a1aff"/><ellipse cx="656.0" cy="828.7" rx="3.0" ry="2.4" transform="rotate(136 656.0 828.7)" fill="#1818d8"/><ellipse cx="611.7" cy="832.2" rx="2.4" ry="1.5" transform="rotate(158 611.7 832.2)" fill="#1818d8"/><ellipse cx="534.6" cy="820.2" rx="3.2" ry="2.0" transform="rotate(108 534.6 820.2)" fill="#2020e0"/><ellipse cx="618.9" cy="865.7" rx="2.5" ry="1.9" transform="rotate(39 618.9 865.7)" fill="#0c0cb0"/><ellipse cx="656.0" cy="838.9" rx="2.4" ry="2.1" transform="rotate(86 656.0 838.9)" fill="#1010c8"/><ellipse cx="607.0" cy="754.5" rx="2.3" ry="1.7" transform="rotate(166 607.0 754.5)" fill="#2a2af0"/><ellipse cx="630.8" cy="807.5" rx="2.6" ry="2.0" transform="rotate(23 630.8 807.5)" fill="#2020e0"/><ellipse cx="583.5" cy="809.5" rx="2.8" ry="2.1" transform="rotate(3 583.5 809.5)" fill="#1818d8"/><ellipse cx="519.5" cy="872.2" rx="3.3" ry="1.8" transform="rotate(149 519.5 872.2)" fill="#0c0cb0"/><ellipse cx="540.7" cy="828.2" rx="2.8" ry="2.5" transform="rotate(70 540.7 828.2)" fill="#3030ff"/><ellipse cx="522.7" cy="807.4" rx="3.2" ry="2.3" transform="rotate(81 522.7 807.4)" fill="#1010c8"/><ellipse cx="519.4" cy="786.7" rx="2.2" ry="1.5" transform="rotate(173 519.4 786.7)" fill="#1818d8"/><ellipse cx="589.0" cy="864.1" rx="3.2" ry="2.5" transform="rotate(30 589.0 864.1)" fill="#2a2af0"/><ellipse cx="623.9" cy="820.3" rx="2.2" ry="1.6" transform="rotate(13 623.9 820.3)" fill="#2a2af0"/><ellipse cx="563.7" cy="870.0" rx="2.0" ry="1.7" transform="rotate(28 563.7 870.0)" fill="#0c0cb0"/><ellipse cx="590.6" cy="872.8" rx="2.4" ry="1.6" transform="rotate(143 590.6 872.8)" fill="#1818d8"/><ellipse cx="640.9" cy="858.2" rx="3.4" ry="3.1" transform="rotate(117 640.9 858.2)" fill="#1010c8"/><ellipse cx="617.2" cy="834.8" rx="2.3" ry="1.4" transform="rotate(29 617.2 834.8)" fill="#1010c8"/><ellipse cx="584.5" cy="799.0" rx="2.5" ry="2.3" transform="rotate(116 584.5 799.0)" fill="#3030ff"/><ellipse cx="597.2" cy="846.8" rx="3.2" ry="2.4" transform="rotate(168 597.2 846.8)" fill="#0c0cb0"/><ellipse cx="540.3" cy="827.7" rx="2.1" ry="1.9" transform="rotate(52 540.3 827.7)" fill="#3030ff"/><ellipse cx="634.5" cy="858.0" rx="2.2" ry="2.0" transform="rotate(20 634.5 858.0)" fill="#0c0cb0"/><ellipse cx="553.0" cy="843.6" rx="2.1" ry="1.4" transform="rotate(105 553.0 843.6)" fill="#2020e0"/><ellipse cx="529.6" cy="759.7" rx="2.9" ry="2.8" transform="rotate(108 529.6 759.7)" fill="#1010c8"/><ellipse cx="545.5" cy="831.8" rx="2.2" ry="1.7" transform="rotate(153 545.5 831.8)" fill="#2a2af0"/><ellipse cx="536.8" cy="875.1" rx="3.2" ry="2.8" transform="rotate(57 536.8 875.1)" fill="#1010c8"/><ellipse cx="568.4" cy="813.4" rx="2.8" ry="1.7" transform="rotate(44 568.4 813.4)" fill="#1010c8"/><ellipse cx="536.1" cy="782.3" rx="3.3" ry="2.1" transform="rotate(13 536.1 782.3)" fill="#2a2af0"/><ellipse cx="586.1" cy="809.6" rx="3.2" ry="2.1" transform="rotate(144 586.1 809.6)" fill="#2020e0"/><ellipse cx="518.1" cy="808.0" rx="2.2" ry="1.9" transform="rotate(103 518.1 808.0)" fill="#1010c8"/><ellipse cx="597.3" cy="836.1" rx="2.2" ry="1.7" transform="rotate(106 597.3 836.1)" fill="#2020e0"/><ellipse cx="610.4" cy="776.5" rx="2.9" ry="2.0" transform="rotate(111 610.4 776.5)" fill="#1010c8"/><ellipse cx="594.2" cy="794.2" rx="2.3" ry="2.1" transform="rotate(60 594.2 794.2)" fill="#0c0cb0"/><ellipse cx="635.3" cy="780.6" rx="2.6" ry="1.8" transform="rotate(95 635.3 780.6)" fill="#1010c8"/><ellipse cx="516.6" cy="824.8" rx="2.1" ry="1.8" transform="rotate(33 516.6 824.8)" fill="#0c0cb0"/><ellipse cx="611.2" cy="778.9" rx="2.3" ry="1.8" transform="rotate(10 611.2 778.9)" fill="#3030ff"/><ellipse cx="596.5" cy="801.1" rx="3.3" ry="2.6" transform="rotate(128 596.5 801.1)" fill="#2020e0"/><ellipse cx="653.1" cy="802.9" rx="3.4" ry="1.9" transform="rotate(152 653.1 802.9)" fill="#2a2af0"/><ellipse cx="526.9" cy="776.5" rx="2.0" ry="1.8" transform="rotate(42 526.9 776.5)" fill="#3030ff"/><ellipse cx="626.3" cy="845.0" rx="2.4" ry="1.5" transform="rotate(70 626.3 845.0)" fill="#2a2af0"/><ellipse cx="525.5" cy="799.9" rx="3.1" ry="1.9" transform="rotate(77 525.5 799.9)" fill="#1818d8"/><ellipse cx="600.7" cy="775.5" rx="3.0" ry="1.9" transform="rotate(61 600.7 775.5)" fill="#1010c8"/><ellipse cx="552.9" cy="769.2" rx="2.4" ry="2.0" transform="rotate(170 552.9 769.2)" fill="#2020e0"/><ellipse cx="576.0" cy="882.6" rx="3.2" ry="2.6" transform="rotate(112 576.0 882.6)" fill="#1818d8"/><ellipse cx="598.0" cy="752.6" rx="2.8" ry="1.6" transform="rotate(118 598.0 752.6)" fill="#0c0cb0"/><ellipse cx="632.2" cy="801.9" rx="3.4" ry="2.3" transform="rotate(70 632.2 801.9)" fill="#0c0cb0"/><ellipse cx="597.6" cy="809.8" rx="2.3" ry="1.8" transform="rotate(61 597.6 809.8)" fill="#1a1aff"/><ellipse cx="524.3" cy="878.9" rx="2.4" ry="1.3" transform="rotate(100 524.3 878.9)" fill="#2a2af0"/><ellipse cx="542.8" cy="876.1" rx="3.1" ry="2.1" transform="rotate(119 542.8 876.1)" fill="#2020e0"/><ellipse cx="538.8" cy="815.1" rx="2.4" ry="1.4" transform="rotate(113 538.8 815.1)" fill="#3030ff"/><ellipse cx="550.5" cy="803.7" rx="3.0" ry="2.6" transform="rotate(54 550.5 803.7)" fill="#1818d8"/><ellipse cx="573.3" cy="787.2" rx="2.1" ry="1.9" transform="rotate(101 573.3 787.2)" fill="#1a1aff"/><ellipse cx="609.0" cy="885.4" rx="3.3" ry="2.2" transform="rotate(38 609.0 885.4)" fill="#0c0cb0"/><ellipse cx="657.3" cy="819.2" rx="2.2" ry="2.0" transform="rotate(100 657.3 819.2)" fill="#2020e0"/><ellipse cx="558.9" cy="782.7" rx="3.0" ry="2.5" transform="rotate(158 558.9 782.7)" fill="#1a1aff"/><ellipse cx="517.7" cy="875.1" rx="2.7" ry="1.5" transform="rotate(103 517.7 875.1)" fill="#2020e0"/><ellipse cx="623.7" cy="813.0" rx="3.2" ry="1.9" transform="rotate(117 623.7 813.0)" fill="#2a2af0"/><ellipse cx="654.5" cy="877.2" rx="2.8" ry="2.3" transform="rotate(46 654.5 877.2)" fill="#1010c8"/><ellipse cx="567.8" cy="872.9" rx="3.1" ry="2.5" transform="rotate(45 567.8 872.9)" fill="#1010c8"/><ellipse cx="544.1" cy="882.4" rx="2.9" ry="2.7" transform="rotate(98 544.1 882.4)" fill="#2020e0"/><ellipse cx="639.6" cy="796.3" rx="2.2" ry="1.7" transform="rotate(137 639.6 796.3)" fill="#2a2af0"/><ellipse cx="520.3" cy="843.2" rx="2.5" ry="2.2" transform="rotate(154 520.3 843.2)" fill="#1a1aff"/><ellipse cx="543.3" cy="847.7" rx="3.0" ry="1.9" transform="rotate(22 543.3 847.7)" fill="#1818d8"/><ellipse cx="639.2" cy="872.0" rx="2.1" ry="1.3" transform="rotate(50 639.2 872.0)" fill="#3030ff"/><ellipse cx="578.1" cy="811.9" rx="2.8" ry="1.9" transform="rotate(151 578.1 811.9)" fill="#1818d8"/><ellipse cx="652.7" cy="780.4" rx="2.6" ry="2.3" transform="rotate(118 652.7 780.4)" fill="#2020e0"/><ellipse cx="586.5" cy="822.3" rx="2.2" ry="1.7" transform="rotate(72 586.5 822.3)" fill="#1010c8"/><ellipse cx="535.2" cy="881.4" rx="2.1" ry="1.4" transform="rotate(61 535.2 881.4)" fill="#2a2af0"/><ellipse cx="540.6" cy="856.3" rx="3.0" ry="2.5" transform="rotate(8 540.6 856.3)" fill="#0c0cb0"/><ellipse cx="651.5" cy="850.7" rx="3.0" ry="1.7" transform="rotate(72 651.5 850.7)" fill="#0c0cb0"/><ellipse cx="537.3" cy="856.8" rx="3.3" ry="3.1" transform="rotate(138 537.3 856.8)" fill="#2020e0"/><ellipse cx="588.7" cy="773.4" rx="2.1" ry="1.4" transform="rotate(148 588.7 773.4)" fill="#1a1aff"/><ellipse cx="526.1" cy="802.5" rx="2.5" ry="1.9" transform="rotate(1 526.1 802.5)" fill="#1a1aff"/><ellipse cx="568.2" cy="886.0" rx="2.3" ry="1.7" transform="rotate(135 568.2 886.0)" fill="#2a2af0"/><ellipse cx="610.2" cy="880.8" rx="2.5" ry="1.5" transform="rotate(75 610.2 880.8)" fill="#1818d8"/><ellipse cx="576.0" cy="844.4" rx="3.4" ry="2.5" transform="rotate(38 576.0 844.4)" fill="#0c0cb0"/><ellipse cx="634.7" cy="851.8" rx="2.6" ry="1.7" transform="rotate(88 634.7 851.8)" fill="#1a1aff"/><ellipse cx="630.2" cy="883.1" rx="3.0" ry="2.2" transform="rotate(118 630.2 883.1)" fill="#1818d8"/><ellipse cx="535.6" cy="771.9" rx="3.4" ry="2.7" transform="rotate(22 535.6 771.9)" fill="#2a2af0"/><ellipse cx="580.2" cy="754.8" rx="3.1" ry="1.8" transform="rotate(71 580.2 754.8)" fill="#2a2af0"/><ellipse cx="527.0" cy="816.1" rx="2.6" ry="2.2" transform="rotate(116 527.0 816.1)" fill="#3030ff"/><ellipse cx="569.2" cy="835.8" rx="2.8" ry="2.2" transform="rotate(165 569.2 835.8)" fill="#1010c8"/><ellipse cx="535.5" cy="880.9" rx="2.4" ry="1.3" transform="rotate(82 535.5 880.9)" fill="#2a2af0"/><ellipse cx="652.6" cy="847.2" rx="2.0" ry="1.8" transform="rotate(80 652.6 847.2)" fill="#1818d8"/><ellipse cx="625.8" cy="882.0" rx="2.1" ry="1.9" transform="rotate(31 625.8 882.0)" fill="#2a2af0"/><ellipse cx="612.4" cy="853.7" rx="3.1" ry="2.0" transform="rotate(46 612.4 853.7)" fill="#2020e0"/><ellipse cx="642.7" cy="872.7" rx="2.3" ry="1.3" transform="rotate(35 642.7 872.7)" fill="#1a1aff"/><ellipse cx="522.2" cy="866.0" rx="2.7" ry="1.5" transform="rotate(97 522.2 866.0)" fill="#1a1aff"/><ellipse cx="584.5" cy="750.0" rx="3.3" ry="2.8" transform="rotate(137 584.5 750.0)" fill="#3030ff"/><ellipse cx="544.5" cy="758.6" rx="2.5" ry="1.6" transform="rotate(103 544.5 758.6)" fill="#1a1aff"/><ellipse cx="592.9" cy="830.1" rx="2.1" ry="1.2" transform="rotate(0 592.9 830.1)" fill="#1818d8"/><ellipse cx="544.3" cy="851.9" rx="2.1" ry="1.7" transform="rotate(25 544.3 851.9)" fill="#1a1aff"/><ellipse cx="540.9" cy="845.7" rx="3.1" ry="1.9" transform="rotate(164 540.9 845.7)" fill="#3030ff"/><ellipse cx="569.2" cy="838.2" rx="2.7" ry="2.5" transform="rotate(72 569.2 838.2)" fill="#1010c8"/><ellipse cx="583.1" cy="839.4" rx="2.7" ry="2.2" transform="rotate(130 583.1 839.4)" fill="#2a2af0"/><ellipse cx="518.5" cy="871.4" rx="2.3" ry="1.4" transform="rotate(117 518.5 871.4)" fill="#1010c8"/><ellipse cx="543.9" cy="801.3" rx="2.0" ry="1.7" transform="rotate(79 543.9 801.3)" fill="#1010c8"/><ellipse cx="575.7" cy="855.6" rx="3.2" ry="2.4" transform="rotate(93 575.7 855.6)" fill="#1a1aff"/><ellipse cx="625.6" cy="753.3" rx="3.0" ry="2.6" transform="rotate(99 625.6 753.3)" fill="#2020e0"/><ellipse cx="597.1" cy="851.5" rx="3.0" ry="2.2" transform="rotate(149 597.1 851.5)" fill="#2a2af0"/><ellipse cx="642.2" cy="857.7" rx="3.0" ry="2.6" transform="rotate(41 642.2 857.7)" fill="#2020e0"/><ellipse cx="631.1" cy="778.5" rx="2.1" ry="1.7" transform="rotate(129 631.1 778.5)" fill="#2020e0"/><ellipse cx="657.1" cy="757.5" rx="3.1" ry="2.1" transform="rotate(29 657.1 757.5)" fill="#0c0cb0"/><ellipse cx="567.9" cy="883.2" rx="2.4" ry="2.1" transform="rotate(121 567.9 883.2)" fill="#1010c8"/><ellipse cx="631.5" cy="761.4" rx="2.5" ry="1.8" transform="rotate(143 631.5 761.4)" fill="#3030ff"/><ellipse cx="638.0" cy="885.3" rx="2.9" ry="1.7" transform="rotate(20 638.0 885.3)" fill="#1010c8"/><ellipse cx="604.6" cy="810.6" rx="2.5" ry="1.8" transform="rotate(46 604.6 810.6)" fill="#2020e0"/><ellipse cx="539.3" cy="866.6" rx="3.4" ry="2.3" transform="rotate(31 539.3 866.6)" fill="#1a1aff"/><ellipse cx="552.7" cy="748.6" rx="3.3" ry="2.3" transform="rotate(33 552.7 748.6)" fill="#1a1aff"/><ellipse cx="617.4" cy="799.1" rx="2.8" ry="1.8" transform="rotate(99 617.4 799.1)" fill="#2a2af0"/><ellipse cx="527.8" cy="820.5" rx="3.0" ry="2.1" transform="rotate(34 527.8 820.5)" fill="#0c0cb0"/><ellipse cx="542.6" cy="870.0" rx="2.8" ry="2.6" transform="rotate(135 542.6 870.0)" fill="#1818d8"/><ellipse cx="647.0" cy="785.6" rx="3.3" ry="2.6" transform="rotate(10 647.0 785.6)" fill="#3030ff"/><ellipse cx="588.8" cy="878.3" rx="2.3" ry="1.9" transform="rotate(91 588.8 878.3)" fill="#2a2af0"/><ellipse cx="569.8" cy="763.0" rx="2.4" ry="1.5" transform="rotate(154 569.8 763.0)" fill="#2020e0"/><ellipse cx="651.3" cy="871.7" rx="2.7" ry="2.4" transform="rotate(105 651.3 871.7)" fill="#1010c8"/><ellipse cx="532.1" cy="804.0" rx="2.5" ry="1.8" transform="rotate(36 532.1 804.0)" fill="#1a1aff"/><ellipse cx="570.0" cy="855.9" rx="3.3" ry="2.2" transform="rotate(136 570.0 855.9)" fill="#1a1aff"/><ellipse cx="615.1" cy="820.2" rx="2.1" ry="1.8" transform="rotate(29 615.1 820.2)" fill="#2020e0"/><ellipse cx="642.4" cy="789.0" rx="3.3" ry="2.8" transform="rotate(172 642.4 789.0)" fill="#0c0cb0"/><ellipse cx="531.0" cy="880.2" rx="2.6" ry="2.5" transform="rotate(54 531.0 880.2)" fill="#1818d8"/><ellipse cx="528.5" cy="777.3" rx="3.1" ry="2.1" transform="rotate(30 528.5 777.3)" fill="#2020e0"/><ellipse cx="571.1" cy="868.0" rx="3.2" ry="2.5" transform="rotate(16 571.1 868.0)" fill="#2a2af0"/><ellipse cx="574.7" cy="771.7" rx="3.2" ry="3.0" transform="rotate(24 574.7 771.7)" fill="#0c0cb0"/><ellipse cx="543.8" cy="816.3" rx="2.7" ry="2.5" transform="rotate(156 543.8 816.3)" fill="#2020e0"/><ellipse cx="575.2" cy="809.2" rx="2.5" ry="2.2" transform="rotate(140 575.2 809.2)" fill="#0c0cb0"/><ellipse cx="580.2" cy="772.7" rx="3.2" ry="2.8" transform="rotate(54 580.2 772.7)" fill="#0c0cb0"/><ellipse cx="613.3" cy="763.1" rx="2.9" ry="1.6" transform="rotate(64 613.3 763.1)" fill="#2a2af0"/><ellipse cx="612.6" cy="767.6" rx="2.9" ry="1.6" transform="rotate(160 612.6 767.6)" fill="#0c0cb0"/><ellipse cx="570.2" cy="838.0" rx="2.7" ry="1.8" transform="rotate(163 570.2 838.0)" fill="#0c0cb0"/><ellipse cx="544.1" cy="858.3" rx="2.1" ry="1.6" transform="rotate(38 544.1 858.3)" fill="#3030ff"/><ellipse cx="616.7" cy="751.5" rx="2.0" ry="1.7" transform="rotate(155 616.7 751.5)" fill="#1a1aff"/><ellipse cx="614.1" cy="874.4" rx="3.3" ry="3.0" transform="rotate(9 614.1 874.4)" fill="#0c0cb0"/><ellipse cx="572.8" cy="852.5" rx="2.0" ry="1.3" transform="rotate(81 572.8 852.5)" fill="#1010c8"/><ellipse cx="530.0" cy="764.6" rx="2.6" ry="2.2" transform="rotate(30 530.0 764.6)" fill="#1818d8"/><ellipse cx="551.9" cy="839.9" rx="2.3" ry="2.0" transform="rotate(105 551.9 839.9)" fill="#2020e0"/><ellipse cx="606.3" cy="839.8" rx="2.9" ry="1.7" transform="rotate(35 606.3 839.8)" fill="#3030ff"/><ellipse cx="611.1" cy="878.1" rx="2.0" ry="1.6" transform="rotate(105 611.1 878.1)" fill="#3030ff"/><ellipse cx="593.0" cy="769.5" rx="3.4" ry="3.0" transform="rotate(129 593.0 769.5)" fill="#2020e0"/><ellipse cx="525.0" cy="829.3" rx="3.1" ry="2.1" transform="rotate(154 525.0 829.3)" fill="#1818d8"/><ellipse cx="598.1" cy="761.0" rx="2.5" ry="2.1" transform="rotate(174 598.1 761.0)" fill="#2a2af0"/><ellipse cx="521.3" cy="770.4" rx="2.4" ry="2.2" transform="rotate(117 521.3 770.4)" fill="#3030ff"/><ellipse cx="631.5" cy="827.6" rx="3.3" ry="2.0" transform="rotate(109 631.5 827.6)" fill="#1818d8"/><ellipse cx="644.9" cy="792.8" rx="2.5" ry="2.0" transform="rotate(66 644.9 792.8)" fill="#1a1aff"/><ellipse cx="586.5" cy="856.8" rx="2.7" ry="2.0" transform="rotate(32 586.5 856.8)" fill="#0c0cb0"/><ellipse cx="599.2" cy="845.5" rx="2.6" ry="1.7" transform="rotate(117 599.2 845.5)" fill="#1818d8"/><ellipse cx="570.0" cy="833.3" rx="2.1" ry="1.9" transform="rotate(155 570.0 833.3)" fill="#2020e0"/><ellipse cx="628.3" cy="850.3" rx="2.5" ry="1.5" transform="rotate(33 628.3 850.3)" fill="#1a1aff"/><ellipse cx="594.7" cy="766.4" rx="3.1" ry="2.1" transform="rotate(112 594.7 766.4)" fill="#2a2af0"/><ellipse cx="525.3" cy="820.4" rx="3.2" ry="1.8" transform="rotate(137 525.3 820.4)" fill="#2a2af0"/><ellipse cx="616.3" cy="854.5" rx="2.2" ry="1.3" transform="rotate(112 616.3 854.5)" fill="#2a2af0"/><ellipse cx="644.1" cy="781.0" rx="2.5" ry="2.4" transform="rotate(157 644.1 781.0)" fill="#3030ff"/><ellipse cx="614.6" cy="823.3" rx="2.9" ry="1.9" transform="rotate(23 614.6 823.3)" fill="#0c0cb0"/><ellipse cx="586.4" cy="859.2" rx="2.3" ry="1.5" transform="rotate(170 586.4 859.2)" fill="#3030ff"/><ellipse cx="527.8" cy="757.6" rx="2.5" ry="2.1" transform="rotate(61 527.8 757.6)" fill="#1a1aff"/><ellipse cx="558.5" cy="835.7" rx="2.5" ry="1.9" transform="rotate(114 558.5 835.7)" fill="#1010c8"/><ellipse cx="542.6" cy="760.8" rx="2.9" ry="2.2" transform="rotate(40 542.6 760.8)" fill="#1010c8"/><ellipse cx="633.7" cy="832.0" rx="3.1" ry="1.9" transform="rotate(28 633.7 832.0)" fill="#1010c8"/><ellipse cx="604.4" cy="784.7" rx="3.1" ry="2.8" transform="rotate(137 604.4 784.7)" fill="#2a2af0"/><ellipse cx="580.1" cy="830.1" rx="2.8" ry="1.8" transform="rotate(34 580.1 830.1)" fill="#1010c8"/><ellipse cx="609.6" cy="787.5" rx="3.1" ry="1.9" transform="rotate(2 609.6 787.5)" fill="#1010c8"/><ellipse cx="542.8" cy="753.6" rx="3.2" ry="2.7" transform="rotate(42 542.8 753.6)" fill="#1010c8"/><ellipse cx="616.0" cy="761.6" rx="2.9" ry="2.8" transform="rotate(110 616.0 761.6)" fill="#3030ff"/><ellipse cx="655.0" cy="851.8" rx="2.9" ry="2.6" transform="rotate(93 655.0 851.8)" fill="#3030ff"/><ellipse cx="553.9" cy="823.8" rx="2.1" ry="1.6" transform="rotate(169 553.9 823.8)" fill="#1818d8"/><ellipse cx="584.6" cy="797.3" rx="2.4" ry="1.6" transform="rotate(57 584.6 797.3)" fill="#3030ff"/><ellipse cx="635.5" cy="784.8" rx="2.1" ry="2.0" transform="rotate(12 635.5 784.8)" fill="#1a1aff"/><ellipse cx="622.5" cy="846.9" rx="3.1" ry="2.2" transform="rotate(176 622.5 846.9)" fill="#1818d8"/><ellipse cx="559.1" cy="803.4" rx="3.0" ry="1.9" transform="rotate(84 559.1 803.4)" fill="#1818d8"/><ellipse cx="561.2" cy="750.7" rx="3.1" ry="2.0" transform="rotate(58 561.2 750.7)" fill="#2020e0"/><ellipse cx="630.8" cy="800.2" rx="3.2" ry="2.9" transform="rotate(48 630.8 800.2)" fill="#3030ff"/><ellipse cx="523.5" cy="803.7" rx="3.2" ry="2.4" transform="rotate(139 523.5 803.7)" fill="#1010c8"/><ellipse cx="654.3" cy="795.3" rx="3.1" ry="2.3" transform="rotate(157 654.3 795.3)" fill="#1010c8"/><ellipse cx="526.4" cy="883.6" rx="3.3" ry="1.9" transform="rotate(22 526.4 883.6)" fill="#2020e0"/><ellipse cx="594.6" cy="825.3" rx="2.8" ry="2.5" transform="rotate(60 594.6 825.3)" fill="#1010c8"/><ellipse cx="617.3" cy="859.5" rx="3.2" ry="2.0" transform="rotate(145 617.3 859.5)" fill="#3030ff"/><ellipse cx="657.3" cy="819.9" rx="2.6" ry="1.7" transform="rotate(129 657.3 819.9)" fill="#0c0cb0"/><ellipse cx="562.0" cy="867.0" rx="2.9" ry="1.7" transform="rotate(143 562.0 867.0)" fill="#2a2af0"/><ellipse cx="632.7" cy="776.0" rx="3.3" ry="2.2" transform="rotate(146 632.7 776.0)" fill="#3030ff"/><ellipse cx="613.8" cy="853.3" rx="2.8" ry="1.9" transform="rotate(122 613.8 853.3)" fill="#2020e0"/><ellipse cx="643.5" cy="806.1" rx="2.0" ry="1.8" transform="rotate(5 643.5 806.1)" fill="#1010c8"/><ellipse cx="532.7" cy="840.7" rx="2.5" ry="1.7" transform="rotate(128 532.7 840.7)" fill="#2020e0"/><ellipse cx="596.9" cy="872.3" rx="3.0" ry="1.7" transform="rotate(48 596.9 872.3)" fill="#3030ff"/><ellipse cx="638.5" cy="870.1" rx="3.0" ry="2.6" transform="rotate(145 638.5 870.1)" fill="#1818d8"/><ellipse cx="550.8" cy="865.0" rx="2.5" ry="1.8" transform="rotate(155 550.8 865.0)" fill="#1a1aff"/><ellipse cx="655.2" cy="767.4" rx="2.8" ry="1.8" transform="rotate(86 655.2 767.4)" fill="#3030ff"/><ellipse cx="550.7" cy="800.3" rx="3.0" ry="2.4" transform="rotate(36 550.7 800.3)" fill="#1a1aff"/><ellipse cx="552.8" cy="871.6" rx="2.5" ry="2.4" transform="rotate(45 552.8 871.6)" fill="#1a1aff"/><ellipse cx="598.0" cy="860.4" rx="3.3" ry="3.1" transform="rotate(46 598.0 860.4)" fill="#1818d8"/><ellipse cx="579.6" cy="747.3" rx="2.5" ry="1.8" transform="rotate(163 579.6 747.3)" fill="#1a1aff"/><ellipse cx="608.8" cy="801.3" rx="2.4" ry="1.7" transform="rotate(139 608.8 801.3)" fill="#1818d8"/><ellipse cx="550.7" cy="831.7" rx="2.9" ry="2.5" transform="rotate(132 550.7 831.7)" fill="#1010c8"/><ellipse cx="629.3" cy="842.8" rx="2.3" ry="2.2" transform="rotate(0 629.3 842.8)" fill="#3030ff"/><ellipse cx="523.7" cy="873.4" rx="2.3" ry="2.0" transform="rotate(94 523.7 873.4)" fill="#2020e0"/><ellipse cx="647.8" cy="802.3" rx="2.6" ry="1.6" transform="rotate(37 647.8 802.3)" fill="#2020e0"/><ellipse cx="522.4" cy="856.5" rx="2.8" ry="2.6" transform="rotate(22 522.4 856.5)" fill="#3030ff"/><ellipse cx="601.8" cy="870.4" rx="2.8" ry="1.6" transform="rotate(114 601.8 870.4)" fill="#2020e0"/><ellipse cx="601.3" cy="870.8" rx="3.1" ry="1.9" transform="rotate(97 601.3 870.8)" fill="#1818d8"/><ellipse cx="566.4" cy="868.5" rx="2.7" ry="2.4" transform="rotate(76 566.4 868.5)" fill="#1a1aff"/><ellipse cx="586.0" cy="800.3" rx="2.1" ry="1.2" transform="rotate(110 586.0 800.3)" fill="#0c0cb0"/><ellipse cx="534.7" cy="835.3" rx="2.7" ry="2.3" transform="rotate(51 534.7 835.3)" fill="#1a1aff"/><ellipse cx="637.9" cy="865.5" rx="2.5" ry="1.4" transform="rotate(102 637.9 865.5)" fill="#1a1aff"/><ellipse cx="547.8" cy="848.0" rx="2.5" ry="2.3" transform="rotate(124 547.8 848.0)" fill="#0c0cb0"/><ellipse cx="625.4" cy="822.0" rx="2.1" ry="1.4" transform="rotate(139 625.4 822.0)" fill="#1818d8"/><ellipse cx="566.2" cy="855.0" rx="3.3" ry="2.6" transform="rotate(90 566.2 855.0)" fill="#2020e0"/><ellipse cx="529.0" cy="792.5" rx="2.2" ry="1.4" transform="rotate(158 529.0 792.5)" fill="#1010c8"/><ellipse cx="517.7" cy="761.7" rx="3.0" ry="1.8" transform="rotate(171 517.7 761.7)" fill="#1010c8"/><ellipse cx="649.3" cy="840.3" rx="2.5" ry="1.8" transform="rotate(9 649.3 840.3)" fill="#3030ff"/><ellipse cx="574.9" cy="858.3" rx="2.0" ry="1.3" transform="rotate(102 574.9 858.3)" fill="#2a2af0"/><ellipse cx="528.3" cy="810.5" rx="2.1" ry="1.4" transform="rotate(148 528.3 810.5)" fill="#3030ff"/><ellipse cx="530.0" cy="862.3" rx="2.8" ry="1.7" transform="rotate(20 530.0 862.3)" fill="#2020e0"/><ellipse cx="583.4" cy="832.9" rx="2.1" ry="1.4" transform="rotate(49 583.4 832.9)" fill="#2020e0"/><ellipse cx="592.9" cy="824.8" rx="3.3" ry="1.9" transform="rotate(145 592.9 824.8)" fill="#1818d8"/><ellipse cx="551.7" cy="810.3" rx="2.1" ry="1.7" transform="rotate(132 551.7 810.3)" fill="#1818d8"/><ellipse cx="574.1" cy="825.6" rx="2.6" ry="1.9" transform="rotate(37 574.1 825.6)" fill="#1a1aff"/><ellipse cx="542.2" cy="808.9" rx="2.4" ry="2.2" transform="rotate(70 542.2 808.9)" fill="#2a2af0"/><ellipse cx="560.5" cy="852.8" rx="2.3" ry="2.0" transform="rotate(24 560.5 852.8)" fill="#2a2af0"/><ellipse cx="646.5" cy="786.4" rx="2.0" ry="1.8" transform="rotate(3 646.5 786.4)" fill="#1a1aff"/><ellipse cx="600.6" cy="812.8" rx="2.3" ry="1.7" transform="rotate(15 600.6 812.8)" fill="#1818d8"/><ellipse cx="536.3" cy="820.7" rx="2.4" ry="1.4" transform="rotate(10 536.3 820.7)" fill="#1a1aff"/><ellipse cx="616.1" cy="824.8" rx="2.3" ry="2.0" transform="rotate(138 616.1 824.8)" fill="#1010c8"/><ellipse cx="516.9" cy="873.5" rx="3.2" ry="2.1" transform="rotate(106 516.9 873.5)" fill="#1010c8"/><ellipse cx="517.5" cy="833.2" rx="2.4" ry="2.0" transform="rotate(22 517.5 833.2)" fill="#3030ff"/><ellipse cx="540.6" cy="833.6" rx="2.3" ry="1.6" transform="rotate(6 540.6 833.6)" fill="#1010c8"/><ellipse cx="642.7" cy="800.7" rx="3.0" ry="2.4" transform="rotate(128 642.7 800.7)" fill="#0c0cb0"/><ellipse cx="559.9" cy="825.9" rx="2.6" ry="1.7" transform="rotate(123 559.9 825.9)" fill="#2a2af0"/><ellipse cx="635.7" cy="862.7" rx="2.6" ry="2.0" transform="rotate(140 635.7 862.7)" fill="#3030ff"/><ellipse cx="560.3" cy="826.7" rx="2.0" ry="1.6" transform="rotate(13 560.3 826.7)" fill="#1a1aff"/><ellipse cx="555.9" cy="775.8" rx="2.6" ry="1.5" transform="rotate(148 555.9 775.8)" fill="#1010c8"/><ellipse cx="623.7" cy="767.3" rx="3.1" ry="2.9" transform="rotate(37 623.7 767.3)" fill="#1818d8"/><ellipse cx="524.9" cy="846.8" rx="3.1" ry="2.9" transform="rotate(22 524.9 846.8)" fill="#1010c8"/><ellipse cx="582.0" cy="814.3" rx="2.2" ry="1.6" transform="rotate(42 582.0 814.3)" fill="#3030ff"/><ellipse cx="553.2" cy="764.8" rx="3.2" ry="2.0" transform="rotate(45 553.2 764.8)" fill="#0c0cb0"/><ellipse cx="545.4" cy="766.7" rx="3.0" ry="2.4" transform="rotate(121 545.4 766.7)" fill="#3030ff"/><ellipse cx="571.7" cy="756.3" rx="3.3" ry="2.2" transform="rotate(129 571.7 756.3)" fill="#1818d8"/><ellipse cx="657.1" cy="789.8" rx="2.8" ry="2.0" transform="rotate(5 657.1 789.8)" fill="#1818d8"/><ellipse cx="624.6" cy="755.2" rx="2.8" ry="2.3" transform="rotate(1 624.6 755.2)" fill="#1a1aff"/><ellipse cx="603.6" cy="878.0" rx="2.4" ry="1.7" transform="rotate(32 603.6 878.0)" fill="#2a2af0"/><ellipse cx="599.2" cy="866.1" rx="3.2" ry="3.0" transform="rotate(67 599.2 866.1)" fill="#3030ff"/><ellipse cx="525.5" cy="798.6" rx="2.5" ry="1.6" transform="rotate(179 525.5 798.6)" fill="#2a2af0"/><ellipse cx="655.7" cy="799.7" rx="2.9" ry="2.4" transform="rotate(27 655.7 799.7)" fill="#1010c8"/><ellipse cx="557.6" cy="866.1" rx="3.3" ry="2.5" transform="rotate(171 557.6 866.1)" fill="#0c0cb0"/><ellipse cx="596.7" cy="793.4" rx="2.1" ry="1.6" transform="rotate(71 596.7 793.4)" fill="#2020e0"/><ellipse cx="654.5" cy="779.6" rx="2.5" ry="1.4" transform="rotate(102 654.5 779.6)" fill="#2020e0"/><ellipse cx="541.4" cy="826.4" rx="2.1" ry="1.6" transform="rotate(64 541.4 826.4)" fill="#0c0cb0"/><ellipse cx="650.7" cy="754.3" rx="2.4" ry="2.1" transform="rotate(79 650.7 754.3)" fill="#1010c8"/><ellipse cx="620.8" cy="878.2" rx="2.6" ry="2.1" transform="rotate(32 620.8 878.2)" fill="#2020e0"/><ellipse cx="587.1" cy="827.7" rx="2.8" ry="1.9" transform="rotate(100 587.1 827.7)" fill="#3030ff"/><ellipse cx="558.0" cy="872.6" rx="2.1" ry="1.3" transform="rotate(26 558.0 872.6)" fill="#2020e0"/><ellipse cx="653.7" cy="819.9" rx="3.3" ry="2.8" transform="rotate(101 653.7 819.9)" fill="#1a1aff"/><ellipse cx="649.8" cy="782.4" rx="3.2" ry="2.7" transform="rotate(119 649.8 782.4)" fill="#0c0cb0"/><ellipse cx="532.6" cy="834.9" rx="2.5" ry="2.3" transform="rotate(152 532.6 834.9)" fill="#1010c8"/><ellipse cx="520.5" cy="795.0" rx="3.3" ry="2.3" transform="rotate(145 520.5 795.0)" fill="#1010c8"/><ellipse cx="574.2" cy="751.1" rx="2.2" ry="1.9" transform="rotate(97 574.2 751.1)" fill="#2020e0"/><ellipse cx="517.2" cy="811.4" rx="2.4" ry="1.8" transform="rotate(93 517.2 811.4)" fill="#2a2af0"/><ellipse cx="652.1" cy="882.3" rx="2.2" ry="1.6" transform="rotate(149 652.1 882.3)" fill="#3030ff"/><ellipse cx="641.9" cy="766.0" rx="2.6" ry="2.3" transform="rotate(152 641.9 766.0)" fill="#2020e0"/><ellipse cx="589.8" cy="774.9" rx="3.3" ry="2.4" transform="rotate(59 589.8 774.9)" fill="#0c0cb0"/><ellipse cx="548.0" cy="823.4" rx="3.0" ry="2.1" transform="rotate(122 548.0 823.4)" fill="#1010c8"/><ellipse cx="585.8" cy="870.3" rx="2.9" ry="1.8" transform="rotate(137 585.8 870.3)" fill="#f02050"/><ellipse cx="657.2" cy="780.8" rx="2.2" ry="1.9" transform="rotate(96 657.2 780.8)" fill="#ff3878"/><ellipse cx="532.4" cy="756.2" rx="2.2" ry="1.9" transform="rotate(148 532.4 756.2)" fill="#ff3878"/><ellipse cx="581.5" cy="870.3" rx="2.1" ry="1.3" transform="rotate(79 581.5 870.3)" fill="#ff3878"/><ellipse cx="533.0" cy="864.5" rx="2.0" ry="1.7" transform="rotate(79 533.0 864.5)" fill="#ff2858"/><ellipse cx="580.1" cy="753.5" rx="2.6" ry="2.2" transform="rotate(27 580.1 753.5)" fill="#f02050"/><ellipse cx="616.2" cy="822.8" rx="2.1" ry="1.2" transform="rotate(50 616.2 822.8)" fill="#ff4898"/><ellipse cx="522.7" cy="773.5" rx="2.4" ry="1.3" transform="rotate(74 522.7 773.5)" fill="#ff4898"/><ellipse cx="635.4" cy="758.6" rx="3.1" ry="2.0" transform="rotate(71 635.4 758.6)" fill="#f02050"/><ellipse cx="633.1" cy="763.2" rx="1.8" ry="1.3" transform="rotate(46 633.1 763.2)" fill="#ff4898"/><ellipse cx="619.2" cy="833.1" rx="2.0" ry="1.3" transform="rotate(178 619.2 833.1)" fill="#ff2858"/><ellipse cx="569.8" cy="758.0" rx="2.0" ry="1.2" transform="rotate(40 569.8 758.0)" fill="#ff4898"/><ellipse cx="565.3" cy="860.1" rx="2.1" ry="1.4" transform="rotate(104 565.3 860.1)" fill="#ff4898"/><ellipse cx="542.1" cy="753.3" rx="2.1" ry="1.4" transform="rotate(132 542.1 753.3)" fill="#ff4898"/><ellipse cx="600.6" cy="867.6" rx="2.0" ry="1.5" transform="rotate(176 600.6 867.6)" fill="#ff2858"/><ellipse cx="593.7" cy="793.8" rx="2.1" ry="2.0" transform="rotate(79 593.7 793.8)" fill="#ff3878"/><ellipse cx="646.7" cy="748.9" rx="3.2" ry="3.0" transform="rotate(169 646.7 748.9)" fill="#ff3878"/><ellipse cx="636.2" cy="875.2" rx="2.6" ry="1.7" transform="rotate(123 636.2 875.2)" fill="#ff2858"/><ellipse cx="583.6" cy="868.3" rx="1.8" ry="1.4" transform="rotate(103 583.6 868.3)" fill="#ff4898"/><ellipse cx="654.1" cy="782.7" rx="3.0" ry="2.6" transform="rotate(76 654.1 782.7)" fill="#ff2858"/><ellipse cx="622.8" cy="781.9" rx="2.7" ry="2.1" transform="rotate(163 622.8 781.9)" fill="#ff2858"/><ellipse cx="612.6" cy="825.4" rx="2.6" ry="2.2" transform="rotate(6 612.6 825.4)" fill="#ff3878"/><ellipse cx="582.5" cy="834.0" rx="2.3" ry="1.5" transform="rotate(51 582.5 834.0)" fill="#ffffff"/><ellipse cx="595.2" cy="830.9" rx="1.7" ry="1.1" transform="rotate(138 595.2 830.9)" fill="#e8eeff"/><ellipse cx="649.3" cy="856.6" rx="2.0" ry="1.3" transform="rotate(112 649.3 856.6)" fill="#f4f4ff"/><ellipse cx="609.7" cy="824.9" rx="1.4" ry="0.8" transform="rotate(143 609.7 824.9)" fill="#ffffff"/><ellipse cx="636.7" cy="844.6" rx="1.8" ry="1.2" transform="rotate(93 636.7 844.6)" fill="#f4f4ff"/><ellipse cx="630.5" cy="794.1" rx="2.3" ry="1.9" transform="rotate(107 630.5 794.1)" fill="#e8eeff"/><ellipse cx="593.9" cy="821.5" rx="2.4" ry="1.6" transform="rotate(139 593.9 821.5)" fill="#ffffff"/><ellipse cx="608.9" cy="832.8" rx="1.8" ry="1.5" transform="rotate(135 608.9 832.8)" fill="#e8eeff"/><ellipse cx="606.6" cy="791.1" rx="2.4" ry="1.6" transform="rotate(143 606.6 791.1)" fill="#ffffff"/><ellipse cx="613.6" cy="838.5" rx="2.0" ry="1.7" transform="rotate(109 613.6 838.5)" fill="#f4f4ff"/><ellipse cx="583.4" cy="801.5" rx="2.3" ry="1.7" transform="rotate(24 583.4 801.5)" fill="#ffffff"/><ellipse cx="548.1" cy="797.5" rx="2.7" ry="2.5" transform="rotate(71 548.1 797.5)" fill="#ffffff"/><ellipse cx="594.5" cy="824.8" rx="1.4" ry="1.2" transform="rotate(9 594.5 824.8)" fill="#e8eeff"/><ellipse cx="621.1" cy="830.5" rx="2.2" ry="1.7" transform="rotate(164 621.1 830.5)" fill="#f4f4ff"/><ellipse cx="590.1" cy="806.9" rx="2.0" ry="1.4" transform="rotate(127 590.1 806.9)" fill="#f4f4ff"/><ellipse cx="626.4" cy="855.6" rx="1.9" ry="1.4" transform="rotate(98 626.4 855.6)" fill="#e8eeff"/><ellipse cx="623.0" cy="810.9" rx="2.2" ry="1.7" transform="rotate(104 623.0 810.9)" fill="#e8eeff"/><ellipse cx="604.0" cy="807.3" rx="2.8" ry="1.8" transform="rotate(3 604.0 807.3)" fill="#f4f4ff"/><ellipse cx="637.3" cy="848.9" rx="1.6" ry="1.0" transform="rotate(103 637.3 848.9)" fill="#e8eeff"/><ellipse cx="636.3" cy="793.7" rx="1.8" ry="1.1" transform="rotate(70 636.3 793.7)" fill="#e8eeff"/><ellipse cx="626.4" cy="858.3" rx="1.5" ry="1.0" transform="rotate(111 626.4 858.3)" fill="#ffffff"/><ellipse cx="615.0" cy="791.7" rx="2.0" ry="1.8" transform="rotate(1 615.0 791.7)" fill="#ffffff"/><ellipse cx="574.9" cy="807.2" rx="2.4" ry="1.5" transform="rotate(100 574.9 807.2)" fill="#e8eeff"/><ellipse cx="617.6" cy="822.9" rx="2.1" ry="1.3" transform="rotate(49 617.6 822.9)" fill="#f4f4ff"/><ellipse cx="599.0" cy="861.7" rx="1.6" ry="1.2" transform="rotate(132 599.0 861.7)" fill="#ffffff"/><ellipse cx="586.1" cy="825.9" rx="2.6" ry="1.9" transform="rotate(96 586.1 825.9)" fill="#ffffff"/><ellipse cx="570.1" cy="836.8" rx="2.1" ry="1.8" transform="rotate(102 570.1 836.8)" fill="#f4f4ff"/><ellipse cx="649.2" cy="871.2" rx="2.7" ry="1.9" transform="rotate(158 649.2 871.2)" fill="#e8eeff"/><ellipse cx="608.7" cy="810.1" rx="1.9" ry="1.6" transform="rotate(39 608.7 810.1)" fill="#f4f4ff"/><ellipse cx="601.2" cy="866.9" rx="2.4" ry="1.4" transform="rotate(161 601.2 866.9)" fill="#ffffff"/><ellipse cx="648.7" cy="813.5" rx="2.3" ry="1.5" transform="rotate(81 648.7 813.5)" fill="#ffffff"/><ellipse cx="645.5" cy="819.5" rx="1.2" ry="0.8" transform="rotate(178 645.5 819.5)" fill="#f4f4ff"/><ellipse cx="621.6" cy="789.7" rx="2.4" ry="1.9" transform="rotate(92 621.6 789.7)" fill="#f4f4ff"/><ellipse cx="626.6" cy="813.0" rx="2.6" ry="1.4" transform="rotate(109 626.6 813.0)" fill="#f4f4ff"/><ellipse cx="627.5" cy="851.0" rx="1.5" ry="1.2" transform="rotate(173 627.5 851.0)" fill="#e8eeff"/><ellipse cx="588.0" cy="831.8" rx="1.6" ry="1.1" transform="rotate(112 588.0 831.8)" fill="#f4f4ff"/><ellipse cx="620.4" cy="852.1" rx="1.3" ry="1.2" transform="rotate(123 620.4 852.1)" fill="#e8eeff"/><ellipse cx="612.5" cy="862.3" rx="2.5" ry="2.3" transform="rotate(128 612.5 862.3)" fill="#ffffff"/><ellipse cx="570.2" cy="875.5" rx="1.6" ry="1.1" transform="rotate(70 570.2 875.5)" fill="#ffffff"/><ellipse cx="517.6" cy="863.3" rx="2.5" ry="1.7" transform="rotate(25 517.6 863.3)" fill="#f4f4ff"/><ellipse cx="594.4" cy="884.7" rx="1.2" ry="0.9" transform="rotate(20 594.4 884.7)" fill="#f4f4ff"/><ellipse cx="567.9" cy="869.6" rx="2.6" ry="1.6" transform="rotate(49 567.9 869.6)" fill="#ffffff"/><ellipse cx="612.6" cy="869.8" rx="2.6" ry="2.4" transform="rotate(126 612.6 869.8)" fill="#e8eeff"/><ellipse cx="616.4" cy="879.3" rx="2.7" ry="2.4" transform="rotate(108 616.4 879.3)" fill="#e8eeff"/><ellipse cx="520.9" cy="822.2" rx="2.5" ry="2.3" transform="rotate(151 520.9 822.2)" fill="#ffffff"/><ellipse cx="634.2" cy="874.0" rx="2.5" ry="1.4" transform="rotate(65 634.2 874.0)" fill="#f4f4ff"/><ellipse cx="616.6" cy="823.2" rx="1.5" ry="0.9" transform="rotate(178 616.6 823.2)" fill="#e8eeff"/><ellipse cx="611.6" cy="831.6" rx="1.9" ry="1.1" transform="rotate(80 611.6 831.6)" fill="#f4f4ff"/></g><path d="M519.2,795.5 C520.77,796.02 524.93,797.2 528.6,798.6 C532.27,800 536.98,804.07 541.2,803.9 C545.42,803.73 549.87,799.7 553.9,797.6 C557.93,795.5 562.25,791.65 565.4,791.3 C568.55,790.95 569.82,793.05 572.8,795.5 C575.78,797.95 579.1,805.13 583.3,806 C587.5,806.87 593.43,802.45 598,800.7 C602.57,798.95 606.48,796.65 610.7,795.5 C614.92,794.35 619.45,794.85 623.3,793.8 C627.15,792.75 628.55,789.2 633.8,789.2 C639.05,789.2 650.77,793 654.8,793.8 C658.83,794.6 657.47,793.97 658,794" fill="none" stroke="#f4f4f4" stroke-width="1.6" stroke-dasharray="3.4 2.2"/></g>
<line x1="162.1" y1="878.3" x2="193.7" y2="878.3" stroke="#fff" stroke-width="1.4"/>
<line x1="303" y1="878.3" x2="335.6" y2="878.3" stroke="#fff" stroke-width="1.4"/>
<line x1="473.9" y1="878.3" x2="506.5" y2="878.3" stroke="#fff" stroke-width="1.4"/>
<line x1="617" y1="878.3" x2="648.5" y2="878.3" stroke="#fff" stroke-width="1.4"/>
<text x="114.9" y="739.3" font-size="12" font-style="italic" fill="#1a1a1a" stroke="#1a1a1a" stroke-width="0.25">Nfkbiz<tspan dx="2.5" dy="-4.2" font-size="8">+/−</tspan></text>
<text x="255.9" y="739.3" font-size="12" font-style="italic" fill="#1a1a1a" stroke="#1a1a1a" stroke-width="0.25">Nfkbiz<tspan dx="2.5" dy="-4.2" font-size="8">−/−</tspan></text>
<text x="422.9" y="739.3" font-size="12" font-style="italic" fill="#1a1a1a" stroke="#1a1a1a" stroke-width="0.25">Nfkbiz<tspan dx="2.5" dy="-4.2" font-size="8">+/−</tspan></text>
<text x="564.7" y="739.3" font-size="12" font-style="italic" fill="#1a1a1a" stroke="#1a1a1a" stroke-width="0.25">Nfkbiz<tspan dx="2.5" dy="-4.2" font-size="8">−/−</tspan></text>
</svg>
</body></html>
